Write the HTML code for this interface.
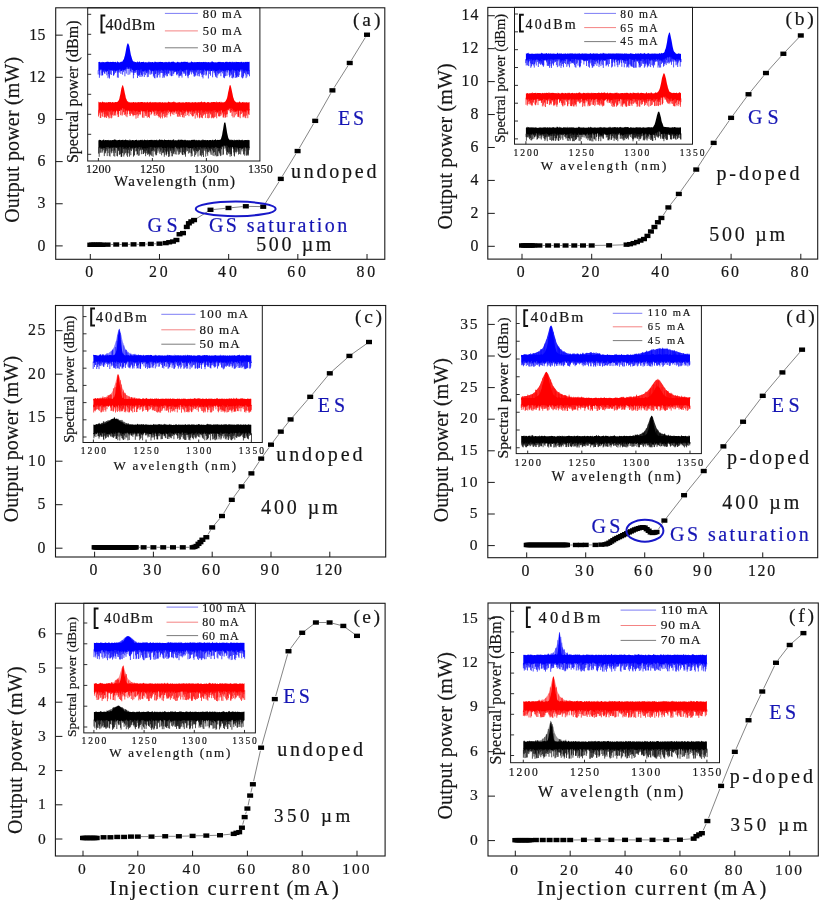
<!DOCTYPE html>
<html><head><meta charset="utf-8"><style>
html,body{margin:0;padding:0;background:#fff;}
svg{display:block;filter:blur(0.35px);}
text{font-family:'Liberation Serif', serif;}
</style></head><body>
<svg width="824" height="904" viewBox="0 0 824 904">
<rect width="824" height="904" fill="#fff"/>
<path d="M98.4 62.1 98.9 62.1 99.4 61.8 99.9 62 100.4 62.3 100.9 62.5 101.4 62.2 101.9 61.9 102.4 61.7 102.9 62.4 103.4 62.1 103.9 61.9 104.4 62.4 104.9 61.9 105.4 62.3 105.9 62 106.4 61.7 106.9 62.1 107.4 61.8 107.9 61.6 108.4 62.1 108.9 61.7 109.4 62.1 109.9 62.3 110.4 61.8 110.9 61.9 111.4 61.9 111.9 62 112.4 61.8 112.9 61.9 113.4 61.8 113.9 61.9 114.4 62.1 114.9 62.2 115.4 61.8 115.9 61.9 116.4 62.5 116.9 62.4 117.4 60.8 117.9 62.3 118.4 62.2 118.9 62 119.4 62.4 119.9 62.4 120.4 61.9 120.9 61.8 121.4 61.6 121.9 62.1 122.4 61.5 122.9 60.5 123.4 59.8 123.9 59 124.4 56.9 124.9 55.4 125.4 52.9 125.9 50.2 126.4 47.4 126.9 45.3 127.4 43.8 127.9 43.2 128.4 43.7 128.9 44.9 129.4 46.6 129.9 49.5 130.4 52.3 130.9 55 131.4 56.6 131.9 58.3 132.4 59.8 132.9 60.9 133.4 61.6 133.9 61.6 134.4 61.6 134.9 62.3 135.4 61.9 135.9 61.9 136.5 62.2 137 62.4 137.5 60.9 138 62.3 138.5 62.2 139 61.7 139.5 61.2 140 62.2 140.5 62.5 141 62.1 141.5 62.1 142 61.9 142.5 62.1 143 62 143.5 61.8 144 61.8 144.5 62.4 145 62.4 145.5 62.1 146 62.3 146.5 62.3 147 62.5 147.5 62.3 148 62.4 148.5 62.1 149 61.3 149.5 62.3 150 62.3 150.5 62.1 151 62.3 151.5 62.2 152 61.9 152.5 62.1 153 61.9 153.5 62.4 154 62.5 154.5 61.9 155 61.2 155.5 62 156 62.1 156.5 62.1 157 62.4 157.5 61.8 158 62.4 158.5 61.9 159 61.8 159.5 61.9 160 62 160.5 61.8 161 62.1 161.5 62.1 162 62 162.5 61.9 163 62.1 163.5 62.4 164 62.3 164.5 62 165 62.5 165.5 61.9 166 61.8 166.5 62.3 167 62 167.5 62.4 168 62.1 168.5 62.2 169 61.2 169.5 62.2 170 61.9 170.5 62.4 171 62.1 171.5 62.1 172 61.5 172.5 61.8 173 62 173.5 61.2 174 62.3 174.5 62 175 62.5 175.5 62.4 176 62.4 176.5 62.4 177 62.3 177.5 61.8 178 61.7 178.5 62.2 179 62.2 179.5 62.2 180 62.5 180.5 62.3 181 62.2 181.5 61.8 182 61.8 182.5 62.1 183 62.2 183.5 61.8 184 61.7 184.5 62.1 185 61.2 185.5 62.1 186 61.9 186.5 61.9 187 61.7 187.5 61.8 188 62.4 188.5 62.5 189 62.4 189.5 62.5 190 62.4 190.5 62.5 191 61.8 191.5 61.3 192 62.1 192.5 61.9 193 62.3 193.5 62.5 194 61.8 194.5 62.2 195 62.2 195.5 62.2 196 61.9 196.5 62.3 197 62 197.5 62 198 62.1 198.5 62.1 199 62.3 199.5 61.8 200 62.3 200.5 61.9 201 62.2 201.5 62.1 202 62 202.5 62.3 203 62.1 203.5 62.1 204 61.8 204.5 62.3 205 62 205.5 61.8 206 62.4 206.5 62.1 207 62 207.5 62.4 208 62 208.5 62 209 62.3 209.5 62.2 210 62.4 210.5 62.1 211 62.5 211.5 61.8 212.1 61 212.6 61.8 213.1 62.3 213.6 61.9 214.1 62.3 214.6 62.5 215.1 62.1 215.6 62.4 216.1 62.2 216.6 62.4 217.1 62.2 217.6 62.3 218.1 61.8 218.6 62 219.1 62 219.6 61.7 220.1 62.2 220.6 61.7 221.1 62.3 221.6 61.9 222.1 62.2 222.6 61.9 223.1 61.9 223.6 62.1 224.1 62.4 224.6 62.5 225.1 61.7 225.6 62 226.1 61.9 226.6 61.4 227.1 62.3 227.6 61.8 228.1 61.9 228.6 62.2 229.1 62.1 229.6 61.7 230.1 62.1 230.6 61.8 231.1 62.5 231.6 61.9 232.1 61.6 232.6 62.1 233.1 62.4 233.6 61.8 234.1 62.3 234.6 61.8 235.1 62.5 235.6 61.7 236.1 61.9 236.6 61.7 237.1 61.9 237.6 62 238.1 62 238.6 61.9 239.1 62 239.6 62.3 240.1 61.8 240.6 62.2 241.1 62 241.6 61.8 242.1 61.8 242.6 62.4 243.1 62.2 243.6 62 244.1 61.7 244.6 62.5 245.1 61.9 245.6 61.8 246.1 62.3 246.6 61.8 247.1 62.1 247.6 61.8 248.1 62.1 248.6 61.9 249.1 61.6 249.6 62.3 249.6 71.3 249.1 70.6 248.6 70.7 248.1 71.1 247.6 71.5 247.1 70.4 246.6 71.3 246.1 70.6 245.6 70.4 245.1 70.1 244.6 70.8 244.1 70.8 243.6 70.2 243.1 71.1 242.6 70.4 242.1 69.5 241.6 69.6 241.1 70.6 240.6 69.7 240.1 69.5 239.6 71.1 239.1 70.5 238.6 70.9 238.1 70.8 237.6 70 237.1 69.9 236.6 71.1 236.1 70.3 235.6 70.9 235.1 70.7 234.6 70.3 234.1 70.8 233.6 70.3 233.1 70 232.6 69.6 232.1 69.8 231.6 70.2 231.1 71.2 230.6 70.3 230.1 70.9 229.6 71.2 229.1 71 228.6 69.9 228.1 70.4 227.6 70 227.1 70.6 226.6 70.1 226.1 70.7 225.6 70.4 225.1 71.1 224.6 69.8 224.1 70.5 223.6 71.3 223.1 71.1 222.6 71 222.1 69.7 221.6 70.9 221.1 69.7 220.6 70.6 220.1 69.7 219.6 69.6 219.1 71.4 218.6 69.7 218.1 71.5 217.6 70.2 217.1 70.9 216.6 71.4 216.1 71.1 215.6 71.1 215.1 70.9 214.6 70.4 214.1 70 213.6 70.4 213.1 69.8 212.6 69.6 212.1 71.3 211.5 71 211 71.1 210.5 70.5 210 69.3 209.5 71 209 71.1 208.5 70.5 208 70.2 207.5 70.1 207 71.4 206.5 70 206 71.3 205.5 70.6 205 70.1 204.5 69.6 204 70.9 203.5 70.8 203 70 202.5 70.5 202 69.5 201.5 71.3 201 70 200.5 70.1 200 70.2 199.5 70.7 199 69.5 198.5 70.1 198 70.1 197.5 70.8 197 69.5 196.5 69.9 196 71.3 195.5 69.7 195 70.6 194.5 69.9 194 71 193.5 69.8 193 71.5 192.5 70.2 192 70.3 191.5 69.6 191 70.3 190.5 70.6 190 70.3 189.5 70.5 189 70.4 188.5 69.5 188 69.4 187.5 70.2 187 69.4 186.5 70 186 70.5 185.5 70.1 185 70.2 184.5 70.4 184 69.7 183.5 71 183 70.7 182.5 71.4 182 71.3 181.5 70.1 181 69.9 180.5 69.4 180 70.8 179.5 70.2 179 70.8 178.5 71.4 178 70.7 177.5 70.3 177 70.9 176.5 71 176 71.3 175.5 71 175 69.9 174.5 70.4 174 70.7 173.5 71.1 173 69.7 172.5 70.9 172 71.2 171.5 70.2 171 70 170.5 71.4 170 71.5 169.5 69.7 169 70.4 168.5 69.5 168 70.4 167.5 69.6 167 70.8 166.5 70.2 166 70.2 165.5 69.9 165 69.6 164.5 69.8 164 70 163.5 70.9 163 70.6 162.5 70.7 162 69.7 161.5 70.1 161 69.7 160.5 69.6 160 70.7 159.5 70.8 159 69.4 158.5 71.3 158 70 157.5 71.1 157 70.3 156.5 71.4 156 69.4 155.5 70.5 155 70.4 154.5 70.4 154 70.6 153.5 71.2 153 71.2 152.5 70.5 152 70.7 151.5 70.5 151 70.4 150.5 71.1 150 69.6 149.5 70 149 69.4 148.5 71 148 69.5 147.5 71.3 147 70.5 146.5 71.3 146 70.7 145.5 69.8 145 71.4 144.5 70.6 144 70.7 143.5 70.9 143 71.3 142.5 71 142 70.8 141.5 69.7 141 69.3 140.5 69.7 140 71.1 139.5 70.3 139 69.8 138.5 70.3 138 70 137.5 69.4 137 70.3 136.5 70 135.9 70.2 135.4 70.3 134.9 71.4 134.4 71.1 133.9 69.9 133.4 71.1 132.9 70 132.4 69.7 131.9 70.2 131.4 69 130.9 68.2 130.4 69.2 129.9 67.9 129.4 67.1 128.9 68.6 128.4 68.1 127.9 68.4 127.4 66.7 126.9 67.6 126.4 69 125.9 69.4 125.4 68.7 124.9 69.8 124.4 70.2 123.9 71 123.4 70.1 122.9 70.7 122.4 69.3 121.9 70.8 121.4 71.2 120.9 70.5 120.4 69.4 119.9 69.3 119.4 69.9 118.9 70.5 118.4 69.7 117.9 71.1 117.4 69.8 116.9 70.2 116.4 71.4 115.9 70.9 115.4 71.1 114.9 69.7 114.4 70.4 113.9 70.1 113.4 70.6 112.9 70 112.4 69.8 111.9 70.7 111.4 69.8 110.9 71.1 110.4 69.8 109.9 70.7 109.4 69.7 108.9 69.7 108.4 69.5 107.9 71.4 107.4 71 106.9 70.2 106.4 71.3 105.9 71.2 105.4 71.2 104.9 69.5 104.4 70 103.9 71.5 103.4 70.3 102.9 70.7 102.4 70.3 101.9 69.8 101.4 69.3 100.9 70.7 100.4 69.4 99.9 69.5 99.4 70.7 98.9 70.6 98.4 71.3Z" fill="#0000ff"/>
<path d="M98.2 70.3V74.5M99.4 69.7V77.8M99.8 68.5V75.3M101.3 68.3V75.6M102.1 68.8V73.1M102.5 69.3V75.4M102.7 69.7V75.2M103.6 69.3V72.2M104.5 69V73.3M104.9 68.5V73.9M105.3 70.2V70.7M105.9 70.2V71.9M106.4 70.3V72.2M106.8 69.2V75.3M107.5 70V70.9M108 70.4V78.2M108.5 68.5V74.1M109 68.7V76.7M109.5 68.7V78.5M110.4 68.8V74.3M111.4 68.8V75M112.5 68.8V71.1M113.5 69.6V75.5M113.7 69.1V75.5M114.4 69.4V74.4M115 68.7V71.1M115.3 70.1V72.7M115.8 69.9V72.7M117.4 68.8V77.5M118 70.1V72.6M118.3 68.7V77.8M118.9 69.5V71.7M119.8 68.3V72.7M120.6 68.4V71.2M120.9 69.5V74M121.2 70.2V71M122.6 68.3V74.7M123.4 69.1V72.1M124.9 68.8V76.3M125.6 67.7V70.7M126.3 68V73.6M127.5 65.7V68.8M128.1 67.4V74.9M128.5 67.1V69M129.3 66.1V69M129.8 66.9V74.5M130.5 68.2V71.2M131 67.2V72.7M131.9 69.2V72.1M133 69V72.8M133.4 70.1V78.3M133.8 68.9V75M134.3 70.1V73M134.9 70.4V71.4M135.4 69.3V72.8M136.1 69.2V72.3M137.1 69.3V74.5M137.5 68.4V78M138 69V75.2M138.6 69.3V76M139.1 68.8V74.8M139.6 69.3V74.9M139.8 70.1V76.9M140.4 68.7V72.7M141.1 68.3V76.9M141.3 68.7V74.7M141.8 69.8V74.8M142.5 70V76.4M143.3 69.9V72M143.9 69.7V74.3M144.3 69.6V77M145.6 68.8V75.1M145.9 69.7V71.9M146.5 70.3V73.3M147 69.5V72.9M147.3 70.3V77.2M148 68.5V72M148.3 70V76.9M148.9 68.4V73.7M150.1 68.6V74.7M151.1 69.4V74.4M151.6 69.5V72.7M151.9 69.7V74M152.3 69.5V71.3M153.4 70.2V76.6M153.9 69.6V75.2M154.4 69.4V78M155 69.4V78.4M155.5 69.5V74M156.1 68.4V73.6M157 69.3V77.7M157.4 70.1V77.4M157.9 69V72.5M158.3 70.3V75.2M159 68.4V72.5M159.7 69.8V74.4M159.9 69.7V77.5M160.6 68.6V71.3M160.8 68.7V73M161.4 69.1V72.9M162.4 69.7V73M162.9 69.6V78M163.6 69.9V76.5M163.9 69V73.4M164.4 68.8V77.6M164.8 68.6V74.9M165.3 68.9V72.7M165.8 69.2V75.5M166.5 69.2V74.2M166.9 69.8V76.4M167.4 68.6V76.1M168.1 69.4V73M168.6 68.5V73.9M168.9 69.4V73.1M169.3 68.7V70.9M170.1 70.5V75.3M171.2 69V76.1M171.6 69.2V76.2M172.8 68.7V75.8M173.3 70.1V73.9M174 69.7V73.4M174.5 69.4V72M175.1 68.9V72.1M175.4 70V71.4M176 70.3V72M176.6 70V75.2M176.9 69.9V73.9M177.3 69.3V74M178 69.7V75.4M178.3 70.4V72.8M179 69.8V77.7M179.4 69.2V76.1M180.2 69.8V75.7M180.7 68.4V75.4M181.1 68.9V75.8M181.4 69.1V74.1M182 70.3V77.6M183 69.7V71.8M183.7 70V73.7M183.9 68.7V72.3M184.3 69.4V72.7M184.9 69.2V74M185.5 69.1V75.9M186.1 69.5V75.3M187.2 68.4V73.6M187.6 69.2V76.4M188.1 68.4V78.2M188.5 68.5V75.7M188.9 69.4V73.8M189.4 69.5V75M189.9 69.3V73.4M190.3 69.6V71.7M191.1 69.3V71.5M191.6 68.6V74.4M192.2 69.3V72.1M193 70.5V72.8M193.6 68.8V73.9M194 70V76.4M194.7 68.9V76.7M195 69.6V75.3M195.7 68.7V75.7M196 70.3V71.7M196.4 68.9V72.6M197.2 68.5V75.4M198 69.1V76.2M198.7 69.1V74M199.4 69.7V76.4M200.1 69.2V73.1M200.8 69V73.4M201.5 70.3V74.7M202.2 68.5V77M202.6 69.5V73.9M203 69V78.4M203.7 69.8V75.1M203.9 69.9V72.2M204.9 69.1V74.7M205.6 69.6V70.7M206 70.3V75.7M206.5 69V74.6M206.9 70.4V71.1M207.9 69.2V71.3M208.4 69.5V78.5M209.7 70V74.1M210.1 68.3V71.1M210.5 69.5V75.7M212.6 68.6V77.3M212.9 68.8V70.8M213.5 69.4V71.3M214.1 69V73.3M214.7 69.4V72.5M215.2 69.9V75M215.5 70.1V76.6M216.2 70.1V77.2M217 69.9V78.1M217.7 69.2V72.8M217.9 70.5V75.4M218.6 68.7V73.8M219.1 70.4V73.7M219.7 68.6V73M220 68.7V71.5M220.7 69.6V72.5M220.9 68.7V76.2M221.5 69.9V71.9M222.1 68.7V70.6M222.6 70V73.4M223.5 70.3V77.6M224.3 69.5V71.6M224.5 68.8V78.2M224.9 70.1V76.3M225.7 69.4V76.1M226 69.7V72.2M227 69.6V75.8M227.6 69V72.5M229.1 70V74.8M229.6 70.2V77.3M230 69.9V76M230.6 69.3V72.6M230.9 70.2V74.9M231.6 69.2V74.4M231.9 68.8V78M232.7 68.6V78.4M233.3 69V76.6M233.4 69.3V77.5M234.7 69.3V72.7M235.2 69.7V78M235.8 69.9V74.9M236.2 69.3V77.6M236.6 70.1V77.1M237 68.9V77.5M237.4 69V75.9M238.1 69.8V76.9M238.7 69.9V77M239.2 69.5V75.2M239.5 70.1V72M240 68.5V70.9M241 69.6V71.7M241.6 68.6V77.4M242.5 69.4V78.4M243.2 70.1V77.6M243.6 69.2V76.1M244 69.8V73.5M244.6 69.8V73M244.9 69.1V72.2M245.4 69.4V74.5M246.1 69.6V78.1M246.8 70.3V72.3M247 69.4V76.6M247.5 70.5V74.1M248.2 70.1V74.2M248.6 69.7V74.5M249.5 70.3V76.3" stroke="#0000ff" stroke-width="0.7" fill="none"/>
<path d="M98.4 102.3 98.9 101.6 99.4 102.5 99.9 102.3 100.4 102.3 100.9 101.9 101.4 102.4 101.9 102.5 102.4 101.3 102.9 102 103.4 102.2 103.9 102.3 104.4 102.2 104.9 102.3 105.4 102.5 105.9 102.4 106.4 102.5 106.9 102.1 107.4 102.5 107.9 102.6 108.4 102.1 108.9 102 109.4 102.2 109.9 102 110.4 102.1 110.9 102.3 111.4 102.6 111.9 102.5 112.4 102.1 112.9 102.1 113.4 102.7 113.9 101.9 114.4 102.6 114.9 102.3 115.4 102.1 115.9 102 116.4 102 116.9 102.3 117.4 101.7 117.9 101.6 118.4 100.7 118.9 100.1 119.4 98.5 119.9 96.1 120.4 93.9 120.9 91 121.4 88.2 121.9 86.8 122.4 85.5 122.9 85.1 123.4 86.8 123.9 88.5 124.4 91 124.9 93.4 125.4 95.4 125.9 98.3 126.4 99 126.9 100.5 127.4 101.2 127.9 101.5 128.4 101.8 128.9 102.5 129.4 102 129.9 102.6 130.4 102.6 130.9 102.3 131.4 102.4 131.9 102.3 132.4 102.5 132.9 102.2 133.4 102.1 133.9 101.9 134.4 102.6 134.9 102.6 135.4 102 135.9 102.4 136.5 102.4 137 102.2 137.5 102.5 138 102.1 138.5 101.9 139 102.6 139.5 102.1 140 102.6 140.5 101.9 141 102 141.5 102.1 142 102.1 142.5 102 143 102.3 143.5 102.5 144 102.3 144.5 102.2 145 102.1 145.5 102.6 146 102.4 146.5 102.4 147 101.9 147.5 101.7 148 102.4 148.5 102.7 149 101.9 149.5 102.3 150 102.2 150.5 101.5 151 102.7 151.5 102.2 152 102.4 152.5 102.1 153 102.6 153.5 102.2 154 102.3 154.5 102.3 155 102.2 155.5 102.3 156 102.1 156.5 102.5 157 102.3 157.5 102.2 158 102.7 158.5 102.3 159 102.1 159.5 102.2 160 102.2 160.5 102.3 161 102.2 161.5 102.7 162 102.3 162.5 102.1 163 102.4 163.5 102.7 164 102.2 164.5 102.5 165 102.3 165.5 102.4 166 102.2 166.5 102.6 167 102.7 167.5 102.6 168 102.1 168.5 101.6 169 102 169.5 102.3 170 102 170.5 102.6 171 102.2 171.5 102.5 172 102.1 172.5 102 173 102.6 173.5 101.8 174 101.3 174.5 102.3 175 102.3 175.5 102.2 176 102.5 176.5 102.7 177 102.5 177.5 102.5 178 102.4 178.5 102 179 102.7 179.5 102 180 102 180.5 102.7 181 102.4 181.5 102.5 182 102.5 182.5 102.2 183 102.4 183.5 102.3 184 102.4 184.5 102.7 185 102.6 185.5 101.9 186 102.4 186.5 102 187 102 187.5 102.4 188 102.2 188.5 101.9 189 102.4 189.5 102 190 102.6 190.5 102.4 191 102.5 191.5 102.4 192 102.3 192.5 102.1 193 102.4 193.5 102.4 194 102.2 194.5 102.6 195 102 195.5 102.2 196 102.1 196.5 102.6 197 102.7 197.5 102.3 198 102.3 198.5 102.1 199 102.6 199.5 102 200 102.6 200.5 101.9 201 102.1 201.5 101.1 202 102.5 202.5 102.1 203 102.6 203.5 102 204 102.3 204.5 101.8 205 102.1 205.5 102.4 206 102.5 206.5 102.7 207 102.6 207.5 102.1 208 102.1 208.5 101.9 209 102.6 209.5 102.6 210 102.4 210.5 102.6 211 102.5 211.5 102.1 212.1 101.9 212.6 102.2 213.1 102 213.6 102 214.1 101.9 214.6 102.1 215.1 102.2 215.6 102 216.1 102.7 216.6 101.1 217.1 102.5 217.6 102.1 218.1 102.3 218.6 102.2 219.1 102 219.6 102 220.1 101.5 220.6 102.5 221.1 102.7 221.6 101.4 222.1 102.7 222.6 101.9 223.1 102.5 223.6 102.2 224.1 102.2 224.6 102.1 225.1 101.6 225.6 101.2 226.1 100.1 226.6 99.3 227.1 97.8 227.6 95.4 228.1 92.5 228.6 90.5 229.1 88.1 229.6 85.4 230.1 85.1 230.6 85.6 231.1 87.2 231.6 89.4 232.1 91.9 232.6 94.2 233.1 97.1 233.6 98.3 234.1 100 234.6 100.7 235.1 101.4 235.6 101.7 236.1 101.9 236.6 102.4 237.1 102.4 237.6 102.3 238.1 102.2 238.6 102.6 239.1 101.9 239.6 101.3 240.1 101.9 240.6 102.4 241.1 102.7 241.6 102.4 242.1 101.9 242.6 102.3 243.1 101.7 243.6 102.4 244.1 102.4 244.6 102.2 245.1 102.2 245.6 102.6 246.1 102.5 246.6 102.1 247.1 102.6 247.6 102.5 248.1 102.5 248.6 102.5 249.1 102 249.6 102.4 249.6 110.6 249.1 110.2 248.6 111.3 248.1 111.7 247.6 110.3 247.1 110.7 246.6 110.3 246.1 111.7 245.6 112 245.1 110.7 244.6 111.8 244.1 111.8 243.6 111.9 243.1 110.4 242.6 111 242.1 112 241.6 110.3 241.1 111.1 240.6 110.2 240.1 111.1 239.6 110.7 239.1 110.6 238.6 111.5 238.1 110.8 237.6 111.7 237.1 110.2 236.6 111.7 236.1 111 235.6 112 235.1 111.4 234.6 111.2 234.1 109.8 233.6 111.2 233.1 110 232.6 109 232.1 108.8 231.6 110 231.1 107.7 230.6 108.5 230.1 108.7 229.6 109.3 229.1 107.9 228.6 109.7 228.1 109.3 227.6 109.9 227.1 109.8 226.6 110.8 226.1 110.1 225.6 111.4 225.1 110.4 224.6 111.7 224.1 111.4 223.6 111.3 223.1 111.4 222.6 112.1 222.1 112.2 221.6 110.1 221.1 110.9 220.6 111.6 220.1 110.1 219.6 111 219.1 110.9 218.6 110.3 218.1 111.7 217.6 112.1 217.1 111.7 216.6 111.5 216.1 111.6 215.6 111.6 215.1 110.1 214.6 110.2 214.1 110.8 213.6 112.2 213.1 110.1 212.6 111.6 212.1 110.7 211.5 111.6 211 111.8 210.5 111 210 110.2 209.5 111.5 209 111.9 208.5 110.5 208 111 207.5 111.9 207 110.2 206.5 112.1 206 111 205.5 111.3 205 110.3 204.5 112 204 112.1 203.5 111.7 203 110.2 202.5 112 202 110.7 201.5 110 201 111.9 200.5 110.3 200 110.9 199.5 112.1 199 110.2 198.5 110.5 198 110.3 197.5 112.2 197 111.5 196.5 110.2 196 111.1 195.5 110.4 195 110.4 194.5 111.4 194 112.1 193.5 111 193 112.2 192.5 110.4 192 110.3 191.5 110.4 191 111.9 190.5 111.7 190 111.1 189.5 111.1 189 110.4 188.5 111.9 188 110.7 187.5 111.7 187 111.8 186.5 110.1 186 110.4 185.5 112.1 185 112.1 184.5 110.7 184 111.2 183.5 110.7 183 110.2 182.5 110 182 111.7 181.5 111.8 181 111.3 180.5 110.9 180 111.9 179.5 111.2 179 111.3 178.5 110.1 178 110.6 177.5 111.9 177 111.2 176.5 110.9 176 111.4 175.5 110.1 175 111.9 174.5 112 174 111.1 173.5 110.8 173 111.4 172.5 110.4 172 112 171.5 111.7 171 112 170.5 111.2 170 111.9 169.5 112.1 169 110.8 168.5 110.3 168 110.1 167.5 110.7 167 110.3 166.5 110.9 166 110.1 165.5 111.6 165 111.1 164.5 110.5 164 110.8 163.5 112.1 163 111.1 162.5 111.4 162 111.9 161.5 110.4 161 111.8 160.5 110.2 160 110.9 159.5 110.7 159 110.8 158.5 110.9 158 111.1 157.5 110.8 157 111.3 156.5 110.4 156 110.2 155.5 111.6 155 110.3 154.5 110.5 154 111.4 153.5 112.2 153 110.7 152.5 111.6 152 110 151.5 112 151 112.1 150.5 112.1 150 110.7 149.5 111.7 149 112 148.5 112.1 148 112.1 147.5 110.2 147 110.2 146.5 111.8 146 110.9 145.5 112.1 145 111.1 144.5 111.6 144 110.9 143.5 111.4 143 111.4 142.5 111.2 142 111.3 141.5 110.4 141 111.6 140.5 110 140 111.9 139.5 111.9 139 111.6 138.5 111.9 138 111.2 137.5 110.5 137 110.9 136.5 110.9 135.9 110.9 135.4 111.9 134.9 110.7 134.4 110.9 133.9 110.6 133.4 110.6 132.9 110.3 132.4 111.1 131.9 110.8 131.4 112.1 130.9 110.9 130.4 110.5 129.9 111 129.4 111.3 128.9 111.5 128.4 110.5 127.9 110.5 127.4 111.9 126.9 110.5 126.4 110.6 125.9 111.4 125.4 110.6 124.9 110.2 124.4 108.8 123.9 109.1 123.4 108.8 122.9 108.2 122.4 108.3 121.9 109.6 121.4 109.9 120.9 109.6 120.4 109.5 119.9 111.1 119.4 111.1 118.9 111 118.4 110.7 117.9 111.8 117.4 111.4 116.9 110.4 116.4 111.1 115.9 111.9 115.4 112 114.9 111.4 114.4 110.5 113.9 111.7 113.4 111.1 112.9 111.4 112.4 110.8 111.9 110 111.4 110.4 110.9 110.4 110.4 112.1 109.9 110.5 109.4 110.8 108.9 110.4 108.4 110.9 107.9 111.1 107.4 110.1 106.9 111.1 106.4 110.3 105.9 110.8 105.4 112.1 104.9 110.1 104.4 111.3 103.9 111.8 103.4 110.4 102.9 110.3 102.4 112.1 101.9 112 101.4 110.9 100.9 110.2 100.4 112 99.9 110.3 99.4 111.3 98.9 110.6 98.4 111.5Z" fill="#ff0000"/>
<path d="M98.5 110.5V116.5M99.1 109.6V114.6M99.5 110.3V112.8M100.3 111V118M100.8 109.2V117.8M101.6 109.9V112.5M102 111V112.9M102.2 111.1V116.1M102.9 109.3V117M103.4 109.4V112.3M104 110.8V114.3M104.5 110.3V117.4M105 109.1V117.5M105.4 111.1V116.8M105.9 109.8V113.9M106.5 109.3V118M106.9 110.1V115.4M107.4 109.1V116.3M107.8 110.1V115.3M108.4 109.9V117.2M109 109.4V118.5M109.4 109.8V112.1M110 109.5V118M110.3 111.1V114.5M111.1 109.4V115.6M111.3 109.4V118.4M111.9 109V117.6M112.5 109.8V114.8M113 110.4V112.2M113.3 110.1V115.7M114.6 109.5V115.5M114.9 110.4V115.2M115.3 111V113.2M115.8 110.9V115.6M117.6 110.4V114.5M118.1 110.8V117.1M118.6 109.7V116.8M118.7 110V113.7M119.8 110.1V110.4M120.6 108.5V115.2M121.1 108.6V110.5M122.1 108.6V115.7M122.2 107.3V114.6M123.5 107.8V112.3M123.9 108.1V111.9M124.2 107.8V114.7M124.9 109.2V115M125.6 109.6V114M125.9 110.4V116.2M127 109.5V117.2M127.6 110.9V114.3M129.6 110.3V114M130 110V115.9M130.3 109.5V115.6M131 109.9V113.1M131.6 111.1V113.9M132.1 109.8V112.4M132.5 110.1V114.6M133.1 109.3V116.3M133.3 109.6V115.3M134 109.6V115M134.4 109.9V115.2M135.1 109.7V112.7M135.6 110.9V115.2M136 109.9V118.7M136.6 109.9V114.7M137 109.9V111.3M137.6 109.5V114.2M137.9 110.2V117.9M138.4 110.9V115.7M139.1 110.6V112M139.4 110.9V114.1M140.1 110.9V115.2M140.6 109V114.1M140.9 110.6V111.8M142.4 110.2V116.9M142.8 110.4V118M144 109.9V117.7M144.8 110.1V112.7M145.3 111.1V116M145.8 109.9V114.4M146.4 110.8V116.2M146.9 109.2V113.4M147.3 109.2V117.7M148.2 111.1V112.1M148.5 111.1V117M148.8 111V116.5M149.4 110.7V118.1M150.1 109.7V111.7M150.6 111.1V111.6M151 111.1V115.2M151.5 111V113.9M151.9 109V113.4M153.1 109.7V112.2M154.1 110.4V115.4M154.3 109.5V114M155 109.3V116M155.9 109.2V113.5M156.6 109.4V115.1M157.2 110.3V115.8M157.5 109.8V113.9M158.1 110.1V112.2M158.5 109.9V116.1M159 109.8V117.6M159.4 109.7V116.9M160 109.9V114.1M160.5 109.2V118.4M161.1 110.8V112.6M161.5 109.4V112.5M161.9 110.9V116.9M162.4 110.4V118.4M162.8 110.1V114.4M163.5 111.1V113.8M163.9 109.8V116.2M164.6 109.5V117.7M165 110.1V113.4M165.6 110.6V117.1M166.2 109.1V112.6M166.3 109.9V115.3M166.9 109.3V117.5M167.4 109.7V111.9M167.8 109.1V114.8M168.6 109.3V113.2M170.2 110.9V114.2M170.6 110.2V116.3M171.6 110.7V113.4M172.6 109.4V114.4M173.1 110.4V111.7M173.3 109.8V112.4M173.9 110.1V114.9M174.7 111V112.8M175.3 109.1V111.4M176.1 110.4V114.1M176.4 109.9V113.4M177.4 110.9V116.5M178.1 109.6V117M178.6 109.1V114.1M179.1 110.3V116.3M179.7 110.2V115.6M180.1 110.9V117M180.6 109.9V111.9M181.2 110.3V112.4M181.4 110.8V115M182.1 110.7V113.7M182.4 109V117M183 109.2V117.5M183.5 109.7V114.9M184.2 110.2V117.6M184.6 109.7V113.1M185 111.1V113.6M185.8 109.4V116M186.4 109.1V111.6M187.4 110.7V115.1M187.8 109.7V112.4M188.6 110.9V113.4M188.9 109.4V116.2M189.4 110.1V112.3M190.6 110.7V114M191.4 109.4V115.4M192.2 109.3V111.9M192.6 109.4V116.6M192.8 111.2V115.8M193.3 110V116.1M194.2 111.1V114.1M194.6 110.4V113M195.2 109.4V118.6M195.9 110.1V112.8M196.6 109.2V114.8M197.2 110.5V115.7M197.4 111.2V117.6M197.9 109.3V111.6M198.5 109.5V112.9M199.2 109.2V117.4M199.5 111.1V118.3M199.9 109.9V116.8M200.5 109.3V114.8M201.1 110.9V117.8M201.6 109V117.3M202.5 111V118.2M202.9 109.2V113M203.4 110.7V115.7M203.9 111.1V114.7M204.4 111V113.9M205.1 109.3V114.6M205.4 110.3V117.9M206.5 111.1V113.8M206.9 109.2V112.1M207.4 110.9V118.1M208 110V114M208.6 109.5V118.3M208.9 110.9V113.1M209.7 110.5V117.8M210.2 109.2V113.1M210.7 110V114.5M210.9 110.8V114.1M211.7 110.6V118.3M212 109.7V117.7M212.7 110.6V116.9M212.9 109.1V117.7M213.6 111.2V118.3M214 109.8V112.8M214.4 109.2V117.4M215.1 109.1V117M215.5 110.6V112.1M216.1 110.6V115.7M216.7 110.5V118.3M217.2 110.7V113.5M217.5 111.1V112.6M218.1 110.7V111.8M218.5 109.3V116.1M219.1 109.9V116.7M219.7 110V116.2M220 109.1V116.2M220.4 110.6V113.9M221 109.9V115.6M221.9 111.2V114.5M222.6 111.1V113.2M223.2 110.4V117.3M223.4 110.3V117.5M224 110.4V115.7M224.7 110.7V114.2M225 109.4V117.8M225.5 110.4V117.4M226 109.1V115M226.4 109.8V114.1M226.9 108.8V117.2M227.4 108.9V114.2M228.5 108.7V110.1M229.1 106.9V111.2M230.3 107.7V113M230.7 107.5V111.8M231.2 106.7V112.3M231.5 109V110.2M232 107.8V116.1M232.7 108V111M233 109V117.5M233.7 110.2V112.3M234.3 108.8V117.3M234.7 110.2V111.9M235.7 111V115.4M236.3 110V111.4M236.7 110.7V114M237.8 110.7V116.9M238.3 109.8V115.3M238.5 110.5V116.7M238.9 109.6V117.2M240.2 110.1V118.2M240.4 109.2V114.5M241.5 109.3V113.9M242.5 110V112.7M243 109.4V117.4M243.7 110.9V115.9M243.9 110.8V117.2M244.8 110.8V115.9M245.2 109.7V117.7M245.8 111V118.2M246 110.7V112.5M246.6 109.3V115.6M247.8 109.3V118.2M248.3 110.7V113.6M248.5 110.3V114.3M249.2 109.2V114.9" stroke="#ff0000" stroke-width="0.7" fill="none"/>
<path d="M98.4 139.9 98.9 140.4 99.4 139.8 99.9 139.8 100.4 139.9 100.9 139.9 101.4 140.4 101.9 140.4 102.4 140.3 102.9 140.1 103.4 140 103.9 139.1 104.4 140.5 104.9 140.3 105.4 140.1 105.9 140.1 106.4 140.2 106.9 140.1 107.4 139.9 107.9 140.2 108.4 140.3 108.9 139.8 109.4 140.2 109.9 140.4 110.4 139.9 110.9 140.3 111.4 140.2 111.9 140.2 112.4 140 112.9 139.9 113.4 139.8 113.9 140.2 114.4 139.7 114.9 138.8 115.4 139.9 115.9 139.8 116.4 140 116.9 140.5 117.4 140.2 117.9 140.1 118.4 139.9 118.9 139.9 119.4 139.9 119.9 139.6 120.4 140.3 120.9 140.3 121.4 140.1 121.9 140 122.4 139.8 122.9 139.9 123.4 139.8 123.9 140.4 124.4 140.1 124.9 140 125.4 139.6 125.9 139.8 126.4 140 126.9 140.3 127.4 140.1 127.9 140.2 128.4 140.3 128.9 140.3 129.4 140.5 129.9 139 130.4 140.3 130.9 140.3 131.4 140.4 131.9 140 132.4 140.1 132.9 140 133.4 140 133.9 140.4 134.4 140.5 134.9 139.9 135.4 140.1 135.9 140.1 136.5 139.7 137 139.8 137.5 140.4 138 140.4 138.5 140.2 139 139.7 139.5 140.4 140 140.1 140.5 140.1 141 139.7 141.5 140 142 140.3 142.5 139.4 143 140.4 143.5 140.3 144 139.9 144.5 139.5 145 140.1 145.5 140 146 140.2 146.5 140.1 147 140.2 147.5 139.5 148 140.4 148.5 140.1 149 140.1 149.5 140 150 139.9 150.5 139.9 151 139.8 151.5 140 152 139.7 152.5 139.9 153 140.2 153.5 140.3 154 139.7 154.5 140.1 155 140.3 155.5 139.9 156 140.1 156.5 139.6 157 140.4 157.5 140.3 158 139.8 158.5 140.3 159 140.3 159.5 139.1 160 139.8 160.5 140.1 161 139.7 161.5 139.8 162 140 162.5 139.8 163 140.2 163.5 140.2 164 140.1 164.5 139.2 165 140 165.5 140 166 140.1 166.5 140.1 167 140.3 167.5 140.1 168 140 168.5 139.7 169 140.1 169.5 140.3 170 139.7 170.5 140.3 171 139.7 171.5 140.3 172 140.4 172.5 139.8 173 140.1 173.5 139.3 174 139.5 174.5 140.4 175 140.4 175.5 140.1 176 140.3 176.5 140.2 177 140.5 177.5 140.2 178 139.8 178.5 140.1 179 139.1 179.5 140.4 180 139.8 180.5 139.8 181 140.1 181.5 139.4 182 139.8 182.5 139.9 183 139.8 183.5 140.2 184 140.3 184.5 139.9 185 139.4 185.5 140 186 140.3 186.5 140.4 187 140 187.5 140.2 188 140.2 188.5 140.3 189 140.5 189.5 140 190 140.4 190.5 140.5 191 139.8 191.5 139.9 192 139.9 192.5 139.7 193 140.1 193.5 139.8 194 139.8 194.5 139.7 195 139.8 195.5 140.3 196 140.4 196.5 139.7 197 140.3 197.5 140.4 198 139.8 198.5 139.9 199 140.4 199.5 139.7 200 140.5 200.5 140.3 201 140.4 201.5 139.7 202 140.4 202.5 139.8 203 139.2 203.5 139.9 204 140.2 204.5 140 205 140 205.5 140.3 206 139.8 206.5 140.4 207 140 207.5 140.1 208 139.9 208.5 140.4 209 140.3 209.5 140 210 139.9 210.5 140.1 211 139.9 211.5 140.5 212.1 140 212.6 139.8 213.1 139.8 213.6 140.4 214.1 140.1 214.6 140.1 215.1 139.7 215.6 139.1 216.1 140 216.6 140.3 217.1 140 217.6 139.8 218.1 140 218.6 139.9 219.1 139.8 219.6 140 220.1 139.8 220.6 139.4 221.1 138.6 221.6 136.7 222.1 135.1 222.6 131.8 223.1 129.3 223.6 125.9 224.1 123.1 224.6 122.5 225.1 122.2 225.6 123.6 226.1 126.4 226.6 129.5 227.1 132.7 227.6 135 228.1 137.2 228.6 138.7 229.1 139.1 229.6 140.1 230.1 140.2 230.6 139.7 231.1 139.2 231.6 140.2 232.1 139.9 232.6 139.8 233.1 140.4 233.6 140.2 234.1 139.3 234.6 140.2 235.1 140.2 235.6 139.9 236.1 140.2 236.6 139.8 237.1 140.1 237.6 139.8 238.1 140.4 238.6 139.8 239.1 139.4 239.6 140.1 240.1 140 240.6 140.3 241.1 139.9 241.6 140.2 242.1 139.2 242.6 140.3 243.1 140 243.6 140.4 244.1 140.3 244.6 139.9 245.1 139.9 245.6 139.9 246.1 140 246.6 140.1 247.1 140.2 247.6 139.8 248.1 140.2 248.6 139.8 249.1 140.2 249.6 140 249.6 148.7 249.1 147.7 248.6 147.8 248.1 147.5 247.6 148.5 247.1 147.5 246.6 148.3 246.1 148.7 245.6 146.9 245.1 148.3 244.6 148.4 244.1 146.9 243.6 148 243.1 147.4 242.6 148.7 242.1 148.8 241.6 147.5 241.1 149 240.6 147.7 240.1 148.1 239.6 147.9 239.1 148.1 238.6 149 238.1 148.2 237.6 149 237.1 147.3 236.6 147.6 236.1 147.9 235.6 146.9 235.1 148.9 234.6 147 234.1 148.3 233.6 147.8 233.1 148.8 232.6 146.9 232.1 147.5 231.6 147.6 231.1 147.4 230.6 147.5 230.1 147.1 229.6 148.5 229.1 148.6 228.6 147.5 228.1 147 227.6 148.1 227.1 145.7 226.6 145.3 226.1 146.5 225.6 145.6 225.1 146.2 224.6 145.8 224.1 145.4 223.6 145.5 223.1 145.8 222.6 147.4 222.1 146.2 221.6 146.6 221.1 147.4 220.6 148 220.1 147.5 219.6 148.7 219.1 147.8 218.6 148.1 218.1 147.8 217.6 148.1 217.1 147.7 216.6 148.9 216.1 147.2 215.6 146.8 215.1 147.2 214.6 147.7 214.1 148.1 213.6 147.4 213.1 148.2 212.6 147 212.1 147.4 211.5 147.4 211 148.6 210.5 147.6 210 148.7 209.5 147.9 209 148.7 208.5 147 208 148.8 207.5 147 207 147.7 206.5 148.2 206 147.6 205.5 146.9 205 147.5 204.5 147.6 204 147.8 203.5 147.1 203 147.7 202.5 147.5 202 148.8 201.5 148.2 201 147.4 200.5 147 200 146.9 199.5 147.2 199 148.2 198.5 148.8 198 146.9 197.5 147.3 197 147.3 196.5 148.5 196 148.9 195.5 147.7 195 148.6 194.5 146.8 194 148.3 193.5 147.3 193 147.7 192.5 148.9 192 148.1 191.5 147.7 191 148.3 190.5 148.1 190 148.1 189.5 148.5 189 148.4 188.5 148.4 188 147.8 187.5 147.2 187 148.2 186.5 147 186 147.1 185.5 147.8 185 148.1 184.5 148.6 184 147.3 183.5 147.4 183 147.3 182.5 148.5 182 147.3 181.5 147.9 181 148.4 180.5 147.3 180 148.2 179.5 149 179 148.4 178.5 148 178 146.9 177.5 147.8 177 147.9 176.5 148.3 176 146.8 175.5 147.1 175 148.4 174.5 146.9 174 148.9 173.5 148.2 173 147.9 172.5 148.1 172 148.9 171.5 147.7 171 147.8 170.5 147.7 170 148.6 169.5 148 169 147.2 168.5 148.4 168 148.8 167.5 147.3 167 148 166.5 148.4 166 147.8 165.5 148.1 165 148 164.5 147.5 164 148.2 163.5 147.9 163 148.6 162.5 148 162 148.4 161.5 146.8 161 147.3 160.5 147.1 160 148.6 159.5 147 159 147.5 158.5 147.7 158 147 157.5 147.5 157 147.4 156.5 147.2 156 147.4 155.5 148.1 155 147.7 154.5 147.2 154 147.9 153.5 147.1 153 148.3 152.5 148.7 152 146.9 151.5 147.2 151 146.9 150.5 147 150 147.4 149.5 148.9 149 147.1 148.5 148 148 149 147.5 147.7 147 148.3 146.5 147.5 146 148.9 145.5 147.9 145 148.7 144.5 148.1 144 148.4 143.5 148.1 143 148.3 142.5 148.9 142 148.8 141.5 146.9 141 148.5 140.5 147.3 140 147.4 139.5 146.9 139 147.1 138.5 148.9 138 148.4 137.5 147.9 137 147.5 136.5 147.2 135.9 148.1 135.4 147.6 134.9 148.8 134.4 147.9 133.9 147.7 133.4 147.3 132.9 147.4 132.4 148.5 131.9 149 131.4 147.4 130.9 148.2 130.4 149 129.9 147 129.4 147 128.9 147.5 128.4 148 127.9 148.6 127.4 147.8 126.9 148.9 126.4 147.3 125.9 147.6 125.4 148.7 124.9 148 124.4 148.6 123.9 146.9 123.4 147.8 122.9 146.9 122.4 147.3 121.9 148.7 121.4 147.4 120.9 147.9 120.4 146.8 119.9 147 119.4 147.2 118.9 147.6 118.4 148.7 117.9 148.4 117.4 146.9 116.9 147.8 116.4 147.9 115.9 147.6 115.4 148.1 114.9 147.1 114.4 147.6 113.9 148 113.4 147 112.9 148.3 112.4 147.6 111.9 148.1 111.4 147.3 110.9 148.9 110.4 147.6 109.9 148.6 109.4 147.7 108.9 148.6 108.4 146.9 107.9 147.7 107.4 147 106.9 147.3 106.4 147.1 105.9 147.8 105.4 147.2 104.9 148.3 104.4 148 103.9 148.6 103.4 147.7 102.9 148 102.4 148.7 101.9 148.9 101.4 148.6 100.9 147.1 100.4 148.6 99.9 147.3 99.4 148.4 98.9 147.3 98.4 148.3Z" fill="#000000"/>
<path d="M98.6 147.3V153.6M99.2 147.4V156.8M100.1 146.3V152.8M100.6 147.6V148.5M100.9 146.1V152.5M101.4 147.6V148.4M102.1 147.9V152.8M102.8 147V151.4M103.3 146.7V149.9M104.3 147V156.1M105 147.3V153.5M105.4 146.2V152.8M105.9 146.8V151.2M106.2 146.1V149.1M107 146.3V150.6M107.2 146V156.1M108.1 146.7V153.1M108.8 147.6V148.6M109.3 146.7V155.9M110 147.6V156.6M111.1 147.9V151.8M111.4 146.3V153.3M112.1 147.1V151M113.1 147.3V152.8M113.8 147V156.1M114.4 146.6V150.6M114.8 146.1V156.6M115.3 147.1V152.9M116.9 146.8V155.9M117.5 145.9V156.4M117.9 147.4V148.6M118.5 147.7V150.8M118.9 146.6V150.6M119.3 146.2V154.6M119.8 146V154.8M120.4 145.8V153.9M121.1 146.9V156.8M121.5 146.4V156.8M121.8 147.7V156.5M122.3 146.3V152.9M122.8 145.9V153.2M123.4 146.8V149M123.8 145.9V156.5M124.4 147.6V154.6M124.8 147V149.3M125.4 147.7V153.3M126.1 146.6V152.6M126.3 146.3V149.6M126.8 147.9V155.5M127.6 146.8V156.9M127.8 147.6V153.1M128.5 147V149.8M128.9 146.5V153.4M129.5 146V156.6M130.3 148V150.4M130.8 147.2V155.2M131.5 146.4V151M132.9 146.4V149.6M133.5 146.3V156.7M133.9 146.7V155.5M134.5 146.9V155.3M135.8 147.1V151.4M136.4 146.2V151.2M137 146.5V154.8M137.5 146.9V154.1M138.3 147.9V155.8M139.3 145.9V155.5M139.8 146.4V150.8M140.5 146.3V149.5M140.9 147.5V150.2M141.4 145.9V154.2M142.4 147.9V150M143.1 147.3V154.1M143.5 147.1V154M143.9 147.4V151.7M144.3 147.1V153.1M144.8 147.7V151.3M145.6 146.9V156.2M145.8 147.9V153.6M146.5 146.5V150.6M146.8 147.3V153.2M147.6 146.7V154.9M148.1 148V152.4M148.3 147V153.7M148.8 146.1V154.3M149.4 147.9V156.5M149.9 146.4V153.5M150.4 146V154.7M151.1 145.9V155.4M151.6 146.2V151.3M151.9 145.9V156.1M152.6 147.7V150.9M153.1 147.3V156.8M153.4 146.1V149.9M153.9 146.9V151.4M154.8 146.7V151.5M155.4 147.1V154.5M156.1 146.4V155.5M156.6 146.2V154.9M157.1 146.4V152.8M157.6 146.5V148.7M158.1 146V150.7M159.1 146.5V152.6M159.4 146V148.6M160 147.6V154M160.6 146.1V151.7M161 146.3V150.2M161.6 145.8V155.3M162.6 147V152.9M163.2 147.6V153.3M163.5 146.9V152.2M164.1 147.2V150M164.3 146.5V156.7M165 147V154.9M165.6 147.1V151.6M166.2 146.8V153.4M166.5 147.4V155.5M166.8 147V153.9M167.4 146.3V150.8M167.9 147.8V152.1M168.5 147.4V156.9M168.8 146.2V154.2M169.6 147V156.5M170.1 147.6V149.5M170.4 146.7V151.3M170.8 146.8V150.5M171.3 146.7V153.1M172 147.9V156.3M172.3 147.1V156.2M173.1 146.9V150.2M173.6 147.2V153.4M173.8 147.9V154.2M174.6 145.9V151.7M175.2 147.4V154.2M176.2 145.8V154.6M176.6 147.3V148.3M177.2 146.9V151.4M177.7 146.8V149.5M178.1 145.9V148.6M178.3 147V154.7M179.1 147.4V151.9M179.4 148V154.3M180.3 146.3V152.3M181 147.4V152.6M182.1 146.3V154.1M182.4 147.5V155.1M182.9 146.3V155M183.4 146.4V152M184.2 146.3V154.7M184.6 147.6V153.2M185.2 147.1V154.2M185.5 146.8V156.7M186 146.1V149.8M186.7 146V151.6M187.6 146.2V151M188.4 147.4V153.6M189.7 147.5V152.4M190 147.1V153.1M191.2 147.3V156.6M191.5 146.7V153.6M192.2 147.1V156M193.1 146.7V149.6M193.6 146.3V150.8M194.2 147.3V151.8M194.6 145.8V156.8M195.1 147.6V150.2M195.6 146.7V155.1M196.2 147.9V153.5M196.7 147.5V151M197 146.3V151.1M197.7 146.3V152.3M198 145.9V156.5M198.6 147.8V151M199.2 147.2V149.7M199.5 146.2V149.7M200.2 145.9V155.7M200.4 146V155.2M201.5 147.2V156.6M202.2 147.8V153.2M202.7 146.5V155.2M203 146.7V148.6M203.5 146.1V157M204.4 146.6V150.7M205 146.5V149.1M205.7 145.9V156.6M206 146.6V151.6M206.6 147.2V149.2M207 146.7V153.7M207.7 146V155.8M207.9 147.8V151.7M208.4 146V152.1M209.5 146.9V150.6M210 147.7V152.6M210.4 146.6V151.3M210.9 147.6V154.6M211.6 146.4V149M212 146.4V154.9M212.5 146V150.5M213.2 147.2V155.9M213.5 146.4V152.7M214.6 146.7V152.1M215 146.2V156.2M215.4 145.8V154.9M216.6 147.9V156.4M217.7 147.1V156.2M217.9 146.8V156.1M218.5 147.1V151.4M219.2 146.8V151.1M219.4 147.7V152.9M220 146.5V154.4M220.4 147V156.1M221.1 146.4V155.5M221.5 145.6V149.2M223 144.8V155.1M223.4 144.5V154.3M224.1 144.4V148.7M225.1 145.2V146.7M225.7 144.6V148.4M226.1 145.5V150.6M226.6 144.3V154.6M227.2 144.7V155.2M227.6 147.1V152.1M227.9 146V152M228.6 146.5V153.4M229.2 147.6V153.9M229.7 147.5V151.9M230.1 146.1V156.7M230.6 146.5V154.3M231.3 146.4V153.9M231.5 146.6V156.1M233.2 147.8V149M233.7 146.8V152.5M234.1 147.3V155.6M234.5 146V156.5M234.9 147.9V150.4M235.4 145.9V152M236.1 146.9V153.4M236.7 146.6V151.5M237 146.3V151.9M238.2 147.2V150.2M238.5 148V154.6M238.9 147.1V151.5M239.6 146.9V154M240.7 146.7V154.5M241.3 148V149.7M241.6 146.5V148.4M242 147.8V151.4M242.5 147.7V148.5M243.6 147V154.5M244 145.9V153.9M244.7 147.4V155.7M245 147.3V151.3M246.3 147.7V155.1M246.9 146.5V156M247.6 147.5V154.9M248.1 146.5V153.8M248.4 146.8V155.5M249 146.7V150.2" stroke="#000000" stroke-width="0.7" fill="none"/>
<line x1="87.70" y1="14.30" x2="91.20" y2="14.30" stroke="#1a1a1a" stroke-width="0.9"/>
<line x1="87.70" y1="34.30" x2="91.20" y2="34.30" stroke="#1a1a1a" stroke-width="0.9"/>
<line x1="87.70" y1="54.30" x2="91.20" y2="54.30" stroke="#1a1a1a" stroke-width="0.9"/>
<line x1="87.70" y1="74.30" x2="91.20" y2="74.30" stroke="#1a1a1a" stroke-width="0.9"/>
<line x1="87.70" y1="94.30" x2="91.20" y2="94.30" stroke="#1a1a1a" stroke-width="0.9"/>
<line x1="87.70" y1="114.30" x2="91.20" y2="114.30" stroke="#1a1a1a" stroke-width="0.9"/>
<line x1="87.70" y1="134.30" x2="91.20" y2="134.30" stroke="#1a1a1a" stroke-width="0.9"/>
<line x1="87.70" y1="154.30" x2="91.20" y2="154.30" stroke="#1a1a1a" stroke-width="0.9"/>
<line x1="98.40" y1="161.00" x2="98.40" y2="158.00" stroke="#1a1a1a" stroke-width="0.9"/>
<line x1="152.40" y1="161.00" x2="152.40" y2="158.00" stroke="#1a1a1a" stroke-width="0.9"/>
<line x1="206.40" y1="161.00" x2="206.40" y2="158.00" stroke="#1a1a1a" stroke-width="0.9"/>
<rect x="87.70" y="7.80" width="172.20" height="153.20" fill="none" stroke="#1a1a1a" stroke-width="1.0"/>
<text x="98.40" y="172.90" font-size="12" fill="#151515" stroke="#151515" stroke-width="0.2" text-anchor="middle" textLength="24.80" lengthAdjust="spacing">1200</text>
<text x="152.40" y="172.90" font-size="12" fill="#151515" stroke="#151515" stroke-width="0.2" text-anchor="middle" textLength="24.80" lengthAdjust="spacing">1250</text>
<text x="206.40" y="172.90" font-size="12" fill="#151515" stroke="#151515" stroke-width="0.2" text-anchor="middle" textLength="24.80" lengthAdjust="spacing">1300</text>
<text x="260.40" y="172.90" font-size="12" fill="#151515" stroke="#151515" stroke-width="0.2" text-anchor="middle" textLength="24.80" lengthAdjust="spacing">1350</text>
<text x="114.10" y="186.40" font-size="15" fill="#151515" stroke="#151515" stroke-width="0.2" textLength="121.00" lengthAdjust="spacing">Wavelength (nm)</text>
<text x="78.40" y="163.10" font-size="16" fill="#151515" stroke="#151515" stroke-width="0.2" textLength="142.60" lengthAdjust="spacing" transform="rotate(-90 78.40 163.10)">Spectral power (dBm)</text>
<path d="M105.30,15.40 H101.50 V32.60 H105.30" fill="none" stroke="#111" stroke-width="2"/>
<text x="105.40" y="29.50" font-size="16" fill="#151515" stroke="#151515" stroke-width="0.2" textLength="49.80" lengthAdjust="spacing">40dBm</text>
<line x1="164.90" y1="13.40" x2="197.90" y2="13.40" stroke="#5050f0" stroke-width="0.75"/>
<text x="202.80" y="17.70" font-size="12.5" fill="#151515" stroke="#151515" stroke-width="0.2" textLength="39.20" lengthAdjust="spacing">80 mA</text>
<line x1="164.90" y1="30.90" x2="197.90" y2="30.90" stroke="#f05a5a" stroke-width="0.75"/>
<text x="202.80" y="34.80" font-size="12.5" fill="#151515" stroke="#151515" stroke-width="0.2" textLength="39.20" lengthAdjust="spacing">50 mA</text>
<line x1="164.90" y1="47.80" x2="197.90" y2="47.80" stroke="#505050" stroke-width="0.75"/>
<text x="202.80" y="51.70" font-size="12.5" fill="#151515" stroke="#151515" stroke-width="0.2" textLength="39.20" lengthAdjust="spacing">30 mA</text>
<line x1="55.70" y1="245.90" x2="62.70" y2="245.90" stroke="#1a1a1a" stroke-width="1.0"/>
<line x1="55.70" y1="203.75" x2="62.70" y2="203.75" stroke="#1a1a1a" stroke-width="1.0"/>
<line x1="55.70" y1="161.60" x2="62.70" y2="161.60" stroke="#1a1a1a" stroke-width="1.0"/>
<line x1="55.70" y1="119.45" x2="62.70" y2="119.45" stroke="#1a1a1a" stroke-width="1.0"/>
<line x1="55.70" y1="77.30" x2="62.70" y2="77.30" stroke="#1a1a1a" stroke-width="1.0"/>
<line x1="55.70" y1="35.15" x2="62.70" y2="35.15" stroke="#1a1a1a" stroke-width="1.0"/>
<line x1="90.30" y1="259.30" x2="90.30" y2="254.00" stroke="#1a1a1a" stroke-width="1.0"/>
<line x1="159.48" y1="259.30" x2="159.48" y2="254.00" stroke="#1a1a1a" stroke-width="1.0"/>
<line x1="228.66" y1="259.30" x2="228.66" y2="254.00" stroke="#1a1a1a" stroke-width="1.0"/>
<line x1="297.84" y1="259.30" x2="297.84" y2="254.00" stroke="#1a1a1a" stroke-width="1.0"/>
<line x1="367.02" y1="259.30" x2="367.02" y2="254.00" stroke="#1a1a1a" stroke-width="1.0"/>
<rect x="55.70" y="7.80" width="329.10" height="251.50" fill="none" stroke="#1a1a1a" stroke-width="1.1"/>
<text x="45.50" y="250.60" font-size="15.8" fill="#151515" stroke="#151515" stroke-width="0.2" text-anchor="end">0</text>
<text x="45.50" y="208.45" font-size="15.8" fill="#151515" stroke="#151515" stroke-width="0.2" text-anchor="end">3</text>
<text x="45.50" y="166.30" font-size="15.8" fill="#151515" stroke="#151515" stroke-width="0.2" text-anchor="end">6</text>
<text x="45.50" y="124.15" font-size="15.8" fill="#151515" stroke="#151515" stroke-width="0.2" text-anchor="end">9</text>
<text x="45.50" y="82.00" font-size="15.8" fill="#151515" stroke="#151515" stroke-width="0.2" text-anchor="end" textLength="16.30" lengthAdjust="spacing">12</text>
<text x="45.50" y="39.85" font-size="15.8" fill="#151515" stroke="#151515" stroke-width="0.2" text-anchor="end" textLength="16.30" lengthAdjust="spacing">15</text>
<text x="89.10" y="277.00" font-size="15.8" fill="#151515" stroke="#151515" stroke-width="0.2" text-anchor="middle">0</text>
<text x="158.28" y="277.00" font-size="15.8" fill="#151515" stroke="#151515" stroke-width="0.2" text-anchor="middle" textLength="18.70" lengthAdjust="spacing">20</text>
<text x="227.46" y="277.00" font-size="15.8" fill="#151515" stroke="#151515" stroke-width="0.2" text-anchor="middle" textLength="18.70" lengthAdjust="spacing">40</text>
<text x="296.64" y="277.00" font-size="15.8" fill="#151515" stroke="#151515" stroke-width="0.2" text-anchor="middle" textLength="18.70" lengthAdjust="spacing">60</text>
<text x="365.82" y="277.00" font-size="15.8" fill="#151515" stroke="#151515" stroke-width="0.2" text-anchor="middle" textLength="18.70" lengthAdjust="spacing">80</text>
<text x="18.60" y="222.80" font-size="20" fill="#151515" stroke="#151515" stroke-width="0.2" textLength="166.00" lengthAdjust="spacing" transform="rotate(-90 18.60 222.80)">Output power (mW)</text>
<path d="M110.8 244.6L113.0 244.5M119.4 244.5L121.7 244.5M128.1 244.4L130.3 244.4M136.7 244.3L139.0 244.3M145.4 244.1L147.6 244.0M154.0 243.8L156.3 243.8M184.7 230.4L185.1 229.7M196.8 218.4L207.8 211.5M213.7 209.5L225.3 208.3M231.7 207.7L242.6 206.6M249.0 206.4L260.0 206.6M264.9 204.0L279.1 181.6M282.4 176.1L295.9 153.8M299.2 148.3L313.6 123.6M316.8 118.1L330.9 93.2M334.1 87.7L348.0 65.7M351.4 60.2L365.3 37.5" fill="none" stroke="#333" stroke-width="0.6"/>
<rect x="87.30" y="242.58" width="6.0" height="4.4" fill="#000"/>
<rect x="89.03" y="242.58" width="6.0" height="4.4" fill="#000"/>
<rect x="90.76" y="242.58" width="6.0" height="4.4" fill="#000"/>
<rect x="92.49" y="242.58" width="6.0" height="4.4" fill="#000"/>
<rect x="94.22" y="242.58" width="6.0" height="4.4" fill="#000"/>
<rect x="95.95" y="242.58" width="6.0" height="4.4" fill="#000"/>
<rect x="97.68" y="242.58" width="6.0" height="4.4" fill="#000"/>
<rect x="99.41" y="242.58" width="6.0" height="4.4" fill="#000"/>
<rect x="104.59" y="242.44" width="6.0" height="4.4" fill="#000"/>
<rect x="113.24" y="242.30" width="6.0" height="4.4" fill="#000"/>
<rect x="121.89" y="242.30" width="6.0" height="4.4" fill="#000"/>
<rect x="130.54" y="242.15" width="6.0" height="4.4" fill="#000"/>
<rect x="139.19" y="242.01" width="6.0" height="4.4" fill="#000"/>
<rect x="147.83" y="241.73" width="6.0" height="4.4" fill="#000"/>
<rect x="156.48" y="241.45" width="6.0" height="4.4" fill="#000"/>
<rect x="162.71" y="240.89" width="6.0" height="4.4" fill="#000"/>
<rect x="166.17" y="240.05" width="6.0" height="4.4" fill="#000"/>
<rect x="169.97" y="239.34" width="6.0" height="4.4" fill="#000"/>
<rect x="173.43" y="237.80" width="6.0" height="4.4" fill="#000"/>
<rect x="176.54" y="232.04" width="6.0" height="4.4" fill="#000"/>
<rect x="180.00" y="230.91" width="6.0" height="4.4" fill="#000"/>
<rect x="183.81" y="224.73" width="6.0" height="4.4" fill="#000"/>
<rect x="185.88" y="221.08" width="6.0" height="4.4" fill="#000"/>
<rect x="188.30" y="219.25" width="6.0" height="4.4" fill="#000"/>
<rect x="191.07" y="217.85" width="6.0" height="4.4" fill="#000"/>
<rect x="207.50" y="207.59" width="6.0" height="4.4" fill="#000"/>
<rect x="225.49" y="205.77" width="6.0" height="4.4" fill="#000"/>
<rect x="242.82" y="204.08" width="6.0" height="4.4" fill="#000"/>
<rect x="260.22" y="204.50" width="6.0" height="4.4" fill="#000"/>
<rect x="277.79" y="176.68" width="6.0" height="4.4" fill="#000"/>
<rect x="294.60" y="148.86" width="6.0" height="4.4" fill="#000"/>
<rect x="312.20" y="118.65" width="6.0" height="4.4" fill="#000"/>
<rect x="329.43" y="88.17" width="6.0" height="4.4" fill="#000"/>
<rect x="346.73" y="60.77" width="6.0" height="4.4" fill="#000"/>
<rect x="364.02" y="32.53" width="6.0" height="4.4" fill="#000"/>
<text x="352.90" y="25.50" font-size="19.5" fill="#151515" stroke="#151515" stroke-width="0.2" textLength="27.50" lengthAdjust="spacing">(a)</text>
<text x="338.00" y="124.90" font-size="20" fill="#1515b4" stroke="#1515b4" stroke-width="0.2" textLength="26.00" lengthAdjust="spacing">ES</text>
<text x="290.90" y="178.30" font-size="20" fill="#151515" stroke="#151515" stroke-width="0.2" textLength="85.50" lengthAdjust="spacing">undoped</text>
<text x="147.40" y="231.90" font-size="20" fill="#1515b4" stroke="#1515b4" stroke-width="0.2" textLength="30.30" lengthAdjust="spacing">GS</text>
<text x="208.90" y="231.90" font-size="20" fill="#1515b4" stroke="#1515b4" stroke-width="0.2" textLength="138.30" lengthAdjust="spacing">GS saturation</text>
<text x="256.20" y="250.80" font-size="20" fill="#151515" stroke="#151515" stroke-width="0.2" textLength="75.20" lengthAdjust="spacing">500 µm</text>
<ellipse cx="235.70" cy="208.90" rx="40.00" ry="7.30" fill="none" stroke="#1818c8" stroke-width="2"/>
<path d="M525.9 53.3 526.4 53.6 526.9 53.8 527.4 53 527.9 53.3 528.4 52.4 528.9 53.9 529.4 53.5 529.9 54 530.4 53.9 530.9 53.6 531.4 53.6 531.9 53.9 532.4 53.4 532.9 53.8 533.4 53.8 533.9 53.9 534.4 53.9 534.9 53.6 535.4 53.4 535.9 54 536.4 53.6 536.9 53.7 537.4 53.3 537.9 53.9 538.4 53.4 538.9 53.8 539.4 53.7 539.9 53.5 540.4 53.7 540.9 53.5 541.4 52.5 541.9 53.6 542.4 53.4 542.9 53 543.4 54 543.9 53.4 544.4 53.6 544.9 53.8 545.4 53.5 545.9 53.4 546.4 53.1 546.9 53.2 547.4 53.9 547.9 53.5 548.4 53.2 548.9 53.6 549.4 53.7 549.9 53.5 550.4 53.3 550.9 53.8 551.4 53.8 551.9 53.4 552.4 53.8 552.9 53.4 553.4 53.2 553.9 53.9 554.4 53.6 554.9 53.7 555.4 54 555.9 53.6 556.4 53.9 556.9 53.5 557.4 52.4 557.9 53.6 558.4 53.7 558.9 53.5 559.4 53.2 559.9 53.8 560.4 53.6 560.9 53.6 561.4 53.3 561.9 53.8 562.4 53.7 562.9 53.9 563.4 53.4 563.9 53.7 564.4 53.7 564.9 53.5 565.4 53.3 565.9 53.8 566.4 54 566.9 53.5 567.4 53.4 567.9 53.4 568.4 53.7 568.9 53.4 569.4 53.6 569.9 53.4 570.4 53.4 570.9 53.2 571.4 53.3 571.9 53.7 572.4 53.2 572.9 53.4 573.4 53.5 573.9 53.9 574.4 53.4 574.9 53.4 575.4 53.9 575.9 52.8 576.4 53.8 576.9 53.9 577.4 53.6 577.9 53.4 578.4 53.7 578.9 53.3 579.4 53.4 579.9 53.2 580.4 53.7 580.9 53.9 581.4 53.8 581.9 53.3 582.4 53.2 582.9 53.7 583.4 53.6 583.9 53.8 584.4 53.4 584.9 53.6 585.4 53.5 585.9 53.5 586.4 53.7 586.9 53.3 587.4 53.9 587.9 53.6 588.4 53.9 588.9 53.5 589.4 53.9 589.9 53.2 590.4 53.2 591 53.3 591.5 53.9 592 53.4 592.5 53.8 593 53.4 593.5 53.6 594 52.7 594.5 53.8 595 54 595.5 53.2 596 53.7 596.5 53.4 597 53.2 597.5 53.6 598 53.7 598.5 53.9 599 53.4 599.5 53.9 600 53.6 600.5 53.3 601 53.7 601.5 53.4 602 53.4 602.5 53.7 603 52.6 603.5 53.3 604 53.2 604.5 53.6 605 53.5 605.5 53.5 606 53.7 606.5 53.4 607 53.7 607.5 53.7 608 53.6 608.5 53.5 609 53.2 609.5 53.7 610 53.3 610.5 53.5 611 53.8 611.5 53.4 612 53.4 612.5 53.6 613 53.4 613.5 53.5 614 53.6 614.5 53.7 615 53.3 615.5 53.8 616 53.5 616.5 53.5 617 53.1 617.5 53.8 618 53.3 618.5 53.4 619 53.5 619.5 53.6 620 53.4 620.5 53.5 621 53.5 621.5 53.4 622 53.7 622.5 53.6 623 53.5 623.5 53.9 624 53.5 624.5 53.3 625 53.7 625.5 53.4 626 53.5 626.5 53.5 627 53.4 627.5 53.8 628 53.9 628.5 53.6 629 54 629.5 53.7 630 53.5 630.5 53.3 631 53.2 631.5 53.6 632 53.8 632.5 53.4 633 53.9 633.5 53.7 634 53.9 634.5 53.9 635 53.9 635.5 53.2 636 53.5 636.5 53.8 637 53.6 637.5 53.7 638 53.3 638.5 53.4 639 53.8 639.5 53.8 640 53.4 640.5 53 641 53.6 641.5 53.3 642 53.9 642.5 53.8 643 53.3 643.5 53.8 644 53.4 644.5 52.8 645 53.6 645.5 53.7 646 53.8 646.5 53.8 647 53.9 647.5 53.5 648 53.1 648.5 53.3 649 53.5 649.5 53.7 650 53.7 650.5 53.8 651 53.7 651.5 53.7 652 53.2 652.5 53.8 653 53.4 653.5 53.7 654 53.4 654.5 53.6 655 53.6 655.5 53.4 656 53.7 656.5 53.8 657 53.4 657.5 53.7 658 53.7 658.5 53.7 659 53.5 659.5 52.9 660 53.4 660.5 53.8 661 53.3 661.5 52.7 662 53.5 662.5 53.2 663 53.1 663.5 53 664 52.4 664.5 51.9 665 50 665.5 49 666 47.3 666.5 44.7 667 42.2 667.5 38.8 668 36 668.5 34.4 669 33.1 669.5 32.3 670 33.2 670.5 35.4 671 37.9 671.5 40.2 672 43 672.5 46 673 48.2 673.5 50.2 674 51.5 674.5 51.9 675 52.5 675.5 52.9 676 53.7 676.5 53.8 677 53.8 677.5 53.9 678 53.4 678.5 53.3 679 53.7 679.5 53.7 680 53.3 680.5 54 681 53.9 681 59.9 680.5 60.3 680 59.4 679.5 59.4 679 60.4 678.5 58.9 678 59.3 677.5 59.7 677 60.9 676.5 59.1 676 59.8 675.5 59.9 675 60.7 674.5 60.3 674 59.2 673.5 59.3 673 59.4 672.5 58.6 672 59 671.5 58.8 671 57.2 670.5 57.7 670 56.4 669.5 57.2 669 57.1 668.5 57.8 668 57.6 667.5 57.3 667 57.6 666.5 59.1 666 58 665.5 59.3 665 58.6 664.5 59.7 664 59.4 663.5 59.7 663 59.2 662.5 60.6 662 60.1 661.5 60.7 661 60.4 660.5 60.5 660 59.5 659.5 60.9 659 59.6 658.5 58.9 658 59.9 657.5 60.8 657 59.2 656.5 58.8 656 59.4 655.5 59.7 655 60.5 654.5 59.9 654 59.2 653.5 59.1 653 60.7 652.5 60 652 59.4 651.5 60 651 59.4 650.5 60.5 650 60.2 649.5 60.5 649 60.6 648.5 59.3 648 58.9 647.5 59.6 647 59.7 646.5 59 646 59.5 645.5 59.8 645 59.6 644.5 60.9 644 60.2 643.5 58.9 643 59.1 642.5 60.8 642 59 641.5 61 641 60.5 640.5 60.8 640 60.7 639.5 59.5 639 60.4 638.5 59.7 638 59.5 637.5 60.5 637 60.7 636.5 60.1 636 58.9 635.5 59.2 635 60.5 634.5 60.2 634 59.6 633.5 60.3 633 59.4 632.5 60.3 632 59.7 631.5 59.8 631 59 630.5 60.5 630 58.8 629.5 59.1 629 59.7 628.5 59.9 628 61 627.5 60.7 627 60.1 626.5 59.4 626 59.2 625.5 59.5 625 60.7 624.5 60.5 624 60.7 623.5 59.9 623 60.1 622.5 60 622 60.2 621.5 59.5 621 58.9 620.5 60.8 620 59.5 619.5 59.6 619 60.2 618.5 60.7 618 59.8 617.5 59.5 617 60.5 616.5 58.9 616 60.2 615.5 59.2 615 60.5 614.5 60.8 614 60.5 613.5 58.9 613 60.8 612.5 58.8 612 60.6 611.5 59 611 59 610.5 59.2 610 59.1 609.5 59.3 609 59.1 608.5 59.3 608 60.6 607.5 59 607 59.3 606.5 58.8 606 59.9 605.5 60.5 605 60.2 604.5 60.9 604 60.1 603.5 60.2 603 59.7 602.5 59.2 602 59.5 601.5 60.4 601 59.3 600.5 59.4 600 60.2 599.5 60.7 599 60.5 598.5 59.6 598 60.3 597.5 59.7 597 60.6 596.5 60.6 596 59.2 595.5 60.1 595 59.7 594.5 60.4 594 60.1 593.5 60 593 59.6 592.5 60.2 592 60.2 591.5 59.1 591 60 590.4 59.3 589.9 60.1 589.4 59.1 588.9 60 588.4 59 587.9 60.4 587.4 61 586.9 60 586.4 60.2 585.9 60.1 585.4 60.9 584.9 60.9 584.4 60.8 583.9 60.3 583.4 60.7 582.9 60.4 582.4 60 581.9 59.3 581.4 60 580.9 59.7 580.4 59 579.9 60.3 579.4 58.9 578.9 60.3 578.4 59 577.9 59.5 577.4 59.5 576.9 60.2 576.4 58.9 575.9 60.4 575.4 58.8 574.9 60.7 574.4 60 573.9 58.9 573.4 60.5 572.9 60.8 572.4 59 571.9 59.3 571.4 58.9 570.9 60.9 570.4 60.9 569.9 59.6 569.4 60.2 568.9 60.9 568.4 60.1 567.9 59.1 567.4 59.5 566.9 60.3 566.4 59.3 565.9 59 565.4 60.9 564.9 60 564.4 59.5 563.9 60.9 563.4 59.6 562.9 60.3 562.4 60.3 561.9 60.5 561.4 59.9 560.9 60.9 560.4 59.6 559.9 60.4 559.4 59.3 558.9 59.3 558.4 59.9 557.9 58.8 557.4 60.5 556.9 59 556.4 59.6 555.9 58.9 555.4 60.3 554.9 60.4 554.4 59 553.9 59.9 553.4 59.5 552.9 59.5 552.4 60.4 551.9 58.9 551.4 60.5 550.9 58.9 550.4 59.6 549.9 59.3 549.4 60 548.9 60.7 548.4 58.9 547.9 60.8 547.4 59.4 546.9 60.2 546.4 60.9 545.9 59.4 545.4 60.7 544.9 60.1 544.4 60.6 543.9 60 543.4 59.9 542.9 60.8 542.4 59.7 541.9 58.9 541.4 60.5 540.9 60.7 540.4 59.9 539.9 60.9 539.4 60.9 538.9 60.3 538.4 60.6 537.9 60.1 537.4 59.6 536.9 60.2 536.4 59.3 535.9 59.9 535.4 60.4 534.9 61 534.4 59.6 533.9 60.8 533.4 59.8 532.9 60.1 532.4 60.8 531.9 60.5 531.4 58.9 530.9 59.6 530.4 60.8 529.9 59.1 529.4 59.1 528.9 58.9 528.4 60.4 527.9 59.3 527.4 60.1 526.9 59.9 526.4 60.5 525.9 60.2Z" fill="#0000ff"/>
<path d="M525.8 59.2V63.1M526.2 59.5V65.5M527.1 58.9V61.3M527.3 59.1V65M528.1 58.3V65.9M528.5 59.4V62.5M528.8 57.9V66.1M529.4 58.1V61.3M529.8 58.1V60.4M530.4 59.8V63.4M530.8 58.6V67.8M531.5 57.9V66.4M532 59.5V64.1M532.5 59.8V64.2M533.3 58.8V65.5M534 59.8V64.1M534.3 58.6V67.6M534.8 60V64.1M535.7 58.9V62.4M536.3 58.3V65.5M537.6 58.6V61.9M538.3 59.6V67M539.1 59.3V63.7M539.3 59.9V63.4M540 59.9V61.7M540.6 58.9V64.7M541 59.7V64.5M541.5 59.5V63.6M541.7 57.9V61.5M542.5 58.7V64.9M542.9 59.8V65.6M543.4 58.9V66.8M543.8 59V65.4M544.9 59.1V60.5M546.6 59.9V62.4M546.8 59.2V60.2M547.2 58.4V65.6M547.9 59.8V66M548.4 57.9V65.9M549 59.7V64.2M549.5 59V67.8M550 58.3V64.2M550.6 58.6V60.8M551.1 57.9V66.3M551.4 59.5V68M552.4 59.4V63.3M553 58.5V64.4M553.5 58.5V65.6M554 58.9V60.2M554.3 58V62.7M555 59.4V61.6M555.5 59.3V61.9M556.4 58.6V65.2M556.7 58V60.8M557.4 59.5V67.2M558 57.8V61.3M559.1 58.3V66.4M559.9 59.4V65.4M560.5 58.6V62.8M561 59.9V67.9M561.4 58.9V61.7M561.8 59.5V65.9M562.4 59.3V63.9M563.1 59.3V63.8M563.5 58.6V67.3M564 59.9V60.8M564.5 58.5V63.1M565.1 59V60.9M565.5 59.9V64.1M566.8 59.3V66.9M567.6 58.5V63.8M568.1 58.1V65.5M568.3 59.1V63.9M569 59.9V61.9M569.5 59.2V67.4M569.9 58.6V61.2M570.6 59.9V61.4M570.8 59.9V63.8M571.6 57.9V62.5M572 58.3V63.2M572.4 58V62.9M572.9 59.8V62.8M573.4 59.5V63.7M574 57.9V62.5M574.5 59V65.2M575.1 59.7V67.1M575.9 59.4V67.7M576.6 57.9V63.9M577.3 58.5V62.7M578 58.5V65.6M578.6 58V60.1M578.9 59.3V60.5M579.5 57.9V66.7M579.8 59.3V67.5M580.5 58V66.4M581 58.7V63.2M583.6 59.7V60.3M583.9 59.3V64.5M584.8 59.9V61.3M586.1 59.1V61.4M586.5 59.2V66M587.5 60V60.3M588.4 58V66.7M588.8 59V63.2M589.5 58.1V67.7M589.9 59.1V61.7M590.3 58.3V63.4M591.6 58.1V65.5M591.9 59.2V62.5M592.3 59.2V67.9M592.9 58.6V67.2M593.3 59V66M594.1 59.1V66.2M594.3 59.4V64M594.9 58.7V61.1M595.4 59.1V64.4M595.8 58.2V62.1M596.6 59.6V61.2M596.9 59.6V65.9M597.6 58.7V62.7M597.9 59.3V63.5M599 59.5V67.1M599.5 59.7V64.5M599.9 59.2V62.3M600.5 58.4V60.9M600.9 58.3V66.1M601.9 58.5V64.4M602.5 58.2V61.3M602.9 58.7V65.2M603.3 59.2V67.9M605 59.2V60.8M606.1 58.9V66.2M606.3 57.8V65.1M606.9 58.3V64.5M607.4 58V64.5M608.4 58.3V66.6M609.4 58.3V64M611.6 58V67.5M612 59.6V63M612.5 57.8V66.6M613.9 59.5V61.9M614.3 59.8V63M614.8 59.5V66.5M616.4 57.9V62.2M617.1 59.5V65.2M617.6 58.5V60.9M617.8 58.8V67.2M619.1 59.2V65.1M619.5 58.6V63.6M619.9 58.5V62.3M621.4 58.5V63.1M621.8 59.2V66.8M622.5 59V60.3M623.4 58.9V62.3M623.8 59.7V63.2M624.3 59.5V67.3M625.2 59.7V63.6M625.5 58.5V61.3M625.8 58.2V63.9M626.3 58.4V61M626.8 59.1V67.5M627.4 59.7V66.7M628 60V66.5M628.7 58.9V64.6M628.8 58.7V67.7M629.3 58.1V64.3M630.6 59.5V64.7M630.8 58V66.3M631.5 58.8V66M631.9 58.7V67M632.8 58.4V66.7M633.5 59.3V67.7M634.2 58.6V67.9M634.3 59.2V62.1M634.8 59.5V61.3M635.4 58.2V67.6M636.2 57.9V67.7M636.7 59.1V61.3M637.6 59.5V61.7M637.9 58.5V61M638.6 58.7V63.3M639.1 59.4V67.3M639.6 58.5V65.1M640 59.7V67.5M640.3 59.8V66.9M641.1 59.5V60.3M641.6 60V65.9M642.6 59.8V63.6M643.1 58.1V61.7M643.4 57.9V63.9M644.1 59.2V63.6M644.4 59.9V67.7M645.2 58.6V66.4M645.5 58.8V63.7M646.1 58.5V64.6M646.3 58V62.8M647.2 58.7V64.1M647.4 58.6V67.4M647.8 57.9V65.8M648.3 58.3V65.2M648.9 59.6V66.4M649.5 59.5V63.7M650.6 59.5V67.1M650.9 58.4V61M651.9 58.4V65M652.7 59V65.7M653.1 59.7V61.1M653.5 58.1V67.6M654 58.2V63.8M654.6 58.9V65.3M655.1 59.5V61.9M655.5 58.7V61.5M656.6 57.8V61.2M657.1 58.2V61.9M658 58.9V67.6M658.6 57.9V65.5M659.6 59.9V67.6M659.9 58.5V60.6M660.6 59.5V67.5M661.5 59.7V63.9M662 59.1V61.5M662.5 59.6V62.8M662.8 58.2V61.6M663.5 58.7V66.7M664.1 58.4V65.8M664.3 58.7V64M664.9 57.6V62.1M665.4 58.3V63.6M666.2 57V65.1M666.6 58.1V60M667.1 56.6V62.8M667.9 56.6V63.3M668.4 56.8V61.9M669 56.1V63.6M669.7 56.2V62.7M670.5 56.7V61.4M670.9 56.2V62.2M671.5 57.8V64.8M672.3 57.6V60.6M672.9 58.4V61.8M673.6 58.3V67.4M675.1 59.7V61.9M675.5 58.9V60.7M676 58.8V65.3M676.6 58.1V61.6M677.1 59.9V64.6M677.7 58.7V67M678 58.3V63.2M678.6 57.9V61.7M679 59.4V60.3M679.3 58.4V60.6M680.2 58.4V66.6M680.6 59.3V62.1M681 58.9V62.1" stroke="#0000ff" stroke-width="0.7" fill="none"/>
<path d="M525.9 93.5 526.4 93.5 526.9 93.2 527.4 92.9 527.9 93.2 528.4 93.4 528.9 93.4 529.4 92.9 529.9 93.5 530.4 93.2 530.9 92.9 531.4 93.3 531.9 92.8 532.4 92.3 532.9 93.4 533.4 93 533.9 92.9 534.4 92.9 534.9 93 535.4 92.8 535.9 93 536.4 93.5 536.9 92.8 537.4 93.1 537.9 93 538.4 93.1 538.9 92.9 539.4 93 539.9 93.1 540.4 93.1 540.9 93.3 541.4 93.2 541.9 93.4 542.4 92.7 542.9 93 543.4 93 543.9 93.5 544.4 92.9 544.9 92.8 545.4 93.1 545.9 93.3 546.4 92.7 546.9 92.7 547.4 93 547.9 93.1 548.4 92.2 548.9 93.4 549.4 93.1 549.9 92.3 550.4 93.2 550.9 92.9 551.4 93 551.9 92.7 552.4 92.8 552.9 93.1 553.4 93.1 553.9 92.8 554.4 93.3 554.9 92.9 555.4 93.3 555.9 92.9 556.4 93 556.9 93.5 557.4 93.4 557.9 92.4 558.4 93.3 558.9 92.8 559.4 93.5 559.9 93.2 560.4 93.5 560.9 93.4 561.4 93 561.9 92.7 562.4 92.7 562.9 93.1 563.4 93.1 563.9 93.4 564.4 93.4 564.9 92.7 565.4 92.9 565.9 92.9 566.4 93.5 566.9 93.1 567.4 92.8 567.9 93.4 568.4 92.5 568.9 93.2 569.4 92.6 569.9 93.3 570.4 93.2 570.9 93.4 571.4 92.9 571.9 93 572.4 92.8 572.9 93.1 573.4 93.4 573.9 93.1 574.4 93.2 574.9 93 575.4 93.5 575.9 93 576.4 92.7 576.9 93.3 577.4 93.3 577.9 93 578.4 92.7 578.9 92.8 579.4 92.5 579.9 92.3 580.4 93.1 580.9 93.2 581.4 93.3 581.9 93.4 582.4 93.2 582.9 93.3 583.4 92.7 583.9 92.8 584.4 93.1 584.9 93.1 585.4 93.4 585.9 92.8 586.4 93 586.9 93.3 587.4 92.4 587.9 93.4 588.4 92.5 588.9 93.3 589.4 93.2 589.9 92.8 590.4 92.9 591 93.4 591.5 92.4 592 93.1 592.5 92.7 593 93.4 593.5 92.8 594 93 594.5 92.9 595 93 595.5 92.9 596 92.9 596.5 93.3 597 92.9 597.5 92.9 598 92.9 598.5 92.4 599 92.8 599.5 92.7 600 93.3 600.5 93.1 601 92.9 601.5 92.3 602 93.1 602.5 92.8 603 93.3 603.5 92.7 604 92.6 604.5 92.3 605 93 605.5 92.8 606 93.4 606.5 92.9 607 92.9 607.5 92.2 608 93.3 608.5 93.3 609 93.5 609.5 92.7 610 93.1 610.5 92.8 611 93.1 611.5 93.3 612 93.1 612.5 93.2 613 93.3 613.5 93.3 614 93.2 614.5 93.2 615 92.6 615.5 93 616 92.9 616.5 92.9 617 92 617.5 93.3 618 93.3 618.5 93.1 619 93.4 619.5 93.3 620 93.4 620.5 93.1 621 93.2 621.5 93.1 622 93 622.5 93 623 92.9 623.5 93.2 624 93.2 624.5 93.1 625 92.8 625.5 93.3 626 92.7 626.5 92.8 627 93.1 627.5 92.7 628 93 628.5 93.2 629 93.4 629.5 93.4 630 92.5 630.5 93.1 631 93 631.5 93.3 632 93.2 632.5 93.4 633 92.1 633.5 93 634 92.8 634.5 93.1 635 93.1 635.5 93.3 636 92.8 636.5 93.3 637 93.1 637.5 93.2 638 92.1 638.5 93 639 93.2 639.5 93.4 640 93.1 640.5 93.1 641 92.7 641.5 92.7 642 93.1 642.5 92.9 643 93.1 643.5 93 644 93.4 644.5 93.3 645 93.2 645.5 93.4 646 92.8 646.5 92 647 93.1 647.5 93.4 648 93.2 648.5 93 649 92.8 649.5 93.2 650 93.3 650.5 93.3 651 91.9 651.5 92.8 652 92.8 652.5 93.4 653 93.3 653.5 93.4 654 93.3 654.5 93.2 655 92.8 655.5 92 656 93.3 656.5 92.6 657 92.7 657.5 92.3 658 91.8 658.5 91.3 659 90.3 659.5 89.3 660 87.7 660.5 85.5 661 83.4 661.5 80.8 662 78 662.5 76.6 663 75 663.5 73.4 664 73.3 664.5 73.8 665 75.1 665.5 77 666 78.8 666.5 81.4 667 84 667.5 85.8 668 88.1 668.5 89.2 669 90.8 669.5 91.8 670 92 670.5 92.3 671 92.5 671.5 92.8 672 93.2 672.5 92.9 673 92.7 673.5 92.7 674 93.3 674.5 92.8 675 93.1 675.5 93.1 676 92.9 676.5 92.5 677 93.1 677.5 93.4 678 92.8 678.5 93.2 679 92.5 679.5 92.2 680 92.4 680.5 92.9 681 93.3 681 99.4 680.5 99.8 680 100 679.5 100.4 679 100.7 678.5 99.6 678 100.6 677.5 100.2 677 100.3 676.5 100.5 676 100.2 675.5 98.7 675 99.5 674.5 99.3 674 100.7 673.5 99.7 673 100.4 672.5 100.8 672 100.7 671.5 98.6 671 98.6 670.5 99.3 670 99.9 669.5 99.4 669 99.3 668.5 98.5 668 99.4 667.5 97.8 667 99.1 666.5 97.2 666 97.8 665.5 96.5 665 96.4 664.5 97.1 664 97.7 663.5 96.6 663 97.4 662.5 97.6 662 98.2 661.5 97.4 661 97.5 660.5 97.5 660 99.4 659.5 99.5 659 100.4 658.5 100.3 658 100.3 657.5 98.6 657 99.3 656.5 99 656 100.2 655.5 99.2 655 100.6 654.5 98.9 654 98.6 653.5 100.3 653 100.5 652.5 100.6 652 100.5 651.5 99.5 651 100.7 650.5 99.2 650 98.9 649.5 100.5 649 99.1 648.5 99.4 648 99.2 647.5 99 647 99.1 646.5 100.6 646 99.5 645.5 100.8 645 100.1 644.5 99.8 644 99.7 643.5 100.5 643 99.2 642.5 99.4 642 98.8 641.5 100 641 100.3 640.5 100.3 640 100.5 639.5 99.2 639 100.4 638.5 100.8 638 99.3 637.5 100.4 637 98.7 636.5 100.5 636 98.9 635.5 100.7 635 99.8 634.5 99.3 634 99.1 633.5 99.5 633 98.8 632.5 99.1 632 100.1 631.5 100.1 631 100.7 630.5 100.2 630 100.3 629.5 99.4 629 98.9 628.5 99.8 628 100.4 627.5 100.6 627 98.8 626.5 99.9 626 100.2 625.5 99.1 625 100 624.5 99.8 624 99.5 623.5 100.6 623 100.1 622.5 99.3 622 99.4 621.5 99.8 621 99 620.5 99.1 620 99.7 619.5 100.8 619 100.7 618.5 99.3 618 98.8 617.5 98.9 617 100.7 616.5 98.7 616 99.1 615.5 99.5 615 99.2 614.5 100.2 614 98.6 613.5 100.2 613 100.6 612.5 99.5 612 99.9 611.5 100.1 611 100.7 610.5 99.7 610 100.3 609.5 100.4 609 99.1 608.5 99.7 608 100.2 607.5 100.7 607 100.8 606.5 98.9 606 99.3 605.5 99.9 605 100.3 604.5 100.5 604 100.4 603.5 100.4 603 99.9 602.5 100.1 602 99.1 601.5 99.1 601 98.7 600.5 99.7 600 99.6 599.5 100.1 599 100.3 598.5 99.9 598 100.7 597.5 98.9 597 100.6 596.5 98.8 596 99.4 595.5 99.2 595 99.4 594.5 99.7 594 100 593.5 99.4 593 98.9 592.5 99.3 592 99.7 591.5 100.4 591 100.6 590.4 98.8 589.9 99.1 589.4 99.4 588.9 99.3 588.4 100.3 587.9 99 587.4 99.3 586.9 99.2 586.4 99.9 585.9 100.5 585.4 99.4 584.9 100.7 584.4 100.1 583.9 100.6 583.4 99.8 582.9 100.4 582.4 99.5 581.9 100.6 581.4 98.8 580.9 99 580.4 100.1 579.9 99.2 579.4 99.6 578.9 99.7 578.4 100.4 577.9 99.2 577.4 98.9 576.9 100.1 576.4 99.3 575.9 100.2 575.4 99.1 574.9 99.4 574.4 99.8 573.9 99.9 573.4 99.1 572.9 99.2 572.4 100.6 571.9 99.8 571.4 100.7 570.9 99.3 570.4 98.6 569.9 99.6 569.4 99.6 568.9 99.2 568.4 100.4 567.9 99.6 567.4 99.4 566.9 99.7 566.4 98.8 565.9 98.7 565.4 99.1 564.9 99.7 564.4 99.4 563.9 99.8 563.4 99.4 562.9 99 562.4 98.8 561.9 99.3 561.4 99.1 560.9 100 560.4 100.2 559.9 99.3 559.4 99.5 558.9 99.7 558.4 98.8 557.9 100.1 557.4 99.8 556.9 99.8 556.4 99.7 555.9 98.7 555.4 100 554.9 100.5 554.4 100.7 553.9 99.7 553.4 99.2 552.9 100.5 552.4 100.6 551.9 100 551.4 100.4 550.9 98.9 550.4 100.5 549.9 98.6 549.4 98.7 548.9 98.7 548.4 98.9 547.9 99.1 547.4 100.2 546.9 99.7 546.4 100.5 545.9 100.4 545.4 99.4 544.9 98.8 544.4 100.5 543.9 98.9 543.4 98.7 542.9 100.1 542.4 100 541.9 100.7 541.4 100.3 540.9 100.2 540.4 100.8 539.9 99.7 539.4 100.6 538.9 98.7 538.4 100 537.9 98.7 537.4 99.3 536.9 99 536.4 99.5 535.9 100.6 535.4 99.4 534.9 99.8 534.4 99.8 533.9 99.9 533.4 100.6 532.9 99.7 532.4 98.7 531.9 100.1 531.4 100 530.9 99.3 530.4 99.9 529.9 100.7 529.4 99.9 528.9 99.3 528.4 98.7 527.9 100.1 527.4 99.3 526.9 100.6 526.4 98.9 525.9 98.7Z" fill="#ff0000"/>
<path d="M526 97.7V104.8M526.9 99.6V99.9M527.3 98.3V105.6M527.8 99.1V104.2M528.6 97.7V101.7M529.1 98.3V104.1M529.4 98.9V101.1M530.1 99.7V104.6M530.3 98.9V102.8M531 98.3V103.5M531.3 99V105.1M532 99.1V106.1M532.3 97.7V104.8M532.8 98.7V102.1M533.5 99.6V102.7M534.9 98.8V104.4M535.6 98.4V105.3M535.8 99.6V104.6M536.5 98.5V102.6M538 97.7V105.1M538.3 99V101M539.4 99.6V100.8M539.9 98.7V100.9M540.4 99.8V100M541.4 99.3V103M541.8 99.7V102.4M542.4 99V106.4M543.4 97.7V104.6M544 97.9V106.3M544.4 99.5V102.3M544.8 97.8V102.8M545.5 98.4V107M547 98.7V103.9M547.5 99.2V103.9M547.7 98.1V101.3M548.3 97.9V100.2M549 97.7V100.7M549.4 97.7V105.1M550.1 97.6V104.1M550.6 99.5V103.1M551.1 97.9V103.2M551.2 99.4V104.7M552.4 99.6V100M552.9 99.5V101.8M553.6 98.2V104.9M553.9 98.7V106.1M554.6 99.7V105.1M554.9 99.5V104.4M555.9 97.7V103.5M556.2 98.7V105.3M556.9 98.8V106.8M557.5 98.8V104.5M559.5 98.5V102.4M559.7 98.3V102.8M560.4 99.2V101M560.8 99V101.4M561.5 98.1V103M561.9 98.3V104.7M562.6 97.8V105.7M562.9 98V106.5M563.7 98.8V103.4M564.2 98.4V105.5M565 98.7V105M565.6 98.1V100.4M566 97.7V99.9M566.5 97.8V101.7M567.6 98.4V105.7M567.7 98.6V106.3M568.3 99.4V100M568.9 98.2V104.1M569.8 98.6V100.5M570.6 97.6V105.8M571 98.3V106.1M571.6 99.7V106M571.9 98.8V106.2M572.5 99.6V104.5M573.6 98.1V106.3M574 98.9V106.5M574.4 98.8V103.3M574.8 98.4V105.2M575.6 98.1V104.7M575.9 99.2V104M576.2 98.3V106.5M577 99.1V102.1M577.6 97.9V99.8M577.8 98.2V101M578.3 99.4V101.9M578.9 98.7V101M579.4 98.6V103.2M580 98.2V103.4M580.5 99.1V102.4M581.7 99.6V102.2M582.6 98.5V106.9M582.8 99.4V101.4M583.6 98.8V103.2M584 99.6V105.8M584.3 99.1V103.3M584.9 99.7V106.4M586 99.5V102.6M586.4 98.9V100.2M586.8 98.2V101.2M587.3 98.3V101.4M588 98V106.3M588.6 99.3V104M588.8 98.3V105.2M589.5 98.4V106.1M590.4 97.8V105.6M591 99.6V102M591.5 99.4V100.2M592 98.7V104.6M593 97.9V104.7M593.5 98.4V105M594.1 99V102.6M594.3 98.7V100.2M594.8 98.4V106.1M595.8 98.4V104.8M597 99.6V101.8M597.6 97.9V104.7M597.9 99.7V101.9M598.6 98.9V104.5M599.1 99.3V105M599.6 99.1V102.8M599.8 98.6V105.8M600.5 98.7V100.7M600.8 97.7V104.4M601.4 98.1V103.6M601.8 98.1V105.4M602.6 99.1V106.5M603.1 98.9V104.6M603.6 99.4V105.9M603.9 99.4V105.4M604.3 99.5V100.1M604.8 99.3V100.6M607 99.8V102.2M607.3 99.7V100.6M608 99.2V103.1M609.2 98.1V101.2M609.5 99.4V102.7M609.8 99.3V102.8M610.6 98.7V101.7M610.8 99.7V103.7M611.8 98.9V106.1M612.5 98.5V103.3M612.9 99.6V107M613.5 99.2V105.3M614.1 97.6V106.7M614.6 99.2V106.3M615.1 98.2V103.7M615.5 98.5V102.5M616 98.1V99.9M616.5 97.7V106.7M617.1 99.7V104.7M617.5 97.9V105.6M618 97.8V104.7M618.3 98.3V101.1M619 99.7V101.6M619.5 99.8V100.9M619.8 98.7V103.5M621.1 98V106.4M622.1 98.4V105.3M622.6 98.3V106.8M623.2 99.1V103.5M623.4 99.6V104.5M623.8 98.5V103.1M624.5 98.8V103.4M625.1 99V104.3M625.3 98.1V105.7M626.1 99.2V106.6M626.3 98.9V106.8M626.9 97.8V106.3M627.3 99.6V101.4M628.6 98.8V105.5M629.1 97.9V106M629.4 98.4V103.4M629.8 99.3V106M630.9 99.7V103.7M631.4 99.1V104.5M632 99.1V105.9M632.3 98.1V101M632.9 97.8V103.6M633.4 98.5V103.8M634.7 98.3V102.5M635.1 98.8V103.4M635.3 99.7V101.9M636.1 97.9V101.1M636.4 99.5V103.9M637.1 97.7V106.9M637.3 99.4V104.5M637.9 98.3V106.2M639.3 98.2V106.4M639.8 99.5V106.8M640.5 99.3V100M640.9 99.3V103.6M641.4 99V104.8M641.9 97.8V102.1M642.5 98.4V104.2M643.1 98.2V102M643.5 99.5V100.7M644.2 98.7V102.1M644.5 98.8V105.8M644.8 99.1V103.1M645.6 99.8V104.9M646 98.5V102.2M646.5 99.6V103.2M646.8 98.1V100.7M647.3 98V105.6M648.1 98.2V101.1M648.4 98.4V101.5M648.8 98.1V106.7M649.7 99.5V100.8M650.4 98.2V106M650.9 99.7V101.4M651.5 98.5V105.3M651.9 99.5V100.1M652.4 99.6V104.7M653.5 99.3V102.3M654.1 97.6V101.9M654.6 97.9V105.9M654.9 99.6V106.1M655.6 98.2V100.9M656.1 99.2V105.7M656.9 98.3V106M657.5 97.6V101.6M657.9 99.3V105.4M658.5 99.3V106.1M659 99.4V101.8M659.3 98.5V101.8M659.9 98.4V104.9M660.4 96.5V105.3M660.8 96.5V99.8M662.2 97.2V104.6M662.4 96.6V104.1M662.9 96.4V103M664.3 96.1V98.3M665.1 95.4V99.8M665.6 95.5V99.3M666.1 96.8V97.7M666.5 96.2V100.6M666.8 98.1V101.9M667.4 96.8V102.7M667.9 98.4V103.5M668.6 97.5V103.7M669.2 98.3V101.2M669.7 98.4V102.9M669.9 98.9V104.2M670.5 98.3V101.5M671.1 97.6V101.3M671.7 97.6V103.6M672.1 99.7V100.7M672.6 99.8V103.9M673.4 98.7V105.8M674.1 99.7V106.2M674.5 98.3V106.3M675.5 97.7V103.3M675.9 99.2V106.3M676.4 99.5V102.3M676.9 99.3V105M678.1 99.6V106.1M678.6 98.6V104.1M679.2 99.7V100.2M679.4 99.4V101.4M680 99V104.7M680.4 98.8V106.8M680.9 98.4V102.2" stroke="#ff0000" stroke-width="0.7" fill="none"/>
<path d="M525.9 127.8 526.4 127.2 526.9 127.5 527.4 127.5 527.9 126.4 528.4 127.5 528.9 127.1 529.4 127.6 529.9 127.4 530.4 127.6 530.9 127.2 531.4 127.6 531.9 127.2 532.4 127.8 532.9 126.9 533.4 127.8 533.9 127.3 534.4 127.5 534.9 127.7 535.4 127.3 535.9 127.6 536.4 127.5 536.9 127.7 537.4 127.7 537.9 127.9 538.4 127.9 538.9 127.2 539.4 127.8 539.9 127.2 540.4 127.5 540.9 127.4 541.4 127.4 541.9 127.8 542.4 127.7 542.9 127.3 543.4 127.7 543.9 127.1 544.4 127.5 544.9 127.3 545.4 127.3 545.9 127.5 546.4 127.4 546.9 127.8 547.4 127.2 547.9 127.2 548.4 127.7 548.9 127.5 549.4 127.2 549.9 127.5 550.4 127.6 550.9 127.4 551.4 127.4 551.9 127.8 552.4 127.3 552.9 127.3 553.4 127 553.9 127.6 554.4 127.3 554.9 127.9 555.4 127.7 555.9 127.2 556.4 127.7 556.9 126.4 557.4 127.2 557.9 126.6 558.4 127.7 558.9 127.6 559.4 127.6 559.9 126.4 560.4 127.4 560.9 127.5 561.4 127.4 561.9 127.8 562.4 127.9 562.9 127.4 563.4 127.1 563.9 127.7 564.4 127.1 564.9 127.8 565.4 127.3 565.9 127.5 566.4 127.6 566.9 127.6 567.4 127.8 567.9 126.6 568.4 127.4 568.9 127.9 569.4 127.6 569.9 127 570.4 127.5 570.9 127.5 571.4 127.3 571.9 127.6 572.4 127.4 572.9 127.3 573.4 127.7 573.9 127.1 574.4 127.8 574.9 127.9 575.4 127.8 575.9 127.7 576.4 127.7 576.9 127.5 577.4 127.9 577.9 127.3 578.4 127.2 578.9 126.6 579.4 127.1 579.9 127.6 580.4 127.6 580.9 127.4 581.4 127.8 581.9 127.2 582.4 127.6 582.9 127.7 583.4 127.2 583.9 127.6 584.4 127.7 584.9 127.6 585.4 127.8 585.9 127.8 586.4 127.8 586.9 127.4 587.4 127.9 587.9 127.3 588.4 127.5 588.9 126.7 589.4 127.7 589.9 127.5 590.4 126.5 591 127.7 591.5 126.9 592 127.7 592.5 127.4 593 127.8 593.5 127.8 594 127.2 594.5 127.6 595 127.6 595.5 127.3 596 127.9 596.5 127.6 597 127.7 597.5 127.4 598 127.4 598.5 127.5 599 127.7 599.5 126.7 600 127.9 600.5 126.7 601 127.3 601.5 127.6 602 127.2 602.5 127.7 603 127.6 603.5 127.4 604 127.1 604.5 127.4 605 127.2 605.5 127.6 606 127.7 606.5 127.7 607 127.3 607.5 127.7 608 127.8 608.5 127.1 609 127.8 609.5 127.3 610 126.4 610.5 127.2 611 127.7 611.5 127.5 612 127.4 612.5 127.3 613 127.4 613.5 127.2 614 127.3 614.5 127.1 615 127.3 615.5 127.3 616 127.1 616.5 127.5 617 127.8 617.5 127 618 127.3 618.5 127.8 619 127.5 619.5 127.1 620 127.5 620.5 127.1 621 126.8 621.5 127.5 622 127.8 622.5 127.2 623 127.7 623.5 127.6 624 127.3 624.5 127.1 625 127.6 625.5 126.8 626 127.3 626.5 127.1 627 127.2 627.5 127.1 628 126.9 628.5 127.3 629 127.8 629.5 127.8 630 127.9 630.5 127.1 631 127.3 631.5 127.5 632 127.5 632.5 127.7 633 127.5 633.5 127.5 634 127.8 634.5 127.8 635 127.4 635.5 127.6 636 127.6 636.5 127.1 637 127.4 637.5 127.3 638 127.4 638.5 127.4 639 127.2 639.5 127.4 640 127.2 640.5 127.6 641 127.2 641.5 127.7 642 127.9 642.5 127.2 643 127.4 643.5 127.1 644 127.7 644.5 127.6 645 127.4 645.5 127.7 646 127.4 646.5 127.7 647 127.1 647.5 127.2 648 127.7 648.5 127.1 649 127.1 649.5 127.4 650 127.1 650.5 127.5 651 127.6 651.5 127.1 652 127.5 652.5 127.4 653 127 653.5 126.4 654 125.5 654.5 124.8 655 123.2 655.5 121.5 656 119.5 656.5 117.5 657 115.3 657.5 113.8 658 112.1 658.5 111.7 659 111.4 659.5 112.6 660 114.1 660.5 116.1 661 117.7 661.5 120.7 662 122.6 662.5 123.6 663 125.1 663.5 126.4 664 126.9 664.5 126.8 665 127.1 665.5 127 666 127.1 666.5 127.3 667 127.1 667.5 127.3 668 127.3 668.5 127.3 669 127.3 669.5 127.4 670 127.8 670.5 127.5 671 127.4 671.5 127.8 672 127.1 672.5 127.3 673 127.6 673.5 127.4 674 127.1 674.5 127.1 675 127.2 675.5 127.5 676 127.1 676.5 127.8 677 127.6 677.5 127.4 678 127.5 678.5 127.4 679 127.7 679.5 127.5 680 127.3 680.5 127.5 681 127.2 681 134.3 680.5 134.9 680 134.5 679.5 133.8 679 134.4 678.5 135.4 678 135.1 677.5 133.9 677 134.5 676.5 134 676 135 675.5 135.2 675 134.8 674.5 133.7 674 135.2 673.5 133.7 673 133.9 672.5 135.2 672 133.4 671.5 134.1 671 134.9 670.5 133.5 670 135.2 669.5 133.9 669 134.9 668.5 133.3 668 133.8 667.5 134.5 667 135.3 666.5 133.9 666 133.8 665.5 133.9 665 133.8 664.5 133.4 664 134.1 663.5 133.9 663 133 662.5 134.4 662 134.3 661.5 134.3 661 133.8 660.5 133.2 660 131.9 659.5 131.4 659 131.6 658.5 131 658 131.8 657.5 132.6 657 132.4 656.5 133.1 656 133.6 655.5 132.8 655 134.4 654.5 135 654 133.4 653.5 134.6 653 135 652.5 133.7 652 135 651.5 135.1 651 135.3 650.5 135.1 650 135.1 649.5 133.7 649 134.5 648.5 133.7 648 134.7 647.5 135.4 647 134.6 646.5 134 646 133.5 645.5 134.1 645 134.9 644.5 134 644 135.2 643.5 135.4 643 134.6 642.5 133.4 642 133.2 641.5 134.1 641 134.1 640.5 134.5 640 134.2 639.5 135 639 133.8 638.5 135.3 638 133.7 637.5 134 637 134.4 636.5 134.9 636 133.6 635.5 135.1 635 133.2 634.5 134.7 634 134.9 633.5 135.3 633 133.4 632.5 135 632 133.6 631.5 134.5 631 134 630.5 134.4 630 134.8 629.5 135.3 629 133.5 628.5 133.9 628 135.3 627.5 133.6 627 135.2 626.5 134.1 626 134.4 625.5 133.7 625 135.2 624.5 134.1 624 135.2 623.5 134.9 623 135.3 622.5 135.1 622 134.3 621.5 135 621 135.3 620.5 133.9 620 135.1 619.5 133.2 619 133.3 618.5 134.3 618 133.4 617.5 133.4 617 134.9 616.5 133.4 616 133.9 615.5 134.8 615 133.7 614.5 133.6 614 133.8 613.5 133.7 613 135.1 612.5 133.2 612 133.5 611.5 134.5 611 133.8 610.5 134.5 610 134.5 609.5 134.6 609 134.2 608.5 134.8 608 134.6 607.5 135.1 607 134.9 606.5 134.8 606 135.1 605.5 134.2 605 133.9 604.5 134 604 133.5 603.5 134.9 603 133.3 602.5 134.4 602 134.8 601.5 135.4 601 135.3 600.5 134.7 600 135.1 599.5 133.7 599 135.1 598.5 135.2 598 133.4 597.5 133.2 597 134.1 596.5 134.1 596 134.6 595.5 134.3 595 133.5 594.5 135.3 594 134.9 593.5 134.7 593 133.3 592.5 133.6 592 134.7 591.5 134.3 591 134.9 590.4 133.8 589.9 134.9 589.4 133.5 588.9 135.4 588.4 134.4 587.9 135.1 587.4 133.4 586.9 134.3 586.4 134.3 585.9 135.3 585.4 134.5 584.9 135 584.4 134.4 583.9 134.3 583.4 135.3 582.9 133.5 582.4 133.7 581.9 134.7 581.4 135.1 580.9 134.3 580.4 135 579.9 135 579.4 134.9 578.9 133.5 578.4 133.6 577.9 134.8 577.4 135.1 576.9 134.5 576.4 134.6 575.9 134.9 575.4 133.4 574.9 133.4 574.4 134.7 573.9 134.5 573.4 135.3 572.9 134.4 572.4 133.8 571.9 133.6 571.4 134.9 570.9 134.6 570.4 133.3 569.9 134.3 569.4 133.6 568.9 134.8 568.4 134.1 567.9 134.1 567.4 134.7 566.9 134.5 566.4 134.4 565.9 135 565.4 134.7 564.9 134.1 564.4 134.1 563.9 133.7 563.4 134.8 562.9 135 562.4 133.5 561.9 135.2 561.4 134.8 560.9 134.2 560.4 134.6 559.9 133.7 559.4 133.9 558.9 135 558.4 134.8 557.9 133.5 557.4 135.2 556.9 134.6 556.4 134.7 555.9 133.4 555.4 134 554.9 133.3 554.4 133.7 553.9 135.1 553.4 133.5 552.9 135.1 552.4 133.4 551.9 134.4 551.4 134.1 550.9 135.3 550.4 133.9 549.9 134.7 549.4 135.1 548.9 135.2 548.4 134.4 547.9 134.3 547.4 134.1 546.9 134.7 546.4 133.5 545.9 133.2 545.4 134.2 544.9 134.4 544.4 133.7 543.9 133.9 543.4 134.4 542.9 134.1 542.4 134.6 541.9 134.1 541.4 135 540.9 134.2 540.4 133.8 539.9 133.6 539.4 133.7 538.9 133.6 538.4 133.6 537.9 134 537.4 134.4 536.9 135.3 536.4 133.3 535.9 133.6 535.4 135.2 534.9 135 534.4 133.4 533.9 134.9 533.4 134 532.9 134.5 532.4 133.5 531.9 133.9 531.4 134.6 530.9 134.8 530.4 133.9 529.9 134 529.4 135.3 528.9 134.5 528.4 134 527.9 134.1 527.4 134.2 526.9 133.6 526.4 134.1 525.9 135.2Z" fill="#000000"/>
<path d="M526.1 134.2V136.9M526.4 133.1V140.8M527 132.6V137.4M527.6 133.2V137.2M528 133.1V134.8M528.4 133V136.6M528.9 133.5V137.8M529.5 134.3V139.2M529.7 133V136.3M530.5 132.9V137.9M530.8 133.8V140.2M531.6 133.6V140.4M531.8 132.9V134.9M532.6 132.5V139.3M533.5 133V135.5M533.9 133.9V138.7M534.6 132.4V137.1M534.8 134V137.2M535.5 134.2V135.5M536 132.6V136.4M537 134.3V139.7M537.5 133.4V139M537.8 133V137M538.4 132.6V138.2M538.7 132.6V135.2M539.5 132.7V135.7M540 132.6V138.4M540.5 132.8V135.1M540.8 133.2V135.7M541.3 134V139.5M541.9 133.1V137.4M542.4 133.6V135.6M543.5 133.4V135.9M543.9 132.9V138M544.3 132.7V139.1M544.9 133.4V140.9M545.3 133.2V137.1M545.8 132.2V139.6M546.3 132.5V137.4M546.9 133.7V135.8M547.3 133.1V141.2M548 133.3V137M548.5 133.4V136.4M549.1 134.2V135.1M549.4 134.1V136.7M549.8 133.7V139.9M550.3 132.9V135.9M550.8 134.3V140M551.4 133.1V136M551.7 133.4V141.1M552.4 132.4V140.2M553 134.1V135.9M553.5 132.5V140.5M553.8 134.1V140.5M554.5 132.7V135.8M554.9 132.3V138.1M555.5 133V140.9M556.1 132.4V138.1M556.5 133.7V138.4M557 133.6V140.3M557.4 134.2V135.7M558.1 132.5V134.4M558.5 133.8V140.8M558.8 134V140.9M559.5 132.9V137.9M560.1 132.7V134.9M560.4 133.6V139.8M562 134.2V138.5M562.6 132.5V134.6M562.9 134V140.1M563.3 133.8V135.3M564.4 133.1V136.7M565.4 133.7V136.9M565.8 134V138.6M566.2 133.4V135.4M566.8 133.5V138.2M567.4 133.7V140.7M568.1 133.1V138M568.5 133.1V138M568.8 133.8V141M569.6 132.6V138.1M569.7 133.3V139.2M570.3 132.3V140.8M570.8 133.6V136.2M571.5 133.9V138.2M572 132.6V138.4M572.5 132.8V141.2M572.9 133.4V134.9M573.5 134.3V141.1M573.9 133.5V137M574.4 133.7V141.2M575.1 132.4V137.6M575.5 132.4V139.9M575.9 133.9V139.8M576.5 133.6V139M576.9 133.5V137.2M577.4 134.1V137.3M577.8 133.8V135M578.6 132.6V137.3M579 132.5V140.8M580.1 134V141.1M580.6 134V134.4M581.1 133.3V139.2M582 133.7V137M582.6 132.7V135.2M583.1 132.5V137.4M584.9 134V137.6M585.4 133.5V136.2M586 134.3V134.6M586.3 133.3V138.6M587.1 133.3V137.9M587.9 134.1V140.2M588.6 133.4V138.5M589 134.4V134.5M589.6 132.5V140.7M589.8 133.9V137.6M590.5 132.8V140.6M591.1 133.9V136.9M591.4 133.3V138.1M591.8 133.7V141.3M592.9 132.3V141.4M594 133.9V138.7M594.3 134.3V138.9M594.8 132.5V139.6M595.9 133.6V140.8M596.5 133.1V137M596.9 133.1V136.3M598.6 134.2V141.1M598.8 134.1V138.9M599.3 132.7V136.8M599.9 134.1V136.2M600.6 133.7V136.5M600.8 134.3V141.2M601.5 134.4V136.4M602.1 133.8V137.5M602.6 133.4V136.3M602.9 132.3V138.6M603.5 133.9V138.7M603.9 132.5V135.1M605.3 133.2V135.1M606.3 133.8V137.6M607.2 133.9V137.1M608 133.6V140.4M608.3 133.8V139.9M609 133.2V140.3M609.6 133.6V138.9M609.9 133.5V135.9M611.1 132.8V139.9M611.6 133.5V139.7M612 132.5V138.3M612.5 132.2V136.1M613.4 132.7V137.6M614.1 132.8V140.9M614.4 132.6V138.3M615 132.7V135.4M615.3 133.8V139.3M616 132.9V137.8M616.5 132.4V140M617.1 133.9V135.8M617.4 132.4V138.7M617.8 132.4V141.2M618.4 133.3V134.5M619 132.3V134.8M620.2 134.1V138.8M620.5 132.9V135.7M621.1 134.3V138.7M622 133.3V138.5M622.5 134.1V135.9M622.8 134.3V139.4M623.4 133.9V140.5M624 134.2V138.2M624.7 133.1V140.2M624.9 134.2V136.7M625.5 132.7V138.3M626 133.4V136.5M626.5 133.1V139M627.5 132.6V138.2M627.9 134.3V137.3M628.4 132.9V139.5M628.9 132.5V136.1M630.4 133.4V137.1M631.9 132.6V137.8M632.6 134V139.2M633 132.4V141.3M633.3 134.3V139.4M633.9 133.9V138.7M634.6 133.7V137.3M635 132.2V138M635.6 134.1V137.3M636 132.6V138.5M636.4 133.9V136.3M637 133.4V137.8M637.5 133V138.9M637.9 132.7V136.4M638.6 134.3V136.7M639 132.8V140.8M639.3 134V138.9M640 133.2V137.1M640.5 133.5V139.2M641 133.1V138.3M641.6 133.1V135.9M641.9 132.2V136.5M642.9 133.6V135.7M643.3 134.4V140.3M643.8 134.2V139.6M644.5 133V140.4M645.1 133.9V138.6M646.1 132.5V139.6M646.6 133V137.5M647.1 133.6V140.5M647.7 134.4V138.4M648 133.7V136.2M648.6 132.7V136.5M649.1 133.5V138.9M650 134.1V134.9M650.6 134.1V139.9M651.1 134.3V137.7M651.7 134.1V140.2M651.8 134V138.8M652.6 132.7V141M652.8 134V140.8M653.5 133.6V134.8M654.1 132.4V135.2M654.4 134V138M655 133.4V135.6M655.4 131.8V140.2M656.2 132.6V134.8M656.5 132.1V135.6M657 131.4V136.9M657.3 131.6V136.7M658.2 130.8V138.1M658.5 130V136.8M659.1 130.6V136.3M660 130.9V135.9M660.7 132.2V138.9M660.8 132.8V137.5M661.6 133.3V133.6M662.2 133.3V134M662.4 133.4V138.9M662.9 132V138.2M663.5 132.9V139M663.9 133.1V141.2M664.3 132.4V137.3M665.2 132.8V139.1M665.6 132.9V135.7M665.9 132.8V138.2M666.6 132.9V139.9M667 134.3V140.1M667.4 133.5V139.5M668.6 132.3V134.5M669 133.9V134.9M669.4 132.9V134.7M670.2 134.2V136.5M670.5 132.5V139.2M670.9 133.9V139.3M671.5 133.1V139.5M672.1 132.4V135.8M673.2 132.9V138.9M673.6 132.7V138.2M674.1 134.2V138.6M674.4 132.7V136.2M674.9 133.8V137.8M675.6 134.2V139.1M676 134V139.9M676.4 133V136.2M677.6 132.9V139.1M677.8 134.1V138.3M678.4 134.4V137.7M679.4 132.8V134.6M679.8 133.5V138.1M680.6 133.9V139.2M680.9 133.3V139.6" stroke="#000000" stroke-width="0.7" fill="none"/>
<line x1="514.50" y1="14.00" x2="518.00" y2="14.00" stroke="#1a1a1a" stroke-width="0.9"/>
<line x1="514.50" y1="31.84" x2="518.00" y2="31.84" stroke="#1a1a1a" stroke-width="0.9"/>
<line x1="514.50" y1="49.68" x2="518.00" y2="49.68" stroke="#1a1a1a" stroke-width="0.9"/>
<line x1="514.50" y1="67.52" x2="518.00" y2="67.52" stroke="#1a1a1a" stroke-width="0.9"/>
<line x1="514.50" y1="85.36" x2="518.00" y2="85.36" stroke="#1a1a1a" stroke-width="0.9"/>
<line x1="514.50" y1="103.20" x2="518.00" y2="103.20" stroke="#1a1a1a" stroke-width="0.9"/>
<line x1="514.50" y1="121.04" x2="518.00" y2="121.04" stroke="#1a1a1a" stroke-width="0.9"/>
<line x1="514.50" y1="138.88" x2="518.00" y2="138.88" stroke="#1a1a1a" stroke-width="0.9"/>
<line x1="525.90" y1="144.20" x2="525.90" y2="141.20" stroke="#1a1a1a" stroke-width="0.9"/>
<line x1="581.30" y1="144.20" x2="581.30" y2="141.20" stroke="#1a1a1a" stroke-width="0.9"/>
<line x1="636.70" y1="144.20" x2="636.70" y2="141.20" stroke="#1a1a1a" stroke-width="0.9"/>
<rect x="514.50" y="7.40" width="178.00" height="136.80" fill="none" stroke="#1a1a1a" stroke-width="1.0"/>
<text x="525.90" y="155.80" font-size="9.5" fill="#151515" stroke="#151515" stroke-width="0.2" text-anchor="middle" textLength="24.90" lengthAdjust="spacing">1200</text>
<text x="581.30" y="155.80" font-size="9.5" fill="#151515" stroke="#151515" stroke-width="0.2" text-anchor="middle" textLength="24.90" lengthAdjust="spacing">1250</text>
<text x="636.70" y="155.80" font-size="9.5" fill="#151515" stroke="#151515" stroke-width="0.2" text-anchor="middle" textLength="24.90" lengthAdjust="spacing">1300</text>
<text x="692.10" y="155.80" font-size="9.5" fill="#151515" stroke="#151515" stroke-width="0.2" text-anchor="middle" textLength="24.90" lengthAdjust="spacing">1350</text>
<text x="540.80" y="170.10" font-size="13" fill="#151515" stroke="#151515" stroke-width="0.2" textLength="125.50" lengthAdjust="spacing">W avelength (nm)</text>
<text x="504.60" y="142.70" font-size="14.5" fill="#151515" stroke="#151515" stroke-width="0.2" textLength="128.80" lengthAdjust="spacing" transform="rotate(-90 504.60 142.70)">Spectral power (dBm)</text>
<path d="M523.80,14.80 H520.00 V31.60 H523.80" fill="none" stroke="#111" stroke-width="2"/>
<text x="525.60" y="28.80" font-size="14" fill="#151515" stroke="#151515" stroke-width="0.2" textLength="50.10" lengthAdjust="spacing">40dBm</text>
<line x1="584.20" y1="13.40" x2="616.00" y2="13.40" stroke="#5050f0" stroke-width="0.75"/>
<text x="620.20" y="17.60" font-size="11.5" fill="#151515" stroke="#151515" stroke-width="0.2" textLength="37.40" lengthAdjust="spacing">80 mA</text>
<line x1="584.20" y1="27.60" x2="616.00" y2="27.60" stroke="#f05a5a" stroke-width="0.75"/>
<text x="620.20" y="31.60" font-size="11.5" fill="#151515" stroke="#151515" stroke-width="0.2" textLength="37.40" lengthAdjust="spacing">65 mA</text>
<line x1="584.20" y1="41.60" x2="616.00" y2="41.60" stroke="#505050" stroke-width="0.75"/>
<text x="620.20" y="45.20" font-size="11.5" fill="#151515" stroke="#151515" stroke-width="0.2" textLength="37.40" lengthAdjust="spacing">45 mA</text>
<line x1="487.80" y1="246.30" x2="494.80" y2="246.30" stroke="#1a1a1a" stroke-width="1.0"/>
<line x1="487.80" y1="213.36" x2="494.80" y2="213.36" stroke="#1a1a1a" stroke-width="1.0"/>
<line x1="487.80" y1="180.42" x2="494.80" y2="180.42" stroke="#1a1a1a" stroke-width="1.0"/>
<line x1="487.80" y1="147.48" x2="494.80" y2="147.48" stroke="#1a1a1a" stroke-width="1.0"/>
<line x1="487.80" y1="114.54" x2="494.80" y2="114.54" stroke="#1a1a1a" stroke-width="1.0"/>
<line x1="487.80" y1="81.60" x2="494.80" y2="81.60" stroke="#1a1a1a" stroke-width="1.0"/>
<line x1="487.80" y1="48.66" x2="494.80" y2="48.66" stroke="#1a1a1a" stroke-width="1.0"/>
<line x1="487.80" y1="15.72" x2="494.80" y2="15.72" stroke="#1a1a1a" stroke-width="1.0"/>
<line x1="522.00" y1="259.10" x2="522.00" y2="253.80" stroke="#1a1a1a" stroke-width="1.0"/>
<line x1="591.70" y1="259.10" x2="591.70" y2="253.80" stroke="#1a1a1a" stroke-width="1.0"/>
<line x1="661.40" y1="259.10" x2="661.40" y2="253.80" stroke="#1a1a1a" stroke-width="1.0"/>
<line x1="731.10" y1="259.10" x2="731.10" y2="253.80" stroke="#1a1a1a" stroke-width="1.0"/>
<line x1="800.80" y1="259.10" x2="800.80" y2="253.80" stroke="#1a1a1a" stroke-width="1.0"/>
<rect x="487.80" y="7.40" width="329.90" height="251.70" fill="none" stroke="#1a1a1a" stroke-width="1.1"/>
<text x="478.50" y="250.80" font-size="15.8" fill="#151515" stroke="#151515" stroke-width="0.2" text-anchor="end">0</text>
<text x="478.50" y="217.86" font-size="15.8" fill="#151515" stroke="#151515" stroke-width="0.2" text-anchor="end">2</text>
<text x="478.50" y="184.92" font-size="15.8" fill="#151515" stroke="#151515" stroke-width="0.2" text-anchor="end">4</text>
<text x="478.50" y="151.98" font-size="15.8" fill="#151515" stroke="#151515" stroke-width="0.2" text-anchor="end">6</text>
<text x="478.50" y="119.04" font-size="15.8" fill="#151515" stroke="#151515" stroke-width="0.2" text-anchor="end">8</text>
<text x="478.50" y="86.10" font-size="15.8" fill="#151515" stroke="#151515" stroke-width="0.2" text-anchor="end" textLength="17.00" lengthAdjust="spacing">10</text>
<text x="478.50" y="53.16" font-size="15.8" fill="#151515" stroke="#151515" stroke-width="0.2" text-anchor="end" textLength="17.00" lengthAdjust="spacing">12</text>
<text x="478.50" y="20.22" font-size="15.8" fill="#151515" stroke="#151515" stroke-width="0.2" text-anchor="end" textLength="17.00" lengthAdjust="spacing">14</text>
<text x="520.80" y="276.80" font-size="15.8" fill="#151515" stroke="#151515" stroke-width="0.2" text-anchor="middle">0</text>
<text x="590.50" y="276.80" font-size="15.8" fill="#151515" stroke="#151515" stroke-width="0.2" text-anchor="middle" textLength="18.00" lengthAdjust="spacing">20</text>
<text x="660.20" y="276.80" font-size="15.8" fill="#151515" stroke="#151515" stroke-width="0.2" text-anchor="middle" textLength="18.00" lengthAdjust="spacing">40</text>
<text x="729.90" y="276.80" font-size="15.8" fill="#151515" stroke="#151515" stroke-width="0.2" text-anchor="middle" textLength="18.00" lengthAdjust="spacing">60</text>
<text x="799.60" y="276.80" font-size="15.8" fill="#151515" stroke="#151515" stroke-width="0.2" text-anchor="middle" textLength="18.00" lengthAdjust="spacing">80</text>
<text x="451.60" y="229.50" font-size="20" fill="#151515" stroke="#151515" stroke-width="0.2" textLength="166.30" lengthAdjust="spacing" transform="rotate(-90 451.60 229.50)">Output power (mW)</text>
<path d="M542.6 245.5L544.9 245.5M551.3 245.5L553.6 245.5M560.1 245.5L562.4 245.5M568.8 245.5L571.1 245.5M577.5 245.5L579.8 245.5M586.2 245.5L588.5 245.5M594.9 245.4L605.9 245.3M612.3 245.2L623.4 244.8M663.2 215.3L666.6 210.1M670.3 204.9L676.9 196.5M680.7 191.3L694.4 172.2M698.0 166.9L711.9 145.5M715.5 140.2L729.3 120.5M733.0 115.3L746.6 96.9M750.6 91.8L763.9 75.5M768.1 70.7L781.2 56.1M785.6 51.4L798.6 37.8" fill="none" stroke="#333" stroke-width="0.6"/>
<rect x="519.00" y="243.28" width="6.0" height="4.4" fill="#000"/>
<rect x="520.74" y="243.28" width="6.0" height="4.4" fill="#000"/>
<rect x="522.49" y="243.28" width="6.0" height="4.4" fill="#000"/>
<rect x="524.23" y="243.28" width="6.0" height="4.4" fill="#000"/>
<rect x="525.97" y="243.28" width="6.0" height="4.4" fill="#000"/>
<rect x="527.71" y="243.28" width="6.0" height="4.4" fill="#000"/>
<rect x="529.46" y="243.28" width="6.0" height="4.4" fill="#000"/>
<rect x="531.20" y="243.28" width="6.0" height="4.4" fill="#000"/>
<rect x="536.42" y="243.28" width="6.0" height="4.4" fill="#000"/>
<rect x="545.14" y="243.28" width="6.0" height="4.4" fill="#000"/>
<rect x="553.85" y="243.28" width="6.0" height="4.4" fill="#000"/>
<rect x="562.56" y="243.28" width="6.0" height="4.4" fill="#000"/>
<rect x="571.27" y="243.28" width="6.0" height="4.4" fill="#000"/>
<rect x="579.99" y="243.28" width="6.0" height="4.4" fill="#000"/>
<rect x="588.70" y="243.28" width="6.0" height="4.4" fill="#000"/>
<rect x="606.12" y="243.11" width="6.0" height="4.4" fill="#000"/>
<rect x="623.55" y="242.45" width="6.0" height="4.4" fill="#000"/>
<rect x="627.03" y="241.96" width="6.0" height="4.4" fill="#000"/>
<rect x="630.52" y="240.97" width="6.0" height="4.4" fill="#000"/>
<rect x="634.00" y="239.82" width="6.0" height="4.4" fill="#000"/>
<rect x="637.49" y="238.34" width="6.0" height="4.4" fill="#000"/>
<rect x="640.98" y="236.85" width="6.0" height="4.4" fill="#000"/>
<rect x="644.46" y="233.72" width="6.0" height="4.4" fill="#000"/>
<rect x="647.94" y="229.28" width="6.0" height="4.4" fill="#000"/>
<rect x="651.43" y="224.83" width="6.0" height="4.4" fill="#000"/>
<rect x="654.91" y="220.05" width="6.0" height="4.4" fill="#000"/>
<rect x="658.40" y="215.77" width="6.0" height="4.4" fill="#000"/>
<rect x="665.37" y="205.23" width="6.0" height="4.4" fill="#000"/>
<rect x="675.83" y="191.73" width="6.0" height="4.4" fill="#000"/>
<rect x="693.25" y="167.35" width="6.0" height="4.4" fill="#000"/>
<rect x="710.67" y="140.67" width="6.0" height="4.4" fill="#000"/>
<rect x="728.10" y="115.63" width="6.0" height="4.4" fill="#000"/>
<rect x="745.52" y="92.08" width="6.0" height="4.4" fill="#000"/>
<rect x="762.95" y="70.84" width="6.0" height="4.4" fill="#000"/>
<rect x="780.38" y="51.57" width="6.0" height="4.4" fill="#000"/>
<rect x="797.80" y="33.28" width="6.0" height="4.4" fill="#000"/>
<text x="785.50" y="25.00" font-size="19.5" fill="#151515" stroke="#151515" stroke-width="0.2" textLength="28.30" lengthAdjust="spacing">(b)</text>
<text x="748.00" y="123.60" font-size="20" fill="#1515b4" stroke="#1515b4" stroke-width="0.2" textLength="30.70" lengthAdjust="spacing">GS</text>
<text x="716.40" y="179.70" font-size="20" fill="#151515" stroke="#151515" stroke-width="0.2" textLength="83.00" lengthAdjust="spacing">p-doped</text>
<text x="709.30" y="241.00" font-size="20" fill="#151515" stroke="#151515" stroke-width="0.2" textLength="75.70" lengthAdjust="spacing">500 µm</text>
<path d="M93.4 354.6 93.9 354.9 94.4 355.1 94.9 355.1 95.4 355.3 95.9 355 96.4 355.2 96.9 355.8 97.4 355.5 97.9 355.7 98.4 355.7 98.9 355.6 99.4 355.2 99.9 355.2 100.4 355 100.9 355.3 101.4 355.8 101.9 355.6 102.4 355.5 102.9 355.1 103.4 355.5 103.9 355.3 104.4 355.8 104.9 355.6 105.4 355.4 105.9 355.1 106.4 355.6 106.9 355.4 107.4 355.3 107.9 354.9 108.4 355.6 108.9 355.2 109.4 354.9 109.9 355 110.4 355 110.9 355.2 111.4 355.1 111.9 355.4 112.4 355.4 112.9 355.6 113.4 355.1 113.9 355.8 114.4 355.1 114.9 355.3 115.4 355.2 115.9 355.4 116.4 355.6 116.9 355.5 117.4 355.2 117.9 355.3 118.4 355.2 118.9 355.6 119.4 355.1 119.9 355.4 120.4 355.2 120.9 355.4 121.4 354.6 121.9 355.2 122.4 355.3 122.9 355.5 123.4 354.7 123.9 355.3 124.4 355.5 124.9 355.2 125.4 355.4 125.9 355.7 126.4 355 126.9 355.3 127.4 355 127.9 355.8 128.4 354.8 128.9 355.4 129.4 355.6 129.9 355.4 130.4 355.7 130.9 354.3 131.4 355.5 131.9 355.3 132.4 355.5 132.9 355.6 133.4 355.7 133.9 355.6 134.4 355.4 134.9 355.1 135.4 355.7 135.9 355.2 136.4 355.3 136.9 355.4 137.4 355.1 137.9 355.7 138.4 355.1 138.9 355.6 139.4 355.1 139.9 355.4 140.4 354.8 140.9 355.7 141.4 355.1 141.9 355.7 142.4 355.5 142.9 355.4 143.4 355.4 143.9 354.6 144.4 355.8 144.9 355.7 145.4 355.4 145.9 355.1 146.4 355.3 146.9 355.3 147.4 355.2 147.9 355.1 148.4 355.5 148.9 354.7 149.4 355.2 149.9 355.6 150.4 354.7 150.9 355 151.4 355.1 151.9 355.1 152.4 355.8 152.9 355.7 153.4 355.7 153.9 355.3 154.4 355.7 154.9 355 155.4 355.5 155.9 354.6 156.4 355.4 156.9 355.4 157.4 355.5 157.9 355.8 158.4 355.3 158.9 355.3 159.4 355.6 159.9 355.1 160.4 355.5 160.9 355.4 161.4 355.2 161.9 355.8 162.4 355.2 162.9 355.5 163.4 355.8 163.9 355.5 164.4 355.8 164.9 355.1 165.4 355.4 165.9 355.8 166.4 355.6 166.9 355.3 167.4 355.3 167.9 354.5 168.4 355.2 168.9 355.6 169.4 355.1 169.9 355.1 170.4 355.1 170.9 355.7 171.4 355.6 171.9 355 172.4 355.8 172.9 355.2 173.4 355.2 173.9 355.7 174.4 355.8 174.9 354.3 175.4 355.5 175.9 355.3 176.4 355.2 176.9 355.5 177.4 355.3 177.9 355.3 178.4 355.2 178.9 355.2 179.4 355.2 179.9 355.7 180.4 355.2 180.9 355.2 181.4 355.5 181.9 355.6 182.4 355.6 182.9 355.4 183.4 355 183.9 355.6 184.4 355.2 184.9 355.5 185.4 355.5 185.9 354.6 186.4 355.7 186.9 355.6 187.4 354.4 187.9 355.3 188.4 355.5 188.9 355.1 189.4 355 189.9 355.5 190.4 355.2 190.9 355.4 191.4 355.3 191.9 355.2 192.4 355.7 192.9 355.7 193.4 355.6 193.9 355.2 194.4 355.5 194.9 355.4 195.4 355.7 195.9 355.5 196.4 355.7 196.9 355.7 197.4 355.3 197.9 355.2 198.4 355 198.9 355.6 199.4 355.3 199.9 355 200.4 355.6 200.9 355.8 201.4 355.7 201.9 355.4 202.4 355.2 202.9 355.5 203.4 355.2 203.9 355.2 204.4 355.1 204.9 354.9 205.4 355.2 205.9 355.3 206.4 355.1 206.9 355.2 207.4 355.1 207.9 355.5 208.4 355.5 208.9 355.8 209.4 355.5 209.9 354.9 210.4 355.8 210.9 355.8 211.4 355.2 211.9 355.8 212.4 355.6 212.9 355.5 213.4 355.7 213.9 355.3 214.4 355.2 214.9 355.4 215.4 355 215.9 355.2 216.4 355.7 216.9 355.2 217.4 355.4 217.9 355.7 218.4 355.4 218.9 355.4 219.4 355.8 219.9 355.1 220.4 355.7 220.9 354.3 221.4 355.7 221.9 355.6 222.4 355.3 222.9 355.8 223.4 355.1 223.9 355.4 224.4 355.6 224.9 355.6 225.4 355.5 225.9 355.2 226.4 355.7 226.9 355.7 227.4 355.2 227.9 355.6 228.4 355.7 228.9 355.7 229.4 355.3 229.9 355.3 230.4 355.5 230.9 355.8 231.4 355.3 231.9 355.7 232.4 355.2 232.9 355.5 233.4 355.3 233.9 355.7 234.4 355.1 234.9 355.2 235.4 355.7 235.9 355.4 236.4 355.8 236.9 355.5 237.4 355.1 237.9 355.6 238.4 355 238.9 355 239.4 354.4 239.9 355.3 240.4 355.7 240.9 355.3 241.4 355.4 241.9 355.3 242.4 355.5 242.9 355 243.4 355.4 243.9 355 244.4 355.5 244.9 355.7 245.4 355.3 245.9 355.8 246.4 354.6 246.9 355.5 247.4 355.1 247.9 355.2 248.4 355.2 248.9 355.5 249.4 355.2 249.9 355.4 250.4 355.5 250.9 355.1 251.3 355.6 251.3 362.8 250.9 361.3 250.4 361.2 249.9 363.1 249.4 361.4 248.9 362.2 248.4 362 247.9 361.5 247.4 362 246.9 362.8 246.4 361.3 245.9 362.8 245.4 361.2 244.9 362.5 244.4 361.4 243.9 361.6 243.4 363.2 242.9 362.6 242.4 363.1 241.9 361.9 241.4 362.9 240.9 363.1 240.4 361.5 239.9 361.1 239.4 362.9 238.9 362.2 238.4 363.2 237.9 362.2 237.4 361.3 236.9 362.9 236.4 362.3 235.9 362.2 235.4 361.8 234.9 362.3 234.4 361.4 233.9 363.2 233.4 363.3 232.9 361.2 232.4 361.9 231.9 361.6 231.4 361.6 230.9 362.7 230.4 363.3 229.9 361.1 229.4 362.4 228.9 361.9 228.4 363.2 227.9 363.2 227.4 361.5 226.9 362.3 226.4 362.8 225.9 363.3 225.4 362.4 224.9 362.4 224.4 361.4 223.9 362.5 223.4 362.4 222.9 361.9 222.4 362.6 221.9 361.9 221.4 362.7 220.9 361.6 220.4 363 219.9 361.8 219.4 363.2 218.9 361.9 218.4 362.4 217.9 363.1 217.4 361.2 216.9 361.7 216.4 361.5 215.9 362.5 215.4 362.3 214.9 362.9 214.4 362.1 213.9 361.5 213.4 362.5 212.9 362.5 212.4 361.2 211.9 362.6 211.4 363.1 210.9 363 210.4 363 209.9 363.1 209.4 361.9 208.9 361.7 208.4 361.1 207.9 361.4 207.4 362.8 206.9 361.4 206.4 361.7 205.9 363.1 205.4 363.1 204.9 361.3 204.4 362.4 203.9 361.2 203.4 363.1 202.9 363.1 202.4 362.8 201.9 363.3 201.4 361.4 200.9 363.2 200.4 362.9 199.9 363.1 199.4 362.5 198.9 362.2 198.4 363.2 197.9 362.2 197.4 361.2 196.9 362.7 196.4 362.2 195.9 361.3 195.4 362.6 194.9 362.3 194.4 362.8 193.9 361.1 193.4 361.9 192.9 362.2 192.4 362.7 191.9 361.1 191.4 362.2 190.9 363.1 190.4 363.2 189.9 362.2 189.4 361.3 188.9 362.7 188.4 362.9 187.9 362.1 187.4 361.8 186.9 362.6 186.4 363.2 185.9 361.8 185.4 362.1 184.9 362.9 184.4 362.1 183.9 362.8 183.4 361.9 182.9 363 182.4 362.9 181.9 361.4 181.4 361.8 180.9 361.3 180.4 362.7 179.9 362 179.4 361.1 178.9 362.4 178.4 362.7 177.9 362.9 177.4 361.2 176.9 362 176.4 362.8 175.9 361.3 175.4 362.6 174.9 362.4 174.4 361.6 173.9 362.9 173.4 362.9 172.9 362.6 172.4 363 171.9 362.1 171.4 363.3 170.9 361.4 170.4 361.9 169.9 361.3 169.4 361.4 168.9 361.9 168.4 361.7 167.9 362.2 167.4 361.4 166.9 362.4 166.4 361.5 165.9 362.6 165.4 362.1 164.9 362 164.4 362.5 163.9 361.2 163.4 362.5 162.9 362.6 162.4 361.4 161.9 363.2 161.4 363.3 160.9 361.2 160.4 362.1 159.9 362.4 159.4 362.1 158.9 361.8 158.4 362.3 157.9 362.7 157.4 363.2 156.9 361.6 156.4 361.5 155.9 362.6 155.4 362.6 154.9 363.1 154.4 361.7 153.9 362.7 153.4 363.1 152.9 361.6 152.4 362.7 151.9 361.4 151.4 362.2 150.9 362.9 150.4 361.8 149.9 361.9 149.4 361.3 148.9 362.5 148.4 363 147.9 362.7 147.4 363 146.9 362.6 146.4 362.9 145.9 361.9 145.4 362.1 144.9 361.4 144.4 362.3 143.9 361.4 143.4 363.2 142.9 362.4 142.4 361.7 141.9 362.3 141.4 362.4 140.9 362.8 140.4 361.8 139.9 362.6 139.4 362.3 138.9 361.3 138.4 361.7 137.9 362.8 137.4 361.7 136.9 361.9 136.4 361.7 135.9 363.2 135.4 361.9 134.9 363 134.4 362.1 133.9 362 133.4 363.1 132.9 362 132.4 361.2 131.9 363.2 131.4 361.8 130.9 361.2 130.4 361.8 129.9 363.1 129.4 362.2 128.9 361.2 128.4 362.3 127.9 361.2 127.4 362.2 126.9 362.9 126.4 362.6 125.9 362.7 125.4 362 124.9 362.6 124.4 363 123.9 363.2 123.4 361.5 122.9 362.3 122.4 361.6 121.9 362.4 121.4 362.8 120.9 362.1 120.4 361.2 119.9 363.2 119.4 362.5 118.9 362.8 118.4 361.9 117.9 361.9 117.4 361.9 116.9 361.7 116.4 361.2 115.9 362.8 115.4 362.7 114.9 361.9 114.4 361.4 113.9 362.4 113.4 362.7 112.9 361.4 112.4 362.1 111.9 362 111.4 362.6 110.9 361.8 110.4 361.6 109.9 363 109.4 361.7 108.9 363.3 108.4 362.8 107.9 362.7 107.4 362.5 106.9 361.7 106.4 362.1 105.9 361.8 105.4 363.3 104.9 362.8 104.4 362.1 103.9 362.5 103.4 361.3 102.9 363.1 102.4 362.6 101.9 361.5 101.4 363.3 100.9 362.9 100.4 361.8 99.9 361.6 99.4 362.7 98.9 362.5 98.4 361.2 97.9 361.5 97.4 363.2 96.9 361.6 96.4 361.9 95.9 362 95.4 361.3 94.9 362.1 94.4 362.6 93.9 362.8 93.4 362.6Z" fill="#0000ff"/>
<path d="M93.4 354.8 93.9 355.1 94.4 355.3 94.9 355.3 95.4 355.5 95.9 355.1 96.4 355.2 96.9 355.8 97.4 355.5 97.9 355.6 98.4 355.6 98.9 355.5 99.4 355 99.9 355 100.4 354.8 100.9 355 101.4 355.4 101.9 355.2 102.4 355 102.9 354.5 103.4 354.8 103.9 354.6 104.4 354.9 104.9 354.7 105.4 354.3 105.9 353.9 106.4 354.2 106.9 353.9 107.4 353.6 107.9 353 108.4 353.4 108.9 352.8 109.4 352.2 109.9 352 110.4 351.6 110.9 351.3 111.4 350.8 111.9 350.5 112.4 349.8 112.9 349.2 113.4 347.8 113.9 347.4 114.4 345.6 114.9 344.3 115.4 342.6 115.9 340.9 116.4 338.9 116.9 336.6 117.4 334 117.9 332 118.4 330.1 118.9 329.5 119.4 328.9 119.9 330.1 120.4 331.5 120.9 333.7 121.4 335.2 121.9 338.1 122.4 340.3 122.9 342.4 123.4 343.3 123.9 345.4 124.4 346.9 124.9 347.7 125.4 348.9 125.9 349.9 126.4 350 126.9 350.8 127.4 351.1 127.9 352.3 128.4 351.7 128.9 352.6 129.4 353.2 129.9 353.2 130.4 353.7 130.9 352.5 131.4 353.9 131.9 353.9 132.4 354.3 132.9 354.5 133.4 354.7 133.9 354.7 134.4 354.7 134.9 354.4 135.4 355.1 135.9 354.7 136.4 354.9 136.9 355 137.4 354.8 137.9 355.5 138.4 354.9 138.9 355.5 139.4 355 139.9 355.3 140.4 354.7 140.9 355.7 141.4 355.1 141.9 355.7 142.4 355.6 142.9 355.6 143.4 355.6 143.9 354.8 144.4 356 144.9 355.9 145.4 355.6 145.9 355.4 146.4 355.6 146.9 355.6 147.4 355.5 147.9 355.5 148.4 355.8 148.9 355.1 149.4 355.6 149.9 356 150.4 355.1 150.9 355.5 151.4 355.5 151.9 355.5 151.9 356.6 151.4 356.6 150.9 356.5 150.4 356.2 149.9 357.1 149.4 356.7 148.9 356.2 148.4 357 147.9 356.6 147.4 356.7 146.9 356.8 146.4 356.8 145.9 356.6 145.4 356.9 144.9 357.2 144.4 357.3 143.9 356.1 143.4 356.9 142.9 356.9 142.4 357 141.9 357.2 141.4 356.6 140.9 357.2 140.4 356.3 139.9 356.9 139.4 356.6 138.9 357.1 138.4 356.6 137.9 357.2 137.4 356.6 136.9 356.9 136.4 356.8 135.9 356.7 135.4 357.2 134.9 356.6 134.4 356.9 133.9 357.1 133.4 357.2 132.9 357.1 132.4 357 131.9 356.8 131.4 357 130.9 355.8 130.4 357.2 129.9 356.9 129.4 357.1 128.9 356.9 128.4 356.3 127.9 357.3 127.4 356.5 126.9 356.8 126.4 356.5 125.9 357.2 125.4 356.9 124.9 356.7 124.4 357 123.9 356.8 123.4 356.2 122.9 357 122.4 356.8 121.9 356.7 121.4 356.1 120.9 356.9 120.4 356.7 119.9 356.9 119.4 356.6 118.9 357.1 118.4 356.7 117.9 356.8 117.4 356.7 116.9 357 116.4 357.1 115.9 356.9 115.4 356.7 114.9 356.8 114.4 356.6 113.9 357.3 113.4 356.6 112.9 357.1 112.4 356.9 111.9 356.9 111.4 356.6 110.9 356.7 110.4 356.5 109.9 356.5 109.4 356.4 108.9 356.7 108.4 357.1 107.9 356.4 107.4 356.8 106.9 356.9 106.4 357.1 105.9 356.6 105.4 356.9 104.9 357.1 104.4 357.3 103.9 356.8 103.4 357 102.9 356.6 102.4 357 101.9 357.1 101.4 357.3 100.9 356.8 100.4 356.5 99.9 356.7 99.4 356.7 98.9 357.1 98.4 357.2 97.9 357.2 97.4 357 96.9 357.3 96.4 356.7 95.9 356.5 95.4 356.8 94.9 356.6 94.4 356.6 93.9 356.4 93.4 356.1Z" fill="#0000ff" fill-opacity="0.5"/>
<path d="M93.4 355.1 93.9 355.4 94.4 355.6 94.9 355.6 95.4 355.8 95.9 355.5 96.4 355.7 96.9 356.3 97.4 356 97.9 356.2 98.4 356.2 98.9 356.1 99.4 355.7 99.9 355.7 100.4 355.5 100.9 355.8 101.4 356.3 101.9 356.1 102.4 356 102.9 355.6 103.4 356 103.9 355.8 104.4 356.3 104.9 356.1 105.4 355.8 105.9 355.6 106.4 356.1 106.9 355.9 107.4 355.8 107.9 355.4 108.4 356 108.9 355.7 109.4 355.4 109.9 355.5 110.4 355.5 110.9 355.6 111.4 355.6 111.9 355.8 112.4 355.7 112.9 355.8 113.4 355.2 113.9 355.6 114.4 354.7 114.9 354.3 115.4 353.4 115.9 352.2 116.4 350.2 116.9 347 117.4 342.4 117.9 337.5 118.4 332.4 118.9 329.5 119.4 328.6 119.9 331.7 120.4 336.2 120.9 341.5 121.4 345.2 121.9 349.2 122.4 351.7 122.9 353.4 123.4 353.5 123.9 354.7 124.4 355.4 124.9 355.3 125.4 355.7 125.9 356 126.4 355.4 126.9 355.7 127.4 355.5 127.9 356.3 128.4 355.3 128.9 355.8 129.4 356.1 129.9 355.9 130.4 356.2 130.9 354.8 131.4 355.9 131.9 355.8 132.4 356 132.9 356.1 133.4 356.2 133.9 356.1 134.4 355.9 134.9 355.6 135.4 356.2 135.9 355.7 136.4 355.8 136.9 355.9 137.4 355.6 137.9 356.2 138.4 355.6 138.9 356.1 139.4 355.6 139.9 355.9 140.4 355.3 140.9 356.2 141.4 355.6 141.9 356.2 142.4 356 142.9 355.9 143.4 355.9 143.9 355.1 144.4 356.3 144.9 356.2 145.4 355.9 145.9 355.6 146.4 355.8 146.9 355.8 147.4 355.7 147.9 355.6 148.4 356 148.9 355.2 149.4 355.7 149.9 356.1 150.4 355.2 150.9 355.5 151.4 355.6 151.9 355.6 151.9 356.6 151.4 356.6 150.9 356.5 150.4 356.2 149.9 357.1 149.4 356.7 148.9 356.2 148.4 357 147.9 356.6 147.4 356.7 146.9 356.8 146.4 356.8 145.9 356.6 145.4 356.9 144.9 357.2 144.4 357.3 143.9 356.1 143.4 356.9 142.9 356.9 142.4 357 141.9 357.2 141.4 356.6 140.9 357.2 140.4 356.3 139.9 356.9 139.4 356.6 138.9 357.1 138.4 356.6 137.9 357.2 137.4 356.6 136.9 356.9 136.4 356.8 135.9 356.7 135.4 357.2 134.9 356.6 134.4 356.9 133.9 357.1 133.4 357.2 132.9 357.1 132.4 357 131.9 356.8 131.4 357 130.9 355.8 130.4 357.2 129.9 356.9 129.4 357.1 128.9 356.9 128.4 356.3 127.9 357.3 127.4 356.5 126.9 356.8 126.4 356.5 125.9 357.2 125.4 356.9 124.9 356.7 124.4 357 123.9 356.8 123.4 356.2 122.9 357 122.4 356.8 121.9 356.7 121.4 356.1 120.9 356.9 120.4 356.7 119.9 356.9 119.4 356.6 118.9 357.1 118.4 356.7 117.9 356.8 117.4 356.7 116.9 357 116.4 357.1 115.9 356.9 115.4 356.7 114.9 356.8 114.4 356.6 113.9 357.3 113.4 356.6 112.9 357.1 112.4 356.9 111.9 356.9 111.4 356.6 110.9 356.7 110.4 356.5 109.9 356.5 109.4 356.4 108.9 356.7 108.4 357.1 107.9 356.4 107.4 356.8 106.9 356.9 106.4 357.1 105.9 356.6 105.4 356.9 104.9 357.1 104.4 357.3 103.9 356.8 103.4 357 102.9 356.6 102.4 357 101.9 357.1 101.4 357.3 100.9 356.8 100.4 356.5 99.9 356.7 99.4 356.7 98.9 357.1 98.4 357.2 97.9 357.2 97.4 357 96.9 357.3 96.4 356.7 95.9 356.5 95.4 356.8 94.9 356.6 94.4 356.6 93.9 356.4 93.4 356.1Z" fill="#0000ff"/>
<path d="M99.9 356.2V354.5M100.4 356V354M100.9 356.3V354.5M102.4 356.5V354.4M102.9 356.1V354.2M103.4 356.5V354.6M106.9 356.4V353.1M111.9 356.4V351.4M112.4 356.4V349.9M112.9 356.6V349.4M115.4 356.2V347M116.9 356.5V340.9M117.9 356.3V334.6M120.4 356.2V332.7M120.9 356.4V340.2M123.9 356.3V345.4M125.4 356.4V349.6M126.4 356V349.8M126.9 356.3V352M127.9 356.8V353.1M130.4 356.7V354.1M133.4 356.7V354.1M134.4 356.4V354.5M134.9 356.1V353.8M135.9 356.2V354.2M138.4 356.1V354.3" stroke="#0000ff" stroke-width="0.55" fill="none"/>
<path d="M93.2 361.6V368.9M93.7 361.8V362.6M94.5 361.6V367M94.9 361.1V363M95.3 360.3V364.9M95.7 361V365M96.7 360.6V369M97.6 362.2V367.1M97.9 360.5V364.8M98.3 360.2V364M99 361.5V369.1M99.4 361.7V365.5M100 360.6V365.8M100.3 360.8V363.6M100.9 361.9V366.1M101.4 362.3V364.6M102.8 362.1V365.6M103.5 360.3V366.7M103.9 361.5V366.9M104.4 361.1V363.9M104.9 361.8V365.2M106.4 361.1V363.5M107 360.7V364.1M107.6 361.5V367M108.4 361.8V364.6M109.3 360.7V364M109.8 362V369M110.4 360.6V362.9M111 360.8V364M111.3 361.6V366.4M111.8 361V364.9M112.9 360.4V365.8M113.5 361.7V367.7M113.8 361.4V365.3M114.4 360.4V368.2M114.8 360.9V367.6M115.6 361.7V368.8M116.1 361.8V362.5M116.2 360.2V366.2M117 360.7V368.4M117.3 360.9V363.8M117.8 360.9V368.1M118.2 360.9V368.4M118.9 361.8V364.3M119.3 361.5V369.1M120.5 360.2V366M120.8 361.1V367.1M121.3 361.8V363M122 361.4V368.6M122.6 360.6V367.5M122.9 361.3V368.5M123.4 360.5V366.8M123.9 362.2V366.6M124.5 362V362.7M125 361.6V363.3M125.4 361V368M125.7 361.7V365.2M126.4 361.6V364.3M128 360.2V366.7M128.7 360.2V367.7M129.5 361.2V367.6M130 362.1V368.4M130.3 360.8V366.9M131 360.2V365.3M131.4 360.8V364.4M132 362.2V365.5M132.6 360.2V368.6M132.9 361V367.2M134 361V368.4M134.4 361.1V365.9M135 362V363.4M135.8 362.2V363.5M136.5 360.7V365.9M137 360.9V368.6M137.6 360.7V368M138 361.8V365.5M138.2 360.7V365M138.8 360.3V368.5M139.5 361.3V363.6M140.1 361.6V368.6M140.5 360.8V368.9M140.7 361.8V366.6M142.2 360.7V364M142.7 361.4V364.3M144 360.4V366.4M144.8 360.4V363.3M145.5 361.1V368.1M146.5 361.9V364.2M146.8 361.6V366.8M147.4 362V368.9M147.8 361.7V364.3M148.4 362V367.7M148.9 361.5V364.7M149.6 360.3V368.3M149.8 360.9V368M150.9 361.9V367.6M151.9 360.4V364.3M152.3 361.7V367.2M153 360.6V368.1M153.3 362.1V366.1M154 361.7V365M155 362.1V363.4M155.3 361.6V368.4M155.8 361.6V363.7M156.2 360.5V363.2M156.8 360.6V366.6M157.3 362.2V363.5M158.5 361.3V362.8M158.9 360.8V366.9M159.3 361.1V366.3M160.3 361.1V364.2M160.9 360.2V362.7M161.7 362.2V365M162.4 360.4V368M162.8 361.6V366.8M163.3 361.5V363.3M163.8 360.2V368.5M164.5 361.5V366M164.7 361V365.3M166 361.6V367M166.9 361.4V366.3M167.5 360.4V363.4M168.1 361.2V368.8M168.5 360.7V364.2M168.9 360.9V368.2M169.5 360.4V366.7M169.8 360.3V367M170.5 360.9V362.8M170.7 360.4V364.7M171.5 362.3V363.4M172.1 361.1V367.8M172.9 361.6V365.5M173.4 361.9V364.7M173.8 361.9V368.8M174.5 360.6V368.7M175.2 361.6V367.3M175.9 360.3V363.8M177 361V364.9M177.3 360.2V366M177.8 361.9V365.5M178.3 361.7V368.6M179 361.4V366.8M179.6 360.1V365.5M179.8 361V365M180.5 361.7V364.5M180.7 360.3V368.6M181.3 360.8V367.2M183 362V365.6M183.3 360.9V363.1M184 361.8V369M184.2 361.1V367.9M184.8 361.9V362.8M185.4 361.1V367.4M186.1 360.8V364.3M186.5 362.2V366.1M186.7 361.6V368.7M187.4 360.8V366.1M187.7 361.1V368.5M188.2 361.9V363.5M189.4 360.3V364.8M190 361.2V369.2M190.2 362.2V363.7M190.9 362.1V366.5M191.8 360.1V367.8M192.4 361.7V366.6M193.4 360.9V364.9M194 360.1V365.3M194.2 361.8V364.6M195.1 361.3V368.5M195.6 361.6V368.5M196 360.3V363.6M197 361.7V367.9M197.5 360.2V369M197.8 361.2V367.4M198.8 361.2V368.2M199.3 361.5V368.1M199.7 362.1V367.6M200.2 361.9V364.9M201.5 360.4V368.9M201.7 362.3V365.1M202.5 361.8V363.3M203 362.1V364.5M203.8 360.2V362.4M204.5 361.4V366.9M205 360.3V369.2M205.4 362.1V366.8M205.8 362.1V364.8M206.9 360.4V365.1M207.4 361.8V365.6M207.8 360.4V366.8M208.4 360.1V366.7M208.8 360.7V364.9M209.3 360.9V362.9M210 362.1V367.5M210.4 362V367.9M210.9 362V368.5M211.4 362.1V365.4M212.4 360.2V364.9M213 361.5V362.9M213.3 361.5V366.1M214 360.5V364.2M214.3 361.1V367.6M214.7 361.9V366.5M215.3 361.3V367.2M215.9 361.5V366.1M216.8 360.7V363.3M217.5 360.2V368.6M218.5 361.4V365.6M218.7 360.9V366.4M219.8 360.8V362.9M220.2 362V364.6M221.5 361.7V367.6M221.9 360.9V366.9M222.4 361.6V363.1M222.8 360.9V368.2M223.4 361.4V369.3M223.9 361.5V363M224.4 360.4V368.5M224.9 361.4V366.9M225.4 361.4V366.1M226.5 361.8V366.7M226.8 361.3V364.7M227.4 360.5V365.6M227.7 362.2V365.7M228.2 362.2V363.7M228.9 360.9V366.7M229.2 361.4V365.6M229.7 360.1V366.8M230.3 362.3V364.2M231 361.7V366.1M231.3 360.6V364.3M232.3 360.9V367.7M232.7 360.2V366.5M233.2 362.3V365.6M233.8 362.2V363.3M234.2 360.4V368.8M234.8 361.3V368.5M235.3 360.8V368.3M236.3 361.3V367.2M237.2 360.3V363.9M237.9 361.2V365.9M238.2 362.2V367.9M238.7 361.2V363.1M239.5 361.9V367.9M239.8 360.1V364.4M240.3 360.5V367.6M241 362.1V366.2M241.5 361.9V365.4M241.9 360.9V368.1M242.4 362.1V367.1M243.4 362.2V366.7M243.9 360.6V365.8M244.3 360.4V369.2M244.7 361.5V367.8M245.5 360.2V369.1M246 361.8V368.8M246.3 360.3V367.9M246.8 361.8V368.5M247.3 361V367.5M247.7 360.5V368M249.4 360.4V368.6M249.8 362.1V363.7M250.5 360.2V368.4M250.8 360.3V366.5M251.4 361.8V363" stroke="#0000ff" stroke-width="0.7" fill="none"/>
<path d="M93.4 398.5 93.9 399.1 94.4 398.5 94.9 398.8 95.4 397.9 95.9 398.4 96.4 399.1 96.9 398.5 97.4 398.5 97.9 398.1 98.4 398.6 98.9 399.1 99.4 398.9 99.9 398.6 100.4 398.7 100.9 398.5 101.4 398.8 101.9 398.4 102.4 398.6 102.9 397.5 103.4 399.2 103.9 399.1 104.4 398.8 104.9 399 105.4 398.8 105.9 398.9 106.4 397.4 106.9 399.2 107.4 399.2 107.9 398.5 108.4 398 108.9 398.6 109.4 398.8 109.9 398.1 110.4 398.4 110.9 398.9 111.4 398.5 111.9 399.2 112.4 398.8 112.9 399.1 113.4 397.6 113.9 399.2 114.4 398.5 114.9 398.6 115.4 399.2 115.9 399 116.4 399.2 116.9 398.4 117.4 397.8 117.9 398.7 118.4 398.8 118.9 398.6 119.4 398.7 119.9 398.7 120.4 398.6 120.9 398.8 121.4 398.8 121.9 398.6 122.4 399.2 122.9 398.8 123.4 397.8 123.9 398.9 124.4 399.2 124.9 398.8 125.4 399.1 125.9 399.1 126.4 399.1 126.9 398.7 127.4 399 127.9 398.9 128.4 398.8 128.9 398.9 129.4 398.9 129.9 399.1 130.4 398.9 130.9 398.9 131.4 398.3 131.9 398.7 132.4 398.5 132.9 398.5 133.4 398.8 133.9 398.9 134.4 398.3 134.9 398.6 135.4 399.1 135.9 398.8 136.4 398.6 136.9 399 137.4 398.8 137.9 399 138.4 398.5 138.9 398.8 139.4 398.6 139.9 398.7 140.4 398.9 140.9 398.8 141.4 399.2 141.9 399.2 142.4 398.5 142.9 398.6 143.4 398.4 143.9 398.4 144.4 399.2 144.9 398.4 145.4 398.7 145.9 398.5 146.4 398.6 146.9 397.7 147.4 399.2 147.9 398.7 148.4 398.7 148.9 399 149.4 398.7 149.9 398.9 150.4 398.6 150.9 398.4 151.4 398.9 151.9 398.5 152.4 398.4 152.9 399 153.4 398.9 153.9 398.9 154.4 398.8 154.9 398.2 155.4 398.7 155.9 398.7 156.4 398.6 156.9 398.3 157.4 399 157.9 398.7 158.4 398.6 158.9 398.8 159.4 399 159.9 399 160.4 399.1 160.9 398.5 161.4 399.1 161.9 398.6 162.4 398.4 162.9 399.1 163.4 398.6 163.9 398.9 164.4 398.8 164.9 399.1 165.4 398.8 165.9 398.3 166.4 398.6 166.9 399.1 167.4 398.6 167.9 399.1 168.4 398.5 168.9 398.8 169.4 399 169.9 398.5 170.4 398.6 170.9 398.5 171.4 398.9 171.9 399 172.4 398.6 172.9 398.5 173.4 398.4 173.9 398.9 174.4 398.8 174.9 398.8 175.4 399 175.9 399 176.4 399 176.9 398.8 177.4 398.6 177.9 398.7 178.4 398.9 178.9 398.4 179.4 398.6 179.9 399 180.4 399.2 180.9 398.8 181.4 398.6 181.9 399.2 182.4 398.9 182.9 398.5 183.4 398.7 183.9 398.6 184.4 398.6 184.9 399.1 185.4 398.5 185.9 399 186.4 399.1 186.9 399.2 187.4 399 187.9 398.8 188.4 398.7 188.9 399.1 189.4 398.7 189.9 399 190.4 399.1 190.9 398.1 191.4 399.1 191.9 398.9 192.4 399 192.9 398.5 193.4 398.9 193.9 398.6 194.4 397.9 194.9 398.5 195.4 398.5 195.9 398.6 196.4 399 196.9 398.6 197.4 398.4 197.9 398.5 198.4 398 198.9 398.7 199.4 398.5 199.9 398.2 200.4 398.4 200.9 399.2 201.4 398.7 201.9 398.9 202.4 398.6 202.9 398.6 203.4 399 203.9 398.6 204.4 399 204.9 399.1 205.4 398.7 205.9 398.8 206.4 398.3 206.9 398.7 207.4 399 207.9 398.9 208.4 398.7 208.9 398.5 209.4 398.4 209.9 398.9 210.4 398.7 210.9 398.5 211.4 398.8 211.9 398.6 212.4 399.1 212.9 398.7 213.4 398.9 213.9 399.1 214.4 398.7 214.9 398.7 215.4 399 215.9 398.8 216.4 398.3 216.9 398.6 217.4 398 217.9 398.7 218.4 399.1 218.9 398.7 219.4 398.8 219.9 398.8 220.4 398.8 220.9 398.9 221.4 398.4 221.9 398.7 222.4 398.8 222.9 398.6 223.4 399.2 223.9 398.4 224.4 398.6 224.9 399.2 225.4 398.9 225.9 398.7 226.4 398.6 226.9 399.1 227.4 398.9 227.9 398.6 228.4 398.4 228.9 399.2 229.4 398.6 229.9 398.1 230.4 399.1 230.9 398.5 231.4 398 231.9 399 232.4 398.9 232.9 398.6 233.4 398.7 233.9 397.6 234.4 399 234.9 398.5 235.4 398.5 235.9 399.1 236.4 397.6 236.9 398.5 237.4 398.7 237.9 398.8 238.4 398.6 238.9 399.2 239.4 399 239.9 398.4 240.4 398.6 240.9 398.6 241.4 398.4 241.9 398.2 242.4 398.6 242.9 398.3 243.4 398.9 243.9 398.5 244.4 399 244.9 398.6 245.4 399 245.9 398.9 246.4 398.9 246.9 398.9 247.4 398.6 247.9 398.5 248.4 399 248.9 398.6 249.4 399.1 249.9 398.8 250.4 398.5 250.9 399.1 251.3 398.7 251.3 405.9 250.9 406 250.4 406 249.9 406.2 249.4 406.5 248.9 407 248.4 406.7 247.9 405.8 247.4 407.1 246.9 405.8 246.4 405.8 245.9 405.1 245.4 405.3 244.9 405.8 244.4 407 243.9 406.8 243.4 406.3 242.9 406.5 242.4 406.9 241.9 405.3 241.4 406.4 240.9 405.7 240.4 406.6 239.9 406.1 239.4 405 238.9 406 238.4 405.3 237.9 407.1 237.4 406.4 236.9 405.3 236.4 405.8 235.9 406 235.4 405.9 234.9 406.5 234.4 407.1 233.9 405.5 233.4 406.8 232.9 405.7 232.4 405.9 231.9 406.9 231.4 405.8 230.9 406.6 230.4 406.3 229.9 406.3 229.4 406 228.9 407 228.4 406.7 227.9 405.3 227.4 405.3 226.9 406.9 226.4 407.1 225.9 406.2 225.4 406.4 224.9 406.9 224.4 406.1 223.9 405.5 223.4 406.8 222.9 405 222.4 406.7 221.9 406.6 221.4 406.2 220.9 407.2 220.4 406.3 219.9 406.5 219.4 405.9 218.9 407 218.4 406.6 217.9 407.1 217.4 405.4 216.9 405.8 216.4 405.5 215.9 405.8 215.4 406 214.9 405.7 214.4 406.1 213.9 405.5 213.4 406.3 212.9 405.7 212.4 406.6 211.9 407 211.4 405.5 210.9 406.8 210.4 406.3 209.9 405.1 209.4 406.8 208.9 405.7 208.4 405.8 207.9 405.7 207.4 406.5 206.9 406.9 206.4 406.4 205.9 406.6 205.4 405.8 204.9 405.4 204.4 405.9 203.9 406.9 203.4 406.8 202.9 406.8 202.4 406.4 201.9 405.3 201.4 407.1 200.9 406.7 200.4 406.4 199.9 407.1 199.4 407 198.9 405.5 198.4 405 197.9 406.6 197.4 406.2 196.9 405.3 196.4 407.1 195.9 406 195.4 405.6 194.9 406.2 194.4 405.3 193.9 405.9 193.4 405.3 192.9 405.2 192.4 407 191.9 406.5 191.4 405.9 190.9 406.8 190.4 406.5 189.9 406.8 189.4 405.3 188.9 406.8 188.4 405.8 187.9 405.8 187.4 407 186.9 406.4 186.4 406.1 185.9 406.7 185.4 406.9 184.9 405.5 184.4 406.4 183.9 405.3 183.4 406.3 182.9 406.4 182.4 405.4 181.9 405.5 181.4 405.8 180.9 406.3 180.4 405.1 179.9 405.1 179.4 406.7 178.9 405.1 178.4 406.1 177.9 406.6 177.4 406.1 176.9 406.4 176.4 407.1 175.9 406.6 175.4 406.8 174.9 407 174.4 406.4 173.9 407.1 173.4 406 172.9 405.3 172.4 405.5 171.9 405.2 171.4 405.9 170.9 406.6 170.4 405.7 169.9 406.2 169.4 406.4 168.9 406.4 168.4 407.1 167.9 406.1 167.4 406.9 166.9 406.8 166.4 405.8 165.9 405.1 165.4 405.9 164.9 406.1 164.4 405 163.9 405.6 163.4 406.1 162.9 406.1 162.4 406.5 161.9 406.5 161.4 406.2 160.9 405.4 160.4 407 159.9 406.5 159.4 407 158.9 405.5 158.4 406.7 157.9 406.3 157.4 406.8 156.9 407 156.4 405.8 155.9 405.2 155.4 405.7 154.9 405.5 154.4 406.7 153.9 406.1 153.4 405.9 152.9 405 152.4 406.7 151.9 406.6 151.4 405.2 150.9 405.2 150.4 406.7 149.9 406.7 149.4 406.1 148.9 406.4 148.4 405.4 147.9 406 147.4 406 146.9 406.9 146.4 405.8 145.9 405.4 145.4 405.2 144.9 405 144.4 405.1 143.9 405.9 143.4 406.9 142.9 405.2 142.4 406.5 141.9 405.7 141.4 406.7 140.9 407.1 140.4 406.5 139.9 405.1 139.4 405.2 138.9 405.1 138.4 406.5 137.9 406.2 137.4 405.5 136.9 405.4 136.4 405.5 135.9 405.8 135.4 405.3 134.9 406.6 134.4 406.6 133.9 406.2 133.4 405.4 132.9 406 132.4 406.4 131.9 405.2 131.4 406.6 130.9 406.4 130.4 405.9 129.9 405.2 129.4 406.5 128.9 405.6 128.4 405.2 127.9 405 127.4 406.3 126.9 406.7 126.4 405.2 125.9 406.6 125.4 405.9 124.9 405 124.4 406.2 123.9 405.2 123.4 406.8 122.9 406.7 122.4 405 121.9 405.7 121.4 406 120.9 405.3 120.4 406.3 119.9 406.8 119.4 406.9 118.9 405.2 118.4 405.6 117.9 406.4 117.4 407 116.9 406.7 116.4 405.8 115.9 405.4 115.4 405.7 114.9 407.2 114.4 407.2 113.9 406.7 113.4 406.1 112.9 406.2 112.4 405 111.9 406 111.4 407.1 110.9 405.8 110.4 406.6 109.9 405.4 109.4 405.8 108.9 406.3 108.4 407.2 107.9 405.4 107.4 406 106.9 405.7 106.4 406.3 105.9 405.5 105.4 406.8 104.9 406.9 104.4 405.8 103.9 406.2 103.4 407.1 102.9 406.5 102.4 405.4 101.9 405.1 101.4 405.2 100.9 406.8 100.4 405.9 99.9 405.5 99.4 406.3 98.9 406.3 98.4 405.4 97.9 405.4 97.4 405 96.9 407.2 96.4 405.4 95.9 406.9 95.4 405.3 94.9 406.9 94.4 406.9 93.9 406.6 93.4 405.7Z" fill="#ff0000"/>
<path d="M93.4 398.6 93.9 399.3 94.4 398.6 94.9 398.9 95.4 398 95.9 398.4 96.4 399.1 96.9 398.4 97.4 398.4 97.9 397.9 98.4 398.5 98.9 398.8 99.4 398.6 99.9 398.2 100.4 398.3 100.9 398 101.4 398.2 101.9 397.8 102.4 397.9 102.9 396.7 103.4 398.2 103.9 398.1 104.4 397.7 104.9 397.7 105.4 397.4 105.9 397.3 106.4 395.7 106.9 397.2 107.4 396.9 107.9 396 108.4 395.2 108.9 395.4 109.4 395.3 109.9 394.1 110.4 393.9 110.9 393.9 111.4 392.8 111.9 392.7 112.4 391.4 112.9 390.7 113.4 388 113.9 388.2 114.4 386 114.9 384.4 115.4 383 115.9 380.8 116.4 379 116.9 376.4 117.4 374.5 117.9 374.6 118.4 374.7 118.9 375.2 119.4 376.7 119.9 378.5 120.4 380.4 120.9 382.6 121.4 384.5 121.9 386.1 122.4 388.2 122.9 389.2 123.4 389.4 123.9 391.5 124.4 392.7 124.9 393.1 125.4 394.1 125.9 394.6 126.4 395.2 126.9 395.1 127.4 395.8 127.9 396.1 128.4 396.3 128.9 396.6 129.4 396.9 129.9 397.3 130.4 397.3 130.9 397.5 131.4 397 131.9 397.6 132.4 397.5 132.9 397.6 133.4 398 133.9 398.2 134.4 397.7 134.9 398.1 135.4 398.6 135.9 398.4 136.4 398.2 136.9 398.7 137.4 398.5 137.9 398.8 138.4 398.3 138.9 398.7 139.4 398.6 139.9 398.7 140.4 398.9 140.9 398.8 141.4 399.2 141.9 399.3 142.4 398.6 142.9 398.8 143.4 398.6 143.9 398.7 144.4 399.4 144.9 398.7 145.4 399 145.9 398.7 146.4 398.9 146.9 398 147.4 399.5 147.9 399 148.4 399.1 148.9 399.3 149.4 399.1 149.9 399.3 150.4 399 150.9 398.8 151.4 399.3 151.4 400.4 150.9 399.9 150.4 400.1 149.9 400.4 149.4 400.2 148.9 400.5 148.4 400.2 147.9 400.2 147.4 400.7 146.9 399.2 146.4 400.1 145.9 400 145.4 400.2 144.9 399.9 144.4 400.7 143.9 399.9 143.4 399.9 142.9 400.1 142.4 400 141.9 400.7 141.4 400.7 140.9 400.3 140.4 400.4 139.9 400.2 139.4 400.1 138.9 400.3 138.4 400 137.9 400.5 137.4 400.3 136.9 400.5 136.4 400.1 135.9 400.3 135.4 400.6 134.9 400.1 134.4 399.8 133.9 400.4 133.4 400.3 132.9 400 132.4 400 131.9 400.2 131.4 399.8 130.9 400.4 130.4 400.4 129.9 400.6 129.4 400.4 128.9 400.4 128.4 400.3 127.9 400.4 127.4 400.5 126.9 400.2 126.4 400.6 125.9 400.6 125.4 400.6 124.9 400.3 124.4 400.7 123.9 400.4 123.4 399.3 122.9 400.3 122.4 400.7 121.9 400.1 121.4 400.3 120.9 400.3 120.4 400.1 119.9 400.2 119.4 400.2 118.9 400.1 118.4 400.3 117.9 400.2 117.4 399.3 116.9 399.9 116.4 400.7 115.9 400.5 115.4 400.7 114.9 400.1 114.4 400 113.9 400.7 113.4 399.1 112.9 400.6 112.4 400.3 111.9 400.7 111.4 400 110.9 400.4 110.4 399.9 109.9 399.6 109.4 400.3 108.9 400.1 108.4 399.5 107.9 400 107.4 400.7 106.9 400.7 106.4 398.9 105.9 400.4 105.4 400.3 104.9 400.5 104.4 400.3 103.9 400.6 103.4 400.7 102.9 399 102.4 400.1 101.9 399.9 101.4 400.3 100.9 400 100.4 400.2 99.9 400.1 99.4 400.4 98.9 400.6 98.4 400.1 97.9 399.6 97.4 400 96.9 400 96.4 400.6 95.9 399.9 95.4 399.4 94.9 400.3 94.4 400 93.9 400.6 93.4 400Z" fill="#ff0000" fill-opacity="0.5"/>
<path d="M93.4 399 93.9 399.6 94.4 399 94.9 399.3 95.4 398.4 95.9 398.9 96.4 399.6 96.9 399 97.4 399 97.9 398.6 98.4 399.1 98.9 399.6 99.4 399.4 99.9 399.1 100.4 399.2 100.9 399 101.4 399.3 101.9 398.9 102.4 399.1 102.9 398 103.4 399.7 103.9 399.6 104.4 399.3 104.9 399.5 105.4 399.3 105.9 399.4 106.4 397.9 106.9 399.7 107.4 399.7 107.9 398.9 108.4 398.5 108.9 399 109.4 399.2 109.9 398.5 110.4 398.8 110.9 399.3 111.4 398.8 111.9 399.4 112.4 398.8 112.9 398.8 113.4 397 113.9 397.9 114.4 396.2 114.9 394.8 115.4 393.2 115.9 389.8 116.4 386 116.9 380.7 117.4 376 117.9 374.3 118.4 374.4 118.9 376.7 119.4 381 119.9 385.4 120.4 389.4 120.9 392.7 121.4 395 121.9 396.3 122.4 397.9 122.9 398.1 123.4 397.5 123.9 398.9 124.4 399.4 124.9 399.1 125.4 399.5 125.9 399.5 126.4 399.5 126.9 399.1 127.4 399.4 127.9 399.4 128.4 399.3 128.9 399.4 129.4 399.4 129.9 399.6 130.4 399.4 130.9 399.4 131.4 398.8 131.9 399.2 132.4 399 132.9 399 133.4 399.3 133.9 399.4 134.4 398.8 134.9 399.1 135.4 399.6 135.9 399.3 136.4 399.1 136.9 399.5 137.4 399.3 137.9 399.5 138.4 399 138.9 399.3 139.4 399.1 139.9 399.2 140.4 399.4 140.9 399.3 141.4 399.7 141.9 399.7 142.4 399 142.9 399.1 143.4 398.9 143.9 398.9 144.4 399.7 144.9 398.9 145.4 399.2 145.9 399 146.4 399.1 146.9 398.2 147.4 399.7 147.9 399.2 148.4 399.2 148.9 399.5 149.4 399.2 149.9 399.4 150.4 399.1 150.9 398.9 151.4 399.4 151.4 400.4 150.9 399.9 150.4 400.1 149.9 400.4 149.4 400.2 148.9 400.5 148.4 400.2 147.9 400.2 147.4 400.7 146.9 399.2 146.4 400.1 145.9 400 145.4 400.2 144.9 399.9 144.4 400.7 143.9 399.9 143.4 399.9 142.9 400.1 142.4 400 141.9 400.7 141.4 400.7 140.9 400.3 140.4 400.4 139.9 400.2 139.4 400.1 138.9 400.3 138.4 400 137.9 400.5 137.4 400.3 136.9 400.5 136.4 400.1 135.9 400.3 135.4 400.6 134.9 400.1 134.4 399.8 133.9 400.4 133.4 400.3 132.9 400 132.4 400 131.9 400.2 131.4 399.8 130.9 400.4 130.4 400.4 129.9 400.6 129.4 400.4 128.9 400.4 128.4 400.3 127.9 400.4 127.4 400.5 126.9 400.2 126.4 400.6 125.9 400.6 125.4 400.6 124.9 400.3 124.4 400.7 123.9 400.4 123.4 399.3 122.9 400.3 122.4 400.7 121.9 400.1 121.4 400.3 120.9 400.3 120.4 400.1 119.9 400.2 119.4 400.2 118.9 400.1 118.4 400.3 117.9 400.2 117.4 399.3 116.9 399.9 116.4 400.7 115.9 400.5 115.4 400.7 114.9 400.1 114.4 400 113.9 400.7 113.4 399.1 112.9 400.6 112.4 400.3 111.9 400.7 111.4 400 110.9 400.4 110.4 399.9 109.9 399.6 109.4 400.3 108.9 400.1 108.4 399.5 107.9 400 107.4 400.7 106.9 400.7 106.4 398.9 105.9 400.4 105.4 400.3 104.9 400.5 104.4 400.3 103.9 400.6 103.4 400.7 102.9 399 102.4 400.1 101.9 399.9 101.4 400.3 100.9 400 100.4 400.2 99.9 400.1 99.4 400.4 98.9 400.6 98.4 400.1 97.9 399.6 97.4 400 96.9 400 96.4 400.6 95.9 399.9 95.4 399.4 94.9 400.3 94.4 400 93.9 400.6 93.4 400Z" fill="#ff0000"/>
<path d="M99.4 399.9V397.9M100.9 399.5V397.5M102.9 398.5V396.3M103.4 400.2V397.6M104.4 399.8V397.3M104.9 400V397.1M105.9 399.9V397M107.4 400.2V397M107.9 399.5V395.2M108.4 399V395.9M108.9 399.6V395.4M109.4 399.8V395M110.4 399.4V394.9M110.9 399.9V394.5M111.4 399.5V394.7M113.4 398.6V388.4M114.9 399.6V387.4M115.9 400V387.1M116.4 400.2V382.8M118.9 399.6V382M120.4 399.6V380.2M120.9 399.8V387.5M121.4 399.8V384.5M122.9 399.8V391.8M123.4 398.8V390.5M123.9 399.9V393.6M124.9 399.8V392.7M125.4 400.1V393.4M126.9 399.7V395.2M128.9 399.9V395.9M129.4 399.9V396.6M130.9 399.9V397.6M131.4 399.3V397M131.9 399.7V397.3M133.9 399.9V397.4M134.9 399.6V397.4M136.9 400V398.1" stroke="#ff0000" stroke-width="0.55" fill="none"/>
<path d="M93.5 404.7V407.3M93.7 405.6V412.5M94.4 405.9V410.7M95.1 405.9V410M95.3 404.3V411.3M95.8 405.9V409.6M96.5 404.4V409.6M97.5 404V409.2M98.1 404.4V407M98.5 404.4V409.8M99 405.3V409.5M99.3 405.3V410.9M99.8 404.5V406.7M100.9 405.8V412.3M101.4 404.2V412.3M102.1 404.1V407.5M102.3 404.4V411.6M102.8 405.5V409.9M103.7 405.2V411.7M104.3 404.8V407.7M105 405.9V410M105.2 405.8V406.2M105.8 404.5V411.6M107 404.7V409.2M107.2 405V406.3M108.9 405.3V406.3M110.5 405.6V407.6M111 404.8V411M111.5 406.1V410.6M112.9 405.2V410.9M113.3 405.1V411.7M113.8 405.7V410.7M115 406.2V408.6M115.5 404.7V412.5M116 404.4V407.5M116.5 404.8V406.2M116.9 405.7V410.7M117.4 406V412M118 405.4V408.4M118.9 404.2V411M119.6 405.9V410.2M119.9 405.8V412.1M120.4 405.3V408.4M120.8 404.3V410.8M121.6 405V411.4M121.9 404.7V410.5M122.6 404V411.2M122.7 405.7V409.3M123.6 405.8V408.4M123.8 404.2V409.4M124.4 405.2V412.1M125.5 404.9V410.9M125.7 405.6V412.3M127 405.7V410.7M127.5 405.3V407.2M127.9 404V412.1M128.3 404.2V408.5M128.9 404.6V412.5M129.5 405.5V412.2M129.8 404.2V411.1M130.8 405.4V409.8M131.5 405.6V411.2M132.3 405.4V408.5M132.7 405V412.5M133.3 404.4V408.6M134.1 405.2V407.3M134.5 405.6V412M135.2 404.3V407.1M136.4 404.5V412.1M137 404.4V412M137.5 404.5V409.2M137.9 405.2V409.1M138.3 405.5V407.8M139.2 404.2V407.5M139.9 404.1V410.1M140.5 405.5V406.6M140.8 406.1V409.2M141.2 405.7V407.3M142.5 405.5V411.6M143.3 405.9V410.9M143.8 404.9V406.2M144.6 404.1V406.2M145.1 404V407.5M145.3 404.2V410.1M146 404.4V408.4M146.5 404.8V410M146.9 405.9V407.1M147.5 405V410.6M147.7 405V411.9M148.2 404.4V410.6M149.3 405.1V409.7M150.5 405.7V409.2M151.2 404.2V407.7M151.8 405.6V406.6M152.3 405.7V409.9M152.9 404V410.5M153.4 404.9V409.9M154 405.1V408.7M154.4 405.7V411M155 404.5V407M155.3 404.7V410.9M155.8 404.2V406.6M156.4 404.8V411.9M157.3 405.8V412.5M158 405.3V412.4M158.4 405.7V410.9M158.7 404.5V411.7M159.3 406V408.3M159.7 405.5V412.5M160.6 406V412.6M160.9 404.4V410.7M161.9 405.5V411M162.5 405.5V409.5M163 405.1V408.1M163.8 404.6V408.1M164.2 404V408.4M165 405.1V410.6M165.9 404.1V406.7M166.4 404.8V410.7M166.9 405.8V410.5M167.5 405.9V408.3M167.8 405.1V410.4M168.5 406.1V412.4M169.8 405.2V409.3M170.4 404.7V412.6M171.1 405.6V409M171.6 404.9V408.7M171.8 404.2V411.2M172.5 404.5V406.8M172.7 404.3V411.5M173.4 405V410.6M174 406.1V410.1M174.5 405.4V406.3M174.8 406V411.7M175.4 405.8V408.8M176 405.6V409.1M177 405.4V408.4M177.3 405.1V412.4M177.7 405.6V409M178.4 405.1V407.1M178.9 404.1V407.7M179.2 405.7V409.7M179.8 404.1V409.6M181 405.3V407.1M181.5 404.8V412.7M182 404.5V406.7M182.5 404.4V407.3M182.7 405.4V409.2M183.5 405.3V409.6M184.3 405.4V411.4M184.9 404.5V412.4M185.7 405.7V408.2M186.4 405.1V412M186.9 405.4V408.4M187.5 406V411.6M188 404.8V412.4M188.4 404.8V411.4M189.2 404.3V412.2M189.9 405.8V410.1M191 405.8V411.2M191.5 404.9V412.2M192 405.5V411.8M192.3 406V406.7M193 404.2V410.2M193.5 404.3V407.8M193.9 404.9V408.9M194.4 404.3V406.5M194.9 405.2V408.8M195.5 404.6V409.2M195.8 405V407.1M196.4 406.1V407.8M197 404.3V410.1M198 405.6V407.2M198.4 404V411.7M199 404.5V407.9M200 406.1V407.4M200.5 405.4V406.2M200.8 405.7V408.8M201.6 406.1V410.8M201.9 404.3V406.6M202.4 405.4V411.2M202.9 405.8V407.2M203.5 405.8V412.6M204 405.9V406.9M204.3 404.9V410.5M205 404.4V412.4M205.2 404.8V411.5M205.8 405.6V407.3M206.3 405.4V407M206.9 405.9V408.4M207.5 405.5V409.7M207.7 404.7V412.3M208.2 404.8V409.6M209 404.7V410.1M209.2 405.8V407.4M210 404.1V407.9M210.4 405.3V412.3M211.2 404.5V412.6M211.8 406V412M212.3 405.6V407.1M213 404.7V409.8M213.2 405.3V411M213.9 404.5V407.7M215.4 405V406.8M215.9 404.8V409.3M217.6 404.4V406.9M218 406.1V411.1M218.4 405.6V412.3M219 406V406.8M219.2 404.9V410.5M220.5 405.3V409.4M221 406.2V409.4M221.2 405.2V411.8M221.8 405.6V409.8M222.5 405.7V410.3M222.9 404V411.7M223.3 405.8V410.3M223.9 404.5V411.3M224.3 405.1V411M224.7 405.9V412.5M225.6 405.4V411.5M225.7 405.2V408.2M226.9 405.9V412.5M227.3 404.3V409.6M227.8 404.3V412.1M228.7 406V411.9M229.2 405V410.1M229.7 405.3V410.3M230.3 405.3V409.3M230.9 405.6V410.2M231.3 404.8V411.1M231.9 405.9V412.5M232.4 404.9V410.4M232.8 404.7V408.4M233.3 405.8V409.2M234 404.5V411.9M234.5 406.1V411.6M234.8 405.5V410.7M235.2 404.9V411.2M235.7 405V411.7M236.2 404.8V408.1M236.7 404.3V408.7M237.3 405.4V410.8M237.7 406.1V411.1M238.2 404.3V407.3M238.8 405V411.2M239.2 404V408.4M239.9 405.1V408.1M240.9 404.7V411.5M241.2 405.4V408.1M242.1 404.3V407.8M243.2 405.3V409.2M244.5 406V412.1M244.7 404.8V406.2M245.2 404.3V411.1M245.9 404.1V412.6M246.2 404.8V410.1M246.8 404.8V410.8M247.5 406.1V406.9M248 404.8V410.9M248.4 405.7V410.3M249 406V412.4M249.2 405.5V412.6M249.7 405.2V411.4M250.5 405V411.5M250.8 405V411.5M251.3 404.9V409.9" stroke="#ff0000" stroke-width="0.7" fill="none"/>
<path d="M93.4 424.7 93.9 424.4 94.4 424.9 94.9 424.7 95.4 424.6 95.9 424.7 96.4 424 96.9 424.5 97.4 424.6 97.9 424.2 98.4 424.4 98.9 424.3 99.4 423.9 99.9 424.5 100.4 424.2 100.9 424.6 101.4 424.3 101.9 424.4 102.4 424.7 102.9 424.5 103.4 424 103.9 424 104.4 424.6 104.9 424.9 105.4 424.6 105.9 424.3 106.4 424.6 106.9 424.4 107.4 424.2 107.9 424.3 108.4 424.7 108.9 424.8 109.4 424.5 109.9 424.9 110.4 424.6 110.9 424.8 111.4 424.4 111.9 424.4 112.4 424.3 112.9 424.7 113.4 424.2 113.9 424.9 114.4 423.5 114.9 424 115.4 424.8 115.9 424.8 116.4 424.2 116.9 424.5 117.4 424.5 117.9 424.2 118.4 424.3 118.9 424.8 119.4 424.7 119.9 424.3 120.4 424.4 120.9 424.2 121.4 424.4 121.9 424.2 122.4 423.5 122.9 425 123.4 424.2 123.9 424.6 124.4 424.3 124.9 424.4 125.4 424.9 125.9 424.9 126.4 424.7 126.9 424.6 127.4 424.8 127.9 424.2 128.4 424.6 128.9 424.7 129.4 424.9 129.9 424.3 130.4 424.9 130.9 424.7 131.4 424.6 131.9 424.6 132.4 424.6 132.9 424.4 133.4 424.4 133.9 424.9 134.4 424.6 134.9 424.7 135.4 424.4 135.9 424.6 136.4 424.7 136.9 424.5 137.4 423.6 137.9 424.2 138.4 424.5 138.9 424.5 139.4 424.4 139.9 424.2 140.4 424.7 140.9 424.3 141.4 424.3 141.9 424.3 142.4 424.5 142.9 424.5 143.4 424.1 143.9 424.5 144.4 424.7 144.9 424.7 145.4 424.6 145.9 424.2 146.4 424.5 146.9 424.5 147.4 425 147.9 424.3 148.4 424.9 148.9 424.5 149.4 424.7 149.9 424.9 150.4 424.8 150.9 424.5 151.4 424.9 151.9 424.6 152.4 424.9 152.9 424.8 153.4 423.8 153.9 424.4 154.4 424.4 154.9 424.6 155.4 424.5 155.9 424.4 156.4 424.4 156.9 424.7 157.4 424.8 157.9 424.3 158.4 424.4 158.9 424 159.4 424.2 159.9 424.2 160.4 424.6 160.9 424.5 161.4 424.3 161.9 424.8 162.4 424.5 162.9 424.9 163.4 424.5 163.9 424.3 164.4 424.4 164.9 423.6 165.4 424.4 165.9 424.4 166.4 424.6 166.9 424.8 167.4 424.4 167.9 424.9 168.4 424.8 168.9 424.5 169.4 423.8 169.9 424.9 170.4 424.4 170.9 424.5 171.4 424.6 171.9 424.9 172.4 425 172.9 425 173.4 424.8 173.9 424.8 174.4 424.9 174.9 424.8 175.4 424.3 175.9 424.8 176.4 424.6 176.9 424.3 177.4 424.9 177.9 424.9 178.4 424.3 178.9 424.8 179.4 424.8 179.9 424.5 180.4 424.6 180.9 424.9 181.4 424.8 181.9 424.5 182.4 424.9 182.9 424.3 183.4 424.9 183.9 424.4 184.4 424.9 184.9 424.3 185.4 424 185.9 424.7 186.4 424.8 186.9 425 187.4 424.8 187.9 424.2 188.4 424.8 188.9 424.2 189.4 424.5 189.9 424.5 190.4 424.8 190.9 425 191.4 424.3 191.9 424.5 192.4 424.5 192.9 424.4 193.4 424.4 193.9 424.4 194.4 424.7 194.9 424.4 195.4 424.9 195.9 424.8 196.4 424.4 196.9 424.7 197.4 424.8 197.9 424.6 198.4 424 198.9 424.2 199.4 424.3 199.9 424.6 200.4 424.9 200.9 424.4 201.4 424.7 201.9 424.3 202.4 424.8 202.9 425 203.4 424.8 203.9 424.5 204.4 424.9 204.9 424.8 205.4 424.9 205.9 424.8 206.4 424.5 206.9 424.3 207.4 423.6 207.9 424.5 208.4 424.2 208.9 424.3 209.4 424.6 209.9 424.2 210.4 424.4 210.9 424.3 211.4 424.9 211.9 424.3 212.4 425 212.9 424.8 213.4 424.6 213.9 424.3 214.4 424.3 214.9 425 215.4 424.2 215.9 424.6 216.4 424.7 216.9 423.9 217.4 424.5 217.9 424.3 218.4 424.7 218.9 424.6 219.4 424.8 219.9 424.4 220.4 424.8 220.9 424.8 221.4 424.2 221.9 424.6 222.4 424.7 222.9 424.7 223.4 424.6 223.9 424.4 224.4 424.4 224.9 424.3 225.4 424.2 225.9 424.4 226.4 424.3 226.9 424.6 227.4 424.9 227.9 424.5 228.4 424.4 228.9 424.3 229.4 424.2 229.9 424.6 230.4 424.5 230.9 424.5 231.4 424.7 231.9 424.3 232.4 424.7 232.9 424.5 233.4 424.8 233.9 424.5 234.4 424.4 234.9 424.7 235.4 425 235.9 424.6 236.4 424.4 236.9 424.4 237.4 424.5 237.9 424.3 238.4 424.4 238.9 424.3 239.4 425 239.9 424.4 240.4 424.2 240.9 424.7 241.4 424.4 241.9 424.8 242.4 424.7 242.9 424.7 243.4 424.3 243.9 424.7 244.4 424.8 244.9 424.4 245.4 424.6 245.9 424.2 246.4 424.8 246.9 424.9 247.4 424.9 247.9 424.2 248.4 424.7 248.9 423.7 249.4 424.9 249.9 424.5 250.4 424.5 250.9 425 251.3 424.8 251.3 434.4 250.9 434.4 250.4 433.6 249.9 433.4 249.4 433.7 248.9 432.4 248.4 433.4 247.9 434.1 247.4 434.2 246.9 433.2 246.4 432.8 245.9 432.8 245.4 433.8 244.9 434 244.4 433.8 243.9 433.6 243.4 432.7 242.9 433 242.4 434.2 241.9 433.4 241.4 434.2 240.9 433.1 240.4 434.4 239.9 432.5 239.4 432.6 238.9 433.7 238.4 432.4 237.9 433.8 237.4 433.2 236.9 433 236.4 432.8 235.9 434.5 235.4 432.8 234.9 433.2 234.4 433.4 233.9 433 233.4 432.6 232.9 434 232.4 433.6 231.9 433.3 231.4 432.9 230.9 432.4 230.4 433.4 229.9 433.7 229.4 434 228.9 433.7 228.4 434.4 227.9 433.6 227.4 433 226.9 433.8 226.4 433.6 225.9 432.8 225.4 433.1 224.9 433.6 224.4 433.3 223.9 432.7 223.4 433.8 222.9 433.5 222.4 434.1 221.9 433.4 221.4 433.1 220.9 432.4 220.4 432.6 219.9 434.1 219.4 433 218.9 434 218.4 433.9 217.9 433.4 217.4 434.3 216.9 432.7 216.4 434.3 215.9 433.6 215.4 433.7 214.9 433.5 214.4 432.9 213.9 433.2 213.4 433.6 212.9 433.6 212.4 433.1 211.9 433.7 211.4 434 210.9 433.2 210.4 433.5 209.9 433.5 209.4 434.1 208.9 434.1 208.4 433.6 207.9 434.2 207.4 434.1 206.9 432.9 206.4 433 205.9 434 205.4 433.8 204.9 433.9 204.4 432.4 203.9 434.2 203.4 433.3 202.9 434.3 202.4 433.6 201.9 434.1 201.4 432.5 200.9 434.3 200.4 434.4 199.9 432.9 199.4 433.3 198.9 432.8 198.4 433.1 197.9 433.7 197.4 434 196.9 432.3 196.4 433.5 195.9 433 195.4 433.7 194.9 432.8 194.4 434.4 193.9 434 193.4 434.3 192.9 432.8 192.4 433.2 191.9 432.9 191.4 434.1 190.9 434.3 190.4 433.8 189.9 433.6 189.4 434.4 188.9 434.4 188.4 433.9 187.9 433.7 187.4 433.1 186.9 432.6 186.4 434.2 185.9 432.7 185.4 433 184.9 433 184.4 432.6 183.9 434.4 183.4 434.3 182.9 432.9 182.4 432.3 181.9 432.4 181.4 433.5 180.9 434.4 180.4 433.8 179.9 432.5 179.4 433.4 178.9 433.2 178.4 433.3 177.9 432.7 177.4 434.3 176.9 432.6 176.4 434.5 175.9 433 175.4 434.1 174.9 433.9 174.4 432.4 173.9 434.5 173.4 434.5 172.9 434 172.4 433.2 171.9 433.5 171.4 433.8 170.9 432.3 170.4 433.3 169.9 432.5 169.4 434.3 168.9 434.3 168.4 432.7 167.9 434.4 167.4 434.2 166.9 433.6 166.4 433.8 165.9 433.7 165.4 432.5 164.9 434.4 164.4 433.7 163.9 433.1 163.4 433.7 162.9 434.2 162.4 434.1 161.9 434.5 161.4 434.1 160.9 433.4 160.4 434.5 159.9 432.7 159.4 433.5 158.9 432.7 158.4 434.2 157.9 433.2 157.4 433.5 156.9 434 156.4 434.5 155.9 433.7 155.4 432.3 154.9 433.1 154.4 434 153.9 432.4 153.4 434.1 152.9 432.8 152.4 432.8 151.9 433.7 151.4 433.8 150.9 434.2 150.4 434.1 149.9 434.2 149.4 433.9 148.9 433.7 148.4 433.5 147.9 433.9 147.4 433.8 146.9 433.1 146.4 434.4 145.9 432.7 145.4 433.7 144.9 432.7 144.4 432.7 143.9 434.3 143.4 433.6 142.9 433 142.4 433 141.9 434.1 141.4 433.9 140.9 433 140.4 434.5 139.9 433.9 139.4 432.4 138.9 433.1 138.4 434.3 137.9 432.4 137.4 434.3 136.9 433.1 136.4 434.1 135.9 434.1 135.4 433 134.9 434.4 134.4 432.8 133.9 432.7 133.4 434.3 132.9 434.2 132.4 432.8 131.9 432.9 131.4 433 130.9 434.5 130.4 433.1 129.9 434.5 129.4 433.6 128.9 433.4 128.4 433.2 127.9 433.1 127.4 432.8 126.9 432.5 126.4 434.1 125.9 432.8 125.4 433.9 124.9 433.2 124.4 432.7 123.9 433.1 123.4 434 122.9 434.1 122.4 433.7 121.9 434.5 121.4 432.8 120.9 433.1 120.4 434.1 119.9 433.1 119.4 432.4 118.9 433.3 118.4 432.6 117.9 432.6 117.4 433.3 116.9 433 116.4 433.7 115.9 432.3 115.4 434.4 114.9 434.1 114.4 434 113.9 432.6 113.4 433.2 112.9 433.8 112.4 434 111.9 434.4 111.4 433.6 110.9 432.5 110.4 433.7 109.9 433.6 109.4 434.3 108.9 434.1 108.4 433.7 107.9 433.9 107.4 434.1 106.9 434.4 106.4 433.4 105.9 433.9 105.4 432.4 104.9 432.7 104.4 433 103.9 432.3 103.4 433.1 102.9 434 102.4 433.3 101.9 432.7 101.4 432.4 100.9 432.6 100.4 433.9 99.9 432.5 99.4 433 98.9 432.8 98.4 433.9 97.9 432.9 97.4 432.6 96.9 434.3 96.4 433.9 95.9 433 95.4 434.4 94.9 434.4 94.4 433.7 93.9 434.3 93.4 434.1Z" fill="#000000"/>
<path d="M94.4 425.3 94.9 425.1 95.4 424.9 95.9 424.9 96.4 424.1 96.9 424.6 97.4 424.6 97.9 424.1 98.4 424.1 98.9 423.9 99.4 423.4 99.9 423.9 100.4 423.4 100.9 423.7 101.4 423.1 101.9 423.1 102.4 423.2 102.9 422.8 103.4 422 103.9 421.8 104.4 422.2 104.9 422.3 105.4 421.8 105.9 421.2 106.4 421.3 106.9 420.9 107.4 420.4 107.9 420.3 108.4 420.5 108.9 420.4 109.4 419.9 109.9 420.1 110.4 419.6 110.9 419.6 111.4 419.1 111.9 419 112.4 418.7 112.9 419.1 113.4 418.6 113.9 419.2 114.4 417.8 114.9 418.3 115.4 419.1 115.9 419.2 116.4 418.7 116.9 419 117.4 419.2 117.9 419 118.4 419.3 118.9 420 119.4 420 119.9 419.8 120.4 420.1 120.9 420.2 121.4 420.6 121.9 420.6 122.4 420.1 122.9 421.8 123.4 421.3 123.9 421.9 124.4 421.8 124.9 422.1 125.4 422.8 125.9 423.1 126.4 423.1 126.9 423.2 127.4 423.6 127.9 423.2 128.4 423.7 128.9 424 129.4 424.4 129.9 423.9 130.4 424.6 130.9 424.5 131.4 424.5 131.9 424.7 132.4 424.7 132.9 424.6 133.4 424.7 133.9 425.2 134.4 425 134.4 426.1 133.9 426.4 133.4 425.9 132.9 425.9 132.4 426.1 131.9 426.1 131.4 426.1 130.9 426.2 130.4 426.4 129.9 425.8 129.4 426.4 128.9 426.2 128.4 426.1 127.9 425.7 127.4 426.3 126.9 426.1 126.4 426.2 125.9 426.4 125.4 426.4 124.9 425.9 124.4 425.8 123.9 426.1 123.4 425.7 122.9 426.5 122.4 425 121.9 425.7 121.4 425.9 120.9 425.7 120.4 425.9 119.9 425.8 119.4 426.2 118.9 426.3 118.4 425.8 117.9 425.7 117.4 426 116.9 426 116.4 425.7 115.9 426.3 115.4 426.3 114.9 425.5 114.4 425 113.9 426.4 113.4 425.7 112.9 426.2 112.4 425.8 111.9 425.9 111.4 425.9 110.9 426.3 110.4 426.1 109.9 426.4 109.4 426 108.9 426.3 108.4 426.2 107.9 425.8 107.4 425.7 106.9 425.9 106.4 426.1 105.9 425.8 105.4 426.1 104.9 426.4 104.4 426.1 103.9 425.5 103.4 425.5 102.9 426 102.4 426.2 101.9 425.9 101.4 425.8 100.9 426.1 100.4 425.7 99.9 426 99.4 425.4 98.9 425.8 98.4 425.9 97.9 425.7 97.4 426.1 96.9 426 96.4 425.5 95.9 426.2 95.4 426.1 94.9 426.2 94.4 426.4Z" fill="#000000" fill-opacity="0.6"/>
<path d="M94.4 425.4 94.9 425.2 95.4 425.1 95.9 425.2 96.4 424.5 96.9 425 97.4 425.1 97.9 424.7 98.4 424.8 98.9 424.7 99.4 424.3 99.9 424.9 100.4 424.5 100.9 424.9 101.4 424.5 101.9 424.5 102.4 424.7 102.9 424.4 103.4 423.7 103.9 423.5 104.4 424 104.9 424.1 105.4 423.6 105.9 423 106.4 423 106.9 422.5 107.4 422 107.9 421.7 108.4 421.8 108.9 421.5 109.4 420.9 109.9 420.9 110.4 420.3 110.9 420.1 111.4 419.4 111.9 419.1 112.4 418.7 112.9 418.9 113.4 418.3 113.9 419 114.4 417.5 114.9 418 115.4 418.9 115.9 419 116.4 418.6 116.9 419.1 117.4 419.4 117.9 419.4 118.4 419.8 118.9 420.7 119.4 421 119.9 420.9 120.4 421.4 120.9 421.6 121.4 422.1 121.9 422.3 122.4 421.9 122.9 423.6 123.4 423.1 123.9 423.8 124.4 423.6 124.9 423.9 125.4 424.6 125.9 424.8 126.4 424.7 126.9 424.6 127.4 425 127.9 424.5 128.4 424.9 128.9 425 129.4 425.3 129.9 424.7 130.4 425.3 130.9 425.1 131.4 425.1 131.9 425.1 132.4 425 132.9 424.9 133.4 424.9 133.9 425.4 134.4 425.1 134.4 426.1 133.9 426.4 133.4 425.9 132.9 425.9 132.4 426.1 131.9 426.1 131.4 426.1 130.9 426.2 130.4 426.4 129.9 425.8 129.4 426.4 128.9 426.2 128.4 426.1 127.9 425.7 127.4 426.3 126.9 426.1 126.4 426.2 125.9 426.4 125.4 426.4 124.9 425.9 124.4 425.8 123.9 426.1 123.4 425.7 122.9 426.5 122.4 425 121.9 425.7 121.4 425.9 120.9 425.7 120.4 425.9 119.9 425.8 119.4 426.2 118.9 426.3 118.4 425.8 117.9 425.7 117.4 426 116.9 426 116.4 425.7 115.9 426.3 115.4 426.3 114.9 425.5 114.4 425 113.9 426.4 113.4 425.7 112.9 426.2 112.4 425.8 111.9 425.9 111.4 425.9 110.9 426.3 110.4 426.1 109.9 426.4 109.4 426 108.9 426.3 108.4 426.2 107.9 425.8 107.4 425.7 106.9 425.9 106.4 426.1 105.9 425.8 105.4 426.1 104.9 426.4 104.4 426.1 103.9 425.5 103.4 425.5 102.9 426 102.4 426.2 101.9 425.9 101.4 425.8 100.9 426.1 100.4 425.7 99.9 426 99.4 425.4 98.9 425.8 98.4 425.9 97.9 425.7 97.4 426.1 96.9 426 96.4 425.5 95.9 426.2 95.4 426.1 94.9 426.2 94.4 426.4Z" fill="#000000"/>
<path d="M98.4 425.4V423.4M98.9 425.3V423.6M99.4 424.9V422.9M101.9 425.4V422.8M102.4 425.7V422.9M103.4 425V421.3M103.9 425V421.2M104.4 425.6V422.9M105.4 425.6V422M106.4 425.6V421.2M107.9 425.3V421.3M108.9 425.8V420.3M112.4 425.3V420.6M114.4 424.5V417M115.9 425.8V420.7M116.4 425.2V418.8M117.9 425.2V418.6M119.9 425.3V420.3M121.9 425.2V419.9M122.9 426V422M126.4 425.7V423.3M128.4 425.6V423.2M130.4 425.9V424.2" stroke="#000000" stroke-width="0.55" fill="none"/>
<path d="M93.5 433.1V433.7M93.9 433.3V438.3M94.5 432.7V436.4M95.9 432V437M96.9 433.3V433.7M97.9 431.9V436.2M98.5 432.9V436.1M99 431.8V438.6M99.4 432V436.7M100.1 431.5V436.7M100.5 432.9V435.1M100.8 431.6V435.5M101.5 431.4V436.9M101.8 431.7V435.9M102.8 433V436.9M103.5 432.1V439.1M103.8 431.3V440.1M104.3 432V436.3M104.9 431.7V435.2M105.5 431.4V438.6M106 432.9V436.4M106.2 432.4V438M106.7 433.4V434.7M107.3 433.1V436.8M108 432.9V436.4M108.4 432.7V437.4M109.4 433.3V434.9M110.1 432.6V434.3M110.3 432.7V436.2M110.9 431.5V436.7M111.9 433.4V436.5M112.4 433V437.3M113 432.8V436.4M113.6 432.2V438M114 431.6V437M114.2 433V436.1M115.2 433.4V436M115.9 431.3V438.8M116.5 432.7V439M116.8 432V438M117.4 432.3V435.8M117.8 431.6V440.2M118.8 432.3V436.6M119.8 432.1V440.5M120.2 433.1V436.4M120.8 432.1V434.9M121.6 431.8V436M122 433.5V438.1M122.2 432.7V438.3M122.8 433.1V439.4M123.5 433V440M123.8 432.1V434.5M124.5 431.7V435.6M124.9 432.2V439.3M125.9 431.8V437.3M126.8 431.5V437.6M127.9 432.1V440.4M128.3 432.2V434M129 432.4V435.5M129.2 432.6V440M130 433.5V434.5M131 433.5V435.4M131.5 432V435.5M131.9 431.9V435.7M132.2 431.8V434.5M132.9 433.2V436.9M133.8 431.7V434.7M134.7 433.4V433.9M135.3 432V439.8M136.1 433.1V436.3M136.3 433.1V435.4M136.9 432.1V436.6M138 431.4V436.3M139.5 431.4V436.3M139.7 432.9V440.2M140.6 433.5V438.8M141 432V437.9M141.5 432.9V434.6M142.1 433.1V434.9M142.6 432V440.3M143 432V435.4M143.2 432.6V434.4M145.4 432.7V435.4M146 431.7V435.2M146.9 432.1V435.3M147.9 432.9V437.5M148.3 432.5V435.8M149.1 432.7V437M149.4 432.9V433.7M151 433.2V440.5M151.3 432.8V435.5M151.8 432.7V437.6M152.2 431.8V437.4M152.9 431.8V434.6M153.4 433.1V434.7M153.7 431.4V437.4M154.4 433V439.7M154.7 432.1V436.5M155.5 431.3V433.6M156.1 432.7V436.2M156.4 433.5V436.2M157 433V439.4M157.3 432.5V439.1M157.7 432.2V439.4M158.2 433.2V436.2M159 431.7V435.6M159.8 431.7V436.3M160.4 433.5V434.2M161 432.4V439.3M161.9 433.5V438.9M162.2 433.1V439.1M162.8 433.2V435.3M163.4 432.7V434.1M164 432.1V436.2M164.6 432.7V436.1M164.7 433.4V435.1M165.3 431.5V437.8M165.9 432.7V438.2M167 432.6V434.2M167.5 433.2V439M168.4 431.7V436.6M168.9 433.3V439M169.3 433.3V436.4M169.8 431.5V436.9M170.3 432.3V436.5M170.7 431.3V437.7M171.3 432.8V438.3M171.9 432.5V435.8M172.4 432.2V436.1M173.9 433.5V439.2M174.3 431.4V435.2M175 432.9V434.7M176.6 433.5V434.9M177 431.6V435.6M177.5 433.3V438.7M177.9 431.7V435.8M178.9 432.2V438M179.4 432.4V439.8M179.8 431.5V434.3M180.5 432.8V439.4M181.3 432.5V435.7M181.8 431.4V437.1M182.7 431.9V435.1M183.3 433.3V438.7M184 433.4V438.7M184.4 431.6V439.9M184.8 432V435.6M185.4 432V440M186 431.7V439.8M186.2 433.2V435M187 431.6V434.8M187.5 432.1V434.8M188 432.7V437.4M188.3 432.9V435.3M188.9 433.4V439.9M189.3 433.4V439.4M190 432.6V440.3M190.4 432.8V438M191 433.3V436.9M191.9 431.9V435.4M192.3 432.2V437.7M192.7 431.8V438.2M193.4 433.3V439.3M193.7 433V435M194.4 433.4V434.6M194.8 431.8V436.7M195.2 432.7V437.8M195.9 432V438.6M196.3 432.5V437.4M197 431.3V434.8M197.3 433V435.8M197.8 432.7V434M198.2 432.1V436.6M198.7 431.8V436.9M199.4 432.3V434.5M199.8 431.9V437.4M200.9 433.3V434.5M201.4 431.5V435.4M202 433.1V434.5M202.3 432.6V437.3M202.8 433.3V438M203.3 432.3V439.1M204 433.2V433.8M204.8 432.9V440.4M205.8 433V435.6M206.3 432V436M206.7 431.9V440.1M207.5 433.1V439M207.8 433.2V439.3M208.5 432.6V437.9M209.3 433.1V434.8M209.8 432.5V434.3M210.4 432.5V440.4M212.3 432.1V436.3M212.8 432.6V439.5M213.2 432.6V439.1M213.8 432.2V433.8M214.5 431.9V438.4M215 432.5V439.8M215.2 432.7V440.3M215.8 432.6V436.6M216.5 433.3V438.8M216.8 431.7V439.7M218.3 432.9V436.3M219 433V439.3M219.5 432V434.7M219.7 433.1V437.3M220.4 431.6V435.5M220.9 431.4V439.6M221.3 432.1V438.4M221.9 432.4V435.6M222.2 433.1V436.3M223 432.5V434.1M223.3 432.8V433.6M223.8 431.7V438.3M224.5 432.3V433.5M224.7 432.6V436.5M225.4 432.1V439.3M226 431.8V435.9M226.2 432.6V438.3M227 432.8V439.7M227.3 432V436.4M227.9 432.6V436.7M228.5 433.4V440M229 432.7V438.5M229.7 432.7V436M230.2 432.4V437.2M230.8 431.4V439.6M231.3 431.9V440.2M231.8 432.3V440.2M232.4 432.6V439M232.9 433V435.9M233.3 431.6V438.4M234 432V436M234.2 432.4V434.8M234.8 432.2V439.7M235.8 433.5V437M236.4 431.8V437.9M237 432V437.6M237.3 432.2V435.8M237.8 432.8V436.1M238.3 431.4V436.8M239 432.7V435.7M239.2 431.6V437.1M239.8 431.5V436.3M240.4 433.4V436.4M240.7 432.1V435.7M241.4 433.2V435.3M241.9 432.4V435.3M242.9 432V437M243.4 431.7V440.5M243.9 432.6V438.1M244.5 432.8V438.2M244.7 433V435.6M245.2 432.8V438.1M246.4 431.8V435.7M246.8 432.2V437.5M247.5 433.2V438.8M247.7 433.1V437.8M248.5 432.4V439.3M249.4 432.7V435.9M250.3 432.6V434.9M250.7 433.4V435.2M251.5 433.4V439.8" stroke="#000000" stroke-width="0.7" fill="none"/>
<line x1="83.00" y1="316.60" x2="86.50" y2="316.60" stroke="#1a1a1a" stroke-width="0.9"/>
<line x1="83.00" y1="333.80" x2="86.50" y2="333.80" stroke="#1a1a1a" stroke-width="0.9"/>
<line x1="83.00" y1="351.00" x2="86.50" y2="351.00" stroke="#1a1a1a" stroke-width="0.9"/>
<line x1="83.00" y1="368.20" x2="86.50" y2="368.20" stroke="#1a1a1a" stroke-width="0.9"/>
<line x1="83.00" y1="385.40" x2="86.50" y2="385.40" stroke="#1a1a1a" stroke-width="0.9"/>
<line x1="83.00" y1="402.60" x2="86.50" y2="402.60" stroke="#1a1a1a" stroke-width="0.9"/>
<line x1="83.00" y1="419.80" x2="86.50" y2="419.80" stroke="#1a1a1a" stroke-width="0.9"/>
<line x1="83.00" y1="437.00" x2="86.50" y2="437.00" stroke="#1a1a1a" stroke-width="0.9"/>
<line x1="93.40" y1="442.50" x2="93.40" y2="439.50" stroke="#1a1a1a" stroke-width="0.9"/>
<line x1="146.05" y1="442.50" x2="146.05" y2="439.50" stroke="#1a1a1a" stroke-width="0.9"/>
<line x1="198.70" y1="442.50" x2="198.70" y2="439.50" stroke="#1a1a1a" stroke-width="0.9"/>
<line x1="251.35" y1="442.50" x2="251.35" y2="439.50" stroke="#1a1a1a" stroke-width="0.9"/>
<rect x="83.00" y="305.50" width="179.30" height="137.00" fill="none" stroke="#1a1a1a" stroke-width="1.0"/>
<text x="93.40" y="453.60" font-size="9.5" fill="#151515" stroke="#151515" stroke-width="0.2" text-anchor="middle" textLength="25.30" lengthAdjust="spacing">1200</text>
<text x="146.05" y="453.60" font-size="9.5" fill="#151515" stroke="#151515" stroke-width="0.2" text-anchor="middle" textLength="25.30" lengthAdjust="spacing">1250</text>
<text x="198.70" y="453.60" font-size="9.5" fill="#151515" stroke="#151515" stroke-width="0.2" text-anchor="middle" textLength="25.30" lengthAdjust="spacing">1300</text>
<text x="251.35" y="453.60" font-size="9.5" fill="#151515" stroke="#151515" stroke-width="0.2" text-anchor="middle" textLength="25.30" lengthAdjust="spacing">1350</text>
<text x="113.50" y="470.10" font-size="13" fill="#151515" stroke="#151515" stroke-width="0.2" textLength="122.50" lengthAdjust="spacing">W avelength (nm)</text>
<text x="74.40" y="442.80" font-size="14.5" fill="#151515" stroke="#151515" stroke-width="0.2" textLength="127.20" lengthAdjust="spacing" transform="rotate(-90 74.40 442.80)">Spectral power (dBm)</text>
<path d="M95.00,308.40 H91.20 V325.40 H95.00" fill="none" stroke="#111" stroke-width="2"/>
<text x="95.70" y="321.50" font-size="15" fill="#151515" stroke="#151515" stroke-width="0.2" textLength="51.20" lengthAdjust="spacing">40dBm</text>
<line x1="161.30" y1="314.30" x2="195.40" y2="314.30" stroke="#5050f0" stroke-width="0.75"/>
<text x="199.50" y="318.40" font-size="13" fill="#151515" stroke="#151515" stroke-width="0.2" textLength="48.50" lengthAdjust="spacing">100 mA</text>
<line x1="161.30" y1="329.80" x2="195.40" y2="329.80" stroke="#f05a5a" stroke-width="0.75"/>
<text x="199.50" y="333.50" font-size="13" fill="#151515" stroke="#151515" stroke-width="0.2" textLength="40.20" lengthAdjust="spacing">80 mA</text>
<line x1="161.30" y1="344.20" x2="195.40" y2="344.20" stroke="#505050" stroke-width="0.75"/>
<text x="199.50" y="348.30" font-size="13" fill="#151515" stroke="#151515" stroke-width="0.2" textLength="40.20" lengthAdjust="spacing">50 mA</text>
<line x1="55.50" y1="548.20" x2="62.50" y2="548.20" stroke="#1a1a1a" stroke-width="1.0"/>
<line x1="55.50" y1="504.70" x2="62.50" y2="504.70" stroke="#1a1a1a" stroke-width="1.0"/>
<line x1="55.50" y1="461.20" x2="62.50" y2="461.20" stroke="#1a1a1a" stroke-width="1.0"/>
<line x1="55.50" y1="417.70" x2="62.50" y2="417.70" stroke="#1a1a1a" stroke-width="1.0"/>
<line x1="55.50" y1="374.20" x2="62.50" y2="374.20" stroke="#1a1a1a" stroke-width="1.0"/>
<line x1="55.50" y1="330.70" x2="62.50" y2="330.70" stroke="#1a1a1a" stroke-width="1.0"/>
<line x1="94.60" y1="557.00" x2="94.60" y2="551.70" stroke="#1a1a1a" stroke-width="1.0"/>
<line x1="153.40" y1="557.00" x2="153.40" y2="551.70" stroke="#1a1a1a" stroke-width="1.0"/>
<line x1="212.20" y1="557.00" x2="212.20" y2="551.70" stroke="#1a1a1a" stroke-width="1.0"/>
<line x1="271.00" y1="557.00" x2="271.00" y2="551.70" stroke="#1a1a1a" stroke-width="1.0"/>
<line x1="329.80" y1="557.00" x2="329.80" y2="551.70" stroke="#1a1a1a" stroke-width="1.0"/>
<rect x="55.50" y="305.50" width="330.20" height="251.50" fill="none" stroke="#1a1a1a" stroke-width="1.1"/>
<text x="45.50" y="552.80" font-size="15.8" fill="#151515" stroke="#151515" stroke-width="0.2" text-anchor="end">0</text>
<text x="45.50" y="509.30" font-size="15.8" fill="#151515" stroke="#151515" stroke-width="0.2" text-anchor="end">5</text>
<text x="45.50" y="465.80" font-size="15.8" fill="#151515" stroke="#151515" stroke-width="0.2" text-anchor="end" textLength="17.50" lengthAdjust="spacing">10</text>
<text x="45.50" y="422.30" font-size="15.8" fill="#151515" stroke="#151515" stroke-width="0.2" text-anchor="end" textLength="17.50" lengthAdjust="spacing">15</text>
<text x="45.50" y="378.80" font-size="15.8" fill="#151515" stroke="#151515" stroke-width="0.2" text-anchor="end" textLength="17.50" lengthAdjust="spacing">20</text>
<text x="45.50" y="335.30" font-size="15.8" fill="#151515" stroke="#151515" stroke-width="0.2" text-anchor="end" textLength="17.50" lengthAdjust="spacing">25</text>
<text x="93.40" y="575.00" font-size="15.8" fill="#151515" stroke="#151515" stroke-width="0.2" text-anchor="middle">0</text>
<text x="152.20" y="575.00" font-size="15.8" fill="#151515" stroke="#151515" stroke-width="0.2" text-anchor="middle" textLength="18.50" lengthAdjust="spacing">30</text>
<text x="211.00" y="575.00" font-size="15.8" fill="#151515" stroke="#151515" stroke-width="0.2" text-anchor="middle" textLength="18.50" lengthAdjust="spacing">60</text>
<text x="269.80" y="575.00" font-size="15.8" fill="#151515" stroke="#151515" stroke-width="0.2" text-anchor="middle" textLength="18.50" lengthAdjust="spacing">90</text>
<text x="328.60" y="575.00" font-size="15.8" fill="#151515" stroke="#151515" stroke-width="0.2" text-anchor="middle" textLength="26.50" lengthAdjust="spacing">120</text>
<text x="18.20" y="522.30" font-size="20" fill="#151515" stroke="#151515" stroke-width="0.2" textLength="166.60" lengthAdjust="spacing" transform="rotate(-90 18.20 522.30)">Output power (mW)</text>
<path d="M139.0 547.3L140.4 547.3M146.8 547.3L150.2 547.3M156.6 547.3L160.0 547.3M166.4 547.3L169.8 547.3M176.2 547.3L179.6 547.3M186.0 547.3L189.4 547.3M208.0 534.5L210.6 530.2M214.3 525.0L219.9 518.4M223.7 513.3L230.1 502.6M233.7 497.2L239.7 489.0M243.5 483.9L249.5 475.9M253.2 470.7L259.4 461.3M263.0 456.0L269.2 447.3M272.9 442.1L278.9 434.2M282.8 429.1L288.6 421.9M292.7 417.0L308.1 399.2M312.3 394.4L327.7 375.8M332.2 371.2L347.0 358.1M352.0 354.1L366.4 343.9" fill="none" stroke="#333" stroke-width="0.6"/>
<rect x="91.60" y="545.13" width="6.0" height="4.4" fill="#000"/>
<rect x="92.58" y="545.13" width="6.0" height="4.4" fill="#000"/>
<rect x="93.56" y="545.13" width="6.0" height="4.4" fill="#000"/>
<rect x="94.54" y="545.13" width="6.0" height="4.4" fill="#000"/>
<rect x="95.52" y="545.13" width="6.0" height="4.4" fill="#000"/>
<rect x="96.50" y="545.13" width="6.0" height="4.4" fill="#000"/>
<rect x="97.48" y="545.13" width="6.0" height="4.4" fill="#000"/>
<rect x="98.46" y="545.13" width="6.0" height="4.4" fill="#000"/>
<rect x="99.44" y="545.13" width="6.0" height="4.4" fill="#000"/>
<rect x="100.42" y="545.13" width="6.0" height="4.4" fill="#000"/>
<rect x="101.40" y="545.13" width="6.0" height="4.4" fill="#000"/>
<rect x="102.38" y="545.13" width="6.0" height="4.4" fill="#000"/>
<rect x="103.36" y="545.13" width="6.0" height="4.4" fill="#000"/>
<rect x="104.34" y="545.13" width="6.0" height="4.4" fill="#000"/>
<rect x="105.32" y="545.13" width="6.0" height="4.4" fill="#000"/>
<rect x="106.30" y="545.13" width="6.0" height="4.4" fill="#000"/>
<rect x="107.28" y="545.13" width="6.0" height="4.4" fill="#000"/>
<rect x="108.26" y="545.13" width="6.0" height="4.4" fill="#000"/>
<rect x="109.24" y="545.13" width="6.0" height="4.4" fill="#000"/>
<rect x="110.22" y="545.13" width="6.0" height="4.4" fill="#000"/>
<rect x="111.20" y="545.13" width="6.0" height="4.4" fill="#000"/>
<rect x="112.18" y="545.13" width="6.0" height="4.4" fill="#000"/>
<rect x="113.16" y="545.13" width="6.0" height="4.4" fill="#000"/>
<rect x="114.14" y="545.13" width="6.0" height="4.4" fill="#000"/>
<rect x="115.12" y="545.13" width="6.0" height="4.4" fill="#000"/>
<rect x="116.10" y="545.13" width="6.0" height="4.4" fill="#000"/>
<rect x="117.08" y="545.13" width="6.0" height="4.4" fill="#000"/>
<rect x="118.06" y="545.13" width="6.0" height="4.4" fill="#000"/>
<rect x="119.04" y="545.13" width="6.0" height="4.4" fill="#000"/>
<rect x="120.02" y="545.13" width="6.0" height="4.4" fill="#000"/>
<rect x="121.00" y="545.13" width="6.0" height="4.4" fill="#000"/>
<rect x="121.98" y="545.13" width="6.0" height="4.4" fill="#000"/>
<rect x="122.96" y="545.13" width="6.0" height="4.4" fill="#000"/>
<rect x="123.94" y="545.13" width="6.0" height="4.4" fill="#000"/>
<rect x="124.92" y="545.13" width="6.0" height="4.4" fill="#000"/>
<rect x="125.90" y="545.13" width="6.0" height="4.4" fill="#000"/>
<rect x="126.88" y="545.13" width="6.0" height="4.4" fill="#000"/>
<rect x="127.86" y="545.13" width="6.0" height="4.4" fill="#000"/>
<rect x="128.84" y="545.13" width="6.0" height="4.4" fill="#000"/>
<rect x="129.82" y="545.13" width="6.0" height="4.4" fill="#000"/>
<rect x="130.80" y="545.13" width="6.0" height="4.4" fill="#000"/>
<rect x="131.78" y="545.13" width="6.0" height="4.4" fill="#000"/>
<rect x="132.76" y="545.13" width="6.0" height="4.4" fill="#000"/>
<rect x="140.60" y="545.13" width="6.0" height="4.4" fill="#000"/>
<rect x="150.40" y="545.13" width="6.0" height="4.4" fill="#000"/>
<rect x="160.20" y="545.13" width="6.0" height="4.4" fill="#000"/>
<rect x="170.00" y="545.13" width="6.0" height="4.4" fill="#000"/>
<rect x="179.80" y="545.13" width="6.0" height="4.4" fill="#000"/>
<rect x="189.60" y="545.13" width="6.0" height="4.4" fill="#000"/>
<rect x="191.56" y="544.70" width="6.0" height="4.4" fill="#000"/>
<rect x="193.52" y="543.83" width="6.0" height="4.4" fill="#000"/>
<rect x="195.48" y="541.65" width="6.0" height="4.4" fill="#000"/>
<rect x="197.44" y="539.91" width="6.0" height="4.4" fill="#000"/>
<rect x="199.40" y="537.56" width="6.0" height="4.4" fill="#000"/>
<rect x="203.32" y="535.04" width="6.0" height="4.4" fill="#000"/>
<rect x="209.20" y="525.21" width="6.0" height="4.4" fill="#000"/>
<rect x="219.00" y="513.81" width="6.0" height="4.4" fill="#000"/>
<rect x="228.80" y="497.63" width="6.0" height="4.4" fill="#000"/>
<rect x="238.60" y="484.23" width="6.0" height="4.4" fill="#000"/>
<rect x="248.40" y="471.18" width="6.0" height="4.4" fill="#000"/>
<rect x="258.20" y="456.39" width="6.0" height="4.4" fill="#000"/>
<rect x="268.00" y="442.47" width="6.0" height="4.4" fill="#000"/>
<rect x="277.80" y="429.42" width="6.0" height="4.4" fill="#000"/>
<rect x="287.60" y="417.24" width="6.0" height="4.4" fill="#000"/>
<rect x="307.20" y="394.62" width="6.0" height="4.4" fill="#000"/>
<rect x="326.80" y="371.13" width="6.0" height="4.4" fill="#000"/>
<rect x="346.40" y="353.73" width="6.0" height="4.4" fill="#000"/>
<rect x="366.00" y="339.81" width="6.0" height="4.4" fill="#000"/>
<text x="355.10" y="322.50" font-size="19.5" fill="#151515" stroke="#151515" stroke-width="0.2" textLength="26.90" lengthAdjust="spacing">(c)</text>
<text x="317.80" y="411.90" font-size="20" fill="#1515b4" stroke="#1515b4" stroke-width="0.2" textLength="27.30" lengthAdjust="spacing">ES</text>
<text x="276.30" y="460.80" font-size="20" fill="#151515" stroke="#151515" stroke-width="0.2" textLength="86.10" lengthAdjust="spacing">undoped</text>
<text x="261.00" y="513.80" font-size="20" fill="#151515" stroke="#151515" stroke-width="0.2" textLength="76.70" lengthAdjust="spacing">400 µm</text>
<path d="M521.2 354.8 521.7 355.2 522.2 354.9 522.7 355 523.2 355.2 523.7 354.6 524.2 355 524.7 354.3 525.2 354.7 525.7 354.6 526.2 355.2 526.7 354.5 527.2 355 527.7 355.2 528.2 355 528.7 354.9 529.2 354.6 529.7 354.8 530.2 355.2 530.7 354.6 531.2 355.2 531.7 355 532.2 355 532.7 354.8 533.2 354.7 533.7 355 534.2 355.3 534.7 355 535.2 354.8 535.7 355.2 536.2 354.7 536.7 354.6 537.2 354.7 537.7 354.8 538.2 354.6 538.7 355.1 539.2 355.3 539.7 354.5 540.2 355 540.7 354.6 541.2 354.6 541.7 354.8 542.2 355.2 542.7 355.2 543.2 355.2 543.7 354.7 544.2 354.7 544.7 354.7 545.2 354.6 545.7 354.3 546.2 354.3 546.7 355.1 547.2 354.6 547.7 355.2 548.2 355 548.7 355.2 549.2 355.1 549.7 354.6 550.2 355.1 550.7 355.1 551.2 354.9 551.7 355.2 552.2 354.6 552.7 355.2 553.2 355.1 553.7 354.6 554.2 355.2 554.7 354.6 555.2 355.2 555.7 354.7 556.2 355.2 556.7 355.2 557.2 355.2 557.7 354.6 558.2 354.9 558.7 354.7 559.2 354.7 559.7 354.7 560.2 354.9 560.7 354.7 561.2 353.9 561.7 354.7 562.2 354.5 562.7 355.2 563.2 354.9 563.7 354.7 564.2 354.6 564.7 355 565.2 355 565.7 355 566.2 355.2 566.7 355.1 567.2 355.3 567.7 355.3 568.2 354.8 568.6 355 569.1 355.2 569.6 354.9 570.1 354.8 570.6 355.2 571.1 355 571.6 355.3 572.1 354.4 572.6 354.4 573.1 355.1 573.6 354.6 574.1 354.3 574.6 354.9 575.1 354 575.6 355.3 576.1 355.3 576.6 354.9 577.1 354.2 577.6 354.8 578.1 354.8 578.6 354.6 579.1 354.9 579.6 355.2 580.1 354.5 580.6 354.7 581.1 354.9 581.6 355.1 582.1 355.2 582.6 354.3 583.1 354.6 583.6 354.9 584.1 355.2 584.6 355.1 585.1 354.8 585.6 354.7 586.1 355 586.6 354.8 587.1 354.5 587.6 354.9 588.1 355 588.6 355.1 589.1 355 589.6 355 590.1 354.6 590.6 354.8 591.1 354.1 591.6 354.8 592.1 355.1 592.6 355.1 593.1 355.3 593.6 354.3 594.1 355 594.6 354.6 595.1 355.3 595.6 355.1 596.1 354.1 596.6 355.3 597.1 355.2 597.6 354.6 598.1 354.7 598.6 354.5 599.1 355.3 599.6 353.8 600.1 354.7 600.6 355 601.1 355.2 601.6 354.9 602.1 354.9 602.6 354.6 603.1 354.7 603.6 354.7 604.1 354.5 604.6 355.3 605.1 355.1 605.6 355.1 606.1 354.6 606.6 355.2 607.1 355.2 607.6 354.1 608.1 354.8 608.6 355.1 609.1 355 609.6 354.8 610.1 354.7 610.6 355.2 611.1 354.8 611.6 355.2 612.1 355 612.6 355.1 613.1 354.9 613.6 355.2 614.1 354.9 614.6 354.3 615.1 354.9 615.6 354.6 616.1 353.7 616.6 355 617.1 355 617.6 354.7 618.1 354.7 618.6 354.9 619.1 354.6 619.6 355.1 620.1 354.8 620.6 355.1 621.1 355.3 621.6 353.7 622.1 354.9 622.6 354.7 623.1 355.2 623.6 354.8 624.1 354.8 624.6 354.9 625.1 355.1 625.6 355.2 626.1 354.8 626.6 354.8 627.1 354.6 627.6 354.6 628.1 354.6 628.6 354.8 629.1 354.7 629.6 355.3 630.1 354.9 630.6 354.4 631.1 354.8 631.6 355 632.1 354.7 632.6 355 633.1 354.6 633.6 355.1 634.1 354.8 634.6 355.1 635.1 354.5 635.6 355.1 636.1 354.6 636.6 354.6 637.1 355.2 637.6 354.7 638.1 355 638.6 354.9 639.1 354.6 639.6 355 640.1 354.7 640.6 355 641.1 354.7 641.6 354.9 642.1 354 642.6 354.8 643.1 354.8 643.6 354.9 644.1 355.2 644.6 354.8 645.1 354.9 645.6 354.8 646.1 354.6 646.6 354.5 647.1 354.6 647.6 354.9 648.1 355.1 648.6 354.7 649.1 355.3 649.5 354.9 650 354.7 650.5 354.5 651 355.2 651.5 354.6 652 354.7 652.5 354.3 653 354.1 653.5 354.6 654 354.4 654.5 355.3 655 354.9 655.5 355.3 656 354.8 656.5 354.7 657 354.9 657.5 355.2 658 354.5 658.5 354.4 659 354.9 659.5 354.7 660 354.8 660.5 354.6 661 354.9 661.5 354.9 662 355.2 662.5 354.7 663 355 663.5 355.1 664 354.6 664.5 354.8 665 355 665.5 354.3 666 355 666.5 354.8 667 354.1 667.5 354.7 668 354.8 668.5 355.2 669 354.9 669.5 354.5 670 354.6 670.5 354.6 671 354.8 671.5 355.3 672 354.8 672.5 355 673 354.8 673.5 354.7 674 354.5 674.5 354.6 675 354.6 675.5 355.1 676 354.6 676.5 354.6 677 354.7 677.5 354.7 678 355.1 678.5 354.8 679 355.2 679.5 354.8 680 354.7 680.5 355.2 681 355.1 681.5 354.9 682 354.7 682.5 355.2 683 354.6 683.5 355 684 354.5 684.5 355.2 685 355.1 685.5 354.9 686 354.7 686.5 355.1 687 354.9 687.5 354.9 688 354.7 688.5 354.9 689 354.5 689.5 355.3 690 355 690 362.3 689.5 361.6 689 361.6 688.5 362.2 688 361.9 687.5 362.5 687 361.2 686.5 362.5 686 361.7 685.5 361.2 685 363 684.5 361.4 684 363.2 683.5 361.8 683 362.2 682.5 363.3 682 362.3 681.5 362 681 361.4 680.5 361.2 680 362.4 679.5 362.2 679 362.1 678.5 361.6 678 362.5 677.5 362.5 677 361.6 676.5 361.9 676 362.4 675.5 361.4 675 362.1 674.5 362.1 674 362.8 673.5 362.8 673 362.9 672.5 361.8 672 362.9 671.5 362.4 671 363.3 670.5 361.8 670 362.9 669.5 361.3 669 361.7 668.5 362 668 363.3 667.5 361.6 667 362 666.5 363 666 362.6 665.5 363.3 665 361.3 664.5 362.2 664 361.7 663.5 363 663 363.1 662.5 361.9 662 362.2 661.5 361.5 661 362.9 660.5 362.2 660 361.6 659.5 362 659 362.6 658.5 362.3 658 361.4 657.5 361.6 657 362.7 656.5 362 656 361.5 655.5 362.5 655 362.3 654.5 363.1 654 361.8 653.5 362.3 653 361.2 652.5 361.8 652 363 651.5 361.9 651 361.9 650.5 362.1 650 362.9 649.5 362.8 649.1 361.8 648.6 362.2 648.1 362 647.6 362.5 647.1 363.2 646.6 361.6 646.1 361.3 645.6 363.2 645.1 361.7 644.6 361.9 644.1 361.6 643.6 361.7 643.1 362.2 642.6 362.3 642.1 363.2 641.6 362.4 641.1 362.5 640.6 361.7 640.1 363.1 639.6 362 639.1 361.6 638.6 363 638.1 363.3 637.6 362.2 637.1 362 636.6 362.4 636.1 362.4 635.6 361.5 635.1 363.1 634.6 362.8 634.1 362.1 633.6 361.4 633.1 361.5 632.6 362.8 632.1 362 631.6 362.9 631.1 361.7 630.6 362 630.1 363 629.6 361.1 629.1 362.6 628.6 362 628.1 363.2 627.6 362.6 627.1 362.9 626.6 362.9 626.1 362.4 625.6 363.1 625.1 361.6 624.6 361.9 624.1 362 623.6 362.6 623.1 362.6 622.6 361.5 622.1 361.6 621.6 361.6 621.1 361.1 620.6 362.5 620.1 363.1 619.6 361.7 619.1 362.4 618.6 361.4 618.1 362.2 617.6 361.4 617.1 361.3 616.6 361.6 616.1 363.1 615.6 361.2 615.1 362.3 614.6 362.6 614.1 362.5 613.6 362.8 613.1 361.7 612.6 361.7 612.1 362.2 611.6 363.3 611.1 362.8 610.6 362.9 610.1 362.8 609.6 362.6 609.1 362.7 608.6 361.8 608.1 361.7 607.6 361.1 607.1 362.4 606.6 362.3 606.1 362.6 605.6 362 605.1 362.8 604.6 362.5 604.1 362.8 603.6 362.9 603.1 362.5 602.6 362.6 602.1 361.2 601.6 363.2 601.1 361.5 600.6 363 600.1 362.6 599.6 362.6 599.1 361.8 598.6 362.4 598.1 361.1 597.6 362.1 597.1 362.9 596.6 361.7 596.1 361.3 595.6 363.3 595.1 361.4 594.6 363.2 594.1 362.6 593.6 361.4 593.1 362 592.6 362.5 592.1 361.1 591.6 362.9 591.1 361.2 590.6 361.9 590.1 362.1 589.6 362.6 589.1 361.2 588.6 362.2 588.1 362.1 587.6 363.2 587.1 362.3 586.6 362 586.1 361.2 585.6 361.5 585.1 362.9 584.6 361.7 584.1 362 583.6 362 583.1 361.1 582.6 362 582.1 362.2 581.6 362.4 581.1 362.3 580.6 363.2 580.1 361.7 579.6 361.6 579.1 363.2 578.6 361.7 578.1 361.4 577.6 361.9 577.1 362 576.6 361.7 576.1 361.5 575.6 361.8 575.1 361.9 574.6 362.8 574.1 361.3 573.6 361.4 573.1 363.2 572.6 361.7 572.1 361.5 571.6 361.7 571.1 361.5 570.6 362.2 570.1 363.1 569.6 362.1 569.1 363 568.6 361.3 568.2 361.2 567.7 362.1 567.2 361.1 566.7 363.2 566.2 362.9 565.7 361.3 565.2 362.7 564.7 363 564.2 361.3 563.7 361.9 563.2 361.2 562.7 363.2 562.2 361.6 561.7 362.3 561.2 363.3 560.7 363 560.2 362.6 559.7 362.8 559.2 363.1 558.7 362.3 558.2 362.2 557.7 362.1 557.2 361.9 556.7 361.7 556.2 363.1 555.7 363.2 555.2 362.9 554.7 361.8 554.2 361.5 553.7 361.9 553.2 362.8 552.7 362.6 552.2 361.2 551.7 362.7 551.2 362.9 550.7 361.5 550.2 362.3 549.7 362.4 549.2 361.9 548.7 361.2 548.2 361.2 547.7 361.4 547.2 361.6 546.7 361.9 546.2 361.5 545.7 362.7 545.2 363.2 544.7 362.1 544.2 362.4 543.7 362.6 543.2 362.4 542.7 362.9 542.2 361.4 541.7 363.1 541.2 362.4 540.7 362.8 540.2 362.5 539.7 363.2 539.2 362.9 538.7 362.2 538.2 362.4 537.7 362.6 537.2 361.4 536.7 361.2 536.2 361.2 535.7 362.7 535.2 361.9 534.7 363.1 534.2 361.6 533.7 362.1 533.2 362.7 532.7 363.2 532.2 362.4 531.7 363.1 531.2 361.3 530.7 363 530.2 361.8 529.7 362.3 529.2 362.7 528.7 361.1 528.2 362.6 527.7 361.4 527.2 363.1 526.7 362.5 526.2 363.3 525.7 361.4 525.2 362.7 524.7 363 524.2 361.2 523.7 361.5 523.2 361.4 522.7 362.6 522.2 362.7 521.7 362.6 521.2 361.5Z" fill="#0000ff"/>
<path d="M521.2 354.8 521.7 355.2 522.2 354.9 522.7 354.9 523.2 355 523.7 354.5 524.2 354.8 524.7 354 525.2 354.4 525.7 354.3 526.2 354.9 526.7 354.1 527.2 354.5 527.7 354.7 528.2 354.5 528.7 354.3 529.2 353.9 529.7 354.1 530.2 354.4 530.7 353.7 531.2 354.2 531.7 354 532.2 353.9 532.7 353.6 533.2 353.3 533.7 353.5 534.2 353.6 534.7 353.3 535.2 352.8 535.7 353.1 536.2 352.4 536.7 352.2 537.2 352 537.7 351.9 538.2 351.4 538.7 351.6 539.2 351.5 539.7 350.4 540.2 350.5 540.7 349.7 541.2 349.2 541.7 348.9 542.2 348.7 542.7 348 543.2 347.3 543.7 346 544.2 345 544.7 343.9 545.2 342.6 545.7 341 546.2 339.5 546.7 338.7 547.2 336.4 547.7 335.1 548.2 333 548.7 331.2 549.2 329.3 549.7 327.3 550.2 326.6 550.7 326 551.2 325.7 551.7 326.6 552.2 327.1 552.7 329.1 553.2 330.8 553.7 332.2 554.2 334.8 554.7 336.1 555.2 338.5 555.7 339.6 556.2 341.7 556.7 343.1 557.2 344.2 557.7 344.8 558.2 346 558.7 346.7 559.2 347.4 559.7 348.1 560.2 348.9 560.7 349.3 561.2 348.9 561.7 350.2 562.2 350.3 562.7 351.4 563.2 351.4 563.7 351.5 564.2 351.7 564.7 352.3 565.2 352.5 565.7 352.7 566.2 353.1 566.7 353.1 567.2 353.5 567.7 353.6 568.2 353.3 568.6 353.6 569.1 353.9 569.6 353.7 570.1 353.7 570.6 354.2 571.1 354.1 571.6 354.4 572.1 353.6 572.6 353.6 573.1 354.4 573.6 354 574.1 353.7 574.6 354.4 575.1 353.5 575.6 354.8 576.1 354.8 576.6 354.4 577.1 353.7 577.6 354.3 578.1 354.3 578.6 354.1 579.1 354.4 579.6 354.6 580.1 353.9 580.6 354.1 581.1 354.2 581.6 354.3 582.1 354.4 582.6 353.4 583.1 353.6 583.6 353.8 584.1 354 584.6 353.8 585.1 353.5 585.6 353.3 586.1 353.5 586.6 353.1 587.1 352.8 587.6 353 588.1 353.1 588.6 353.1 589.1 352.9 589.6 353 590.1 352.5 590.6 352.6 591.1 352 591.6 352.7 592.1 352.9 592.6 353 593.1 353.3 593.6 352.3 594.1 353.1 594.6 352.8 595.1 353.6 595.6 353.5 596.1 352.6 596.6 353.9 597.1 353.9 597.6 353.4 598.1 353.7 598.6 353.6 599.1 354.5 599.6 353.1 600.1 354.2 600.6 354.6 601.1 354.9 601.6 354.6 602.1 354.8 602.6 354.5 603.1 354.7 603.6 354.8 604.1 354.7 604.6 355.5 605.1 355.4 605.6 355.4 606.1 354.9 606.6 355.6 607.1 355.6 607.6 354.6 608.1 355.3 608.6 355.5 609.1 355.5 609.6 355.3 610.1 355.2 610.6 355.8 611.1 355.4 611.6 355.7 612.1 355.5 612.6 355.7 613.1 355.5 613.6 355.8 614.1 355.5 614.6 354.9 615.1 355.5 615.6 355.2 616.1 354.2 616.6 355.6 617.1 355.6 617.6 355.3 618.1 355.3 618.6 355.5 619.1 355.2 619.6 355.7 620.1 355.4 620.6 355.6 621.1 355.8 621.6 354.2 622.1 355.4 622.6 355.2 623.1 355.7 623.6 355.3 624.1 355.3 624.6 355.3 625.1 355.5 625.6 355.6 626.1 355.2 626.6 355.1 627.1 355 627.6 354.9 628.1 354.9 628.6 355 629.1 354.9 629.6 355.5 630.1 355.1 630.6 354.5 631.1 354.9 631.6 355 632.1 354.6 632.6 354.9 633.1 354.5 633.6 354.9 634.1 354.5 634.6 354.8 635.1 354.1 635.6 354.6 636.1 354 636.6 353.9 637.1 354.5 637.6 353.8 638.1 354 638.6 353.8 639.1 353.4 639.6 353.7 640.1 353.3 640.6 353.5 641.1 353.1 641.6 353.2 642.1 352.1 642.6 352.7 643.1 352.7 643.6 352.6 644.1 352.8 644.6 352.2 645.1 352.1 645.6 352 646.1 351.5 646.6 351.3 647.1 351.3 647.6 351.5 648.1 351.5 648.6 350.9 649.1 351.4 649.5 350.8 650 350.5 650.5 350.2 651 350.7 651.5 349.9 652 349.9 652.5 349.4 653 349.1 653.5 349.5 654 349.1 654.5 349.9 655 349.4 655.5 349.7 656 349.1 656.5 348.9 657 349.1 657.5 349.3 658 348.5 658.5 348.4 659 348.7 659.5 348.5 660 348.6 660.5 348.3 661 348.6 661.5 348.7 662 349 662.5 348.4 663 348.7 663.5 348.9 664 348.4 664.5 348.6 665 348.9 665.5 348.3 666 349.1 666.5 348.9 667 348.3 667.5 349 668 349.2 668.5 349.7 669 349.5 669.5 349.2 670 349.5 670.5 349.5 671 349.9 671.5 350.5 672 350.1 672.5 350.5 673 350.4 673.5 350.5 674 350.5 674.5 350.6 675 350.8 675.5 351.5 676 351.1 676.5 351.3 677 351.5 677.5 351.6 678 352.2 678.5 352.1 679 352.6 679.5 352.4 680 352.5 680.5 353 681 353.1 681.5 353 682 353 682.5 353.6 683 353 683.5 353.6 684 353.2 684.5 354.1 685 354 685.5 354 686 353.9 686.5 354.3 687 354.2 687.5 354.3 688 354.2 688.5 354.5 689 354.2 689.5 355 690 354.8 690 356.5 689.5 356.8 689 356 688.5 356.4 688 356.2 687.5 356.4 687 356.4 686.5 356.6 686 356.2 685.5 356.4 685 356.6 684.5 356.7 684 356 683.5 356.5 683 356.1 682.5 356.7 682 356.2 681.5 356.4 681 356.6 680.5 356.7 680 356.2 679.5 356.3 679 356.7 678.5 356.3 678 356.6 677.5 356.2 677 356.2 676.5 356.1 676 356.1 675.5 356.6 675 356.1 674.5 356.1 674 356 673.5 356.2 673 356.3 672.5 356.5 672 356.3 671.5 356.8 671 356.3 670.5 356.1 670 356.1 669.5 356 669 356.4 668.5 356.7 668 356.3 667.5 356.2 667 355.6 666.5 356.3 666 356.5 665.5 355.8 665 356.5 664.5 356.3 664 356.1 663.5 356.6 663 356.5 662.5 356.2 662 356.7 661.5 356.4 661 356.4 660.5 356.1 660 356.3 659.5 356.2 659 356.4 658.5 355.9 658 356 657.5 356.7 657 356.4 656.5 356.2 656 356.3 655.5 356.8 655 356.4 654.5 356.8 654 355.9 653.5 356.1 653 355.6 652.5 355.8 652 356.2 651.5 356.1 651 356.7 650.5 356 650 356.2 649.5 356.4 649.1 356.8 648.6 356.2 648.1 356.6 647.6 356.4 647.1 356.1 646.6 356 646.1 356.1 645.6 356.3 645.1 356.4 644.6 356.3 644.1 356.7 643.6 356.4 643.1 356.3 642.6 356.3 642.1 355.5 641.6 356.4 641.1 356.2 640.6 356.5 640.1 356.2 639.6 356.5 639.1 356.1 638.6 356.4 638.1 356.5 637.6 356.2 637.1 356.7 636.6 356.1 636.1 356.1 635.6 356.6 635.1 356 634.6 356.6 634.1 356.3 633.6 356.6 633.1 356.1 632.6 356.5 632.1 356.2 631.6 356.5 631.1 356.3 630.6 355.9 630.1 356.4 629.6 356.8 629.1 356.2 628.6 356.3 628.1 356.1 627.6 356.1 627.1 356.1 626.6 356.3 626.1 356.3 625.6 356.7 625.1 356.6 624.6 356.4 624.1 356.3 623.6 356.3 623.1 356.7 622.6 356.2 622.1 356.4 621.6 355.2 621.1 356.8 620.6 356.6 620.1 356.3 619.6 356.6 619.1 356.1 618.6 356.4 618.1 356.2 617.6 356.2 617.1 356.5 616.6 356.5 616.1 355.2 615.6 356.1 615.1 356.4 614.6 355.8 614.1 356.4 613.6 356.7 613.1 356.4 612.6 356.6 612.1 356.5 611.6 356.7 611.1 356.3 610.6 356.7 610.1 356.2 609.6 356.3 609.1 356.5 608.6 356.6 608.1 356.3 607.6 355.6 607.1 356.7 606.6 356.7 606.1 356.1 605.6 356.6 605.1 356.6 604.6 356.8 604.1 356 603.6 356.2 603.1 356.2 602.6 356.1 602.1 356.4 601.6 356.4 601.1 356.7 600.6 356.5 600.1 356.2 599.6 355.3 599.1 356.8 598.6 356 598.1 356.2 597.6 356.1 597.1 356.7 596.6 356.8 596.1 355.6 595.6 356.6 595.1 356.8 594.6 356.1 594.1 356.5 593.6 355.8 593.1 356.8 592.6 356.6 592.1 356.6 591.6 356.3 591.1 355.6 590.6 356.3 590.1 356.1 589.6 356.5 589.1 356.5 588.6 356.6 588.1 356.5 587.6 356.4 587.1 356 586.6 356.3 586.1 356.5 585.6 356.2 585.1 356.3 584.6 356.6 584.1 356.7 583.6 356.4 583.1 356.1 582.6 355.8 582.1 356.7 581.6 356.6 581.1 356.4 580.6 356.2 580.1 356 579.6 356.7 579.1 356.4 578.6 356.1 578.1 356.3 577.6 356.3 577.1 355.7 576.6 356.4 576.1 356.8 575.6 356.8 575.1 355.5 574.6 356.4 574.1 355.8 573.6 356.1 573.1 356.6 572.6 355.9 572.1 355.9 571.6 356.8 571.1 356.5 570.6 356.7 570.1 356.3 569.6 356.4 569.1 356.7 568.6 356.5 568.2 356.3 567.7 356.8 567.2 356.8 566.7 356.6 566.2 356.7 565.7 356.5 565.2 356.5 564.7 356.5 564.2 356.1 563.7 356.2 563.2 356.4 562.7 356.7 562.2 356 561.7 356.2 561.2 355.4 560.7 356.2 560.2 356.4 559.7 356.2 559.2 356.2 558.7 356.2 558.2 356.4 557.7 356.1 557.2 356.7 556.7 356.7 556.2 356.7 555.7 356.2 555.2 356.7 554.7 356.1 554.2 356.7 553.7 356.1 553.2 356.6 552.7 356.7 552.2 356.1 551.7 356.7 551.2 356.4 550.7 356.6 550.2 356.6 549.7 356.1 549.2 356.6 548.7 356.7 548.2 356.5 547.7 356.7 547.2 356.1 546.7 356.6 546.2 355.8 545.7 355.8 545.2 356.1 544.7 356.2 544.2 356.2 543.7 356.2 543.2 356.7 542.7 356.7 542.2 356.7 541.7 356.3 541.2 356.1 540.7 356.1 540.2 356.5 539.7 356 539.2 356.8 538.7 356.6 538.2 356.1 537.7 356.3 537.2 356.2 536.7 356.1 536.2 356.2 535.7 356.7 535.2 356.3 534.7 356.5 534.2 356.8 533.7 356.5 533.2 356.2 532.7 356.3 532.2 356.5 531.7 356.5 531.2 356.7 530.7 356.1 530.2 356.7 529.7 356.3 529.2 356.1 528.7 356.4 528.2 356.5 527.7 356.7 527.2 356.5 526.7 356 526.2 356.7 525.7 356.1 525.2 356.2 524.7 355.8 524.2 356.5 523.7 356.1 523.2 356.7 522.7 356.5 522.2 356.4 521.7 356.7 521.2 356.3Z" fill="#0000ff" fill-opacity="0.85"/>
<path d="M521.2 355.3 521.7 355.7 522.2 355.4 522.7 355.5 523.2 355.7 523.7 355.1 524.2 355.5 524.7 354.8 525.2 355.2 525.7 355.1 526.2 355.7 526.7 355 527.2 355.5 527.7 355.7 528.2 355.5 528.7 355.4 529.2 355.1 529.7 355.3 530.2 355.7 530.7 355 531.2 355.7 531.7 355.5 532.2 355.5 532.7 355.3 533.2 355.2 533.7 355.5 534.2 355.7 534.7 355.5 535.2 355.2 535.7 355.6 536.2 355.1 536.7 355 537.2 355.1 537.7 355.1 538.2 354.9 538.7 355.3 539.2 355.5 539.7 354.7 540.2 355.1 540.7 354.7 541.2 354.5 541.7 354.6 542.2 354.8 542.7 354.6 543.2 354.3 543.7 353.5 544.2 353 544.7 352.4 545.2 351.5 545.7 350.3 546.2 349 546.7 348.1 547.2 345.5 547.7 343.5 548.2 340.3 548.7 337 549.2 333.4 549.7 329.6 550.2 327.3 550.7 325.8 551.2 325.4 551.7 327.1 552.2 329 552.7 332.9 553.2 336.4 553.7 339.3 554.2 343.1 554.7 345.1 555.2 347.9 555.7 349.1 556.2 351 556.7 352 557.2 352.8 557.7 352.9 558.2 353.6 558.7 353.8 559.2 354.1 559.7 354.3 560.2 354.7 560.7 354.6 561.2 353.9 561.7 354.8 562.2 354.6 562.7 355.5 563.2 355.1 563.7 355 564.2 355 564.7 355.3 565.2 355.4 565.7 355.4 566.2 355.6 566.7 355.5 567.2 355.7 567.7 355.7 568.2 355.3 568.6 355.5 569.1 355.7 569.6 355.4 570.1 355.3 570.6 355.7 571.1 355.5 571.6 355.8 572.1 354.9 572.6 354.8 573.1 355.6 573.6 355.1 574.1 354.8 574.6 355.4 575.1 354.5 575.6 355.7 576.1 355.7 576.6 355.4 577.1 354.7 577.6 355.3 578.1 355.3 578.6 355.1 579.1 355.4 579.6 355.6 580.1 355 580.6 355.2 581.1 355.4 581.6 355.6 582.1 355.7 582.6 354.7 583.1 355.1 583.6 355.3 584.1 355.6 584.6 355.5 585.1 355.3 585.6 355.2 586.1 355.5 586.6 355.2 587.1 355 587.6 355.3 588.1 355.5 588.6 355.5 589.1 355.4 589.6 355.4 590.1 355 590.6 355.2 591.1 354.5 591.6 355.3 592.1 355.5 592.6 355.5 593.1 355.7 593.6 354.7 594.1 355.5 594.6 355.1 595.1 355.7 595.6 355.6 596.1 354.6 596.6 355.7 597.1 355.7 597.6 355.1 598.1 355.2 598.6 355 599.1 355.8 599.6 354.3 600.1 355.2 600.6 355.5 601.1 355.7 601.6 355.4 602.1 355.4 602.6 355 603.1 355.2 603.6 355.2 604.1 355 604.6 355.8 605.1 355.6 605.6 355.6 606.1 355.1 606.6 355.7 607.1 355.7 607.6 354.6 608.1 355.3 608.6 355.6 609.1 355.5 609.6 355.3 610.1 355.2 610.6 355.7 611.1 355.3 611.6 355.7 612.1 355.5 612.6 355.6 613.1 355.4 613.6 355.7 614.1 355.4 614.6 354.8 615.1 355.4 615.6 355.1 616.1 354.2 616.6 355.5 617.1 355.5 617.6 355.2 618.1 355.2 618.6 355.4 619.1 355.1 619.6 355.6 620.1 355.3 620.6 355.6 621.1 355.8 621.6 354.2 622.1 355.4 622.6 355.2 623.1 355.7 623.6 355.3 624.1 355.3 624.6 355.4 625.1 355.6 625.6 355.7 626.1 355.3 626.6 355.3 627.1 355.1 627.6 355.1 628.1 355.1 628.6 355.3 629.1 355.2 629.6 355.8 630.1 355.4 630.6 354.9 631.1 355.3 631.6 355.5 632.1 355.2 632.6 355.5 633.1 355.1 633.6 355.6 634.1 355.3 634.6 355.6 635.1 355 635.6 355.6 636.1 355.1 636.6 355.1 637.1 355.7 637.6 355.2 638.1 355.5 638.6 355.4 639.1 355 639.6 355.5 640.1 355.1 640.6 355.4 641.1 355.2 641.6 355.4 642.1 354.4 642.6 355.2 643.1 355.2 643.6 355.3 644.1 355.6 644.6 355.2 645.1 355.2 645.6 355.2 646.1 354.9 646.6 354.8 647.1 354.9 647.6 355.2 648.1 355.4 648.6 354.9 649.1 355.5 649.5 355.1 650 354.9 650.5 354.7 651 355.3 651.5 354.6 652 354.7 652.5 354.3 653 354.1 653.5 354.6 654 354.3 654.5 355.2 655 354.8 655.5 355.1 656 354.6 656.5 354.5 657 354.7 657.5 355 658 354.3 658.5 354.2 659 354.6 659.5 354.4 660 354.5 660.5 354.3 661 354.6 661.5 354.6 662 354.9 662.5 354.4 663 354.7 663.5 354.8 664 354.3 664.5 354.5 665 354.7 665.5 354.1 666 354.8 666.5 354.6 667 354 667.5 354.6 668 354.7 668.5 355.1 669 354.8 669.5 354.5 670 354.6 670.5 354.6 671 354.8 671.5 355.3 672 354.8 672.5 355.1 673 354.9 673.5 354.9 674 354.7 674.5 354.8 675 354.8 675.5 355.4 676 354.8 676.5 354.9 677 355 677.5 355 678 355.4 678.5 355.2 679 355.5 679.5 355.2 680 355.1 680.5 355.6 681 355.5 681.5 355.3 682 355.2 682.5 355.7 683 355 683.5 355.4 684 355 684.5 355.7 685 355.6 685.5 355.4 686 355.2 686.5 355.6 687 355.3 687.5 355.4 688 355.2 688.5 355.4 689 355 689.5 355.8 690 355.5 690 356.5 689.5 356.8 689 356 688.5 356.4 688 356.2 687.5 356.4 687 356.4 686.5 356.6 686 356.2 685.5 356.4 685 356.6 684.5 356.7 684 356 683.5 356.5 683 356.1 682.5 356.7 682 356.2 681.5 356.4 681 356.6 680.5 356.7 680 356.2 679.5 356.3 679 356.7 678.5 356.3 678 356.6 677.5 356.2 677 356.2 676.5 356.1 676 356.1 675.5 356.6 675 356.1 674.5 356.1 674 356 673.5 356.2 673 356.3 672.5 356.5 672 356.3 671.5 356.8 671 356.3 670.5 356.1 670 356.1 669.5 356 669 356.4 668.5 356.7 668 356.3 667.5 356.2 667 355.6 666.5 356.3 666 356.5 665.5 355.8 665 356.5 664.5 356.3 664 356.1 663.5 356.6 663 356.5 662.5 356.2 662 356.7 661.5 356.4 661 356.4 660.5 356.1 660 356.3 659.5 356.2 659 356.4 658.5 355.9 658 356 657.5 356.7 657 356.4 656.5 356.2 656 356.3 655.5 356.8 655 356.4 654.5 356.8 654 355.9 653.5 356.1 653 355.6 652.5 355.8 652 356.2 651.5 356.1 651 356.7 650.5 356 650 356.2 649.5 356.4 649.1 356.8 648.6 356.2 648.1 356.6 647.6 356.4 647.1 356.1 646.6 356 646.1 356.1 645.6 356.3 645.1 356.4 644.6 356.3 644.1 356.7 643.6 356.4 643.1 356.3 642.6 356.3 642.1 355.5 641.6 356.4 641.1 356.2 640.6 356.5 640.1 356.2 639.6 356.5 639.1 356.1 638.6 356.4 638.1 356.5 637.6 356.2 637.1 356.7 636.6 356.1 636.1 356.1 635.6 356.6 635.1 356 634.6 356.6 634.1 356.3 633.6 356.6 633.1 356.1 632.6 356.5 632.1 356.2 631.6 356.5 631.1 356.3 630.6 355.9 630.1 356.4 629.6 356.8 629.1 356.2 628.6 356.3 628.1 356.1 627.6 356.1 627.1 356.1 626.6 356.3 626.1 356.3 625.6 356.7 625.1 356.6 624.6 356.4 624.1 356.3 623.6 356.3 623.1 356.7 622.6 356.2 622.1 356.4 621.6 355.2 621.1 356.8 620.6 356.6 620.1 356.3 619.6 356.6 619.1 356.1 618.6 356.4 618.1 356.2 617.6 356.2 617.1 356.5 616.6 356.5 616.1 355.2 615.6 356.1 615.1 356.4 614.6 355.8 614.1 356.4 613.6 356.7 613.1 356.4 612.6 356.6 612.1 356.5 611.6 356.7 611.1 356.3 610.6 356.7 610.1 356.2 609.6 356.3 609.1 356.5 608.6 356.6 608.1 356.3 607.6 355.6 607.1 356.7 606.6 356.7 606.1 356.1 605.6 356.6 605.1 356.6 604.6 356.8 604.1 356 603.6 356.2 603.1 356.2 602.6 356.1 602.1 356.4 601.6 356.4 601.1 356.7 600.6 356.5 600.1 356.2 599.6 355.3 599.1 356.8 598.6 356 598.1 356.2 597.6 356.1 597.1 356.7 596.6 356.8 596.1 355.6 595.6 356.6 595.1 356.8 594.6 356.1 594.1 356.5 593.6 355.8 593.1 356.8 592.6 356.6 592.1 356.6 591.6 356.3 591.1 355.6 590.6 356.3 590.1 356.1 589.6 356.5 589.1 356.5 588.6 356.6 588.1 356.5 587.6 356.4 587.1 356 586.6 356.3 586.1 356.5 585.6 356.2 585.1 356.3 584.6 356.6 584.1 356.7 583.6 356.4 583.1 356.1 582.6 355.8 582.1 356.7 581.6 356.6 581.1 356.4 580.6 356.2 580.1 356 579.6 356.7 579.1 356.4 578.6 356.1 578.1 356.3 577.6 356.3 577.1 355.7 576.6 356.4 576.1 356.8 575.6 356.8 575.1 355.5 574.6 356.4 574.1 355.8 573.6 356.1 573.1 356.6 572.6 355.9 572.1 355.9 571.6 356.8 571.1 356.5 570.6 356.7 570.1 356.3 569.6 356.4 569.1 356.7 568.6 356.5 568.2 356.3 567.7 356.8 567.2 356.8 566.7 356.6 566.2 356.7 565.7 356.5 565.2 356.5 564.7 356.5 564.2 356.1 563.7 356.2 563.2 356.4 562.7 356.7 562.2 356 561.7 356.2 561.2 355.4 560.7 356.2 560.2 356.4 559.7 356.2 559.2 356.2 558.7 356.2 558.2 356.4 557.7 356.1 557.2 356.7 556.7 356.7 556.2 356.7 555.7 356.2 555.2 356.7 554.7 356.1 554.2 356.7 553.7 356.1 553.2 356.6 552.7 356.7 552.2 356.1 551.7 356.7 551.2 356.4 550.7 356.6 550.2 356.6 549.7 356.1 549.2 356.6 548.7 356.7 548.2 356.5 547.7 356.7 547.2 356.1 546.7 356.6 546.2 355.8 545.7 355.8 545.2 356.1 544.7 356.2 544.2 356.2 543.7 356.2 543.2 356.7 542.7 356.7 542.2 356.7 541.7 356.3 541.2 356.1 540.7 356.1 540.2 356.5 539.7 356 539.2 356.8 538.7 356.6 538.2 356.1 537.7 356.3 537.2 356.2 536.7 356.1 536.2 356.2 535.7 356.7 535.2 356.3 534.7 356.5 534.2 356.8 533.7 356.5 533.2 356.2 532.7 356.3 532.2 356.5 531.7 356.5 531.2 356.7 530.7 356.1 530.2 356.7 529.7 356.3 529.2 356.1 528.7 356.4 528.2 356.5 527.7 356.7 527.2 356.5 526.7 356 526.2 356.7 525.7 356.1 525.2 356.2 524.7 355.8 524.2 356.5 523.7 356.1 523.2 356.7 522.7 356.5 522.2 356.4 521.7 356.7 521.2 356.3Z" fill="#0000ff"/>
<path d="M530.7 355.6V353M533.2 355.7V353.1M533.7 356V353.5M534.2 356.3V353.4M534.7 356V353.6M536.2 355.7V352.9M538.7 356.1V351.5M540.7 355.6V349.1M541.7 355.8V349.7M543.2 356.2V350M544.7 355.7V343.5M548.7 356.2V337M549.7 355.6V335.3M552.7 356.2V336M553.2 356.1V332.1M554.7 355.6V337.6M557.7 355.6V346.1M558.7 355.7V346.5M559.2 355.7V347.8M559.7 355.7V349.1M561.7 355.7V350.9M563.2 355.9V351.8M564.2 355.6V351M565.7 356V352.1M567.2 356.3V353.5M570.1 355.8V353.4M570.6 356.2V353.8M573.6 355.6V353.6M574.1 355.3V353M575.6 356.3V354.3M576.1 356.3V354.2M576.6 355.9V354M577.1 355.2V353M577.6 355.8V353.6M578.6 355.6V353.7M580.6 355.7V353.4M581.6 356.1V354.2M582.1 356.2V354.3M582.6 355.3V352.8M583.1 355.6V352.8M586.1 356V353.4M586.6 355.8V352.8M590.1 355.6V352.4M591.1 355.1V352.1M596.1 355.1V352.3M596.6 356.3V353.7M597.6 355.6V353M598.1 355.7V353M599.1 356.3V354.2M599.6 354.8V353M600.1 355.7V353.8M634.6 356.1V354M635.1 355.5V353.6M635.6 356.1V354M636.6 355.6V353.4M638.6 355.9V353.3M641.6 355.9V353.4M642.6 355.8V352.1M643.1 355.8V352.8M644.1 356.2V352.9M645.1 355.9V352.7M645.6 355.8V351.8M646.6 355.5V350.5M647.1 355.6V352.1M647.6 355.9V352.4M648.6 355.7V351.6M649.5 355.9V350.9M651 356.2V350M651.5 355.6V349.3M652 355.7V351M656 355.8V350.5M657.5 356.2V348.8M659.5 355.7V348.3M660 355.8V349.6M662 356.2V349.3M662.5 355.7V347.7M663 356V348M664 355.6V349.5M665 356V349.4M667 355.1V347.9M668 355.8V349.2M670.5 355.6V350.9M672.5 356V350.6M673.5 355.7V351.3M674.5 355.6V350.4M675 355.6V351.8M675.5 356.1V352.6M678.5 355.8V352.3M679.5 355.8V353M680 355.7V352.1M683.5 356V353.3M685 356.1V353.8M686 355.7V353.8M687 355.9V353.6M687.5 355.9V353.7M689 355.5V353.5M689.5 356.3V354.3" stroke="#0000ff" stroke-width="0.55" fill="none"/>
<path d="M521.9 361.6V365.1M522 361.7V365.3M522.5 361.6V363.8M523.1 360.4V365.1M523.5 360.5V366.3M524.3 360.2V365.1M524.7 362V362.5M525.2 361.7V363.5M525.9 360.4V362.6M526.3 362.3V365.9M526.5 361.5V362.4M527.5 360.4V364.9M528.2 361.6V362.4M528.8 360.1V365.8M529.1 361.7V366.7M529.8 361.3V363.7M530.1 360.8V366.6M530.8 362V363.7M531.7 362.1V366.4M532.1 361.4V365.9M532.5 362.2V363.6M533.3 361.7V364.9M533.7 361.1V366.7M534.1 360.6V366.7M535.2 360.9V366M535.7 361.7V363.3M536.2 360.2V364.9M536.9 360.2V364.2M537.4 360.4V365.2M537.7 361.6V363.2M538.4 361.4V364.3M538.8 361.2V363.1M539.1 361.9V366.3M539.6 362.2V366.6M540.3 361.5V363.6M540.8 361.8V365.1M541.1 361.4V365.1M541.9 362.1V365.3M542.7 361.9V365.9M543.2 361.4V363.4M543.7 361.6V363.3M544.2 361.4V366.2M544.5 361.1V364.3M545.8 361.7V363.8M546.1 360.5V363M547.3 360.6V366.4M547.7 360.4V364.5M548.3 360.2V363.2M548.8 360.2V365.4M549.4 360.9V363.6M549.8 361.4V362.8M550 361.3V365.9M550.6 360.5V366.8M551.3 361.9V365.4M551.8 361.7V363.4M552 360.2V363.1M552.5 361.6V365.7M553.6 360.9V362.6M554.1 360.5V363.9M554.6 360.8V366.5M555.1 361.9V362.7M555.8 362.2V363.9M556.1 362.1V364.5M556.7 360.7V365.9M557 360.9V365.7M557.5 361.1V363.9M558.2 361.2V363.5M559.1 362.1V365.6M559.5 361.8V364.2M560.7 362V363.6M561 362.3V365.6M561.7 361.3V365.5M562.1 360.6V364.6M563.2 360.2V365.9M563.7 360.9V366.4M564.1 360.3V364.5M564.7 362V365M566.2 361.9V362.3M567.5 361.1V365.6M568.1 360.2V365.1M568.6 360.3V366M569.2 362V366.1M569.7 361.1V366.6M570.2 362.1V364M570.5 361.2V364.6M571.1 360.5V363M571.7 360.7V362.5M572.1 360.5V362.7M573 362.2V363.5M573.7 360.4V364.8M574.3 360.3V363.7M574.8 361.8V362.5M575.1 360.9V366.2M575.5 360.8V365.1M576.1 360.5V364.1M576.5 360.7V365.1M577.3 361V363.6M577.8 360.9V362.7M578.1 360.4V362.8M578.6 360.7V363.5M579.5 360.6V364.4M580.2 360.7V362.7M580.8 362.2V363.6M581.1 361.3V362.7M581.5 361.4V362.3M582.2 361.2V365.1M582.5 361V363.2M583.2 360.1V366.3M583.7 361V363.8M584.1 361V364.5M584.7 360.7V365.4M585.3 361.9V362.9M585.4 360.5V365.4M586.8 361V364.6M587.8 362.2V364.8M588.5 361.2V366.3M589.8 361.6V363.4M590 361.1V363.2M590.8 360.9V366.2M591 360.2V366.3M592.4 361.5V363.2M593.1 361V363.7M593.5 360.4V366.6M594.3 361.6V365M594.7 362.2V363M595.2 360.4V366.4M595.7 362.3V366.5M595.9 360.3V364.8M596.9 361.9V363.3M597.8 361.1V365.7M598.2 360.1V362.9M598.7 361.4V362.5M599.1 360.8V363.8M599.5 361.6V365.8M600.3 361.6V366.1M601.1 360.5V364.3M601.8 362.2V362.9M602.5 361.6V366.7M603.1 361.5V365.9M603.7 361.9V363.6M604.2 361.8V363.1M604.6 361.5V366.1M605.2 361.8V365M605.7 361V365.2M606.1 361.6V365.1M606.4 361.3V363.2M607 361.4V365.6M607.6 360.1V365.6M608.3 360.7V364.4M608.8 360.8V364.2M608.9 361.7V363.2M609.5 361.6V363.1M609.9 361.8V366M610.4 361.9V363.6M611 361.8V365.7M612 361.2V362.3M612.8 360.7V362.4M613 360.7V366.1M613.7 361.8V362.9M614.6 361.6V363M615.2 361.3V365.9M615.7 360.2V364.2M615.9 362.1V364.8M616.5 360.6V365.3M617 360.3V364.3M617.6 360.4V365.9M618 361.2V364.5M618.6 360.4V362.8M619 361.4V362.7M619.6 360.7V366.7M620.3 362.1V362.7M620.7 361.5V364.7M621.1 360.1V362.4M621.8 360.6V364.8M622.6 360.5V366M623.1 361.6V366.7M624.5 360.9V366.4M626.5 361.9V365.7M627.6 361.6V363.5M627.9 362.2V363.2M628.6 361V365.7M629 361.6V364.8M629.7 360.1V365M630.1 362V364.2M630.6 361V366.6M631.1 360.7V362.9M631.7 361.9V364.2M632.3 361V364M632.7 361.8V366.4M633.6 360.4V366M634.1 361.1V366M634.4 361.8V365.2M635.4 360.5V363.6M636 361.4V365.3M636.7 361.4V363.4M637.4 361.2V366.4M638.2 362.3V365.6M638.6 362V363.7M639 360.6V363.1M639.9 362.1V363.7M640.7 360.7V365.6M641 361.5V365.7M641.4 361.4V363M643.1 361.2V366.6M643.6 360.7V364.5M644.6 360.9V366.1M644.9 360.7V364.6M646.2 360.3V363.6M647.2 362.2V366M647.7 361.5V363.2M648 361V364.3M648.6 361.2V365.5M649.2 360.8V363.3M649.6 361.8V365.9M650 361.9V366.3M650.4 361.1V366.4M651 360.9V363M651.6 360.9V364.2M652 362V366.6M652.6 360.8V365.3M652.8 360.2V363.4M654.5 362.1V365.7M655.2 361.3V363.2M655.4 361.5V362.9M656.2 360.5V362.4M656.5 361V365.6M656.9 361.7V364.4M657.6 360.6V365.9M658.1 360.4V364.7M658.6 361.3V364.6M659 361.6V363.5M659.5 361V365.1M659.9 360.6V366.3M660.4 361.2V362.9M661 361.9V363.2M662 361.2V364.8M662.8 362.1V366.8M663.5 362V365.8M664.7 361.2V365M665.2 360.3V362.7M665.6 362.3V363.5M666.4 362V362.6M667 361V364.9M667.9 362.3V364.9M668.6 361V362.6M669.4 360.3V366M670.1 361.9V364.3M670.3 360.8V365.7M671.9 361.9V363.2M672.7 360.8V364.6M673.2 361.9V363.2M673.5 361.8V363.3M673.8 361.8V362.3M674.4 361.1V362.4M674.9 361.1V365.1M675.6 360.4V362.4M676 361.4V363.1M676.6 360.9V365.6M676.9 360.6V363.3M677.6 361.5V364.7M678.7 360.6V366.6M679 361.1V366.3M679.6 361.2V362.6M680.2 361.4V365.6M680.5 360.2V362.9M680.9 360.4V366.3M681.5 361V365.7M681.8 361.3V362.6M682.5 362.3V362.8M682.8 361.2V365.4M684.4 360.4V363.9M685 362V365.7M685.4 360.2V364.8M686.2 360.7V365.6M686.3 361.5V362.5M687 360.2V362.6M687.4 361.5V363.2M687.9 360.9V366.4M688.4 361.2V362.5M688.9 360.6V364.5M689.4 360.6V365.7M689.8 361.3V364.7" stroke="#0000ff" stroke-width="0.7" fill="none"/>
<path d="M521.2 397.9 521.7 398.3 522.2 397.8 522.7 397.9 523.2 397.9 523.7 397.9 524.2 397.7 524.7 398 525.2 397.9 525.7 398.2 526.2 398.1 526.7 398.1 527.2 398.4 527.7 397.7 528.2 397.8 528.7 397.9 529.2 398 529.7 398.4 530.2 397.8 530.7 398 531.2 398.1 531.7 398.3 532.2 398 532.7 398.5 533.2 398.2 533.7 398.1 534.2 398.1 534.7 398.4 535.2 398.5 535.7 397.1 536.2 397.7 536.7 398.1 537.2 397.7 537.7 398.1 538.2 397.8 538.7 398.5 539.2 398.1 539.7 398.4 540.2 398.2 540.7 398.1 541.2 397.7 541.7 398.4 542.2 397.1 542.7 397.8 543.2 398.3 543.7 398.1 544.2 398.4 544.7 398.1 545.2 397.9 545.7 398.1 546.2 397.9 546.7 397.9 547.2 398.2 547.7 398.1 548.2 397.9 548.7 398.2 549.2 398.3 549.7 398 550.2 398.3 550.7 397.8 551.2 398.4 551.7 398.1 552.2 397.9 552.7 398.4 553.2 398.5 553.7 398.4 554.2 398.1 554.7 397.7 555.2 397.9 555.7 398 556.2 398.1 556.7 397.9 557.2 398.1 557.7 398.2 558.2 397.8 558.7 397.8 559.2 397 559.7 398.2 560.2 398.2 560.7 397.9 561.2 398 561.7 398 562.2 398.1 562.7 397.8 563.2 398.4 563.7 398 564.2 398.3 564.7 397.4 565.2 398.2 565.7 397.2 566.2 398.2 566.7 398.2 567.2 398.4 567.7 398 568.2 398.3 568.6 398.3 569.1 396.8 569.6 398.1 570.1 397.8 570.6 398.4 571.1 398.4 571.6 397.8 572.1 398 572.6 398.4 573.1 398.3 573.6 398.3 574.1 398.3 574.6 397.9 575.1 398.4 575.6 398.4 576.1 398.3 576.6 397.9 577.1 398.5 577.6 398 578.1 397.5 578.6 398.5 579.1 398 579.6 398.2 580.1 398.2 580.6 397.7 581.1 398.3 581.6 397.3 582.1 398 582.6 397.9 583.1 398 583.6 398 584.1 398.4 584.6 397.9 585.1 398.2 585.6 398.1 586.1 398.4 586.6 397.8 587.1 398 587.6 398.2 588.1 397.7 588.6 398 589.1 397.9 589.6 397.9 590.1 398.3 590.6 398 591.1 397.9 591.6 398.1 592.1 398.5 592.6 398.4 593.1 398.1 593.6 398.4 594.1 397.9 594.6 398.3 595.1 397.6 595.6 398 596.1 397.9 596.6 397.8 597.1 398 597.6 398.4 598.1 398.4 598.6 397.7 599.1 398.4 599.6 398.3 600.1 397.9 600.6 397.7 601.1 398 601.6 397.8 602.1 398 602.6 398.2 603.1 397.7 603.6 398 604.1 398.3 604.6 397.2 605.1 398 605.6 398.2 606.1 397.7 606.6 398.2 607.1 398.3 607.6 398.2 608.1 398.4 608.6 397.7 609.1 398.5 609.6 397.8 610.1 397.8 610.6 398.2 611.1 398.3 611.6 398 612.1 398.4 612.6 398.5 613.1 398.3 613.6 398.5 614.1 398.1 614.6 398.3 615.1 397.5 615.6 398.1 616.1 397.7 616.6 397.9 617.1 398.4 617.6 397.7 618.1 398.3 618.6 398.3 619.1 398.1 619.6 397.9 620.1 398.1 620.6 398 621.1 397.9 621.6 397.8 622.1 397.8 622.6 398.3 623.1 397.7 623.6 397.3 624.1 398.5 624.6 397.8 625.1 398.4 625.6 398.1 626.1 398.5 626.6 397.4 627.1 397.8 627.6 397.7 628.1 398.3 628.6 398.1 629.1 398.5 629.6 398.2 630.1 397.9 630.6 397.8 631.1 397.7 631.6 397.9 632.1 398.3 632.6 398.4 633.1 398.2 633.6 398.1 634.1 398.2 634.6 398.3 635.1 397.8 635.6 398.5 636.1 397.3 636.6 396.9 637.1 398.2 637.6 398.2 638.1 398.3 638.6 398.4 639.1 398.2 639.6 398 640.1 398.4 640.6 397.9 641.1 398.1 641.6 398 642.1 398.1 642.6 398.1 643.1 398 643.6 398.3 644.1 398.4 644.6 397.8 645.1 397.9 645.6 397.1 646.1 397.2 646.6 398.3 647.1 398.4 647.6 398.1 648.1 398.1 648.6 397.9 649.1 398.4 649.5 397.9 650 398.5 650.5 398.1 651 398.1 651.5 397.9 652 397.9 652.5 398.3 653 398 653.5 398.5 654 398.1 654.5 398.4 655 398.1 655.5 398.2 656 398.5 656.5 398.2 657 398.4 657.5 398.3 658 397.1 658.5 398.5 659 397.8 659.5 398.1 660 397.7 660.5 398 661 398.2 661.5 397.8 662 397.9 662.5 398.1 663 397.7 663.5 398.2 664 398 664.5 398 665 397.9 665.5 397.9 666 398.5 666.5 398.2 667 398.2 667.5 398.2 668 397.9 668.5 398 669 398.2 669.5 398.4 670 398.2 670.5 398.2 671 397.9 671.5 397.8 672 398.1 672.5 397.9 673 398.3 673.5 397.8 674 398.5 674.5 398.5 675 398 675.5 398.1 676 398.2 676.5 398.2 677 398.4 677.5 397.1 678 397.9 678.5 398.5 679 397.8 679.5 398.1 680 398.5 680.5 397.8 681 398.1 681.5 397.7 682 398.5 682.5 398.2 683 398 683.5 397.8 684 398.2 684.5 397.7 685 397.8 685.5 398.3 686 398.4 686.5 397.6 687 397.8 687.5 398.2 688 397.9 688.5 397.7 689 398.3 689.5 397.6 690 397.7 690 406.7 689.5 406.9 689 406.5 688.5 406 688 405.2 687.5 406.5 687 405.2 686.5 405.1 686 405.1 685.5 405.3 685 405 684.5 405.3 684 406.1 683.5 405.8 683 405.2 682.5 407 682 405 681.5 405.8 681 406.9 680.5 405 680 406.4 679.5 406.4 679 405.1 678.5 405.9 678 405.1 677.5 406.8 677 406.8 676.5 404.9 676 406.6 675.5 406.3 675 404.8 674.5 406.6 674 406.4 673.5 405.1 673 405.5 672.5 405.9 672 406.6 671.5 406.9 671 405.2 670.5 405 670 405.8 669.5 406.8 669 406.3 668.5 406.2 668 406.1 667.5 406.8 667 404.9 666.5 406 666 407 665.5 406.1 665 405.9 664.5 406.7 664 406.2 663.5 405.8 663 406.8 662.5 405.4 662 405.1 661.5 406.2 661 405.2 660.5 406 660 405.4 659.5 406.8 659 406.7 658.5 405.8 658 406.8 657.5 406.7 657 405.5 656.5 406.7 656 406.3 655.5 405.8 655 405.7 654.5 406 654 406.7 653.5 404.9 653 406.6 652.5 406.6 652 404.9 651.5 406.1 651 405.5 650.5 406 650 405.1 649.5 406.1 649.1 406.6 648.6 405.7 648.1 406.7 647.6 406.8 647.1 405.3 646.6 405.4 646.1 405.9 645.6 406.8 645.1 406 644.6 406.1 644.1 406.3 643.6 406 643.1 406.2 642.6 405.2 642.1 406.2 641.6 405.7 641.1 405.5 640.6 406.6 640.1 406.3 639.6 406.3 639.1 405 638.6 406.1 638.1 406.2 637.6 404.9 637.1 407 636.6 406.6 636.1 405.5 635.6 405.9 635.1 406.3 634.6 405.4 634.1 405.5 633.6 406.8 633.1 405.7 632.6 406.2 632.1 406.3 631.6 406.4 631.1 406.1 630.6 405 630.1 406.3 629.6 406.9 629.1 406.2 628.6 406.7 628.1 405.9 627.6 406.1 627.1 405.5 626.6 404.9 626.1 406.6 625.6 404.9 625.1 405.8 624.6 405.9 624.1 406.3 623.6 405.4 623.1 405.3 622.6 406 622.1 405.9 621.6 406.5 621.1 405.2 620.6 405.4 620.1 406.4 619.6 405.8 619.1 406.3 618.6 405.9 618.1 406.5 617.6 405 617.1 405.4 616.6 405.5 616.1 405.2 615.6 405.6 615.1 405.3 614.6 406.7 614.1 405.8 613.6 406.6 613.1 406.4 612.6 406.6 612.1 405 611.6 405.6 611.1 405.7 610.6 407 610.1 406.7 609.6 406.2 609.1 406.4 608.6 406.3 608.1 405 607.6 405.1 607.1 405.2 606.6 405.3 606.1 405.1 605.6 406.9 605.1 406.5 604.6 407 604.1 405.4 603.6 405.6 603.1 405.3 602.6 405.8 602.1 404.9 601.6 404.9 601.1 405.8 600.6 406.3 600.1 405.8 599.6 406.1 599.1 405.7 598.6 406.5 598.1 405.6 597.6 406.3 597.1 405.7 596.6 406 596.1 406.4 595.6 405.1 595.1 405.4 594.6 406.2 594.1 406.2 593.6 405.8 593.1 406 592.6 406.4 592.1 406.9 591.6 406.3 591.1 406.7 590.6 406.9 590.1 405 589.6 404.8 589.1 405.9 588.6 406.2 588.1 405.8 587.6 405.2 587.1 406.5 586.6 406.2 586.1 405.2 585.6 405.8 585.1 405.8 584.6 405.7 584.1 405.5 583.6 406.3 583.1 405.1 582.6 405.7 582.1 406.4 581.6 405.5 581.1 406.3 580.6 406 580.1 406.4 579.6 405.6 579.1 405.5 578.6 405 578.1 405.2 577.6 406 577.1 406.2 576.6 406.7 576.1 404.9 575.6 405.5 575.1 405.3 574.6 405 574.1 406.6 573.6 406.8 573.1 404.9 572.6 406.9 572.1 405.1 571.6 406.7 571.1 405.3 570.6 406.7 570.1 405.5 569.6 406.1 569.1 406.8 568.6 405.7 568.2 405.4 567.7 404.8 567.2 405 566.7 405.9 566.2 405.2 565.7 405.4 565.2 405.1 564.7 405.5 564.2 407 563.7 406.6 563.2 406.7 562.7 405.4 562.2 407 561.7 405 561.2 405.5 560.7 405.3 560.2 406.9 559.7 405.7 559.2 405.3 558.7 406.3 558.2 405 557.7 406.7 557.2 404.9 556.7 406.1 556.2 405.1 555.7 407 555.2 405.8 554.7 407 554.2 405.7 553.7 405.2 553.2 406.9 552.7 404.9 552.2 405.8 551.7 405.4 551.2 405.2 550.7 405.5 550.2 407 549.7 405.8 549.2 405 548.7 406.5 548.2 406.9 547.7 406.3 547.2 406.8 546.7 405 546.2 406.1 545.7 405.1 545.2 406.2 544.7 405.2 544.2 405.3 543.7 405.4 543.2 405.1 542.7 405 542.2 406.9 541.7 406.6 541.2 404.8 540.7 406 540.2 406.5 539.7 406.2 539.2 406.8 538.7 405.4 538.2 405.8 537.7 406.2 537.2 406.3 536.7 406.7 536.2 407 535.7 406.5 535.2 405 534.7 405.3 534.2 406.1 533.7 405.3 533.2 406.8 532.7 405.5 532.2 405.3 531.7 404.9 531.2 406.7 530.7 406.2 530.2 405.2 529.7 406.1 529.2 405.4 528.7 405.6 528.2 405 527.7 405.4 527.2 406.4 526.7 406.2 526.2 405.6 525.7 406.4 525.2 406.7 524.7 406.9 524.2 406.3 523.7 406.6 523.2 406 522.7 404.9 522.2 404.9 521.7 406.8 521.2 405.3Z" fill="#ff0000"/>
<path d="M521.2 396.8 521.7 397.1 522.2 396.5 522.7 396.6 523.2 396.5 523.7 396.4 524.2 396.1 524.7 396.3 525.2 396.1 525.7 396.3 526.2 396.1 526.7 396 527.2 396.1 527.7 395.3 528.2 395.2 528.7 395.2 529.2 395.1 529.7 395.4 530.2 394.5 530.7 394.5 531.2 394.4 531.7 394.3 532.2 393.7 532.7 393.9 533.2 393.3 533.7 392.8 534.2 392.5 534.7 392.3 535.2 392 535.7 390.1 536.2 390.1 536.7 390 537.2 388.9 537.7 388.6 538.2 387.5 538.7 387.4 539.2 386.1 539.7 385.5 540.2 384.2 540.7 383.1 541.2 381.5 541.7 381 542.2 378.4 542.7 377.8 543.2 377.1 543.7 375.7 544.2 375 544.7 373.8 545.2 372.9 545.7 372.5 546.2 372.1 546.7 372.2 547.2 372.8 547.7 373.4 548.2 373.9 548.7 375.2 549.2 376.5 549.7 377.4 550.2 378.9 550.7 379.7 551.2 381.5 551.7 382.4 552.2 383.3 552.7 384.9 553.2 386 553.7 386.9 554.2 387.4 554.7 387.8 555.2 388.7 555.7 389.5 556.2 390.2 556.7 390.6 557.2 391.3 557.7 391.8 558.2 391.9 558.7 392.3 559.2 391.8 559.7 393.4 560.2 393.7 560.7 393.6 561.2 394.1 561.7 394.2 562.2 394.6 562.7 394.5 563.2 395.4 563.7 395.1 564.2 395.5 564.7 394.8 565.2 395.8 565.7 395 566.2 396 566.7 396.2 567.2 396.5 567.7 396.2 568.2 396.6 568.6 396.7 569.1 395.3 569.6 396.7 570.1 396.4 570.6 397.1 571.1 397.2 571.6 396.6 572.1 396.9 572.6 397.4 573.1 397.4 573.6 397.4 574.1 397.5 574.6 397.1 575.1 397.6 575.6 397.6 576.1 397.6 576.6 397.2 577.1 397.8 577.6 397.4 578.1 396.9 578.6 397.9 579.1 397.5 579.6 397.7 580.1 397.7 580.6 397.3 581.1 397.9 581.6 397 582.1 397.6 582.6 397.6 583.1 397.7 583.6 397.7 584.1 398.2 584.6 397.6 585.1 397.9 585.6 397.8 586.1 398.2 586.6 397.6 587.1 397.8 587.6 398.1 588.1 397.6 588.6 397.8 589.1 397.7 589.6 397.8 590.1 398.2 590.6 397.9 591.1 397.8 591.6 398 592.1 398.4 592.6 398.4 593.1 398 593.6 398.4 594.1 397.9 594.6 398.3 595.1 397.6 595.6 397.9 596.1 397.9 596.6 397.7 597.1 398 597.6 398.4 598.1 398.4 598.6 397.7 599.1 398.4 599.6 398.3 600.1 397.9 600.6 397.7 601.1 398 601.6 397.8 602.1 398 602.6 398.2 603.1 397.7 603.6 398 604.1 398.3 604.6 397.2 605.1 398 605.6 398.2 606.1 397.7 606.6 398.2 607.1 398.2 607.6 398.2 608.1 398.3 608.6 397.7 609.1 398.4 609.6 397.7 610.1 397.7 610.6 398.1 611.1 398.3 611.6 397.9 612.1 398.3 612.6 398.4 613.1 398.2 613.6 398.4 614.1 398 614.6 398.2 615.1 397.3 615.6 397.9 616.1 397.6 616.6 397.7 617.1 398.2 617.6 397.5 618.1 398 618.6 398 619.1 397.9 619.6 397.7 620.1 397.8 620.6 397.6 621.1 397.6 621.6 397.4 622.1 397.5 622.6 397.9 623.1 397.3 623.6 396.9 624.1 398 624.6 397.3 625.1 397.9 625.6 397.5 626.1 397.8 626.6 396.7 627.1 397.1 627.6 397 628.1 397.6 628.6 397.3 629.1 397.6 629.6 397.3 630.1 396.9 630.6 396.8 631.1 396.7 631.6 396.8 632.1 397.1 632.6 397.2 633.1 396.9 633.6 396.8 634.1 396.8 634.6 396.8 635.1 396.2 635.6 396.8 636.1 395.5 636.6 395 637.1 396.2 637.6 396.1 638.1 396.1 638.6 396.1 639.1 395.7 639.6 395.3 640.1 395.6 640.6 395 641.1 395 641.6 394.6 642.1 394.6 642.6 394.4 643.1 394 643.6 394.1 644.1 393.9 644.6 393 645.1 392.8 645.6 391.7 646.1 391.4 646.6 392.1 647.1 391.7 647.6 391.1 648.1 390.6 648.6 389.8 649.1 389.8 649.5 388.7 650 388.7 650.5 387.6 651 386.9 651.5 385.9 652 385.2 652.5 384.8 653 383.8 653.5 383.5 654 382.3 654.5 381.9 655 380.9 655.5 380.5 656 380.3 656.5 379.7 657 379.7 657.5 379.5 658 378.4 658.5 380 659 379.6 659.5 380.4 660 380.6 660.5 381.5 661 382.4 661.5 382.8 662 383.7 662.5 384.6 663 385 663.5 386.3 664 386.8 664.5 387.6 665 388 665.5 388.7 666 389.9 666.5 390.2 667 390.7 667.5 391.1 668 391.3 668.5 391.8 669 392.5 669.5 393 670 393.1 670.5 393.4 671 393.5 671.5 393.6 672 394.2 672.5 394.2 673 394.9 673.5 394.5 674 395.4 674.5 395.6 675 395.3 675.5 395.6 676 395.8 676.5 395.9 677 396.3 677.5 395 678 396 678.5 396.6 679 396.1 679.5 396.5 680 396.9 680.5 396.4 681 396.7 681.5 396.5 682 397.3 682.5 397.1 683 396.9 683.5 396.8 684 397.3 684.5 396.8 685 397 685.5 397.5 686 397.7 686.5 396.9 687 397.2 687.5 397.6 688 397.3 688.5 397.2 689 397.8 689.5 397.2 690 397.3 690 399.2 689.5 399.1 689 399.8 688.5 399.2 688 399.4 687.5 399.7 687 399.3 686.5 399.1 686 399.9 685.5 399.8 685 399.3 684.5 399.2 684 399.7 683.5 399.3 683 399.5 682.5 399.7 682 400 681.5 399.2 681 399.6 680.5 399.3 680 400 679.5 399.6 679 399.3 678.5 400 678 399.4 677.5 398.6 677 399.9 676.5 399.7 676 399.7 675.5 399.6 675 399.5 674.5 400 674 400 673.5 399.3 673 399.8 672.5 399.4 672 399.6 671.5 399.3 671 399.4 670.5 399.7 670 399.7 669.5 399.9 669 399.7 668.5 399.5 668 399.4 667.5 399.7 667 399.7 666.5 399.7 666 400 665.5 399.4 665 399.4 664.5 399.5 664 399.5 663.5 399.7 663 399.2 662.5 399.6 662 399.4 661.5 399.3 661 399.7 660.5 399.5 660 399.2 659.5 399.6 659 399.3 658.5 400 658 398.6 657.5 399.8 657 399.9 656.5 399.7 656 400 655.5 399.7 655 399.6 654.5 399.9 654 399.6 653.5 400 653 399.5 652.5 399.8 652 399.4 651.5 399.4 651 399.6 650.5 399.6 650 400 649.5 399.4 649.1 399.9 648.6 399.4 648.1 399.6 647.6 399.6 647.1 399.9 646.6 399.8 646.1 398.7 645.6 398.6 645.1 399.4 644.6 399.3 644.1 399.9 643.6 399.8 643.1 399.5 642.6 399.6 642.1 399.6 641.6 399.5 641.1 399.6 640.6 399.4 640.1 399.9 639.6 399.5 639.1 399.7 638.6 399.9 638.1 399.8 637.6 399.7 637.1 399.7 636.6 398.4 636.1 398.8 635.6 400 635.1 399.3 634.6 399.8 634.1 399.7 633.6 399.6 633.1 399.7 632.6 399.9 632.1 399.8 631.6 399.4 631.1 399.2 630.6 399.3 630.1 399.4 629.6 399.7 629.1 400 628.6 399.6 628.1 399.8 627.6 399.2 627.1 399.3 626.6 398.9 626.1 400 625.6 399.6 625.1 399.9 624.6 399.3 624.1 400 623.6 398.8 623.1 399.2 622.6 399.8 622.1 399.3 621.6 399.3 621.1 399.4 620.6 399.5 620.1 399.6 619.6 399.4 619.1 399.6 618.6 399.8 618.1 399.8 617.6 399.2 617.1 399.9 616.6 399.4 616.1 399.2 615.6 399.6 615.1 399 614.6 399.8 614.1 399.6 613.6 400 613.1 399.8 612.6 400 612.1 399.9 611.6 399.5 611.1 399.8 610.6 399.7 610.1 399.3 609.6 399.3 609.1 400 608.6 399.2 608.1 399.9 607.6 399.7 607.1 399.8 606.6 399.7 606.1 399.2 605.6 399.7 605.1 399.5 604.6 398.7 604.1 399.8 603.6 399.5 603.1 399.2 602.6 399.7 602.1 399.5 601.6 399.3 601.1 399.5 600.6 399.2 600.1 399.4 599.6 399.8 599.1 399.9 598.6 399.2 598.1 399.9 597.6 399.9 597.1 399.5 596.6 399.3 596.1 399.4 595.6 399.5 595.1 399.1 594.6 399.8 594.1 399.4 593.6 399.9 593.1 399.6 592.6 399.9 592.1 400 591.6 399.6 591.1 399.4 590.6 399.5 590.1 399.8 589.6 399.4 589.1 399.4 588.6 399.5 588.1 399.2 587.6 399.7 587.1 399.5 586.6 399.3 586.1 399.9 585.6 399.6 585.1 399.7 584.6 399.4 584.1 399.9 583.6 399.5 583.1 399.5 582.6 399.4 582.1 399.5 581.6 398.8 581.1 399.8 580.6 399.2 580.1 399.7 579.6 399.7 579.1 399.5 578.6 400 578.1 399 577.6 399.5 577.1 400 576.6 399.4 576.1 399.8 575.6 399.9 575.1 399.9 574.6 399.4 574.1 399.8 573.6 399.8 573.1 399.8 572.6 399.9 572.1 399.5 571.6 399.3 571.1 399.9 570.6 399.9 570.1 399.3 569.6 399.6 569.1 398.3 568.6 399.8 568.2 399.8 567.7 399.5 567.2 399.9 566.7 399.7 566.2 399.7 565.7 398.7 565.2 399.7 564.7 398.9 564.2 399.8 563.7 399.5 563.2 399.9 562.7 399.3 562.2 399.6 561.7 399.5 561.2 399.5 560.7 399.4 560.2 399.7 559.7 399.7 559.2 398.5 558.7 399.3 558.2 399.3 557.7 399.7 557.2 399.6 556.7 399.4 556.2 399.6 555.7 399.5 555.2 399.4 554.7 399.2 554.2 399.6 553.7 399.9 553.2 400 552.7 399.9 552.2 399.4 551.7 399.6 551.2 399.9 550.7 399.3 550.2 399.8 549.7 399.5 549.2 399.8 548.7 399.7 548.2 399.4 547.7 399.6 547.2 399.7 546.7 399.4 546.2 399.4 545.7 399.6 545.2 399.4 544.7 399.6 544.2 399.9 543.7 399.6 543.2 399.8 542.7 399.3 542.2 398.6 541.7 399.9 541.2 399.2 540.7 399.6 540.2 399.7 539.7 399.9 539.2 399.6 538.7 400 538.2 399.3 537.7 399.6 537.2 399.2 536.7 399.6 536.2 399.2 535.7 398.6 535.2 400 534.7 399.9 534.2 399.6 533.7 399.6 533.2 399.7 532.7 400 532.2 399.5 531.7 399.8 531.2 399.6 530.7 399.5 530.2 399.3 529.7 399.9 529.2 399.5 528.7 399.4 528.2 399.3 527.7 399.2 527.2 399.9 526.7 399.6 526.2 399.6 525.7 399.7 525.2 399.4 524.7 399.5 524.2 399.2 523.7 399.4 523.2 399.4 522.7 399.4 522.2 399.3 521.7 399.8 521.2 399.4Z" fill="#ff0000" fill-opacity="0.85"/>
<path d="M521.2 398.4 521.7 398.8 522.2 398.2 522.7 398.3 523.2 398.3 523.7 398.3 524.2 398.1 524.7 398.4 525.2 398.3 525.7 398.6 526.2 398.5 526.7 398.5 527.2 398.8 527.7 398.1 528.2 398.1 528.7 398.3 529.2 398.3 529.7 398.7 530.2 398.1 530.7 398.2 531.2 398.3 531.7 398.4 532.2 398 532.7 398.5 533.2 398.2 533.7 397.9 534.2 397.9 534.7 398 535.2 397.9 535.7 396.4 536.2 396.7 536.7 396.9 537.2 396.1 537.7 396.2 538.2 395.3 538.7 395.4 539.2 394.4 539.7 393.8 540.2 392.6 540.7 391.3 541.2 389.5 541.7 388.6 542.2 385.3 542.7 384 543.2 382.3 543.7 379.7 544.2 377.8 544.7 375.5 545.2 373.6 545.7 372.5 546.2 371.8 546.7 372 547.2 373.1 547.7 374.5 548.2 376.1 548.7 378.6 549.2 381.1 549.7 383.1 550.2 385.5 550.7 386.9 551.2 389.3 551.7 390.5 552.2 391.7 552.7 393.3 553.2 394.3 553.7 395 554.2 395.3 554.7 395.5 555.2 396.1 555.7 396.6 556.2 397 556.7 397.1 557.2 397.5 557.7 397.7 558.2 397.5 558.7 397.6 559.2 396.9 559.7 398.1 560.2 398.2 560.7 398 561.2 398.2 561.7 398.1 562.2 398.3 562.7 398 563.2 398.7 563.7 398.3 564.2 398.6 564.7 397.8 565.2 398.6 565.7 397.6 566.2 398.6 566.7 398.6 567.2 398.8 567.7 398.5 568.2 398.7 568.6 398.7 569.1 397.3 569.6 398.6 570.1 398.3 570.6 398.9 571.1 398.9 571.6 398.2 572.1 398.5 572.6 398.9 573.1 398.8 573.6 398.8 574.1 398.8 574.6 398.4 575.1 398.9 575.6 398.8 576.1 398.8 576.6 398.3 577.1 399 577.6 398.5 578.1 398 578.6 399 579.1 398.5 579.6 398.7 580.1 398.6 580.6 398.2 581.1 398.8 581.6 397.8 582.1 398.4 582.6 398.4 583.1 398.5 583.6 398.5 584.1 398.9 584.6 398.3 585.1 398.7 585.6 398.5 586.1 398.9 586.6 398.3 587.1 398.5 587.6 398.7 588.1 398.2 588.6 398.5 589.1 398.3 589.6 398.4 590.1 398.8 590.6 398.5 591.1 398.4 591.6 398.6 592.1 399 592.6 398.9 593.1 398.6 593.6 398.9 594.1 398.4 594.6 398.8 595.1 398.1 595.6 398.5 596.1 398.4 596.6 398.2 597.1 398.5 597.6 398.9 598.1 398.9 598.6 398.2 599.1 398.9 599.6 398.8 600.1 398.4 600.6 398.2 601.1 398.5 601.6 398.3 602.1 398.5 602.6 398.7 603.1 398.2 603.6 398.5 604.1 398.8 604.6 397.7 605.1 398.5 605.6 398.7 606.1 398.2 606.6 398.7 607.1 398.8 607.6 398.7 608.1 398.9 608.6 398.2 609.1 399 609.6 398.3 610.1 398.3 610.6 398.7 611.1 398.8 611.6 398.5 612.1 398.9 612.6 399 613.1 398.8 613.6 399 614.1 398.6 614.6 398.8 615.1 398 615.6 398.6 616.1 398.2 616.6 398.4 617.1 398.9 617.6 398.2 618.1 398.8 618.6 398.7 619.1 398.6 619.6 398.4 620.1 398.6 620.6 398.5 621.1 398.4 621.6 398.3 622.1 398.3 622.6 398.8 623.1 398.2 623.6 397.8 624.1 399 624.6 398.3 625.1 398.9 625.6 398.5 626.1 398.9 626.6 397.9 627.1 398.3 627.6 398.2 628.1 398.8 628.6 398.5 629.1 399 629.6 398.7 630.1 398.3 630.6 398.3 631.1 398.2 631.6 398.4 632.1 398.7 632.6 398.9 633.1 398.7 633.6 398.6 634.1 398.6 634.6 398.7 635.1 398.2 635.6 398.9 636.1 397.8 636.6 397.4 637.1 398.6 637.6 398.6 638.1 398.7 638.6 398.8 639.1 398.6 639.6 398.3 640.1 398.7 640.6 398.2 641.1 398.4 641.6 398.2 642.1 398.3 642.6 398.3 643.1 398.1 643.6 398.4 644.1 398.5 644.6 397.8 645.1 397.8 645.6 396.9 646.1 396.9 646.6 397.8 647.1 397.8 647.6 397.4 648.1 397.1 648.6 396.7 649.1 397 649.5 396.1 650 396.3 650.5 395.5 651 395 651.5 394.1 652 393.5 652.5 393.2 653 392.1 653.5 391.7 654 390.5 654.5 389.9 655 388.7 655.5 388 656 387.6 656.5 386.8 657 386.6 657.5 386.4 658 385.3 658.5 387.1 659 386.9 659.5 387.8 660 388.3 660.5 389.5 661 390.5 661.5 391 662 392 662.5 393 663 393.4 663.5 394.5 664 394.9 664.5 395.4 665 395.7 665.5 396.1 666 397 666.5 397 667 397.3 667.5 397.4 668 397.3 668.5 397.5 669 397.9 669.5 398.2 670 398.1 670.5 398.1 671 398 671.5 397.9 672 398.3 672.5 398.1 673 398.6 673.5 398 674 398.8 674.5 398.8 675 398.3 675.5 398.5 676 398.6 676.5 398.6 677 398.8 677.5 397.5 678 398.4 678.5 398.9 679 398.2 679.5 398.5 680 398.9 680.5 398.3 681 398.5 681.5 398.2 682 398.9 682.5 398.7 683 398.5 683.5 398.3 684 398.7 684.5 398.2 685 398.3 685.5 398.8 686 398.9 686.5 398 687 398.3 687.5 398.7 688 398.4 688.5 398.2 689 398.8 689.5 398.1 690 398.2 690 399.2 689.5 399.1 689 399.8 688.5 399.2 688 399.4 687.5 399.7 687 399.3 686.5 399.1 686 399.9 685.5 399.8 685 399.3 684.5 399.2 684 399.7 683.5 399.3 683 399.5 682.5 399.7 682 400 681.5 399.2 681 399.6 680.5 399.3 680 400 679.5 399.6 679 399.3 678.5 400 678 399.4 677.5 398.6 677 399.9 676.5 399.7 676 399.7 675.5 399.6 675 399.5 674.5 400 674 400 673.5 399.3 673 399.8 672.5 399.4 672 399.6 671.5 399.3 671 399.4 670.5 399.7 670 399.7 669.5 399.9 669 399.7 668.5 399.5 668 399.4 667.5 399.7 667 399.7 666.5 399.7 666 400 665.5 399.4 665 399.4 664.5 399.5 664 399.5 663.5 399.7 663 399.2 662.5 399.6 662 399.4 661.5 399.3 661 399.7 660.5 399.5 660 399.2 659.5 399.6 659 399.3 658.5 400 658 398.6 657.5 399.8 657 399.9 656.5 399.7 656 400 655.5 399.7 655 399.6 654.5 399.9 654 399.6 653.5 400 653 399.5 652.5 399.8 652 399.4 651.5 399.4 651 399.6 650.5 399.6 650 400 649.5 399.4 649.1 399.9 648.6 399.4 648.1 399.6 647.6 399.6 647.1 399.9 646.6 399.8 646.1 398.7 645.6 398.6 645.1 399.4 644.6 399.3 644.1 399.9 643.6 399.8 643.1 399.5 642.6 399.6 642.1 399.6 641.6 399.5 641.1 399.6 640.6 399.4 640.1 399.9 639.6 399.5 639.1 399.7 638.6 399.9 638.1 399.8 637.6 399.7 637.1 399.7 636.6 398.4 636.1 398.8 635.6 400 635.1 399.3 634.6 399.8 634.1 399.7 633.6 399.6 633.1 399.7 632.6 399.9 632.1 399.8 631.6 399.4 631.1 399.2 630.6 399.3 630.1 399.4 629.6 399.7 629.1 400 628.6 399.6 628.1 399.8 627.6 399.2 627.1 399.3 626.6 398.9 626.1 400 625.6 399.6 625.1 399.9 624.6 399.3 624.1 400 623.6 398.8 623.1 399.2 622.6 399.8 622.1 399.3 621.6 399.3 621.1 399.4 620.6 399.5 620.1 399.6 619.6 399.4 619.1 399.6 618.6 399.8 618.1 399.8 617.6 399.2 617.1 399.9 616.6 399.4 616.1 399.2 615.6 399.6 615.1 399 614.6 399.8 614.1 399.6 613.6 400 613.1 399.8 612.6 400 612.1 399.9 611.6 399.5 611.1 399.8 610.6 399.7 610.1 399.3 609.6 399.3 609.1 400 608.6 399.2 608.1 399.9 607.6 399.7 607.1 399.8 606.6 399.7 606.1 399.2 605.6 399.7 605.1 399.5 604.6 398.7 604.1 399.8 603.6 399.5 603.1 399.2 602.6 399.7 602.1 399.5 601.6 399.3 601.1 399.5 600.6 399.2 600.1 399.4 599.6 399.8 599.1 399.9 598.6 399.2 598.1 399.9 597.6 399.9 597.1 399.5 596.6 399.3 596.1 399.4 595.6 399.5 595.1 399.1 594.6 399.8 594.1 399.4 593.6 399.9 593.1 399.6 592.6 399.9 592.1 400 591.6 399.6 591.1 399.4 590.6 399.5 590.1 399.8 589.6 399.4 589.1 399.4 588.6 399.5 588.1 399.2 587.6 399.7 587.1 399.5 586.6 399.3 586.1 399.9 585.6 399.6 585.1 399.7 584.6 399.4 584.1 399.9 583.6 399.5 583.1 399.5 582.6 399.4 582.1 399.5 581.6 398.8 581.1 399.8 580.6 399.2 580.1 399.7 579.6 399.7 579.1 399.5 578.6 400 578.1 399 577.6 399.5 577.1 400 576.6 399.4 576.1 399.8 575.6 399.9 575.1 399.9 574.6 399.4 574.1 399.8 573.6 399.8 573.1 399.8 572.6 399.9 572.1 399.5 571.6 399.3 571.1 399.9 570.6 399.9 570.1 399.3 569.6 399.6 569.1 398.3 568.6 399.8 568.2 399.8 567.7 399.5 567.2 399.9 566.7 399.7 566.2 399.7 565.7 398.7 565.2 399.7 564.7 398.9 564.2 399.8 563.7 399.5 563.2 399.9 562.7 399.3 562.2 399.6 561.7 399.5 561.2 399.5 560.7 399.4 560.2 399.7 559.7 399.7 559.2 398.5 558.7 399.3 558.2 399.3 557.7 399.7 557.2 399.6 556.7 399.4 556.2 399.6 555.7 399.5 555.2 399.4 554.7 399.2 554.2 399.6 553.7 399.9 553.2 400 552.7 399.9 552.2 399.4 551.7 399.6 551.2 399.9 550.7 399.3 550.2 399.8 549.7 399.5 549.2 399.8 548.7 399.7 548.2 399.4 547.7 399.6 547.2 399.7 546.7 399.4 546.2 399.4 545.7 399.6 545.2 399.4 544.7 399.6 544.2 399.9 543.7 399.6 543.2 399.8 542.7 399.3 542.2 398.6 541.7 399.9 541.2 399.2 540.7 399.6 540.2 399.7 539.7 399.9 539.2 399.6 538.7 400 538.2 399.3 537.7 399.6 537.2 399.2 536.7 399.6 536.2 399.2 535.7 398.6 535.2 400 534.7 399.9 534.2 399.6 533.7 399.6 533.2 399.7 532.7 400 532.2 399.5 531.7 399.8 531.2 399.6 530.7 399.5 530.2 399.3 529.7 399.9 529.2 399.5 528.7 399.4 528.2 399.3 527.7 399.2 527.2 399.9 526.7 399.6 526.2 399.6 525.7 399.7 525.2 399.4 524.7 399.5 524.2 399.2 523.7 399.4 523.2 399.4 522.7 399.4 522.2 399.3 521.7 399.8 521.2 399.4Z" fill="#ff0000"/>
<path d="M522.7 398.9V396.3M525.2 398.9V396.4M526.2 399.1V396.2M527.7 398.7V394.5M529.7 399.4V395.1M532.2 399V394.1M532.7 399.5V394.7M534.2 399.1V393.4M535.7 398.1V389.6M536.2 398.7V389.9M536.7 399.1V392.8M539.7 399.4V390.1M544.7 399.1V376.9M545.2 398.9V382.4M550.7 398.8V379.5M551.7 399.1V387.7M552.7 399.4V388.3M553.2 399.5V386M554.7 398.7V388.8M555.2 398.9V389.1M555.7 399V391.2M556.2 399.1V391.9M558.2 398.8V394M558.7 398.8V392.6M559.7 399.2V393.4M561.2 399V393.8M561.7 399V394.6M562.2 399.1V394.4M563.7 399V395.3M564.7 398.4V395.1M565.2 399.2V396.3M565.7 398.2V395.1M566.2 399.2V395.6M566.7 399.2V396.2M569.1 397.8V394.6M569.6 399.1V396.9M573.1 399.3V397.4M573.6 399.3V396.7M575.6 399.4V396.9M576.1 399.3V397.1M577.6 399V397M578.1 398.5V396.6M579.1 399V397M580.1 399.2V397.1M581.6 398.3V396.6M582.1 399V397M583.6 399V397.1M620.1 399.1V397.5M621.1 398.9V397.1M621.6 398.8V396.9M622.1 398.8V397M622.6 399.3V397.2M623.1 398.7V396.6M628.6 399.1V396.8M629.1 399.5V397.5M629.6 399.2V396.6M630.1 398.9V396.4M631.1 398.7V396.5M633.1 399.2V396.7M633.6 399.1V396.5M634.1 399.2V396.4M635.6 399.5V397M636.6 397.9V394.6M638.6 399.4V395.9M639.1 399.2V395.9M642.1 399.1V395M648.1 399.1V392.7M649.5 398.9V391.8M650 399.5V388.6M650.5 399.1V388M652 398.9V388.4M653 399V387.2M653.5 399.5V383.9M655 399.1V384.7M656.5 399.2V383.7M657 399.4V381.1M658.5 399.5V380.9M662 398.9V387.1M664.5 399V390.6M666.5 399.2V390M667.5 399.2V391.2M668 398.9V390.9M668.5 399V392.8M669.5 399.4V393.7M670 399.2V394.9M670.5 399.2V393.9M671 398.9V392.7M672 399.1V393.5M674 399.5V395.8M675.5 399.1V395.2M676.5 399.2V396.4M677 399.4V395.7M679 398.8V396.1M679.5 399.1V396.7M681.5 398.7V395.7M682.5 399.2V396.7M683 399V396.8M684.5 398.7V396.5M685.5 399.3V396.8M686 399.4V397.2M690 398.7V397.1" stroke="#ff0000" stroke-width="0.55" fill="none"/>
<path d="M521.3 404.3V407.9M521.8 405.8V410M522.2 403.9V406.3M522.8 403.9V407M523.3 405V409.6M523.8 405.6V406.4M524 405.3V407.7M524.9 405.9V406.3M525.2 405.7V411M525.6 405.4V409.9M526.3 404.6V410M526.6 405.2V406.8M527.7 404.4V410.5M528.9 404.6V408.7M529.3 404.4V410.1M529.8 405.1V409.2M530 404.2V407.8M530.7 405.2V407.7M531.1 405.7V409.6M531.6 403.9V410.4M532.9 404.5V410.9M533.1 405.8V409.3M533.9 404.3V409.5M534.3 405.1V409.2M534.8 404.3V406.4M535.2 404V408.1M535.9 405.5V409.5M536.2 406V409.9M536.7 405.7V408.2M537.3 405.3V406.7M537.7 405.2V408.1M538.2 404.8V407.5M539.2 405.8V410.6M539.7 405.2V410.3M540.8 405V406.6M541.1 403.8V407.8M541.8 405.6V408.9M542.7 404V410.7M543 404.1V408.7M543.8 404.4V406.8M544.1 404.3V408.9M544.7 404.2V408.9M545.4 405.2V407.7M545.8 404.1V408.8M546.4 405.1V406.5M546.7 404V408.4M547.3 405.8V410.4M547.9 405.3V407.1M548 405.9V410.6M548.5 405.5V406.9M549.1 404V409.7M550.7 404.5V407.4M551.1 404.2V406.8M551.5 404.4V408.7M552.8 403.9V409.4M553.2 405.9V410.3M553.5 404.2V406.2M554.2 404.7V409M554.7 406V408.3M555.1 404.8V409.3M556.2 404.1V410.1M556.5 405.1V406.5M557 403.9V408.6M557.8 405.7V407.8M558.4 404V410.4M558.7 405.3V408M559.1 404.3V408.5M559.6 404.7V406.6M560.1 405.9V409.2M561.2 404.5V407.8M561.7 404V409.9M562.1 406V408.7M562.7 404.4V410.8M563.5 405.6V408M564.2 406V410.5M564.8 404.5V408.9M565.2 404.1V410.5M565.6 404.4V408M566.2 404.2V407.1M566.8 404.9V408.7M567.2 404V411M567.6 403.8V410.9M568.3 404.4V407.9M568.7 404.7V407.2M569 405.8V406.3M569.6 405.1V408.6M570.1 404.5V408.8M570.8 405.7V407M571.1 404.3V407.7M571.7 405.7V408.8M572.1 404.1V410.2M572.7 405.9V410.9M573.2 403.9V409.7M573.8 405.8V408.6M574.2 405.6V410M574.5 404V409.1M575.3 404.3V409.3M575.5 404.5V409.5M576.6 405.7V406.1M577.1 405.2V409.6M577.8 405V410.6M578 404.2V406.4M578.7 404V407.8M579 404.5V407.8M580.2 405.4V408M580.7 405V409.4M581 405.3V407.1M581.8 404.5V407.3M582 405.4V407.6M582.6 404.7V407.8M583.5 405.3V407.6M584.3 404.5V408.1M584.8 404.7V410.8M585.2 404.8V407.6M585.5 404.8V408.4M586.1 404.2V407.2M587.2 405.5V406.8M587.7 404.2V407.4M587.9 404.8V409.3M588.5 405.2V409.7M589.1 404.9V406M590.3 404V410.7M590.8 405.9V407.2M591.3 405.7V409.4M591.6 405.3V409M592.3 405.9V410.7M592.5 405.4V410.5M594.3 405.2V408.7M596 405.4V409M597.1 404.7V411M597.8 405.3V410.7M598 404.6V407.1M598.5 405.5V408.5M599.2 404.7V409.8M599.5 405.1V409.9M600.9 404.8V408.8M601.5 403.9V407.1M602 403.9V407.4M602.8 404.8V409.9M602.9 404.3V409.7M603.4 404.6V409.6M604.1 404.4V407.7M604.7 406V410.5M605.3 405.5V406.7M605.5 405.9V409.2M606.2 404.1V406.9M606.6 404.3V408.3M607.2 404.2V408.9M607.7 404.1V407.4M608.7 405.3V408.4M608.9 405.4V409M609.6 405.2V408.7M610.1 405.7V407.8M610.6 406V407.2M611.2 404.7V408.7M611.6 404.6V408.7M612.2 404V408.5M612.7 405.6V408.2M612.9 405.4V409.1M613.8 405.6V406.4M614.4 405.7V410.7M615.2 404.3V409.9M616.3 404.2V408.3M616.8 404.5V410.4M617.2 404.4V409.5M617.5 404V409.4M618.1 405.5V408.9M618.4 404.9V407.3M619.2 405.3V407.7M619.7 404.8V408.8M620 405.4V407.9M621.2 404.2V406.7M621.7 405.5V409.9M621.9 404.9V407.2M622.7 405V409.1M623 404.3V409.8M623.7 404.4V407.3M624 405.3V408.7M624.5 404.9V409.8M625 404.8V409.5M625.6 403.9V406.9M625.9 405.6V407.7M628.1 404.9V408.3M629.5 405.9V410M630 405.3V406.9M630.7 404V408.6M631.2 405.1V409.7M632.1 405.3V410.9M632.5 405.2V407.4M633.2 404.7V410.6M633.4 405.8V409.7M634.1 404.5V409.5M635.2 405.3V409.9M635.7 404.9V408.6M635.9 404.5V410.8M637.6 403.9V411M637.9 405.2V409.2M639 404V410M639.5 405.3V408M639.9 405.3V408.7M641.2 404.5V410.3M641.6 404.7V408.3M642 405.2V406.9M642.9 405.2V408.3M643.7 405V408.1M644.1 405.3V409.4M644.7 405.1V410.2M644.9 405V408.6M645.6 405.8V407M646.1 404.9V410.6M646.4 404.4V406.4M647.1 404.3V410.8M647.7 405.8V408.3M647.9 405.7V409.7M648.6 404.7V408.1M649 405.6V409.2M649.6 405.1V406.1M650 404.1V408.8M651.1 404.5V410.2M651.4 405.1V410.6M651.9 403.9V406.9M652.5 405.6V410.2M653 405.6V408.1M653.4 403.9V411M654.1 405.7V410.3M655 404.7V406.6M655.3 404.8V406.4M656 405.3V408.7M656.7 405.7V409M656.9 404.5V408.8M657.7 405.7V410.4M657.9 405.8V406.3M659.7 405.8V406.2M660.1 404.4V410.8M660.5 405V409.7M660.9 404.2V407M661.7 405.2V408.1M661.9 404.1V409.9M663.2 405.8V408.7M663.7 404.8V408.4M664.2 405.2V409.9M664.3 405.7V410M665 404.9V411M665.5 405.1V410.7M665.9 406V409.4M666.6 405V410.1M667.1 403.9V406.9M667.5 405.8V409.8M668 405.1V406M668.4 405.2V407.5M669 405.3V408.4M669.5 405.8V406.2M670 404.8V409.1M670.5 404V407.7M671.2 404.2V410.6M672 405.6V407M672.5 404.9V407.7M673 404.5V408.4M673.4 404.1V406.5M674.1 405.4V409.3M674.4 405.6V406.7M675.6 405.3V409.3M676.1 405.6V407.9M677.7 405.8V407.8M678.2 404.1V407.8M679 404.1V409.6M679.5 405.4V407.4M679.9 405.4V408.2M680.5 404V409.1M681.2 405.9V408.9M681.5 404.8V409.7M682.1 404V409.6M682.5 406V408.2M683.1 404.2V407.4M683.3 404.8V410M684.5 404.3V408.2M685.6 404.3V408.9M686 404.1V410.5M686.6 404.1V406.5M687.1 404.2V408M687.6 405.5V410.9M688.2 404.2V409.9M688.4 405V406.1M689 405.5V408.8M689.5 405.9V408.4M690 405.7V409.1" stroke="#ff0000" stroke-width="0.7" fill="none"/>
<path d="M521.2 435.7 521.7 436.1 522.2 436.1 522.7 436 523.2 436.1 523.7 435.8 524.2 435.5 524.7 436.3 525.2 436.2 525.7 435.7 526.2 435.9 526.7 435.8 527.2 436.4 527.7 436.2 528.2 436 528.7 435.8 529.2 435.7 529.7 435.8 530.2 435.6 530.7 436.5 531.2 436.5 531.7 435.1 532.2 435.8 532.7 434.8 533.2 435.8 533.7 436.4 534.2 436.3 534.7 436.3 535.2 436 535.7 435.9 536.2 436.2 536.7 436.2 537.2 436 537.7 436.4 538.2 436.2 538.7 435.9 539.2 436.5 539.7 435.2 540.2 436.1 540.7 436.5 541.2 435.8 541.7 435.7 542.2 436.2 542.7 435.7 543.2 435.9 543.7 436.3 544.2 435.9 544.7 435.5 545.2 435.9 545.7 436.2 546.2 435.9 546.7 436.4 547.2 436.4 547.7 436.1 548.2 436.4 548.7 436.1 549.2 436.3 549.7 435.9 550.2 436.3 550.7 436.1 551.2 436 551.7 435.8 552.2 436 552.7 436.1 553.2 435.9 553.7 436.5 554.2 435.9 554.7 436.3 555.2 436.5 555.7 436.4 556.2 436.4 556.7 436.4 557.2 435.8 557.7 436.3 558.2 436.3 558.7 436.1 559.2 435.5 559.7 436.4 560.2 435.9 560.7 436.1 561.2 435.7 561.7 436.4 562.2 436.2 562.7 435.4 563.2 436.4 563.7 435.9 564.2 435.8 564.7 436.4 565.2 436.2 565.7 436.2 566.2 436 566.7 436.2 567.2 436.1 567.7 436 568.2 435.7 568.6 435.7 569.1 435.8 569.6 435.8 570.1 436.3 570.6 435.9 571.1 435.9 571.6 436 572.1 436.2 572.6 436.1 573.1 436.5 573.6 436 574.1 435.7 574.6 435.8 575.1 436.5 575.6 435.9 576.1 435.9 576.6 436 577.1 435.8 577.6 435.6 578.1 436.4 578.6 435.8 579.1 435.9 579.6 436 580.1 436.2 580.6 436.1 581.1 436.4 581.6 436 582.1 436.3 582.6 436 583.1 436.1 583.6 436.2 584.1 436.1 584.6 435.7 585.1 435.7 585.6 436.5 586.1 435.9 586.6 436.3 587.1 436.1 587.6 435.8 588.1 436.3 588.6 436 589.1 436.1 589.6 436.4 590.1 435.8 590.6 435.9 591.1 436.1 591.6 436.2 592.1 436.5 592.6 435.4 593.1 436.4 593.6 436.4 594.1 436 594.6 435.9 595.1 436 595.6 436 596.1 435.5 596.6 435 597.1 435.7 597.6 436.2 598.1 436.1 598.6 435.1 599.1 436 599.6 435.9 600.1 436.1 600.6 436.4 601.1 436.4 601.6 436 602.1 436 602.6 436 603.1 435.8 603.6 435.4 604.1 436.3 604.6 436.3 605.1 436 605.6 435.6 606.1 436.1 606.6 435.8 607.1 436 607.6 436.1 608.1 435.8 608.6 436.4 609.1 436.2 609.6 436.4 610.1 436.4 610.6 435.8 611.1 436.1 611.6 436.2 612.1 435.7 612.6 436.2 613.1 435.9 613.6 435.8 614.1 435.8 614.6 434.9 615.1 436.2 615.6 436 616.1 436.4 616.6 436.3 617.1 436.2 617.6 436.3 618.1 436.4 618.6 436.5 619.1 436 619.6 435.7 620.1 435.9 620.6 436.3 621.1 436.5 621.6 435.8 622.1 436.4 622.6 436.2 623.1 436.3 623.6 436 624.1 435.6 624.6 435.7 625.1 436.3 625.6 436.3 626.1 435.7 626.6 435.9 627.1 436.5 627.6 436 628.1 436 628.6 436.4 629.1 435.8 629.6 436.1 630.1 436.5 630.6 435.8 631.1 436.1 631.6 436.1 632.1 436.1 632.6 436 633.1 436.1 633.6 435.7 634.1 436.4 634.6 436.5 635.1 435.9 635.6 435.4 636.1 435.7 636.6 435.8 637.1 436.3 637.6 435.6 638.1 436.1 638.6 436.4 639.1 436.5 639.6 436.3 640.1 436.1 640.6 435.9 641.1 436.1 641.6 435.7 642.1 436.1 642.6 435.7 643.1 436.3 643.6 436.1 644.1 435.8 644.6 435.8 645.1 436.1 645.6 435.8 646.1 435.2 646.6 436.5 647.1 436.2 647.6 435.1 648.1 435.8 648.6 435.7 649.1 436.1 649.5 436.1 650 435.8 650.5 436.5 651 436.2 651.5 435.9 652 436.4 652.5 435.5 653 435.5 653.5 436.1 654 435.9 654.5 435.9 655 435.9 655.5 435.8 656 435.9 656.5 436.2 657 436.1 657.5 435.9 658 436.4 658.5 435.9 659 436.3 659.5 436.4 660 436.2 660.5 436.3 661 436.3 661.5 436.3 662 436 662.5 435.9 663 436 663.5 436.1 664 435.8 664.5 434.7 665 435.3 665.5 436.4 666 436.2 666.5 436 667 436.3 667.5 436.2 668 436.2 668.5 435.8 669 436.5 669.5 436.1 670 435.7 670.5 435.8 671 436.3 671.5 436 672 436 672.5 435.9 673 436.5 673.5 436.3 674 435.3 674.5 436.3 675 436.3 675.5 436.1 676 436 676.5 436.1 677 436 677.5 436.4 678 435.7 678.5 436.1 679 436 679.5 436.3 680 436.5 680.5 436.4 681 436.3 681.5 435 682 436.3 682.5 435.9 683 436 683.5 435.9 684 436 684.5 436.3 685 435.9 685.5 435.7 686 436.1 686.5 436.4 687 436.1 687.5 436.2 688 436.4 688.5 436.3 689 435.1 689.5 436.3 690 436 690 443.1 689.5 443.5 689 442.9 688.5 442.5 688 443 687.5 442.5 687 444 686.5 443.4 686 442.8 685.5 443 685 442.5 684.5 444.1 684 442.6 683.5 443.2 683 442.7 682.5 442.9 682 444 681.5 443.1 681 443.1 680.5 442.4 680 442.5 679.5 444.3 679 443 678.5 443.3 678 443.4 677.5 443.4 677 443.9 676.5 443.8 676 443.3 675.5 443.6 675 443.8 674.5 442.5 674 444.5 673.5 442.4 673 443.8 672.5 442.7 672 444.4 671.5 443 671 442.9 670.5 444.2 670 442.5 669.5 443.9 669 444.3 668.5 442.5 668 443.1 667.5 443.7 667 442.5 666.5 443.9 666 444.3 665.5 443.9 665 444.2 664.5 443 664 443.5 663.5 443.4 663 443.4 662.5 444 662 444.1 661.5 443.1 661 442.3 660.5 442.9 660 443.8 659.5 442.5 659 444.2 658.5 443.5 658 443.2 657.5 443.9 657 443.6 656.5 442.9 656 444 655.5 444.1 655 443.4 654.5 442.5 654 444.1 653.5 444.2 653 444.2 652.5 444.1 652 444.1 651.5 443.6 651 442.4 650.5 443 650 444 649.5 444.1 649.1 442.4 648.6 444.2 648.1 443.1 647.6 443.1 647.1 444.3 646.6 442.9 646.1 442.9 645.6 443.5 645.1 443.5 644.6 444.2 644.1 443 643.6 442.9 643.1 442.4 642.6 443.7 642.1 442.5 641.6 444.1 641.1 443.1 640.6 444.5 640.1 444.4 639.6 444.2 639.1 443.7 638.6 443.9 638.1 444.3 637.6 443.1 637.1 443 636.6 443.8 636.1 443.1 635.6 442.5 635.1 444 634.6 443.5 634.1 443 633.6 443.6 633.1 443.9 632.6 442.9 632.1 444 631.6 443.3 631.1 443.6 630.6 443.1 630.1 443 629.6 443 629.1 443.4 628.6 443.6 628.1 444.4 627.6 442.6 627.1 444.4 626.6 443.7 626.1 444 625.6 442.6 625.1 443.8 624.6 443.9 624.1 442.4 623.6 442.8 623.1 444.1 622.6 443.8 622.1 444.1 621.6 442.7 621.1 442.6 620.6 444.2 620.1 443.1 619.6 444.5 619.1 443.4 618.6 442.9 618.1 443.6 617.6 442.4 617.1 443.2 616.6 443.6 616.1 444.4 615.6 442.6 615.1 443.4 614.6 443 614.1 442.9 613.6 443.5 613.1 444.4 612.6 443.1 612.1 444.3 611.6 443.5 611.1 442.3 610.6 443.3 610.1 443.1 609.6 443 609.1 444.5 608.6 443.5 608.1 442.8 607.6 443.3 607.1 443.8 606.6 444.1 606.1 443.5 605.6 443 605.1 442.4 604.6 442.5 604.1 443.9 603.6 443.2 603.1 443.6 602.6 443.6 602.1 444.1 601.6 444.4 601.1 444.2 600.6 443.7 600.1 443 599.6 444.1 599.1 444.5 598.6 444 598.1 442.8 597.6 442.4 597.1 442.4 596.6 442.8 596.1 443 595.6 442.5 595.1 443.7 594.6 443.6 594.1 443.5 593.6 443.7 593.1 443.9 592.6 444.3 592.1 444.1 591.6 444.4 591.1 444.5 590.6 443.7 590.1 442.9 589.6 444 589.1 442.5 588.6 443.1 588.1 444.1 587.6 443.5 587.1 442.4 586.6 442.7 586.1 442.4 585.6 443.9 585.1 442.6 584.6 444.2 584.1 443.9 583.6 443.7 583.1 444.3 582.6 443 582.1 442.7 581.6 442.3 581.1 443.2 580.6 442.9 580.1 443.3 579.6 444.1 579.1 442.5 578.6 443.9 578.1 443.3 577.6 444.4 577.1 443.6 576.6 442.8 576.1 443 575.6 443.7 575.1 443.1 574.6 442.9 574.1 442.5 573.6 443.2 573.1 444.2 572.6 444.1 572.1 443.7 571.6 443.3 571.1 442.3 570.6 442.3 570.1 443.5 569.6 442.9 569.1 443.3 568.6 444 568.2 442.6 567.7 443.4 567.2 442.7 566.7 443.8 566.2 443.2 565.7 443.7 565.2 442.9 564.7 444.1 564.2 442.5 563.7 442.4 563.2 443.7 562.7 442.5 562.2 444.2 561.7 442.7 561.2 442.4 560.7 444.4 560.2 443.8 559.7 443.8 559.2 443.4 558.7 443.3 558.2 443.1 557.7 442.6 557.2 443 556.7 443.4 556.2 442.9 555.7 443.4 555.2 443.9 554.7 442.7 554.2 444.2 553.7 443.6 553.2 443.1 552.7 444.1 552.2 443.8 551.7 443.1 551.2 442.9 550.7 443 550.2 442.9 549.7 443.6 549.2 444.3 548.7 444.2 548.2 444.1 547.7 442.8 547.2 443.9 546.7 443.5 546.2 443.3 545.7 443.8 545.2 443.3 544.7 442.6 544.2 442.9 543.7 442.4 543.2 443.6 542.7 443 542.2 443.2 541.7 442.6 541.2 442.6 540.7 442.9 540.2 444.2 539.7 443.6 539.2 443.3 538.7 443.1 538.2 442.8 537.7 444.4 537.2 442.7 536.7 443 536.2 442.9 535.7 443.2 535.2 442.5 534.7 444.2 534.2 444.4 533.7 443 533.2 444.5 532.7 444.4 532.2 443.3 531.7 442.6 531.2 442.5 530.7 442.4 530.2 444 529.7 444.4 529.2 443.1 528.7 444 528.2 443.8 527.7 444.3 527.2 442.5 526.7 443.6 526.2 443.4 525.7 444.1 525.2 442.4 524.7 443.4 524.2 443.4 523.7 444.1 523.2 443.3 522.7 444.2 522.2 442.3 521.7 444 521.2 442.6Z" fill="#000000"/>
<path d="M618.6 436.9 619.1 436.4 619.6 436.1 620.1 436.3 620.6 436.7 621.1 436.8 621.6 436.1 622.1 436.7 622.6 436.5 623.1 436.7 623.6 436.3 624.1 435.9 624.6 436 625.1 436.6 625.6 436.5 626.1 436 626.6 436.1 627.1 436.6 627.6 436.2 628.1 436.1 628.6 436.5 629.1 435.9 629.6 436.1 630.1 436.5 630.6 435.8 631.1 436 631.6 436 632.1 435.9 632.6 435.8 633.1 435.8 633.6 435.4 634.1 436 634.6 436 635.1 435.3 635.6 434.7 636.1 435 636.6 435 637.1 435.4 637.6 434.5 638.1 435 638.6 435.1 639.1 435 639.6 434.6 640.1 434.3 640.6 433.9 641.1 433.9 641.6 433.2 642.1 433.3 642.6 432.6 643.1 432.8 643.6 432.2 644.1 431.4 644.6 430.8 645.1 430.5 645.6 429.5 646.1 428 646.6 428.4 647.1 427 647.6 424.7 648.1 424 648.6 422.5 649.1 421.3 649.5 419.8 650 418 650.5 417.4 651 416.4 651.5 415.7 652 416.4 652.5 416.3 653 417.4 653.5 419.4 654 420.8 654.5 422.4 655 423.8 655.5 425.2 656 426.5 656.5 428 657 428.7 657.5 429.4 658 430.7 658.5 430.8 659 431.8 659.5 432.4 660 432.7 660.5 433.1 661 433.4 661.5 433.7 662 433.8 662.5 433.9 663 434.2 663.5 434.5 664 434.3 664.5 433.4 665 434.2 665.5 435.3 666 435.3 666.5 435.2 667 435.6 667.5 435.6 668 435.6 668.5 435.3 669 436.1 669.5 435.7 670 435.4 670.5 435.5 671 436.1 671.5 435.8 672 435.9 672.5 435.8 673 436.5 673.5 436.3 674 435.4 674.5 436.4 675 436.4 675.5 436.2 676 436.1 676.5 436.3 677 436.2 677.5 436.7 678 436 678.5 436.4 679 436.3 679.5 436.6 680 436.8 680.5 436.7 681 436.6 681.5 435.4 682 436.7 682.5 436.3 683 436.4 683.5 436.4 684 436.4 684.5 436.7 684.5 437.8 684 437.5 683.5 437.4 683 437.5 682.5 437.4 682 437.8 681.5 436.5 681 437.8 680.5 437.9 680 438 679.5 437.8 679 437.5 678.5 437.6 678 437.2 677.5 437.9 677 437.5 676.5 437.6 676 437.5 675.5 437.6 675 437.8 674.5 437.8 674 436.8 673.5 437.8 673 438 672.5 437.4 672 437.5 671.5 437.5 671 437.8 670.5 437.3 670 437.2 669.5 437.6 669 438 668.5 437.3 668 437.7 667.5 437.7 667 437.8 666.5 437.5 666 437.7 665.5 437.9 665 436.8 664.5 436.2 664 437.3 663.5 437.6 663 437.5 662.5 437.4 662 437.5 661.5 437.8 661 437.8 660.5 437.8 660 437.7 659.5 437.9 659 437.8 658.5 437.4 658 437.9 657.5 437.4 657 437.6 656.5 437.7 656 437.4 655.5 437.3 655 437.4 654.5 437.4 654 437.4 653.5 437.6 653 437 652.5 437 652 437.9 651.5 437.4 651 437.7 650.5 438 650 437.3 649.5 437.6 649.1 437.6 648.6 437.2 648.1 437.3 647.6 436.6 647.1 437.7 646.6 438 646.1 436.7 645.6 437.3 645.1 437.6 644.6 437.3 644.1 437.3 643.6 437.6 643.1 437.8 642.6 437.2 642.1 437.6 641.6 437.2 641.1 437.6 640.6 437.4 640.1 437.6 639.6 437.8 639.1 438 638.6 437.9 638.1 437.6 637.6 437.1 637.1 437.8 636.6 437.3 636.1 437.2 635.6 436.9 635.1 437.4 634.6 438 634.1 437.9 633.6 437.2 633.1 437.6 632.6 437.5 632.1 437.6 631.6 437.6 631.1 437.6 630.6 437.3 630.1 438 629.6 437.6 629.1 437.3 628.6 437.9 628.1 437.5 627.6 437.5 627.1 438 626.6 437.4 626.1 437.2 625.6 437.8 625.1 437.8 624.6 437.2 624.1 437.1 623.6 437.5 623.1 437.8 622.6 437.7 622.1 437.9 621.6 437.3 621.1 438 620.6 437.8 620.1 437.4 619.6 437.2 619.1 437.5 618.6 438Z" fill="#000000" fill-opacity="0.85"/>
<path d="M618.6 437 619.1 436.5 619.6 436.2 620.1 436.4 620.6 436.8 621.1 437 621.6 436.3 622.1 436.9 622.6 436.7 623.1 436.8 623.6 436.5 624.1 436.1 624.6 436.2 625.1 436.8 625.6 436.8 626.1 436.2 626.6 436.4 627.1 437 627.6 436.5 628.1 436.5 628.6 436.9 629.1 436.3 629.6 436.6 630.1 437 630.6 436.3 631.1 436.6 631.6 436.6 632.1 436.6 632.6 436.5 633.1 436.6 633.6 436.2 634.1 436.9 634.6 437 635.1 436.3 635.6 435.8 636.1 436.2 636.6 436.3 637.1 436.8 637.6 436 638.1 436.6 638.6 436.8 639.1 436.9 639.6 436.7 640.1 436.5 640.6 436.3 641.1 436.4 641.6 436 642.1 436.3 642.6 435.9 643.1 436.4 643.6 436.1 644.1 435.7 644.6 435.4 645.1 435.6 645.6 434.9 646.1 433.8 646.6 434.5 647.1 433.4 647.6 431.2 648.1 430.4 648.6 428.5 649.1 426.6 649.5 423.9 650 420.7 650.5 418.7 651 416.5 651.5 415.4 652 416.4 652.5 417.4 653 419.9 653.5 423.4 654 425.9 654.5 428.3 655 430.2 655.5 431.7 656 433 656.5 434.2 657 434.6 657.5 434.9 658 435.8 658.5 435.5 659 436.1 659.5 436.4 660 436.3 660.5 436.4 661 436.5 661.5 436.6 662 436.4 662.5 436.3 663 436.4 663.5 436.5 664 436.2 664.5 435.2 665 435.8 665.5 436.8 666 436.7 666.5 436.5 667 436.8 667.5 436.7 668 436.7 668.5 436.3 669 437 669.5 436.6 670 436.2 670.5 436.3 671 436.8 671.5 436.5 672 436.5 672.5 436.4 673 437 673.5 436.8 674 435.8 674.5 436.8 675 436.8 675.5 436.6 676 436.5 676.5 436.6 677 436.5 677.5 436.9 678 436.2 678.5 436.6 679 436.5 679.5 436.8 680 437 680.5 436.9 681 436.8 681.5 435.5 682 436.8 682.5 436.4 683 436.5 683.5 436.4 684 436.5 684.5 436.8 684.5 437.8 684 437.5 683.5 437.4 683 437.5 682.5 437.4 682 437.8 681.5 436.5 681 437.8 680.5 437.9 680 438 679.5 437.8 679 437.5 678.5 437.6 678 437.2 677.5 437.9 677 437.5 676.5 437.6 676 437.5 675.5 437.6 675 437.8 674.5 437.8 674 436.8 673.5 437.8 673 438 672.5 437.4 672 437.5 671.5 437.5 671 437.8 670.5 437.3 670 437.2 669.5 437.6 669 438 668.5 437.3 668 437.7 667.5 437.7 667 437.8 666.5 437.5 666 437.7 665.5 437.9 665 436.8 664.5 436.2 664 437.3 663.5 437.6 663 437.5 662.5 437.4 662 437.5 661.5 437.8 661 437.8 660.5 437.8 660 437.7 659.5 437.9 659 437.8 658.5 437.4 658 437.9 657.5 437.4 657 437.6 656.5 437.7 656 437.4 655.5 437.3 655 437.4 654.5 437.4 654 437.4 653.5 437.6 653 437 652.5 437 652 437.9 651.5 437.4 651 437.7 650.5 438 650 437.3 649.5 437.6 649.1 437.6 648.6 437.2 648.1 437.3 647.6 436.6 647.1 437.7 646.6 438 646.1 436.7 645.6 437.3 645.1 437.6 644.6 437.3 644.1 437.3 643.6 437.6 643.1 437.8 642.6 437.2 642.1 437.6 641.6 437.2 641.1 437.6 640.6 437.4 640.1 437.6 639.6 437.8 639.1 438 638.6 437.9 638.1 437.6 637.6 437.1 637.1 437.8 636.6 437.3 636.1 437.2 635.6 436.9 635.1 437.4 634.6 438 634.1 437.9 633.6 437.2 633.1 437.6 632.6 437.5 632.1 437.6 631.6 437.6 631.1 437.6 630.6 437.3 630.1 438 629.6 437.6 629.1 437.3 628.6 437.9 628.1 437.5 627.6 437.5 627.1 438 626.6 437.4 626.1 437.2 625.6 437.8 625.1 437.8 624.6 437.2 624.1 437.1 623.6 437.5 623.1 437.8 622.6 437.7 622.1 437.9 621.6 437.3 621.1 438 620.6 437.8 620.1 437.4 619.6 437.2 619.1 437.5 618.6 438Z" fill="#000000"/>
<path d="M633.1 437.1V435.4M634.1 437.4V435.4M635.1 436.9V434.7M636.1 436.7V434.5M637.1 437.3V434.8M637.6 436.6V434.4M638.1 437.1V434.8M640.1 437.1V433.8M643.1 437.3V432.6M643.6 437.1V433M644.6 436.8V431.9M650 436.8V425.2M656.5 437.2V430.8M657 437.1V429.5M658 437.4V429.9M659.5 437.4V433.8M660 437.2V432.3M660.5 437.3V433.7M662 437V433.3M663.5 437.1V434.1M664.5 435.7V433.6M665 436.3V433.9M666 437.2V435M668 437.2V435.2M668.5 436.8V434.7" stroke="#000000" stroke-width="0.55" fill="none"/>
<path d="M521.8 443V445.3M522.3 441.3V446.3M522.8 443.2V446.9M523.2 442.3V447.4M523.7 443.1V445.3M524.1 442.4V444M524.7 442.4V445.4M525.2 441.4V445.8M525.7 443.1V447.1M526.2 442.4V447.3M526.6 442.6V447.1M527.3 441.5V446.1M527.5 443.3V446.1M528.1 442.8V446M528.9 443V445M529.3 442.1V445.3M530.1 443V446.4M530.8 441.4V445.9M531.2 441.5V444.7M531.6 441.6V444.3M532.2 442.3V444.5M532.9 443.4V446.4M533.4 443.5V447M533.7 442V444.1M534.2 443.4V446.3M534.8 443.2V445.3M535.2 441.5V445.2M535.8 442.2V446.8M536.1 441.9V447M536.7 442V444.9M537.8 443.4V445.2M538.1 441.8V444.1M538.7 442.1V447.2M539.3 442.3V444.5M539.6 442.6V446.8M540.2 443.2V445.5M540.9 441.9V446.2M541.3 441.6V445.8M541.6 441.6V446.3M542.9 442V443.9M543.1 442.6V447.2M544.3 441.9V444.7M544.8 441.6V444.5M545 442.3V446.1M547.6 441.8V446.7M548.1 443.1V446.1M548.7 443.2V447.5M549.2 443.3V444.3M550.4 441.9V445.8M550.6 442V446.8M551.3 441.9V446.8M551.6 442.1V443.7M552.1 442.8V443.8M552.6 443.1V443.6M553.8 442.6V447.5M554.8 441.7V447.2M555.3 442.9V445M555.8 442.4V446.4M556.1 441.9V447.4M556.5 442.4V443.7M557.3 442V445.8M558.3 442.1V445.1M558.8 442.3V446.8M559.3 442.4V445.2M559.5 442.8V447.1M560.2 442.8V446.3M560.8 443.4V445M561.1 441.4V447.2M561.5 441.7V446.3M562 443.2V444.2M562.5 441.5V445.2M563.2 442.7V446.4M563.6 441.4V443.6M564.1 441.5V444.5M564.8 443.1V443.7M565.1 441.9V444.6M565.8 442.7V447M566 442.2V444.4M566.5 442.8V447.1M567 441.7V445.5M568.2 441.6V447M568.6 443V446.8M569.1 442.3V444.5M570.2 442.5V446.4M570.6 441.3V446.1M571 441.3V446.5M571.5 442.3V447.1M572 442.7V445.9M572.7 443.1V444.6M573 443.2V446.4M573.6 442.2V444.1M574.1 441.5V446.8M574.5 441.9V445.8M575.5 442.7V446.4M576.1 442V444.8M576.8 441.8V447.4M577.1 442.6V445.7M577.8 443.4V447.4M577.9 442.3V446M578.5 442.9V444.6M579.2 441.5V447.5M580 442.3V445.2M580.5 441.9V445.2M581.1 442.2V444M581.5 441.3V445.2M582.3 441.7V447.2M582.5 442V446.6M583.2 443.3V445.9M583.8 442.7V446.3M584.2 442.9V444.7M584.5 443.2V446M585.3 441.6V444.6M585.7 442.9V446.5M586.2 441.4V443.9M586.6 441.7V445.3M587.5 442.5V445.8M588 443.1V444.7M588.7 442.1V445.7M589.6 443V443.9M590.2 441.9V443.8M590.6 442.7V447.3M591.7 443.4V445.5M592.2 443.1V445.3M592.5 443.3V444.3M593.1 442.9V445.3M593.7 442.7V447.4M594.3 442.5V444.7M594.6 442.6V446.9M595.3 442.7V447M595.4 441.5V446.9M596.8 441.8V445.1M597 441.4V444.3M597.4 441.4V444.2M598 441.8V446.7M598.4 443V447.1M599 443.5V445.9M599.5 443.1V445.8M600.1 442V446.4M600.5 442.7V443.8M601.1 443.2V445.9M601.6 443.4V444.9M602.7 442.6V443.9M603.1 442.6V447.4M603.6 442.2V446.5M603.9 442.9V446.5M604.5 441.5V443.9M604.9 441.4V445.2M605.4 442V446.5M606.6 443.1V446M607 442.8V446.9M607.7 442.3V446.4M608 441.8V446.9M609.2 443.5V443.8M609.8 442V446.4M610.1 442.1V444.9M610.5 442.3V445M611 441.3V447.4M611.5 442.5V445.6M612.2 443.3V444.5M612.8 442.1V443.8M613.2 443.4V444.4M613.6 442.5V446.1M614.2 441.9V445.3M615.1 442.4V445.8M615.6 441.6V445.4M616.1 443.4V444.3M616.6 442.6V446.9M617 442.2V444.1M617.6 441.4V445M617.9 442.6V447.5M618.5 441.9V445.5M619.2 442.4V443.7M619.5 443.5V444.3M620.2 442.1V447.3M620.7 443.2V445.6M621.2 441.6V445M621.7 441.7V444.3M622 443.1V446M622.5 442.8V447.3M622.9 443.1V446.7M623.7 441.8V446.5M624 441.4V446.4M624.4 442.9V446.8M625.1 442.8V444.1M625.7 441.6V447.2M626 443V446.6M626.5 442.7V444.6M626.9 443.4V447.5M627.4 441.6V446.3M628.1 443.4V446.5M628.5 442.6V444.1M628.9 442.4V444.2M630.1 442V446M630.7 442.1V443.9M631 442.6V445.7M631.9 443V446.9M632.7 441.9V446.6M633 442.9V443.9M633.7 442.6V446.5M634.1 442V446.4M635.2 443V445.8M635.7 441.5V444.1M636.2 442.1V443.7M636.7 442.8V444M636.9 442V446.8M638 443.3V445.3M638.5 442.9V447.2M639.2 442.7V447.3M639.5 443.2V447.1M640.2 443.4V445.1M640.6 443.5V444.2M641.4 443.1V444.9M642.1 441.5V444.8M642.4 442.7V444.1M642.9 441.4V446.1M643.4 441.9V447.1M644 442V445.8M644.7 443.2V444.6M645.1 442.5V443.6M645.7 442.5V446.7M646.6 441.9V444.5M647.7 442.1V445.5M647.9 442.1V445.3M648.4 443.2V445.2M649.2 441.4V447.2M649.6 443.1V445.5M649.9 443V446.5M650.4 442V447.1M651 441.4V447.5M651.5 442.6V446.7M652.2 443.1V447.3M652.6 443.1V444.9M653.6 443.2V445.2M654.1 443.1V447M654.4 441.5V447.1M655.6 443.1V445.3M656.2 443V444.5M657 442.6V446.9M657.7 442.9V444.9M657.9 442.2V445.5M658.5 442.5V445.1M658.9 443.2V444.9M659.5 441.5V446.1M660.7 441.9V446.6M661.1 441.3V444M661.5 442.1V446M662.1 443.1V446.2M662.7 443V444.6M663.1 442.4V443.7M663.6 442.4V446.2M663.9 442.5V444.9M664.6 442V446.3M665 443.2V446.9M665.4 442.9V446.1M666.1 443.3V445.2M666.5 442.9V446.9M667 441.5V446.9M667.4 442.7V446.3M668.2 442.1V443.7M669.3 442.9V444.2M670.1 441.5V445.6M670.5 443.2V446.7M671.2 441.9V445.8M671.3 442V443.6M672.1 443.4V445.4M672.5 441.7V445.3M673.5 441.4V446.3M674.7 441.5V446.7M675 442.8V447.4M675.5 442.6V446.3M675.9 442.3V446.4M676.6 442.8V445.1M677.2 442.9V445.1M677.5 442.4V447M677.9 442.4V446.7M678.5 442.3V445.9M679.2 442V445.9M679.6 443.3V444.5M680 441.5V445.2M680.5 441.4V443.6M681 442.1V443.8M681.4 442.1V444M682 443V445.3M682.4 441.9V444.7M682.9 441.7V445.4M683.5 442.2V446.3M684.5 443.1V447.4M685.2 441.5V443.6M685.4 442V445.7M686.2 441.8V446.4M686.6 442.4V447.3M687 443V445.2M687.5 441.5V445.3M688.4 441.5V445.8M689.1 441.9V444.2M689.7 442.5V445.4M690.1 442.1V443.7" stroke="#000000" stroke-width="0.7" fill="none"/>
<line x1="516.20" y1="323.50" x2="519.70" y2="323.50" stroke="#1a1a1a" stroke-width="0.9"/>
<line x1="516.20" y1="341.25" x2="519.70" y2="341.25" stroke="#1a1a1a" stroke-width="0.9"/>
<line x1="516.20" y1="359.00" x2="519.70" y2="359.00" stroke="#1a1a1a" stroke-width="0.9"/>
<line x1="516.20" y1="376.75" x2="519.70" y2="376.75" stroke="#1a1a1a" stroke-width="0.9"/>
<line x1="516.20" y1="394.50" x2="519.70" y2="394.50" stroke="#1a1a1a" stroke-width="0.9"/>
<line x1="516.20" y1="412.25" x2="519.70" y2="412.25" stroke="#1a1a1a" stroke-width="0.9"/>
<line x1="516.20" y1="430.00" x2="519.70" y2="430.00" stroke="#1a1a1a" stroke-width="0.9"/>
<line x1="516.20" y1="447.75" x2="519.70" y2="447.75" stroke="#1a1a1a" stroke-width="0.9"/>
<line x1="527.70" y1="453.60" x2="527.70" y2="450.60" stroke="#1a1a1a" stroke-width="0.9"/>
<line x1="581.80" y1="453.60" x2="581.80" y2="450.60" stroke="#1a1a1a" stroke-width="0.9"/>
<line x1="635.90" y1="453.60" x2="635.90" y2="450.60" stroke="#1a1a1a" stroke-width="0.9"/>
<line x1="690.00" y1="453.60" x2="690.00" y2="450.60" stroke="#1a1a1a" stroke-width="0.9"/>
<rect x="516.20" y="305.60" width="185.20" height="148.00" fill="none" stroke="#1a1a1a" stroke-width="1.0"/>
<text x="527.70" y="465.80" font-size="10.5" fill="#151515" stroke="#151515" stroke-width="0.2" text-anchor="middle" textLength="26.50" lengthAdjust="spacing">1200</text>
<text x="581.80" y="465.80" font-size="10.5" fill="#151515" stroke="#151515" stroke-width="0.2" text-anchor="middle" textLength="26.50" lengthAdjust="spacing">1250</text>
<text x="635.90" y="465.80" font-size="10.5" fill="#151515" stroke="#151515" stroke-width="0.2" text-anchor="middle" textLength="26.50" lengthAdjust="spacing">1300</text>
<text x="690.00" y="465.80" font-size="10.5" fill="#151515" stroke="#151515" stroke-width="0.2" text-anchor="middle" textLength="26.50" lengthAdjust="spacing">1350</text>
<text x="551.40" y="480.90" font-size="14" fill="#151515" stroke="#151515" stroke-width="0.2" textLength="129.50" lengthAdjust="spacing">W avelength (nm)</text>
<text x="507.90" y="458.60" font-size="15.5" fill="#151515" stroke="#151515" stroke-width="0.2" textLength="141.30" lengthAdjust="spacing" transform="rotate(-90 507.90 458.60)">Spectral power (dBm)</text>
<path d="M528.10,310.30 H524.30 V325.90 H528.10" fill="none" stroke="#111" stroke-width="2"/>
<text x="530.50" y="322.00" font-size="15.5" fill="#151515" stroke="#151515" stroke-width="0.2" textLength="52.80" lengthAdjust="spacing">40dBm</text>
<line x1="612.80" y1="313.30" x2="642.30" y2="313.30" stroke="#5050f0" stroke-width="0.75"/>
<text x="647.80" y="316.40" font-size="10.5" fill="#151515" stroke="#151515" stroke-width="0.2" textLength="42.50" lengthAdjust="spacing">110 mA</text>
<line x1="612.80" y1="326.80" x2="642.30" y2="326.80" stroke="#f05a5a" stroke-width="0.75"/>
<text x="647.80" y="330.10" font-size="10.5" fill="#151515" stroke="#151515" stroke-width="0.2" textLength="36.90" lengthAdjust="spacing">65 mA</text>
<line x1="612.80" y1="340.60" x2="642.30" y2="340.60" stroke="#505050" stroke-width="0.75"/>
<text x="647.80" y="344.30" font-size="10.5" fill="#151515" stroke="#151515" stroke-width="0.2" textLength="36.90" lengthAdjust="spacing">45 mA</text>
<line x1="487.80" y1="545.60" x2="494.80" y2="545.60" stroke="#1a1a1a" stroke-width="1.0"/>
<line x1="487.80" y1="514.00" x2="494.80" y2="514.00" stroke="#1a1a1a" stroke-width="1.0"/>
<line x1="487.80" y1="482.40" x2="494.80" y2="482.40" stroke="#1a1a1a" stroke-width="1.0"/>
<line x1="487.80" y1="450.80" x2="494.80" y2="450.80" stroke="#1a1a1a" stroke-width="1.0"/>
<line x1="487.80" y1="419.20" x2="494.80" y2="419.20" stroke="#1a1a1a" stroke-width="1.0"/>
<line x1="487.80" y1="387.60" x2="494.80" y2="387.60" stroke="#1a1a1a" stroke-width="1.0"/>
<line x1="487.80" y1="356.00" x2="494.80" y2="356.00" stroke="#1a1a1a" stroke-width="1.0"/>
<line x1="487.80" y1="324.40" x2="494.80" y2="324.40" stroke="#1a1a1a" stroke-width="1.0"/>
<line x1="526.70" y1="557.70" x2="526.70" y2="552.40" stroke="#1a1a1a" stroke-width="1.0"/>
<line x1="585.71" y1="557.70" x2="585.71" y2="552.40" stroke="#1a1a1a" stroke-width="1.0"/>
<line x1="644.72" y1="557.70" x2="644.72" y2="552.40" stroke="#1a1a1a" stroke-width="1.0"/>
<line x1="703.73" y1="557.70" x2="703.73" y2="552.40" stroke="#1a1a1a" stroke-width="1.0"/>
<line x1="762.74" y1="557.70" x2="762.74" y2="552.40" stroke="#1a1a1a" stroke-width="1.0"/>
<rect x="487.80" y="305.60" width="329.90" height="252.10" fill="none" stroke="#1a1a1a" stroke-width="1.1"/>
<text x="477.50" y="549.80" font-size="15.5" fill="#151515" stroke="#151515" stroke-width="0.2" text-anchor="end">0</text>
<text x="477.50" y="518.20" font-size="15.5" fill="#151515" stroke="#151515" stroke-width="0.2" text-anchor="end">5</text>
<text x="477.50" y="486.60" font-size="15.5" fill="#151515" stroke="#151515" stroke-width="0.2" text-anchor="end" textLength="17.30" lengthAdjust="spacing">10</text>
<text x="477.50" y="455.00" font-size="15.5" fill="#151515" stroke="#151515" stroke-width="0.2" text-anchor="end" textLength="17.30" lengthAdjust="spacing">15</text>
<text x="477.50" y="423.40" font-size="15.5" fill="#151515" stroke="#151515" stroke-width="0.2" text-anchor="end" textLength="17.30" lengthAdjust="spacing">20</text>
<text x="477.50" y="391.80" font-size="15.5" fill="#151515" stroke="#151515" stroke-width="0.2" text-anchor="end" textLength="17.30" lengthAdjust="spacing">25</text>
<text x="477.50" y="360.20" font-size="15.5" fill="#151515" stroke="#151515" stroke-width="0.2" text-anchor="end" textLength="17.30" lengthAdjust="spacing">30</text>
<text x="477.50" y="328.60" font-size="15.5" fill="#151515" stroke="#151515" stroke-width="0.2" text-anchor="end" textLength="17.30" lengthAdjust="spacing">35</text>
<text x="525.50" y="576.00" font-size="15.8" fill="#151515" stroke="#151515" stroke-width="0.2" text-anchor="middle">0</text>
<text x="584.51" y="576.00" font-size="15.8" fill="#151515" stroke="#151515" stroke-width="0.2" text-anchor="middle" textLength="18.90" lengthAdjust="spacing">30</text>
<text x="643.52" y="576.00" font-size="15.8" fill="#151515" stroke="#151515" stroke-width="0.2" text-anchor="middle" textLength="18.90" lengthAdjust="spacing">60</text>
<text x="702.53" y="576.00" font-size="15.8" fill="#151515" stroke="#151515" stroke-width="0.2" text-anchor="middle" textLength="18.90" lengthAdjust="spacing">90</text>
<text x="761.54" y="576.00" font-size="15.8" fill="#151515" stroke="#151515" stroke-width="0.2" text-anchor="middle" textLength="27.00" lengthAdjust="spacing">120</text>
<text x="448.00" y="522.30" font-size="20" fill="#151515" stroke="#151515" stroke-width="0.2" textLength="164.30" lengthAdjust="spacing" transform="rotate(-90 448.00 522.30)">Output power (mW)</text>
<path d="M570.2 545.0L572.7 545.0M588.9 544.9L592.3 544.9M658.3 529.4L662.6 523.2M666.4 518.0L682.1 497.8M686.1 492.7L701.7 473.5M705.7 468.5L721.4 448.9M725.4 443.9L741.1 424.2M745.0 419.2L760.8 398.4M764.8 393.4L780.4 374.9M784.5 370.0L800.0 352.1" fill="none" stroke="#333" stroke-width="0.6"/>
<rect x="523.70" y="542.77" width="6.0" height="4.4" fill="#000"/>
<rect x="524.68" y="542.77" width="6.0" height="4.4" fill="#000"/>
<rect x="525.67" y="542.77" width="6.0" height="4.4" fill="#000"/>
<rect x="526.65" y="542.77" width="6.0" height="4.4" fill="#000"/>
<rect x="527.63" y="542.77" width="6.0" height="4.4" fill="#000"/>
<rect x="528.62" y="542.77" width="6.0" height="4.4" fill="#000"/>
<rect x="529.60" y="542.77" width="6.0" height="4.4" fill="#000"/>
<rect x="530.58" y="542.77" width="6.0" height="4.4" fill="#000"/>
<rect x="531.57" y="542.77" width="6.0" height="4.4" fill="#000"/>
<rect x="532.55" y="542.77" width="6.0" height="4.4" fill="#000"/>
<rect x="533.54" y="542.77" width="6.0" height="4.4" fill="#000"/>
<rect x="534.52" y="542.77" width="6.0" height="4.4" fill="#000"/>
<rect x="535.50" y="542.77" width="6.0" height="4.4" fill="#000"/>
<rect x="536.49" y="542.77" width="6.0" height="4.4" fill="#000"/>
<rect x="537.47" y="542.77" width="6.0" height="4.4" fill="#000"/>
<rect x="538.45" y="542.77" width="6.0" height="4.4" fill="#000"/>
<rect x="539.44" y="542.77" width="6.0" height="4.4" fill="#000"/>
<rect x="540.42" y="542.77" width="6.0" height="4.4" fill="#000"/>
<rect x="541.40" y="542.77" width="6.0" height="4.4" fill="#000"/>
<rect x="542.39" y="542.77" width="6.0" height="4.4" fill="#000"/>
<rect x="543.37" y="542.77" width="6.0" height="4.4" fill="#000"/>
<rect x="544.35" y="542.77" width="6.0" height="4.4" fill="#000"/>
<rect x="545.34" y="542.77" width="6.0" height="4.4" fill="#000"/>
<rect x="546.32" y="542.77" width="6.0" height="4.4" fill="#000"/>
<rect x="547.30" y="542.77" width="6.0" height="4.4" fill="#000"/>
<rect x="548.29" y="542.77" width="6.0" height="4.4" fill="#000"/>
<rect x="549.27" y="542.77" width="6.0" height="4.4" fill="#000"/>
<rect x="550.25" y="542.77" width="6.0" height="4.4" fill="#000"/>
<rect x="551.24" y="542.77" width="6.0" height="4.4" fill="#000"/>
<rect x="552.22" y="542.77" width="6.0" height="4.4" fill="#000"/>
<rect x="553.21" y="542.77" width="6.0" height="4.4" fill="#000"/>
<rect x="554.19" y="542.77" width="6.0" height="4.4" fill="#000"/>
<rect x="555.17" y="542.77" width="6.0" height="4.4" fill="#000"/>
<rect x="556.16" y="542.77" width="6.0" height="4.4" fill="#000"/>
<rect x="557.14" y="542.77" width="6.0" height="4.4" fill="#000"/>
<rect x="558.12" y="542.77" width="6.0" height="4.4" fill="#000"/>
<rect x="559.11" y="542.77" width="6.0" height="4.4" fill="#000"/>
<rect x="560.09" y="542.77" width="6.0" height="4.4" fill="#000"/>
<rect x="561.07" y="542.77" width="6.0" height="4.4" fill="#000"/>
<rect x="562.06" y="542.77" width="6.0" height="4.4" fill="#000"/>
<rect x="563.04" y="542.77" width="6.0" height="4.4" fill="#000"/>
<rect x="564.02" y="542.77" width="6.0" height="4.4" fill="#000"/>
<rect x="572.88" y="542.77" width="6.0" height="4.4" fill="#000"/>
<rect x="577.79" y="542.77" width="6.0" height="4.4" fill="#000"/>
<rect x="582.71" y="542.70" width="6.0" height="4.4" fill="#000"/>
<rect x="592.55" y="542.70" width="6.0" height="4.4" fill="#000"/>
<rect x="598.45" y="542.45" width="6.0" height="4.4" fill="#000"/>
<rect x="602.38" y="542.14" width="6.0" height="4.4" fill="#000"/>
<rect x="604.35" y="541.50" width="6.0" height="4.4" fill="#000"/>
<rect x="606.31" y="540.56" width="6.0" height="4.4" fill="#000"/>
<rect x="608.28" y="539.29" width="6.0" height="4.4" fill="#000"/>
<rect x="610.25" y="538.03" width="6.0" height="4.4" fill="#000"/>
<rect x="612.22" y="536.76" width="6.0" height="4.4" fill="#000"/>
<rect x="614.18" y="535.82" width="6.0" height="4.4" fill="#000"/>
<rect x="616.15" y="534.87" width="6.0" height="4.4" fill="#000"/>
<rect x="618.12" y="533.92" width="6.0" height="4.4" fill="#000"/>
<rect x="620.08" y="532.97" width="6.0" height="4.4" fill="#000"/>
<rect x="622.05" y="532.02" width="6.0" height="4.4" fill="#000"/>
<rect x="624.02" y="531.08" width="6.0" height="4.4" fill="#000"/>
<rect x="625.98" y="530.13" width="6.0" height="4.4" fill="#000"/>
<rect x="627.95" y="529.18" width="6.0" height="4.4" fill="#000"/>
<rect x="629.92" y="528.23" width="6.0" height="4.4" fill="#000"/>
<rect x="631.88" y="527.28" width="6.0" height="4.4" fill="#000"/>
<rect x="633.85" y="526.65" width="6.0" height="4.4" fill="#000"/>
<rect x="635.82" y="526.02" width="6.0" height="4.4" fill="#000"/>
<rect x="637.79" y="525.39" width="6.0" height="4.4" fill="#000"/>
<rect x="639.75" y="525.07" width="6.0" height="4.4" fill="#000"/>
<rect x="641.72" y="525.39" width="6.0" height="4.4" fill="#000"/>
<rect x="643.69" y="526.97" width="6.0" height="4.4" fill="#000"/>
<rect x="645.65" y="528.55" width="6.0" height="4.4" fill="#000"/>
<rect x="647.62" y="530.13" width="6.0" height="4.4" fill="#000"/>
<rect x="649.59" y="530.76" width="6.0" height="4.4" fill="#000"/>
<rect x="651.56" y="530.44" width="6.0" height="4.4" fill="#000"/>
<rect x="653.52" y="529.81" width="6.0" height="4.4" fill="#000"/>
<rect x="661.39" y="518.37" width="6.0" height="4.4" fill="#000"/>
<rect x="681.06" y="493.03" width="6.0" height="4.4" fill="#000"/>
<rect x="700.73" y="468.82" width="6.0" height="4.4" fill="#000"/>
<rect x="720.40" y="444.18" width="6.0" height="4.4" fill="#000"/>
<rect x="740.07" y="419.53" width="6.0" height="4.4" fill="#000"/>
<rect x="759.74" y="393.62" width="6.0" height="4.4" fill="#000"/>
<rect x="779.41" y="370.23" width="6.0" height="4.4" fill="#000"/>
<rect x="799.08" y="347.48" width="6.0" height="4.4" fill="#000"/>
<text x="786.30" y="322.50" font-size="19.5" fill="#151515" stroke="#151515" stroke-width="0.2" textLength="28.40" lengthAdjust="spacing">(d)</text>
<text x="771.80" y="412.40" font-size="20" fill="#1515b4" stroke="#1515b4" stroke-width="0.2" textLength="27.80" lengthAdjust="spacing">ES</text>
<text x="727.10" y="464.20" font-size="20" fill="#151515" stroke="#151515" stroke-width="0.2" textLength="81.80" lengthAdjust="spacing">p-doped</text>
<text x="722.20" y="508.90" font-size="20" fill="#151515" stroke="#151515" stroke-width="0.2" textLength="77.00" lengthAdjust="spacing">400 µm</text>
<text x="591.50" y="533.00" font-size="20" fill="#1515b4" stroke="#1515b4" stroke-width="0.2" textLength="28.90" lengthAdjust="spacing">GS</text>
<text x="670.00" y="541.00" font-size="20" fill="#1515b4" stroke="#1515b4" stroke-width="0.2" textLength="138.80" lengthAdjust="spacing">GS saturation</text>
<ellipse cx="644.90" cy="530.70" rx="18.50" ry="11.00" fill="none" stroke="#1818c8" stroke-width="2"/>
<path d="M93.9 642.6 94.4 643.1 94.9 643.1 95.4 643 95.9 642.9 96.4 642.7 96.9 642.4 97.4 643.1 97.9 642.7 98.4 643 98.9 642.8 99.4 643.1 99.9 643.1 100.4 642.5 100.9 642.4 101.4 642.6 101.9 643.1 102.4 642.7 102.9 643 103.4 643.1 103.9 643.1 104.4 642.8 104.9 643.1 105.4 642.2 105.9 642.8 106.4 643 106.9 642.7 107.4 642.9 107.9 643.1 108.4 642.5 108.9 642.6 109.4 642.4 109.9 643 110.4 643.2 110.9 642.9 111.4 642.4 111.9 643 112.4 642.7 112.9 642.7 113.4 642.9 113.9 643 114.4 642.4 114.9 642.6 115.4 643 115.9 642.6 116.4 642.4 116.9 642.8 117.4 642.5 117.9 643 118.4 642.4 118.9 643 119.4 642.9 119.9 642.9 120.4 642.5 120.9 642.9 121.4 642.7 121.9 643.1 122.4 642.7 122.9 643.1 123.4 642.8 123.9 642.7 124.4 642.7 124.9 642.6 125.4 642.6 125.9 642.5 126.4 642.8 126.9 642.1 127.4 642.6 127.9 642.8 128.4 643 128.9 642.2 129.4 642.8 129.9 642.3 130.4 642.7 130.9 642.2 131.4 642.8 131.9 642.5 132.4 642.5 132.9 643 133.4 642.6 133.9 643 134.4 643 134.9 643 135.4 642.5 135.9 643.1 136.4 642.7 136.9 643.1 137.4 643.2 137.9 642.7 138.4 642.7 138.9 642.6 139.4 643 139.9 642.5 140.4 643 140.9 642.6 141.4 642.9 141.9 642.8 142.4 643.1 142.9 641.8 143.4 642.6 143.9 642.7 144.4 642.4 144.9 642.6 145.4 642.6 145.9 642.6 146.4 642.6 146.9 642.3 147.4 642.6 147.9 642.8 148.4 643.1 148.9 643.2 149.4 642.7 149.9 642.7 150.4 641.8 150.9 643 151.4 642.9 151.9 642.8 152.4 642.5 152.9 643.1 153.4 642.6 153.9 642.6 154.4 643.1 154.9 642.9 155.4 642.8 155.9 642.8 156.4 643 156.9 642.5 157.4 642.8 157.9 642.7 158.4 643.1 158.9 642.7 159.4 642.8 159.9 642.6 160.4 643 160.9 642.8 161.4 643.2 161.9 642.8 162.4 642.9 162.9 642.8 163.4 643.1 163.9 642.9 164.4 643.1 164.9 643.1 165.4 643.1 165.9 643.1 166.4 643.2 166.9 642.4 167.4 642.4 167.9 642.7 168.4 642.4 168.9 641.7 169.5 642.8 170 642.9 170.5 641.7 171 642.8 171.5 642.7 172 642 172.5 642.7 173 643 173.5 642.7 174 642.5 174.5 642.9 175 642 175.5 643.1 176 642.6 176.5 642.7 177 642.5 177.5 643.1 178 642.5 178.5 642.5 179 642.7 179.5 643.1 180 641.5 180.5 642.9 181 642.4 181.5 642.4 182 642.5 182.5 643 183 643.2 183.5 643.1 184 642.7 184.5 642.9 185 642.7 185.5 642.6 186 642.8 186.5 642.9 187 642.5 187.5 642.8 188 642.7 188.5 642.7 189 643 189.5 642.5 190 642.4 190.5 642.1 191 642.9 191.5 642.4 192 642.8 192.5 642.6 193 642.6 193.5 642.5 194 642.7 194.5 642.6 195 642.5 195.5 642.8 196 643 196.5 642.8 197 643.1 197.5 642.5 198 642.6 198.5 642.9 199 641.9 199.5 642.6 200 642.5 200.5 642.4 201 642.6 201.5 642.8 202 642.8 202.5 643.1 203 642.8 203.5 642.7 204 642.8 204.5 642.1 205 642.8 205.5 642.7 206 643.2 206.5 642.7 207 642.4 207.5 642.5 208 642.9 208.5 642.5 209 642.7 209.5 642.5 210 642.4 210.5 643.2 211 643.1 211.5 643 212 642.7 212.5 641.5 213 643 213.5 642.8 214 643.1 214.5 642.8 215 642.7 215.5 643.1 216 642.4 216.5 642.4 217 642.6 217.5 642.8 218 643.2 218.5 643 219 643 219.5 642.5 220 642.7 220.5 643 221 642.7 221.5 642.7 222 643 222.5 642.6 223 642.6 223.5 642.8 224 642.4 224.5 643.1 225 642.5 225.5 643 226 643.1 226.5 642.8 227 642 227.5 643.1 228 643.2 228.5 642.9 229 642.7 229.5 643.2 230 643.2 230.5 642.3 231 642.6 231.5 642.5 232 642.8 232.5 643 233 642.5 233.5 642.9 234 642.4 234.5 642.8 235 643.1 235.5 642.7 236 643 236.5 642.7 237 642.2 237.5 642.8 238 643 238.5 642.7 239 643 239.5 643.1 240 642.4 240.5 642.8 241 643.1 241.5 642.6 242 643.2 242.5 642.4 243 642.9 243.5 642.8 244 642.7 244.5 643 244.5 651.2 244 652.1 243.5 651.6 243 651.2 242.5 651.6 242 650.1 241.5 650.4 241 650.9 240.5 650.5 240 650.7 239.5 650.9 239 650.8 238.5 651.9 238 652.1 237.5 651.7 237 650.3 236.5 650.6 236 650.4 235.5 650.8 235 650.8 234.5 651.9 234 652 233.5 651 233 651.2 232.5 651.8 232 650.2 231.5 650.8 231 650.4 230.5 651.2 230 651 229.5 650.6 229 651.1 228.5 651.8 228 650.6 227.5 651 227 650.7 226.5 650.2 226 652 225.5 651.8 225 652.2 224.5 651.2 224 651.4 223.5 651.5 223 650.6 222.5 650.2 222 651.6 221.5 651.2 221 651 220.5 651 220 650.8 219.5 650.3 219 651.4 218.5 650.7 218 650.9 217.5 651.7 217 650.2 216.5 651.5 216 651.8 215.5 652.1 215 651.4 214.5 650.1 214 651.7 213.5 650.3 213 651 212.5 650.2 212 651 211.5 650.1 211 651.5 210.5 652.1 210 652 209.5 650.5 209 651.8 208.5 650.4 208 650.7 207.5 651.1 207 651.6 206.5 650.5 206 651.2 205.5 651.6 205 651.2 204.5 650.4 204 651.7 203.5 652.2 203 650.8 202.5 652.1 202 651.4 201.5 651 201 650.4 200.5 650.1 200 651 199.5 651.3 199 650.1 198.5 650.7 198 651.5 197.5 651.7 197 651.5 196.5 650.8 196 650.3 195.5 650.4 195 651.5 194.5 652.2 194 652.2 193.5 650.7 193 651.7 192.5 651.7 192 651 191.5 650.5 191 650.7 190.5 651.3 190 651.2 189.5 651.6 189 650 188.5 651.8 188 650.6 187.5 650.5 187 650.9 186.5 650 186 651.1 185.5 652 185 651.5 184.5 650.2 184 651.1 183.5 652.2 183 651 182.5 650.9 182 650.9 181.5 652 181 650.9 180.5 650.6 180 651.2 179.5 650.8 179 651.8 178.5 651.6 178 650.3 177.5 651 177 651.6 176.5 652.1 176 652.1 175.5 650.3 175 651.3 174.5 651.5 174 652 173.5 650.9 173 651.3 172.5 651.9 172 651.9 171.5 651.8 171 650.3 170.5 650.6 170 651.9 169.5 652 168.9 650.2 168.4 650.6 167.9 650.2 167.4 650.7 166.9 651.7 166.4 651.6 165.9 650 165.4 650.6 164.9 650.6 164.4 651.5 163.9 652 163.4 650.1 162.9 650.9 162.4 651.6 161.9 650.1 161.4 651 160.9 650.6 160.4 650.1 159.9 651.3 159.4 652.1 158.9 650 158.4 650 157.9 650.4 157.4 650.5 156.9 650.4 156.4 650.1 155.9 651.2 155.4 650.9 154.9 652.1 154.4 652.1 153.9 650.3 153.4 650.5 152.9 651.9 152.4 651.2 151.9 651.9 151.4 651.6 150.9 650.7 150.4 651.7 149.9 651.2 149.4 651.5 148.9 651.6 148.4 651.9 147.9 650.5 147.4 652.2 146.9 651.1 146.4 652.1 145.9 651.5 145.4 651.3 144.9 651.4 144.4 650.4 143.9 650.9 143.4 651.9 142.9 650.4 142.4 651.6 141.9 651.9 141.4 651.7 140.9 650.5 140.4 651.9 139.9 650.3 139.4 650.2 138.9 650.4 138.4 650.1 137.9 651.5 137.4 650.4 136.9 651.8 136.4 650.5 135.9 650.1 135.4 651.7 134.9 651.4 134.4 650.5 133.9 650.4 133.4 651.1 132.9 651.6 132.4 651.5 131.9 651.1 131.4 651.8 130.9 651.7 130.4 652 129.9 651 129.4 650 128.9 650.9 128.4 651.2 127.9 650.2 127.4 650.4 126.9 651.7 126.4 651.8 125.9 651.8 125.4 651.8 124.9 650.4 124.4 652.1 123.9 652.1 123.4 651.8 122.9 651.3 122.4 651.2 121.9 650.2 121.4 652.1 120.9 651.2 120.4 651.3 119.9 651.7 119.4 652 118.9 650.2 118.4 651 117.9 651.3 117.4 650.6 116.9 651.7 116.4 650.2 115.9 651.7 115.4 650.1 114.9 650.1 114.4 651.9 113.9 651.3 113.4 650.9 112.9 651.4 112.4 650.8 111.9 651.7 111.4 650.6 110.9 651.1 110.4 651.5 109.9 651.1 109.4 651.5 108.9 652.1 108.4 650.9 107.9 651.1 107.4 651.2 106.9 651.2 106.4 650.5 105.9 650.5 105.4 651.3 104.9 650.1 104.4 652 103.9 651.2 103.4 652.2 102.9 652.2 102.4 650.3 101.9 650.4 101.4 650.2 100.9 650.9 100.4 651 99.9 651.3 99.4 651.8 98.9 651 98.4 651.7 97.9 652 97.4 651.4 96.9 651.1 96.4 651.9 95.9 652.2 95.4 651.4 94.9 652.1 94.4 651.2 93.9 650.4Z" fill="#0000ff"/>
<path d="M115.9 643 116.4 642.7 116.9 643 117.4 642.6 117.9 642.9 118.4 642.1 118.9 642.4 119.4 642.1 119.9 641.8 120.4 641.1 120.9 641.1 121.4 640.6 121.9 640.5 122.4 639.7 122.9 639.7 123.4 639 123.9 638.5 124.4 638.1 124.9 637.6 125.4 637.3 125.9 636.9 126.4 637 126.9 636.1 127.4 636.5 127.9 636.6 128.4 636.8 128.9 636.1 129.4 636.8 129.9 636.5 130.4 637.2 130.9 637.1 131.4 638 131.9 638.2 132.4 638.6 132.9 639.4 133.4 639.5 133.9 640.3 134.4 640.7 134.9 641.1 135.4 641 135.9 641.9 136.4 641.7 136.9 642.5 137.4 642.8 137.9 642.5 138.4 642.7 138.9 642.7 139.4 643.3 139.9 642.9 139.9 644 139.4 644.5 138.9 644.1 138.4 644.2 137.9 644.2 137.4 644.7 136.9 644.6 136.4 644.2 135.9 644.6 135.4 644 134.9 644.5 134.4 644.5 133.9 644.5 133.4 644.1 132.9 644.5 132.4 644 131.9 644 131.4 644.3 130.9 643.7 130.4 644.2 129.9 643.8 129.4 644.3 128.9 643.7 128.4 644.5 127.9 644.3 127.4 644.1 126.9 643.6 126.4 644.3 125.9 644 125.4 644.1 124.9 644.1 124.4 644.2 123.9 644.2 123.4 644.3 122.9 644.6 122.4 644.2 121.9 644.6 121.4 644.2 120.9 644.4 120.4 644 119.9 644.4 119.4 644.4 118.9 644.5 118.4 643.9 117.9 644.5 117.4 644 116.9 644.3 116.4 643.9 115.9 644.1Z" fill="#0000ff" fill-opacity="0.6"/>
<path d="M115.9 643.1 116.4 642.9 116.9 643.3 117.4 643 117.9 643.4 118.4 642.8 118.9 643.4 119.4 643.2 119.9 643.1 120.4 642.6 120.9 642.8 121.4 642.4 121.9 642.5 122.4 641.7 122.9 641.7 123.4 640.9 123.9 640.2 124.4 639.6 124.9 638.7 125.4 638.1 125.9 637.4 126.4 637.2 126.9 636 127.4 636.3 127.9 636.3 128.4 636.6 128.9 636 129.4 636.9 129.9 636.9 130.4 637.9 130.9 638.1 131.4 639.3 131.9 639.7 132.4 640.3 132.9 641.4 133.4 641.5 133.9 642.3 134.4 642.6 134.9 642.9 135.4 642.6 135.9 643.3 136.4 643 136.9 643.5 137.4 643.6 137.9 643.2 138.4 643.1 138.9 643.1 139.4 643.5 139.9 643 139.9 644 139.4 644.5 138.9 644.1 138.4 644.2 137.9 644.2 137.4 644.7 136.9 644.6 136.4 644.2 135.9 644.6 135.4 644 134.9 644.5 134.4 644.5 133.9 644.5 133.4 644.1 132.9 644.5 132.4 644 131.9 644 131.4 644.3 130.9 643.7 130.4 644.2 129.9 643.8 129.4 644.3 128.9 643.7 128.4 644.5 127.9 644.3 127.4 644.1 126.9 643.6 126.4 644.3 125.9 644 125.4 644.1 124.9 644.1 124.4 644.2 123.9 644.2 123.4 644.3 122.9 644.6 122.4 644.2 121.9 644.6 121.4 644.2 120.9 644.4 120.4 644 119.9 644.4 119.4 644.4 118.9 644.5 118.4 643.9 117.9 644.5 117.4 644 116.9 644.3 116.4 643.9 115.9 644.1Z" fill="#0000ff"/>
<path d="M119.4 643.9V641.9M121.9 644.1V640.6M122.4 643.7V640.4M126.4 643.8V637.2M127.9 643.8V638.1M128.4 644V636.6M128.9 643.2V637.8M131.4 643.8V638.6M132.4 643.5V639.1M132.9 644V639.8M133.4 643.6V640.3M133.9 644V640.4M135.9 644.1V641.6" stroke="#0000ff" stroke-width="0.55" fill="none"/>
<path d="M94 649.4V657.2M95 651.1V652.6M95.3 650.4V655.7M95.8 651.2V657.5M96.5 650.9V651.5M96.8 650.1V654.4M97.4 650.4V658.9M97.9 651V654.2M98.2 650.7V656.1M99 650V656.4M99.3 650.8V659.3M100 650.3V652.7M100.5 650V653.1M100.9 649.9V653.7M101.9 649.4V657.2M102.9 651.2V658.7M103.5 651.2V651.3M104 650.2V653.6M104.4 651V657.9M105 649.1V652.6M105.3 650.3V656.5M106.2 649.5V658.2M106.9 650.2V653.7M107.5 650.2V660.2M107.9 650.1V651.6M108.4 649.9V654.6M109 651.1V657.9M109.4 650.5V653.1M110 650.1V658.8M110.4 650.5V657.9M110.9 650.1V657.6M111.6 649.6V657.2M112 650.7V654.3M112.5 649.8V659.6M113.1 650.4V655.8M113.5 649.9V656.8M113.9 650.3V658.4M114.4 650.9V653.4M115 649.1V655.8M115.4 649.1V656.5M115.9 650.7V658.8M116.4 649.2V653.9M116.7 650.7V652.5M117.5 649.6V654.2M117.8 650.3V656.7M118.3 650V657.1M118.9 649.2V654.8M119.5 651V659.4M119.8 650.7V652.8M120.4 650.3V659.6M121.1 650.2V654.8M121.2 651.1V658.9M121.9 649.2V652M122.3 650.2V659.2M122.8 650.3V653.9M123.5 650.8V653.7M123.9 651.1V657.9M124.8 649.4V655.3M125.6 650.8V652.9M126 650.8V656.8M126.4 650.8V651.6M127 650.7V654.1M127.3 649.4V652.2M128 649.2V652M129.1 649.9V654.7M129.5 649V656.1M130 650V656.1M130.4 651V660M130.8 650.7V655.2M131.5 650.8V654.1M131.8 650.1V653.3M132.8 650.6V651.7M133.6 650.1V651.8M133.7 649.4V659M134.6 649.5V651.4M135.6 650.7V655.4M136 649.1V659.2M136.5 649.5V658.6M137 650.8V651.7M137.5 649.4V654.2M137.9 650.5V653.9M138.3 649.1V658.8M138.8 649.4V659M139.7 649.3V652.3M140.3 650.9V657.7M141.1 649.5V651.6M141.6 650.7V655.3M141.8 650.9V653M142.5 650.6V657.2M142.9 649.4V658.8M143.4 650.9V660.1M144.1 649.9V660.2M145.1 650.4V654.3M145.3 650.3V658.4M145.8 650.5V657.6M146.5 651.1V657.9M147.8 649.5V657.8M148.3 650.9V653.5M149.5 650.5V657.3M150.1 650.2V651.5M150.4 650.7V660M150.8 649.7V659.3M151.3 650.6V653.2M152.1 650.9V652.9M153.4 649.5V657.1M153.8 649.3V659.5M154.5 651.1V655.4M155 651.1V659.8M155.9 650.2V658.8M156.5 649.1V652.6M157 649.4V659.1M157.5 649.5V658.3M157.8 649.4V653.2M158.4 649V658.6M158.9 649V652.7M159.5 651.1V651.4M160.1 650.3V657.2M160.5 649.1V655.3M161 649.6V653.6M161.5 650V653.1M162.1 649.1V653.9M162.4 650.6V654.8M163 649.9V657.6M163.3 649.1V658.4M164 651V658.8M164.3 650.5V652.8M165.4 649.6V657.7M166.6 650.6V656.5M167 650.7V659M167.5 649.7V653.7M168.1 649.2V657.4M168.4 649.6V658.7M168.9 649.2V657.9M169.4 651V657.3M170 650.9V651.7M170.5 649.6V652M171.5 650.8V657.3M172 650.9V657.2M172.4 650.9V653.4M172.8 650.3V657.5M173.6 649.9V658.3M174.1 651V654M174.3 650.5V652.6M174.8 650.3V651.6M175.6 649.3V657.5M175.9 651.1V655M176.6 651.1V658.3M177.5 650V657.9M178.1 649.3V655.2M178.6 650.6V653.1M179 650.8V660.2M179.5 649.8V653.6M180 650.2V656.1M180.5 649.6V652.7M181.1 649.9V656.4M181.6 651V653.1M181.9 649.9V656.1M182.3 649.9V657.4M183.1 650V654.8M183.6 651.2V654.4M183.9 650.1V656.3M184.6 649.2V654.3M184.8 650.5V651.5M185.3 651V655.4M186.9 649.9V653.7M187.6 649.5V651.8M188 649.6V659.3M188.4 650.8V653.6M189.1 649V653.7M189.6 650.6V659M190.1 650.2V654.9M190.5 650.3V658.2M191.2 649.7V653.9M191.4 649.5V654.9M192 650V651.6M192.4 650.7V654.4M193.4 649.7V658.1M194 651.2V659.8M194.4 651.2V653.5M194.9 650.5V656.9M195.4 649.4V652.4M196.2 649.3V655.9M196.6 649.8V656.7M196.9 650.5V652.9M197.5 650.7V658.8M198 650.5V656.7M198.4 649.7V660M199.1 649.1V653.4M199.5 650.3V658.3M200.1 650V658.5M200.8 649.4V658.1M201.4 650V660.1M202 650.4V659.4M202.4 651.1V657.9M203.4 651.2V658.3M204.5 649.4V659.3M204.8 650.2V654.3M205.6 650.6V653M206 650.2V659.2M206.4 649.5V652.2M207.6 650.1V656.8M207.9 649.7V654.4M209.1 650.8V657.2M209.4 649.5V654.5M211 650.5V659M211.3 649.1V656M211.8 650V655.1M213 650V656.1M213.7 649.3V655.4M214.4 649.1V659.1M214.8 650.4V651.5M215.5 651.1V652.2M217.1 649.2V657.6M217.9 649.9V658.6M218.6 649.7V653.8M219.3 649.3V654.8M219.8 649.8V655.4M220.4 650V655.9M221.1 650V653.7M221.8 650.6V659.3M222.7 649.2V655.8M223.3 650.5V651.4M224.2 650.4V656.6M224.6 650.2V653.4M225 651.2V653.4M225.7 650.8V652.9M226.1 651V653.3M226.4 649.2V655.9M227 649.7V654.6M228.1 649.6V658.2M228.4 650.8V651.2M229.1 650.1V659.3M229.6 649.6V657.5M230 650V651.8M230.5 650.2V656M231.2 649.4V660.1M231.9 649.2V655.8M232.3 650.8V659.7M232.9 650.2V651.9M233.6 650V655M234 651V652.8M234.5 650.9V659.1M235.2 649.8V660.1M235.4 649.8V654.2M235.9 649.4V658M236.4 649.6V654.8M237.1 649.3V655.1M237.6 650.7V652.1M238.2 651.1V651.8M238.6 650.9V656.5M239 649.8V657.8M239.4 649.9V653M239.8 649.7V651.7M240.6 649.5V653.3M241.7 649.4V658.3M242 649.1V652.9M243 650.2V653.9M243.6 650.6V657.1M244.1 651.1V656.8M244.6 650.2V658.7" stroke="#0000ff" stroke-width="0.7" fill="none"/>
<path d="M93.9 683.3 94.4 684 94.9 683.3 95.4 683.3 95.9 683.2 96.4 683.3 96.9 683.4 97.4 683.9 97.9 684 98.4 683.9 98.9 683.6 99.4 683.3 99.9 683.8 100.4 682.6 100.9 683.6 101.4 683.3 101.9 683.4 102.4 683.6 102.9 683.3 103.4 683.9 103.9 683.8 104.4 683.9 104.9 683.6 105.4 683.7 105.9 683.9 106.4 683.2 106.9 683.8 107.4 683.7 107.9 683.2 108.4 683.3 108.9 683.5 109.4 683.1 109.9 683.8 110.4 683.4 110.9 683.9 111.4 683.3 111.9 683.5 112.4 683.4 112.9 683.6 113.4 683.9 113.9 683.7 114.4 683.3 114.9 683.3 115.4 682.9 115.9 683.6 116.4 683.1 116.9 683.8 117.4 683.6 117.9 683.4 118.4 683.6 118.9 684 119.4 683.7 119.9 683.4 120.4 683.2 120.9 683.5 121.4 683.1 121.9 683.7 122.4 683.6 122.9 683.9 123.4 682.7 123.9 683.4 124.4 683.8 124.9 683.8 125.4 683.7 125.9 683.4 126.4 683.3 126.9 683.6 127.4 683.8 127.9 683.6 128.4 683.9 128.9 683.4 129.4 683.3 129.9 683.4 130.4 683.3 130.9 683.6 131.4 684 131.9 683.9 132.4 683.3 132.9 683.5 133.4 683.7 133.9 683.5 134.4 683.8 134.9 683.5 135.4 683.4 135.9 683.6 136.4 683.7 136.9 683.6 137.4 683.8 137.9 683.3 138.4 683.7 138.9 683.9 139.4 683.8 139.9 683.3 140.4 683.6 140.9 683.6 141.4 683.5 141.9 683.8 142.4 683.2 142.9 683.7 143.4 682.6 143.9 683.5 144.4 683.3 144.9 683.9 145.4 683.8 145.9 683.3 146.4 683.4 146.9 684 147.4 683.7 147.9 683.4 148.4 683.8 148.9 683.5 149.4 683.4 149.9 683.3 150.4 683.3 150.9 683.6 151.4 683.6 151.9 683.4 152.4 683.4 152.9 683.6 153.4 683.8 153.9 684 154.4 683.4 154.9 683.8 155.4 683.4 155.9 683.2 156.4 683.7 156.9 683.7 157.4 683.6 157.9 683.3 158.4 683.8 158.9 683.6 159.4 683.2 159.9 684 160.4 683.7 160.9 683.3 161.4 683.4 161.9 683.3 162.4 683.8 162.9 683.3 163.4 683.4 163.9 683.9 164.4 682.4 164.9 683.6 165.4 683.8 165.9 683.3 166.4 683.5 166.9 683.8 167.4 683.2 167.9 682.4 168.4 683.9 168.9 683.5 169.5 683.9 170 683.6 170.5 683.6 171 683.3 171.5 683.9 172 683.6 172.5 683.3 173 683.7 173.5 683.9 174 683.6 174.5 684 175 683.3 175.5 683.9 176 683.7 176.5 683.7 177 683.3 177.5 684 178 683.7 178.5 683.5 179 683.6 179.5 683.2 180 683.7 180.5 683.8 181 683.4 181.5 683.6 182 683.8 182.5 683.4 183 683.3 183.5 683.2 184 683.5 184.5 683.4 185 683.6 185.5 683.7 186 683.4 186.5 683.2 187 683.5 187.5 683.7 188 683.4 188.5 683.6 189 683.3 189.5 683.1 190 683.9 190.5 683.5 191 683.3 191.5 683.4 192 683.8 192.5 683.6 193 683 193.5 683.6 194 683.9 194.5 683.7 195 683.6 195.5 683.7 196 683.6 196.5 683.8 197 683.6 197.5 683.3 198 683.5 198.5 683.3 199 683.4 199.5 684 200 683.7 200.5 683.3 201 683.9 201.5 683.3 202 683.9 202.5 683.9 203 684 203.5 683.8 204 684 204.5 683.6 205 683.8 205.5 683.7 206 683.8 206.5 683.3 207 683.7 207.5 684 208 683.8 208.5 683.6 209 683.2 209.5 682.5 210 683.4 210.5 683.1 211 683.8 211.5 683.7 212 683.8 212.5 683 213 683.3 213.5 683.9 214 683.2 214.5 683.7 215 683.5 215.5 683.2 216 683.6 216.5 683.9 217 684 217.5 683.2 218 683.9 218.5 683.9 219 684 219.5 683.2 220 683.4 220.5 683.3 221 683.6 221.5 683.8 222 683.3 222.5 683.4 223 683.2 223.5 683.9 224 683.5 224.5 683.5 225 683.6 225.5 683.2 226 683.5 226.5 683.4 227 683.4 227.5 683.6 228 684 228.5 683.4 229 684 229.5 683.8 230 683.3 230.5 683.3 231 683.6 231.5 683.8 232 683.8 232.5 683.8 233 684 233.5 683.6 234 683.6 234.5 683.5 235 683.3 235.5 683.4 236 683.4 236.5 683.6 237 683.2 237.5 684 238 684 238.5 683.9 239 683.4 239.5 683.3 240 683.9 240.5 683.2 241 683.6 241.5 683.4 242 683.9 242.5 683.3 243 683.6 243.5 683.9 244 683.6 244.5 683.3 244.5 691.1 244 692 243.5 692.2 243 691.4 242.5 692.2 242 692.9 241.5 691.3 241 693.2 240.5 691.2 240 691.1 239.5 693.3 239 691.8 238.5 691.8 238 691.7 237.5 693 237 692 236.5 692.9 236 692.1 235.5 693.1 235 691.2 234.5 691.8 234 691.4 233.5 692.9 233 692.8 232.5 691.2 232 691.7 231.5 691.7 231 693.1 230.5 692.3 230 692.2 229.5 691.2 229 691.1 228.5 692.3 228 693.1 227.5 691.2 227 692 226.5 692.1 226 691.9 225.5 691.5 225 691.2 224.5 691.6 224 691.2 223.5 691.3 223 693.2 222.5 691.9 222 691.9 221.5 691.6 221 693.2 220.5 691.2 220 693.2 219.5 691.4 219 691.5 218.5 691.2 218 692.8 217.5 693.3 217 691.2 216.5 691.7 216 691.5 215.5 691.9 215 691.3 214.5 693.3 214 693.1 213.5 692.5 213 691.5 212.5 692.8 212 693.2 211.5 691.5 211 691.7 210.5 693.1 210 692.4 209.5 692.9 209 692.8 208.5 692.9 208 691.3 207.5 692.7 207 692.1 206.5 692 206 693.1 205.5 693.3 205 691.7 204.5 692.9 204 693.1 203.5 692.8 203 692.6 202.5 692.7 202 691.2 201.5 691.3 201 692.9 200.5 692.8 200 693 199.5 692.4 199 691.9 198.5 692.9 198 693.1 197.5 691.7 197 692 196.5 691.4 196 693.1 195.5 692.5 195 691.9 194.5 692 194 692.2 193.5 692.4 193 691.7 192.5 692.4 192 692.5 191.5 692.5 191 692 190.5 692.6 190 691.4 189.5 693.2 189 691.9 188.5 692.9 188 693 187.5 692.5 187 691.9 186.5 691.7 186 691.3 185.5 692.1 185 691.6 184.5 691.4 184 692.4 183.5 691.7 183 693.2 182.5 691.2 182 691.9 181.5 691.2 181 692.1 180.5 691.4 180 691.9 179.5 692.6 179 692.2 178.5 692.1 178 693.2 177.5 691.7 177 693.2 176.5 692 176 693 175.5 693 175 692.4 174.5 691.2 174 691.8 173.5 692.6 173 692.5 172.5 691.8 172 691.2 171.5 691.5 171 693 170.5 692.6 170 693.3 169.5 691.5 168.9 692.1 168.4 691.2 167.9 693.3 167.4 692.5 166.9 691.2 166.4 692.5 165.9 692.1 165.4 692.7 164.9 692.7 164.4 693.1 163.9 691.5 163.4 691.8 162.9 691.7 162.4 692.6 161.9 692.5 161.4 691.3 160.9 691.9 160.4 691.9 159.9 691.7 159.4 692.9 158.9 691.4 158.4 691.2 157.9 691.9 157.4 693.2 156.9 691.2 156.4 692 155.9 692.3 155.4 691.4 154.9 692.2 154.4 692 153.9 692.1 153.4 692.3 152.9 693.2 152.4 693.3 151.9 692.2 151.4 691.3 150.9 691.5 150.4 692.7 149.9 691.7 149.4 692.9 148.9 692.3 148.4 691.3 147.9 691.4 147.4 692.9 146.9 692.1 146.4 692.5 145.9 693.2 145.4 693.1 144.9 691.4 144.4 692.1 143.9 692.1 143.4 692.8 142.9 691.1 142.4 692.3 141.9 692.7 141.4 692.1 140.9 692.8 140.4 692.4 139.9 691.2 139.4 692.2 138.9 692.1 138.4 692.7 137.9 693.1 137.4 691.1 136.9 691.9 136.4 691.3 135.9 691.1 135.4 692.8 134.9 691.2 134.4 691.8 133.9 691.4 133.4 692.7 132.9 692 132.4 691.2 131.9 692.4 131.4 693.3 130.9 693.2 130.4 692 129.9 691.1 129.4 693.1 128.9 692.8 128.4 691.2 127.9 691.4 127.4 692.1 126.9 692 126.4 692.2 125.9 692.7 125.4 692.8 124.9 691.7 124.4 693.1 123.9 692.3 123.4 691.8 122.9 692.9 122.4 692.2 121.9 691.3 121.4 692 120.9 693.2 120.4 692.7 119.9 692.9 119.4 691.7 118.9 691.2 118.4 693.1 117.9 692.6 117.4 692.8 116.9 691.2 116.4 691.3 115.9 691.8 115.4 691.7 114.9 693.1 114.4 693.2 113.9 693.1 113.4 691.7 112.9 692.4 112.4 692.6 111.9 693.2 111.4 692.6 110.9 691.5 110.4 691.8 109.9 693 109.4 691.7 108.9 691.7 108.4 693.3 107.9 692.8 107.4 692.1 106.9 692.2 106.4 691.4 105.9 691.3 105.4 692.7 104.9 691.3 104.4 693.1 103.9 692.6 103.4 693.2 102.9 693 102.4 692.8 101.9 692 101.4 692.4 100.9 691.4 100.4 692.3 99.9 692 99.4 692.6 98.9 691.5 98.4 691.4 97.9 692.6 97.4 693.1 96.9 692 96.4 691.6 95.9 691.1 95.4 692.5 94.9 692 94.4 693.1 93.9 692.2Z" fill="#ff0000"/>
<path d="M98.9 684.1 99.4 683.7 99.9 684.3 100.4 683 100.9 683.9 101.4 683.7 101.9 683.8 102.4 683.9 102.9 683.6 103.4 684.1 103.9 684.1 104.4 684.1 104.9 683.8 105.4 683.9 105.9 684 106.4 683.3 106.9 683.8 107.4 683.7 107.9 683.1 108.4 683.2 108.9 683.2 109.4 682.8 109.9 683.4 110.4 682.9 110.9 683.3 111.4 682.6 111.9 682.7 112.4 682.5 112.9 682.5 113.4 682.6 113.9 682.2 114.4 681.6 114.9 681.3 115.4 680.6 115.9 680.9 116.4 679.9 116.9 680.1 117.4 679.4 117.9 678.5 118.4 677.8 118.9 677.2 119.4 675.7 119.9 674.1 120.4 672.3 120.9 670.9 121.4 668.7 121.9 667.8 122.4 666.4 122.9 666.2 123.4 665.3 123.9 667 124.4 668.8 124.9 670.5 125.4 672.1 125.9 673.5 126.4 674.9 126.9 676.3 127.4 677.7 127.9 678.4 128.4 679.4 128.9 679.6 129.4 680.1 129.9 680.6 130.4 680.8 130.9 681.5 131.4 682.1 131.9 682.3 132.4 681.9 132.9 682.4 133.4 682.8 133.9 682.7 134.4 683.1 134.9 682.9 135.4 682.9 135.9 683.2 136.4 683.3 136.9 683.4 137.4 683.7 137.9 683.1 138.4 683.6 138.9 683.9 139.4 683.8 139.9 683.4 140.4 683.7 140.9 683.7 141.4 683.7 141.9 684 142.4 683.4 142.9 684 143.4 682.9 143.9 683.8 144.4 683.6 144.9 684.3 145.4 684.2 145.9 683.7 146.4 683.8 146.9 684.4 147.4 684.1 147.4 685.2 146.9 685.5 146.4 684.9 145.9 684.8 145.4 685.3 144.9 685.4 144.4 684.8 143.9 685 143.4 684.1 142.9 685.2 142.4 684.7 141.9 685.3 141.4 685 140.9 685.1 140.4 685.1 139.9 684.8 139.4 685.3 138.9 685.4 138.4 685.2 137.9 684.8 137.4 685.3 136.9 685.1 136.4 685.2 135.9 685.1 135.4 684.9 134.9 685 134.4 685.3 133.9 685 133.4 685.2 132.9 685 132.4 684.8 131.9 685.4 131.4 685.5 130.9 685.1 130.4 684.8 129.9 684.9 129.4 684.8 128.9 684.9 128.4 685.4 127.9 685.1 127.4 685.3 126.9 685.1 126.4 684.8 125.9 684.9 125.4 685.2 124.9 685.3 124.4 685.3 123.9 684.9 123.4 684.2 122.9 685.4 122.4 685.1 121.9 685.2 121.4 684.6 120.9 685 120.4 684.7 119.9 684.9 119.4 685.2 118.9 685.5 118.4 685.1 117.9 684.9 117.4 685.1 116.9 685.3 116.4 684.6 115.9 685.1 115.4 684.4 114.9 684.8 114.4 684.8 113.9 685.2 113.4 685.4 112.9 685.1 112.4 684.9 111.9 685 111.4 684.8 110.9 685.4 110.4 684.9 109.9 685.3 109.4 684.6 108.9 685 108.4 684.8 107.9 684.7 107.4 685.2 106.9 685.3 106.4 684.7 105.9 685.4 105.4 685.2 104.9 685.1 104.4 685.4 103.9 685.3 103.4 685.4 102.9 684.8 102.4 685.1 101.9 684.9 101.4 684.8 100.9 685.1 100.4 684.1 99.9 685.3 99.4 684.8 98.9 685.1Z" fill="#ff0000" fill-opacity="0.45"/>
<path d="M98.9 684.1 99.4 683.8 99.9 684.3 100.4 683.1 100.9 684.1 101.4 683.8 101.9 683.9 102.4 684.1 102.9 683.8 103.4 684.4 103.9 684.3 104.4 684.4 104.9 684.1 105.4 684.2 105.9 684.4 106.4 683.7 106.9 684.3 107.4 684.2 107.9 683.7 108.4 683.8 108.9 684 109.4 683.6 109.9 684.3 110.4 683.9 110.9 684.4 111.4 683.8 111.9 684 112.4 683.9 112.9 684.1 113.4 684.4 113.9 684.2 114.4 683.8 114.9 683.7 115.4 683.4 115.9 684.1 116.4 683.5 116.9 684.1 117.4 683.9 117.9 683.6 118.4 683.6 118.9 683.7 119.4 682.8 119.9 681.6 120.4 680 120.9 678 121.4 674.3 121.9 671.1 122.4 667.4 122.9 665.9 123.4 665.6 123.9 669.3 124.4 673.6 124.9 677.1 125.4 679.7 125.9 681.2 126.4 682.2 126.9 683.1 127.4 683.7 127.9 683.8 128.4 684.2 128.9 683.7 129.4 683.7 129.9 683.9 130.4 683.7 130.9 684.1 131.4 684.4 131.9 684.4 132.4 683.8 132.9 684 133.4 684.2 133.9 684 134.4 684.3 134.9 684 135.4 683.9 135.9 684.1 136.4 684.2 136.9 684.1 137.4 684.3 137.9 683.8 138.4 684.2 138.9 684.4 139.4 684.3 139.9 683.8 140.4 684.1 140.9 684.1 141.4 684 141.9 684.3 142.4 683.7 142.9 684.2 143.4 683.1 143.9 684 144.4 683.8 144.9 684.4 145.4 684.3 145.9 683.8 146.4 683.9 146.9 684.5 147.4 684.2 147.4 685.2 146.9 685.5 146.4 684.9 145.9 684.8 145.4 685.3 144.9 685.4 144.4 684.8 143.9 685 143.4 684.1 142.9 685.2 142.4 684.7 141.9 685.3 141.4 685 140.9 685.1 140.4 685.1 139.9 684.8 139.4 685.3 138.9 685.4 138.4 685.2 137.9 684.8 137.4 685.3 136.9 685.1 136.4 685.2 135.9 685.1 135.4 684.9 134.9 685 134.4 685.3 133.9 685 133.4 685.2 132.9 685 132.4 684.8 131.9 685.4 131.4 685.5 130.9 685.1 130.4 684.8 129.9 684.9 129.4 684.8 128.9 684.9 128.4 685.4 127.9 685.1 127.4 685.3 126.9 685.1 126.4 684.8 125.9 684.9 125.4 685.2 124.9 685.3 124.4 685.3 123.9 684.9 123.4 684.2 122.9 685.4 122.4 685.1 121.9 685.2 121.4 684.6 120.9 685 120.4 684.7 119.9 684.9 119.4 685.2 118.9 685.5 118.4 685.1 117.9 684.9 117.4 685.1 116.9 685.3 116.4 684.6 115.9 685.1 115.4 684.4 114.9 684.8 114.4 684.8 113.9 685.2 113.4 685.4 112.9 685.1 112.4 684.9 111.9 685 111.4 684.8 110.9 685.4 110.4 684.9 109.9 685.3 109.4 684.6 108.9 685 108.4 684.8 107.9 684.7 107.4 685.2 106.9 685.3 106.4 684.7 105.9 685.4 105.4 685.2 104.9 685.1 104.4 685.4 103.9 685.3 103.4 685.4 102.9 684.8 102.4 685.1 101.9 684.9 101.4 684.8 100.9 685.1 100.4 684.1 99.9 685.3 99.4 684.8 98.9 685.1Z" fill="#ff0000"/>
<path d="M111.4 684.3V682.1M111.9 684.5V682.3M115.4 683.9V680M116.4 684.1V679.5M116.9 684.8V680.4M117.4 684.6V679.1M117.9 684.4V678.4M118.4 684.6V679.9M118.9 685V679.6M123.4 683.7V670M125.4 684.7V675.6M125.9 684.4V673.9M126.4 684.3V674.2M128.4 684.9V680.5M131.4 685V682.2M134.4 684.8V682.6M136.9 684.6V682.9" stroke="#ff0000" stroke-width="0.55" fill="none"/>
<path d="M94.5 692.1V693.8M94.7 691V695.7M95.9 690.1V692.7M96.3 690.6V697.5M97 691V700M97.5 692.1V694.5M97.9 691.6V692.9M98.2 690.4V700M98.8 690.5V699.1M99.6 691.6V695.4M100 691V693.3M100.3 691.3V697.8M101 690.4V697.5M101.3 691.4V695.1M102.1 691V700.9M102.5 691.8V694.4M102.8 692V699.1M103.4 692.2V698.9M104 691.6V698.2M104.5 692.1V695.2M104.9 690.3V695.1M105.4 691.7V698.4M107.1 691.2V697.1M107.4 691.1V701.2M108 691.8V698.7M109 690.7V693.5M109.6 690.7V692.7M109.7 692V692.6M110.6 690.8V699.4M110.8 690.5V693.9M111.4 691.6V694.1M112.3 691.6V693.2M113 691.4V700M113.5 690.7V696.8M113.7 692.1V700M114.5 692.2V695.4M115 692.1V700.6M115.4 690.7V693M116.1 690.8V695.5M116.4 690.3V693.2M117.1 690.2V694.9M117.5 691.8V692.6M118.1 691.6V697.3M118.5 692.1V696.5M118.8 690.2V693.2M119.4 690.7V699M120.1 691.9V695.1M120.5 691.7V699.9M120.9 692.2V694.1M121.2 691V700.3M121.8 690.3V701.3M122.6 691.2V694.1M122.9 691.9V696.4M123.3 690.8V695.1M124.4 692.1V696.4M124.8 690.7V699.5M125.4 691.8V692.8M126 691.7V696.7M127.9 690.4V698.2M128.5 690.2V694.6M128.9 691.8V695.7M129.4 692.1V697.2M130 690.1V695.9M131.1 692.2V695.5M131.3 692.3V699M131.7 691.4V692.9M132.7 691V700.2M133.9 690.4V699.2M134.4 690.8V696.5M135.5 691.8V697.3M136 690.1V696.4M137.1 690.9V696.2M137.5 690.1V694.3M137.7 692.1V695M138.6 691.7V694M138.8 691.1V700.4M139.4 691.2V698.8M140.1 690.2V696.3M140.4 691.4V699.8M140.7 691.8V694.4M142 691.7V698.9M142.4 691.3V698.5M142.9 690.1V699.2M143.5 691.8V695.7M144.1 691.1V695.7M144.3 691.1V692.3M144.9 690.4V697.5M145.8 692.2V693.4M146.4 691.5V694.5M146.8 691.1V698.8M147.4 691.9V698.4M148.1 690.4V699.2M148.6 690.3V701.1M149 691.3V693.5M149.3 691.9V700.9M150.1 690.7V698.2M150.2 691.7V696M151 690.5V697.8M151.4 690.3V698.7M152 691.2V697.2M152.4 692.3V695.6M153.5 691.3V694.3M153.9 691.1V692.3M154.6 691V700.3M155 691.2V693.2M155.5 690.4V695.1M156 691.3V700.6M156.4 691V700.3M156.8 690.2V692.8M157.6 692.2V699.3M157.8 690.9V696.6M159.4 691.9V696.9M159.9 690.7V698.6M160.5 690.9V697.7M160.8 690.9V696.2M161.4 690.3V695.1M162.1 691.5V700.2M162.3 691.6V693.2M162.7 690.7V694.7M163.3 690.8V701.1M163.8 690.5V698.3M164.5 692.1V695.1M165 691.7V694.8M165.8 691.1V693.2M166.4 691.5V696.5M166.9 690.2V698.6M167.3 691.5V698.6M168 692.3V698M168.6 690.2V698.5M168.8 691.1V697.3M169.4 690.5V696.3M170 692.3V697.3M170.4 691.6V699.8M171.4 690.5V698.2M171.8 690.2V696.4M172.5 690.8V695.7M173 691.5V692.6M173.3 691.6V699.1M173.9 690.8V693.8M174.3 690.2V698.5M174.8 691.4V699.8M175.6 692V700.9M176.6 691V697.6M176.8 692.2V701M177.3 690.7V700.4M178 692.2V698.1M178.8 691.2V697.2M179.6 691.6V695.8M180.6 690.4V699.5M182 690.9V697.2M183.1 692.2V699.7M183.7 690.7V695.2M183.9 691.4V693.9M184.4 690.4V696.8M185.1 690.6V700M185.3 691.1V694.2M185.8 690.3V699.8M186.5 690.7V700.2M186.9 690.9V696.8M187.5 691.5V699.5M187.8 692V693.7M188.4 691.9V699.7M188.8 690.9V699.2M189.5 692.2V698.3M189.9 690.4V692.9M190.5 691.6V692.7M190.9 691V698.7M191.6 691.5V700.8M191.8 691.5V700.4M192.4 691.4V700.7M192.9 690.7V698.6M193.5 691.4V696.3M194 691.2V696.9M194.4 691V699.2M195 690.9V698.8M195.6 691.5V700.1M195.8 692.1V693.1M196.5 690.4V698.8M197.4 690.7V699M198 692.1V697.1M198.5 691.9V698.1M199.3 691.4V693.7M200.5 691.8V697.8M200.9 691.9V694.3M201.5 690.3V700.9M201.9 690.2V697.6M202.6 691.7V696.4M202.9 691.6V696.9M203.5 691.8V698.5M204 692.1V698.8M204.5 691.9V694.4M205.1 690.7V695.8M205.4 692.3V694M206 692.1V699.3M206.4 691V695.2M207.2 691.1V699.8M207.3 691.7V697.7M207.9 690.3V700.7M208.7 691.9V696.9M209 691.8V694.4M209.6 691.9V697.7M209.9 691.4V695.1M211.1 690.7V695M211.6 690.5V698.2M212.5 691.8V694.1M212.8 690.5V695.6M213.4 691.5V697.9M213.9 692.1V695.5M214.6 692.3V699.4M215 690.3V699.6M215.6 690.9V693.1M216 690.5V699.9M216.5 690.7V701M217 690.2V698.3M217.5 692.3V701.3M217.8 691.8V697M218.9 690.5V700.5M219.5 690.4V692.9M219.9 692.2V697.5M220.5 690.2V695.4M221 692.2V697.2M221.6 690.6V700.7M222 690.9V692.4M222.4 690.9V694.3M222.9 692.2V700.9M223.3 690.3V695.7M224.2 690.2V696.8M224.3 690.6V693.8M224.8 690.2V694.6M225.6 690.5V698.5M226.7 691.1V700.4M226.9 691V699.4M227.5 690.2V696.4M227.9 692.1V699.7M228.4 691.3V698M228.9 690.1V693.1M229.4 690.2V693.9M229.9 691.2V694.9M230.5 691.3V700.6M231.1 692.1V700.5M231.5 690.7V698.4M232.1 690.7V699M232.4 690.2V696.3M233.6 691.9V698.1M234.7 690.8V695.1M235 690.2V699.2M235.5 692.1V697.7M236.6 691.9V697.4M237 691V695.2M237.5 692V695.7M238.1 690.7V693.7M238.3 690.8V695.6M239.1 690.8V696.5M239.3 692.3V698.1M240 690.1V695.1M240.6 690.2V699.5M241.5 690.3V700.9M242.5 691.2V697.6M243 690.4V699.5M243.4 691.2V698.1M243.9 691V694.2M244.7 690.1V699.9" stroke="#ff0000" stroke-width="0.7" fill="none"/>
<path d="M93.9 712 94.4 712.1 94.9 712.1 95.4 711.5 95.9 712.1 96.4 711.6 96.9 711.7 97.4 712 97.9 712 98.4 712 98.9 711.7 99.4 711.9 99.9 711.8 100.4 710.9 100.9 711.5 101.4 711.8 101.9 711.6 102.4 711.9 102.9 711.9 103.4 711.6 103.9 712.1 104.4 711.6 104.9 711.7 105.4 711.7 105.9 712 106.4 712.2 106.9 711.6 107.4 711 107.9 712 108.4 711.8 108.9 711.7 109.4 712.2 109.9 711.6 110.4 711.2 110.9 712.2 111.4 711.9 111.9 712 112.4 711.9 112.9 711.5 113.4 711.4 113.9 711.5 114.4 711.9 114.9 712 115.4 711.9 115.9 712.1 116.4 712.1 116.9 712.2 117.4 712.1 117.9 711.6 118.4 711.9 118.9 711.2 119.4 711.7 119.9 711.9 120.4 711.9 120.9 712 121.4 711.8 121.9 711.6 122.4 711.8 122.9 711.8 123.4 712.2 123.9 711.5 124.4 711.8 124.9 712.1 125.4 711.9 125.9 711.7 126.4 711.7 126.9 711.6 127.4 711.8 127.9 712 128.4 711.6 128.9 711.8 129.4 712.2 129.9 711.6 130.4 711.9 130.9 711.9 131.4 711.9 131.9 712.3 132.4 711.8 132.9 711.8 133.4 711.5 133.9 712.3 134.4 711.9 134.9 711.8 135.4 712.2 135.9 712.2 136.4 711.6 136.9 712.2 137.4 711.6 137.9 711.9 138.4 711.6 138.9 712.1 139.4 711 139.9 711.9 140.4 712.2 140.9 712 141.4 711.7 141.9 712.2 142.4 711.8 142.9 712 143.4 711.4 143.9 712 144.4 712.1 144.9 711.7 145.4 712.1 145.9 711.9 146.4 711.8 146.9 711.8 147.4 711.6 147.9 711.6 148.4 711 148.9 712 149.4 711.9 149.9 711.8 150.4 712.1 150.9 712.1 151.4 711.6 151.9 712.1 152.4 711.1 152.9 711.7 153.4 712.2 153.9 712.3 154.4 711.6 154.9 711.5 155.4 712.2 155.9 711.6 156.4 712.2 156.9 711.5 157.4 712.3 157.9 711.6 158.4 712.1 158.9 712.2 159.4 711.5 159.9 712.2 160.4 711.5 160.9 712.1 161.4 712.3 161.9 711.7 162.4 711.6 162.9 712.2 163.4 711.8 163.9 712 164.4 710.8 164.9 711.7 165.4 711.6 165.9 711.7 166.4 712.1 166.9 712.2 167.4 711.8 167.9 712.3 168.4 711.6 168.9 712.2 169.5 711.9 170 711.9 170.5 711.1 171 712 171.5 711.3 172 711.8 172.5 711.6 173 711.6 173.5 712.1 174 711.7 174.5 711.4 175 712.2 175.5 710.8 176 712.3 176.5 711.9 177 712.1 177.5 711.9 178 712 178.5 711.9 179 711.7 179.5 711.8 180 711.1 180.5 711.8 181 711.6 181.5 711.5 182 712.1 182.5 711.9 183 711.8 183.5 711.9 184 711.9 184.5 712.3 185 712.1 185.5 711.6 186 711.9 186.5 711.1 187 712.1 187.5 711.8 188 711.6 188.5 712.2 189 711.8 189.5 712 190 711.4 190.5 711.3 191 711.9 191.5 712.1 192 711.8 192.5 712 193 711.6 193.5 712.2 194 711.7 194.5 711.8 195 711.9 195.5 711.8 196 711.2 196.5 712 197 712 197.5 711.9 198 712.1 198.5 712 199 711.5 199.5 712.2 200 711.9 200.5 711.8 201 711.9 201.5 711.8 202 712.1 202.5 711.6 203 711.6 203.5 711.7 204 712 204.5 711.8 205 712.1 205.5 711.8 206 711.6 206.5 711.5 207 711.9 207.5 711 208 711.9 208.5 712.3 209 712 209.5 711.8 210 711.1 210.5 711.9 211 712 211.5 711.8 212 712.1 212.5 711.6 213 711.5 213.5 712.2 214 711.6 214.5 711.6 215 712.1 215.5 711.6 216 712.2 216.5 712.3 217 711.6 217.5 712.2 218 711.9 218.5 712.2 219 712.1 219.5 711.7 220 712.2 220.5 712.2 221 711.9 221.5 712 222 711.8 222.5 711.9 223 710.7 223.5 711.6 224 711.6 224.5 711.8 225 712 225.5 712.2 226 712.1 226.5 711.7 227 712.3 227.5 712.2 228 711.8 228.5 711 229 711.8 229.5 710.7 230 711.8 230.5 711.9 231 712.2 231.5 711.7 232 711.8 232.5 711.6 233 711.3 233.5 711.8 234 711.9 234.5 711.7 235 711.9 235.5 711.4 236 711.7 236.5 712.2 237 711.8 237.5 711.5 238 711.9 238.5 711.8 239 712 239.5 711.7 240 712.2 240.5 711.9 241 712 241.5 712.2 242 711.5 242.5 711.9 243 712.2 243.5 711.8 244 711.5 244.5 711.7 244.5 720.5 244 720.2 243.5 721.3 243 720.2 242.5 720.1 242 721.5 241.5 720 241 721.7 240.5 719.6 240 721.7 239.5 720.5 239 719.6 238.5 721.3 238 720.2 237.5 721.1 237 719.7 236.5 720.6 236 720.4 235.5 721 235 721.1 234.5 720.9 234 721.8 233.5 721.3 233 721.8 232.5 720.1 232 719.8 231.5 720.6 231 720.5 230.5 720.9 230 721.2 229.5 721.3 229 721.3 228.5 721.6 228 721 227.5 720.7 227 721.7 226.5 719.8 226 721 225.5 720.8 225 719.8 224.5 721.2 224 720.7 223.5 720.1 223 721.3 222.5 721.6 222 720.8 221.5 721.4 221 721.3 220.5 721.6 220 721.1 219.5 719.9 219 721.3 218.5 720.5 218 720.2 217.5 721.1 217 719.9 216.5 721.5 216 721.5 215.5 721.6 215 721.6 214.5 720.9 214 721.1 213.5 719.7 213 720.8 212.5 720.2 212 719.9 211.5 721.7 211 721.6 210.5 719.7 210 721 209.5 721.5 209 719.9 208.5 720.4 208 719.9 207.5 721.5 207 721.1 206.5 720.3 206 719.8 205.5 720.7 205 720.9 204.5 720.4 204 721.2 203.5 720.4 203 720.2 202.5 720.1 202 721.5 201.5 721.7 201 719.9 200.5 719.8 200 721 199.5 720.7 199 720.4 198.5 721.2 198 719.7 197.5 720.9 197 721.1 196.5 721.7 196 720.9 195.5 721.2 195 720.6 194.5 720.5 194 719.9 193.5 720.4 193 720.9 192.5 720.1 192 721.5 191.5 720.7 191 719.8 190.5 721.7 190 720 189.5 721.5 189 719.9 188.5 721.1 188 721.4 187.5 720.6 187 720.7 186.5 720.5 186 720.3 185.5 721.3 185 720.3 184.5 720.4 184 719.9 183.5 720.3 183 719.9 182.5 721.3 182 720.2 181.5 720.9 181 721.2 180.5 721.1 180 721.3 179.5 720.7 179 720 178.5 721.8 178 720.4 177.5 721.6 177 721.5 176.5 720.8 176 719.7 175.5 720.9 175 721.4 174.5 720.3 174 721.3 173.5 720.4 173 721 172.5 721.2 172 720.2 171.5 721.7 171 721.2 170.5 720.8 170 721.7 169.5 719.6 168.9 720.3 168.4 721.6 167.9 721.5 167.4 720.6 166.9 721.6 166.4 721.2 165.9 720.1 165.4 720.6 164.9 720 164.4 720.5 163.9 720.2 163.4 719.6 162.9 721.2 162.4 721.7 161.9 721.8 161.4 721 160.9 720.9 160.4 720 159.9 719.9 159.4 720.7 158.9 721.4 158.4 720.3 157.9 721.1 157.4 720.3 156.9 719.9 156.4 721.3 155.9 720.3 155.4 720.5 154.9 721 154.4 721.6 153.9 720.8 153.4 720.5 152.9 721.8 152.4 720.9 151.9 719.6 151.4 721.7 150.9 721.3 150.4 720.7 149.9 721.6 149.4 720.1 148.9 721.6 148.4 720.7 147.9 720.6 147.4 721.7 146.9 720.2 146.4 720.9 145.9 721.7 145.4 720.9 144.9 720.5 144.4 721.7 143.9 720 143.4 719.9 142.9 719.7 142.4 720.8 141.9 721.4 141.4 719.8 140.9 720.5 140.4 721.5 139.9 721.1 139.4 721.7 138.9 721.2 138.4 719.7 137.9 719.7 137.4 721.3 136.9 720.2 136.4 720.9 135.9 720.9 135.4 720.1 134.9 719.7 134.4 719.9 133.9 721.6 133.4 720.4 132.9 721.5 132.4 720.4 131.9 720 131.4 721.8 130.9 720.3 130.4 720 129.9 719.7 129.4 721.1 128.9 720.7 128.4 721.7 127.9 720.2 127.4 721.4 126.9 719.7 126.4 719.6 125.9 720.9 125.4 720.4 124.9 719.8 124.4 720.9 123.9 720.4 123.4 721.8 122.9 721 122.4 721.5 121.9 720.3 121.4 720.7 120.9 720.8 120.4 720.9 119.9 721.2 119.4 721 118.9 721.2 118.4 720.1 117.9 720.3 117.4 720.2 116.9 721 116.4 720.5 115.9 719.6 115.4 719.8 114.9 720.6 114.4 721.4 113.9 721.8 113.4 720.9 112.9 720.3 112.4 720.8 111.9 720.1 111.4 721.1 110.9 720.5 110.4 720.5 109.9 721.6 109.4 720.9 108.9 721.7 108.4 721.1 107.9 720.8 107.4 720.1 106.9 720.3 106.4 719.9 105.9 720.1 105.4 721.6 104.9 720.1 104.4 721 103.9 720.5 103.4 720.3 102.9 721.7 102.4 721 101.9 720 101.4 720.4 100.9 720.5 100.4 721.4 99.9 720.1 99.4 720.1 98.9 721.3 98.4 720.6 97.9 719.8 97.4 721.1 96.9 720.7 96.4 720.6 95.9 721.2 95.4 721.8 94.9 721.5 94.4 720.7 93.9 720.6Z" fill="#000000"/>
<path d="M103.9 712.5 104.4 711.9 104.9 711.9 105.4 711.8 105.9 711.9 106.4 711.9 106.9 711.2 107.4 710.4 107.9 711.2 108.4 710.8 108.9 710.4 109.4 710.7 109.9 709.8 110.4 709.1 110.9 709.7 111.4 709.1 111.9 708.9 112.4 708.5 112.9 707.8 113.4 707.3 113.9 707.2 114.4 707.3 114.9 707.1 115.4 706.8 115.9 706.8 116.4 706.6 116.9 706.6 117.4 706.5 117.9 705.9 118.4 706.2 118.9 705.5 119.4 706.2 119.9 706.5 120.4 706.7 120.9 707 121.4 707.1 121.9 707.1 122.4 707.6 122.9 708 123.4 708.6 123.9 708.3 124.4 708.9 124.9 709.5 125.4 709.6 125.9 709.8 126.4 710.1 126.9 710.2 127.4 710.7 127.9 711.2 128.4 711 128.9 711.4 129.4 712 129.9 711.5 130.4 711.9 130.9 712 131.4 712.1 131.9 712.6 132.4 712.2 132.4 713.3 131.9 713.8 131.4 713.4 130.9 713.4 130.4 713.4 129.9 713.1 129.4 713.7 128.9 713.3 128.4 713.1 127.9 713.5 127.4 713.3 126.9 713.1 126.4 713.2 125.9 713.2 125.4 713.4 124.9 713.6 124.4 713.3 123.9 713 123.4 713.7 122.9 713.3 122.4 713.3 121.9 713.1 121.4 713.3 120.9 713.5 120.4 713.4 119.9 713.4 119.4 713.2 118.9 712.7 118.4 713.4 117.9 713.1 117.4 713.6 116.9 713.7 116.4 713.6 115.9 713.6 115.4 713.4 114.9 713.5 114.4 713.4 113.9 713 113.4 712.9 112.9 713 112.4 713.4 111.9 713.5 111.4 713.4 110.9 713.7 110.4 712.7 109.9 713.1 109.4 713.7 108.9 713.2 108.4 713.3 107.9 713.5 107.4 712.5 106.9 713.1 106.4 713.7 105.9 713.5 105.4 713.2 104.9 713.2 104.4 713.1 103.9 713.6Z" fill="#000000" fill-opacity="0.6"/>
<path d="M103.9 712.6 104.4 712.1 104.9 712.2 105.4 712.2 105.9 712.5 106.4 712.6 106.9 712.1 107.4 711.3 107.9 712.3 108.4 712 108.9 711.8 109.4 712.2 109.9 711.4 110.4 710.8 110.9 711.5 111.4 711 111.9 710.7 112.4 710.2 112.9 709.4 113.4 708.7 113.9 708.4 114.4 708.2 114.9 707.8 115.4 707.2 115.9 707 116.4 706.7 116.9 706.5 117.4 706.2 117.9 705.6 118.4 705.9 118.9 705.3 119.4 706.2 119.9 706.6 120.4 707 120.9 707.6 121.4 708 121.9 708.3 122.4 709 122.9 709.5 123.4 710.3 123.9 710.1 124.4 710.7 124.9 711.4 125.4 711.4 125.9 711.5 126.4 711.7 126.9 711.7 127.4 712 127.9 712.3 128.4 712 128.9 712.2 129.4 712.7 129.9 712 130.4 712.4 130.9 712.4 131.4 712.4 131.9 712.8 132.4 712.3 132.4 713.3 131.9 713.8 131.4 713.4 130.9 713.4 130.4 713.4 129.9 713.1 129.4 713.7 128.9 713.3 128.4 713.1 127.9 713.5 127.4 713.3 126.9 713.1 126.4 713.2 125.9 713.2 125.4 713.4 124.9 713.6 124.4 713.3 123.9 713 123.4 713.7 122.9 713.3 122.4 713.3 121.9 713.1 121.4 713.3 120.9 713.5 120.4 713.4 119.9 713.4 119.4 713.2 118.9 712.7 118.4 713.4 117.9 713.1 117.4 713.6 116.9 713.7 116.4 713.6 115.9 713.6 115.4 713.4 114.9 713.5 114.4 713.4 113.9 713 113.4 712.9 112.9 713 112.4 713.4 111.9 713.5 111.4 713.4 110.9 713.7 110.4 712.7 109.9 713.1 109.4 713.7 108.9 713.2 108.4 713.3 107.9 713.5 107.4 712.5 106.9 713.1 106.4 713.7 105.9 713.5 105.4 713.2 104.9 713.2 104.4 713.1 103.9 713.6Z" fill="#000000"/>
<path d="M106.9 712.6V710.5M107.9 713V711M108.9 712.7V710M109.9 712.6V709.8M112.9 712.5V707.8M113.4 712.4V707.7M113.9 712.5V707.9M114.4 712.9V707.5M115.9 713.1V708.6M116.9 713.2V707.9M118.4 712.9V707.4M119.4 712.7V707.3M119.9 712.9V708.3M122.4 712.8V707.5M122.9 712.8V708.4M123.4 713.2V709M125.4 712.9V709.1M125.9 712.7V709.5M126.4 712.7V709.9M127.9 713V710.4" stroke="#000000" stroke-width="0.55" fill="none"/>
<path d="M94 719.6V726.6M94.9 720.5V728.3M95.5 720.8V722.4M96.6 719.6V729.7M96.7 719.7V727.4M97.5 720.1V727.9M98.5 719.6V724.5M98.9 720.3V727.9M99.5 719.1V725.8M99.8 719.1V729.2M100.3 720.4V724.3M101 719.5V728.3M102 719V727.2M102.2 720V726M103.1 720.7V725.3M103.4 719.3V722.7M103.9 719.5V727.7M104.4 720V727M104.9 719.1V726.8M105.2 720.6V727.4M105.9 719.1V728.7M106.2 718.9V728.5M107 719.3V726.5M107.3 719.1V727.8M107.8 719.8V726.8M109.1 720.7V728M109.6 719.9V728.5M110.1 720.6V724.3M110.5 719.5V723.9M111.9 719.1V724.7M112.5 719.8V729.8M113 719.3V727.3M113.3 719.9V728.7M113.8 720.8V728.4M114.6 720.4V727M115 719.6V722.4M115.2 718.8V724.7M115.8 718.6V721.4M116.5 719.5V721.4M116.8 720V729M118.1 719.3V723.2M118.4 719.1V724.3M118.8 720.2V725.2M119.8 720.2V724.7M120.5 719.9V727.8M121.1 719.8V729.6M122.1 719.3V721.4M122.9 720V723M123.3 720.8V721.8M124.1 719.4V726.8M124.4 719.9V723.5M124.8 718.8V723.6M125.6 719.4V725.6M126.3 718.6V729.2M126.9 718.7V724.6M127.7 719.2V727.3M128.4 720.7V729.3M128.8 719.7V726.3M129.2 720.1V727.9M129.8 718.7V727.7M130.3 719V726.9M131.1 719.3V725.4M131.3 720.8V723.6M131.9 719V725M132.6 719.4V722.2M133 720.5V722.5M133.6 719.4V725.3M134 720.6V726.4M134.4 718.9V724.7M135 718.7V727.5M135.4 719.1V729.2M136 719.9V727M136.3 719.9V727M137.3 720.3V722.8M138.1 718.7V725.8M138.5 718.7V728.5M139.1 720.2V728.4M139.4 720.7V725.4M139.8 720.1V726.9M140.6 720.5V725M140.8 719.5V722.7M141.2 718.8V724.1M142 720.4V729.6M142.9 718.7V725.9M143.5 718.9V727.3M144.1 719V721.1M144.3 720.7V728.8M144.9 719.5V723.9M145.4 719.9V724.6M146.1 720.7V728.9M146.4 719.9V725.8M147.1 719.2V721.8M148 719.6V724.8M148.5 719.7V725.9M148.8 720.6V725.7M149.4 719.1V726.9M150.5 719.7V724.3M150.9 720.3V728.1M151.5 720.7V729.8M152.1 718.6V727.3M152.3 719.9V727.7M153.1 720.8V729.3M154 719.8V729.5M154.5 720.6V728.3M155.1 720V724.5M155.8 719.3V726.1M156.8 718.9V729.1M157.4 719.3V728.7M157.9 720.1V722.3M158.3 719.3V723.2M158.9 720.4V721.5M159.6 719.7V727.3M161.1 719.9V726.5M161.8 720.8V725.6M162.3 720.7V729.2M163.1 720.2V723.6M163.3 718.6V726.5M163.9 719.2V729.2M165.1 719V726.1M165.6 719.6V727.1M166 719.1V726.3M166.4 720.2V727.6M166.9 720.6V728.1M167.5 719.6V726.1M168.6 720.6V728.3M169.6 718.6V728.8M170 720.7V723.3M170.9 720.2V722.2M171.6 720.7V725.8M171.9 719.2V721.9M172.6 720.2V726.6M173.6 719.4V725.5M173.9 720.3V723.6M175 720.4V726.5M175.3 719.9V726.9M176 718.7V725.4M176.5 719.8V728.9M176.9 720.5V726.2M177.5 720.6V726.1M177.9 719.4V724.3M178.6 720.8V726.4M178.9 719V728.6M179.4 719.7V729M180.1 720.3V728.8M180.3 720.1V727.3M181.1 720.2V723.7M181.6 719.9V726.6M182.5 720.3V723.3M183.2 718.9V727.3M183.4 719.3V724.4M184.3 719.4V729.1M184.9 719.3V722.5M185.3 720.3V723.3M185.9 719.3V723.2M186.4 719.5V727.5M186.9 719.7V728.2M187.8 720.4V725.5M189.2 718.9V725.1M189.6 720.5V728.8M190 719V729.3M190.5 720.7V727.8M190.9 718.8V722M191.9 720.5V725.8M192.6 719.1V728.7M193.4 719.4V724.5M193.9 718.9V722.6M194.3 719.5V724M194.8 719.6V724.5M195.5 720.2V728.2M195.9 719.9V724.4M198.5 720.2V722.3M199.1 719.4V727.6M199.5 719.7V725.7M200.1 720V724.3M200.5 718.8V727.4M201.1 718.9V724.8M201.3 720.7V724.3M202 720.5V727.1M203.1 719.2V728.6M203.4 719.4V722.2M203.9 720.2V729M205.2 719.9V723.4M205.6 719.7V721.3M205.9 718.8V726.5M208 718.9V726.3M209.2 718.9V728.3M209.5 720.5V727M210.1 720V721M210.6 718.7V725.2M210.9 720.6V721.3M211.6 720.7V725.1M212 718.9V725.6M212.5 719.2V722.2M213 719.8V728.8M213.3 718.7V723.2M213.9 720.1V728.3M215 720.6V728.2M215.3 720.6V722.5M216 720.5V729.8M216.6 720.5V728.9M216.9 718.9V724.3M217.7 720.1V720.9M217.9 719.2V724.5M219.5 718.9V729.4M219.9 720.1V725.9M220.6 720.6V727.5M220.9 720.3V725.8M221.3 720.4V721.2M222.1 719.8V723.9M222.5 720.6V723.2M223.1 720.3V721.2M223.5 719.1V728.1M223.8 719.7V725.9M224.5 720.2V729.1M225.2 718.8V724.9M225.3 719.8V725.7M226.1 720V726.9M226.6 718.8V722.1M227 720.7V724.3M227.7 719.7V729.1M227.8 720V728.7M228.4 720.6V724M229.4 720.3V724.6M230.4 719.9V727.1M230.9 719.5V721.9M231.9 718.8V729.7M233.5 720.3V724.4M233.8 720.8V727.1M234.3 719.9V723.3M234.9 720.1V724.4M235.6 720V725.8M235.9 719.4V722.9M236.7 719.6V722.3M237.1 718.7V727.4M237.4 720.1V727.7M238 719.2V724.3M238.3 720.3V721.6M239 718.6V727M239.4 719.5V724.4M240.1 720.7V726.8M241 720.7V722.3M241.7 719V727.6M242 720.5V723.8M242.4 719.1V722.6M243.1 719.2V726.8M243.4 720.3V721.2" stroke="#000000" stroke-width="0.7" fill="none"/>
<line x1="83.80" y1="623.00" x2="87.30" y2="623.00" stroke="#1a1a1a" stroke-width="0.9"/>
<line x1="83.80" y1="643.80" x2="87.30" y2="643.80" stroke="#1a1a1a" stroke-width="0.9"/>
<line x1="83.80" y1="664.60" x2="87.30" y2="664.60" stroke="#1a1a1a" stroke-width="0.9"/>
<line x1="83.80" y1="685.40" x2="87.30" y2="685.40" stroke="#1a1a1a" stroke-width="0.9"/>
<line x1="83.80" y1="706.20" x2="87.30" y2="706.20" stroke="#1a1a1a" stroke-width="0.9"/>
<line x1="83.80" y1="727.00" x2="87.30" y2="727.00" stroke="#1a1a1a" stroke-width="0.9"/>
<line x1="93.90" y1="732.90" x2="93.90" y2="729.90" stroke="#1a1a1a" stroke-width="0.9"/>
<line x1="144.10" y1="732.90" x2="144.10" y2="729.90" stroke="#1a1a1a" stroke-width="0.9"/>
<line x1="194.30" y1="732.90" x2="194.30" y2="729.90" stroke="#1a1a1a" stroke-width="0.9"/>
<line x1="244.50" y1="732.90" x2="244.50" y2="729.90" stroke="#1a1a1a" stroke-width="0.9"/>
<rect x="83.80" y="603.30" width="171.60" height="129.60" fill="none" stroke="#1a1a1a" stroke-width="1.0"/>
<text x="93.90" y="744.00" font-size="9.5" fill="#151515" stroke="#151515" stroke-width="0.2" text-anchor="middle" textLength="24.70" lengthAdjust="spacing">1200</text>
<text x="144.10" y="744.00" font-size="9.5" fill="#151515" stroke="#151515" stroke-width="0.2" text-anchor="middle" textLength="24.70" lengthAdjust="spacing">1250</text>
<text x="194.30" y="744.00" font-size="9.5" fill="#151515" stroke="#151515" stroke-width="0.2" text-anchor="middle" textLength="24.70" lengthAdjust="spacing">1300</text>
<text x="244.50" y="744.00" font-size="9.5" fill="#151515" stroke="#151515" stroke-width="0.2" text-anchor="middle" textLength="24.70" lengthAdjust="spacing">1350</text>
<text x="109.30" y="756.90" font-size="13" fill="#151515" stroke="#151515" stroke-width="0.2" textLength="121.00" lengthAdjust="spacing">W avelength (nm)</text>
<text x="76.20" y="737.00" font-size="13.5" fill="#151515" stroke="#151515" stroke-width="0.2" textLength="120.00" lengthAdjust="spacing" transform="rotate(-90 76.20 737.00)">Spectral power (dBm)</text>
<path d="M98.50,608.40 H94.70 V627.90 H98.50" fill="none" stroke="#111" stroke-width="2"/>
<text x="104.00" y="623.20" font-size="15" fill="#151515" stroke="#151515" stroke-width="0.2" textLength="49.00" lengthAdjust="spacing">40dBm</text>
<line x1="166.50" y1="607.10" x2="198.10" y2="607.10" stroke="#5050f0" stroke-width="0.75"/>
<text x="202.20" y="612.30" font-size="12" fill="#151515" stroke="#151515" stroke-width="0.2" textLength="43.70" lengthAdjust="spacing">100 mA</text>
<line x1="166.50" y1="622.20" x2="198.10" y2="622.20" stroke="#f05a5a" stroke-width="0.75"/>
<text x="202.20" y="625.70" font-size="12" fill="#151515" stroke="#151515" stroke-width="0.2" textLength="36.50" lengthAdjust="spacing">80 mA</text>
<line x1="166.50" y1="635.60" x2="198.10" y2="635.60" stroke="#505050" stroke-width="0.75"/>
<text x="202.20" y="640.10" font-size="12" fill="#151515" stroke="#151515" stroke-width="0.2" textLength="36.50" lengthAdjust="spacing">60 mA</text>
<line x1="55.40" y1="839.00" x2="62.40" y2="839.00" stroke="#1a1a1a" stroke-width="1.0"/>
<line x1="55.40" y1="804.80" x2="62.40" y2="804.80" stroke="#1a1a1a" stroke-width="1.0"/>
<line x1="55.40" y1="770.60" x2="62.40" y2="770.60" stroke="#1a1a1a" stroke-width="1.0"/>
<line x1="55.40" y1="736.40" x2="62.40" y2="736.40" stroke="#1a1a1a" stroke-width="1.0"/>
<line x1="55.40" y1="702.20" x2="62.40" y2="702.20" stroke="#1a1a1a" stroke-width="1.0"/>
<line x1="55.40" y1="668.00" x2="62.40" y2="668.00" stroke="#1a1a1a" stroke-width="1.0"/>
<line x1="55.40" y1="633.80" x2="62.40" y2="633.80" stroke="#1a1a1a" stroke-width="1.0"/>
<line x1="83.00" y1="856.00" x2="83.00" y2="850.70" stroke="#1a1a1a" stroke-width="1.0"/>
<line x1="137.80" y1="856.00" x2="137.80" y2="850.70" stroke="#1a1a1a" stroke-width="1.0"/>
<line x1="192.60" y1="856.00" x2="192.60" y2="850.70" stroke="#1a1a1a" stroke-width="1.0"/>
<line x1="247.40" y1="856.00" x2="247.40" y2="850.70" stroke="#1a1a1a" stroke-width="1.0"/>
<line x1="302.20" y1="856.00" x2="302.20" y2="850.70" stroke="#1a1a1a" stroke-width="1.0"/>
<line x1="357.00" y1="856.00" x2="357.00" y2="850.70" stroke="#1a1a1a" stroke-width="1.0"/>
<rect x="55.40" y="603.30" width="329.70" height="252.70" fill="none" stroke="#1a1a1a" stroke-width="1.1"/>
<text x="45.80" y="843.50" font-size="15.5" fill="#151515" stroke="#151515" stroke-width="0.2" text-anchor="end">0</text>
<text x="45.80" y="809.30" font-size="15.5" fill="#151515" stroke="#151515" stroke-width="0.2" text-anchor="end">1</text>
<text x="45.80" y="775.10" font-size="15.5" fill="#151515" stroke="#151515" stroke-width="0.2" text-anchor="end">2</text>
<text x="45.80" y="740.90" font-size="15.5" fill="#151515" stroke="#151515" stroke-width="0.2" text-anchor="end">3</text>
<text x="45.80" y="706.70" font-size="15.5" fill="#151515" stroke="#151515" stroke-width="0.2" text-anchor="end">4</text>
<text x="45.80" y="672.50" font-size="15.5" fill="#151515" stroke="#151515" stroke-width="0.2" text-anchor="end">5</text>
<text x="45.80" y="638.30" font-size="15.5" fill="#151515" stroke="#151515" stroke-width="0.2" text-anchor="end">6</text>
<text x="81.80" y="874.20" font-size="15.5" fill="#151515" stroke="#151515" stroke-width="0.2" text-anchor="middle">0</text>
<text x="136.60" y="874.20" font-size="15.5" fill="#151515" stroke="#151515" stroke-width="0.2" text-anchor="middle" textLength="17.90" lengthAdjust="spacing">20</text>
<text x="191.40" y="874.20" font-size="15.5" fill="#151515" stroke="#151515" stroke-width="0.2" text-anchor="middle" textLength="17.90" lengthAdjust="spacing">40</text>
<text x="246.20" y="874.20" font-size="15.5" fill="#151515" stroke="#151515" stroke-width="0.2" text-anchor="middle" textLength="17.90" lengthAdjust="spacing">60</text>
<text x="301.00" y="874.20" font-size="15.5" fill="#151515" stroke="#151515" stroke-width="0.2" text-anchor="middle" textLength="17.90" lengthAdjust="spacing">80</text>
<text x="355.80" y="874.20" font-size="15.5" fill="#151515" stroke="#151515" stroke-width="0.2" text-anchor="middle" textLength="27.20" lengthAdjust="spacing">100</text>
<text x="22.00" y="834.00" font-size="20" fill="#151515" stroke="#151515" stroke-width="0.2" textLength="167.60" lengthAdjust="spacing" transform="rotate(-90 22.00 834.00)">Output power (mW)</text>
<path d="M141.0 836.6L148.3 836.6M154.7 836.5L162.0 836.3M168.4 836.3L175.7 836.3M182.1 836.2L189.4 836.0M195.8 835.8L203.1 835.7M209.5 835.5L216.8 835.3M223.2 834.9L230.5 834.2M242.7 824.6L243.9 820.2M245.6 814.1L246.4 811.6M248.1 805.4L249.5 798.7M250.9 792.5L252.1 787.4M253.6 781.2L260.4 750.8M262.0 744.6L273.9 702.2M275.7 696.0L287.6 654.3M290.4 648.7L300.3 635.3M304.8 630.9L313.3 624.4M319.1 622.5L326.4 622.5M332.7 623.3L340.2 625.2M345.9 627.8L354.4 634.0" fill="none" stroke="#333" stroke-width="0.6"/>
<rect x="80.00" y="835.77" width="6.0" height="4.4" fill="#000"/>
<rect x="81.37" y="835.77" width="6.0" height="4.4" fill="#000"/>
<rect x="82.74" y="835.77" width="6.0" height="4.4" fill="#000"/>
<rect x="84.11" y="835.77" width="6.0" height="4.4" fill="#000"/>
<rect x="85.48" y="835.77" width="6.0" height="4.4" fill="#000"/>
<rect x="86.85" y="835.77" width="6.0" height="4.4" fill="#000"/>
<rect x="88.22" y="835.77" width="6.0" height="4.4" fill="#000"/>
<rect x="89.59" y="835.77" width="6.0" height="4.4" fill="#000"/>
<rect x="90.96" y="835.77" width="6.0" height="4.4" fill="#000"/>
<rect x="92.33" y="835.77" width="6.0" height="4.4" fill="#000"/>
<rect x="93.70" y="835.77" width="6.0" height="4.4" fill="#000"/>
<rect x="100.55" y="835.09" width="6.0" height="4.4" fill="#000"/>
<rect x="107.40" y="835.09" width="6.0" height="4.4" fill="#000"/>
<rect x="114.25" y="834.75" width="6.0" height="4.4" fill="#000"/>
<rect x="121.10" y="834.75" width="6.0" height="4.4" fill="#000"/>
<rect x="127.95" y="834.41" width="6.0" height="4.4" fill="#000"/>
<rect x="134.80" y="834.41" width="6.0" height="4.4" fill="#000"/>
<rect x="148.50" y="834.41" width="6.0" height="4.4" fill="#000"/>
<rect x="162.20" y="834.06" width="6.0" height="4.4" fill="#000"/>
<rect x="175.90" y="834.06" width="6.0" height="4.4" fill="#000"/>
<rect x="189.60" y="833.72" width="6.0" height="4.4" fill="#000"/>
<rect x="203.30" y="833.38" width="6.0" height="4.4" fill="#000"/>
<rect x="217.00" y="833.04" width="6.0" height="4.4" fill="#000"/>
<rect x="230.70" y="831.67" width="6.0" height="4.4" fill="#000"/>
<rect x="233.44" y="830.64" width="6.0" height="4.4" fill="#000"/>
<rect x="236.18" y="829.96" width="6.0" height="4.4" fill="#000"/>
<rect x="238.92" y="825.51" width="6.0" height="4.4" fill="#000"/>
<rect x="241.66" y="814.91" width="6.0" height="4.4" fill="#000"/>
<rect x="244.40" y="806.36" width="6.0" height="4.4" fill="#000"/>
<rect x="247.14" y="793.37" width="6.0" height="4.4" fill="#000"/>
<rect x="249.88" y="782.08" width="6.0" height="4.4" fill="#000"/>
<rect x="258.10" y="745.49" width="6.0" height="4.4" fill="#000"/>
<rect x="271.80" y="696.92" width="6.0" height="4.4" fill="#000"/>
<rect x="285.50" y="649.04" width="6.0" height="4.4" fill="#000"/>
<rect x="299.20" y="630.57" width="6.0" height="4.4" fill="#000"/>
<rect x="312.90" y="620.31" width="6.0" height="4.4" fill="#000"/>
<rect x="326.60" y="620.31" width="6.0" height="4.4" fill="#000"/>
<rect x="340.30" y="623.73" width="6.0" height="4.4" fill="#000"/>
<rect x="354.00" y="633.65" width="6.0" height="4.4" fill="#000"/>
<text x="353.40" y="623.20" font-size="19.5" fill="#151515" stroke="#151515" stroke-width="0.2" textLength="26.60" lengthAdjust="spacing">(e)</text>
<text x="283.20" y="702.70" font-size="20" fill="#1515b4" stroke="#1515b4" stroke-width="0.2" textLength="26.60" lengthAdjust="spacing">ES</text>
<text x="277.20" y="755.90" font-size="20" fill="#151515" stroke="#151515" stroke-width="0.2" textLength="85.90" lengthAdjust="spacing">undoped</text>
<text x="274.00" y="822.40" font-size="19" fill="#151515" stroke="#151515" stroke-width="0.2" textLength="76.30" lengthAdjust="spacing">350 µm</text>
<path d="M523.3 654.9 523.8 654.8 524.3 654.9 524.8 654.8 525.3 655.2 525.8 654.8 526.3 655.1 526.8 655.3 527.3 655 527.8 654.6 528.3 654.8 528.8 654.4 529.3 655.3 529.8 654.6 530.3 654.5 530.8 654.8 531.3 654.6 531.8 655 532.3 654.8 532.8 655.2 533.3 655.3 533.8 654.9 534.3 655.1 534.8 655.1 535.3 655.2 535.8 654.9 536.3 654.6 536.8 655.2 537.3 654.6 537.8 654.8 538.3 654.6 538.8 654.9 539.3 655.1 539.8 654.4 540.3 654.8 540.8 654.6 541.3 654.5 541.8 655.2 542.3 654.9 542.8 654.7 543.3 655 543.8 655 544.3 655.2 544.8 654.3 545.3 654.9 545.8 654.6 546.3 655 546.8 654.7 547.3 654.7 547.8 654.6 548.3 654.3 548.8 654.9 549.3 654.9 549.8 655 550.3 655 550.8 654.5 551.3 655.2 551.8 655 552.3 655.2 552.8 654.6 553.3 654.8 553.8 655.3 554.3 654.2 554.8 654.8 555.3 653.8 555.8 654.2 556.3 654.8 556.8 654.7 557.3 655.3 557.8 654.5 558.3 655 558.8 655 559.3 655.2 559.8 654.5 560.3 655.2 560.8 654.9 561.3 654.6 561.8 655.2 562.3 655 562.8 655 563.3 655.1 563.8 655.2 564.3 653.8 564.8 655 565.3 654.8 565.8 654.8 566.3 655 566.8 655.2 567.3 654 567.8 654.8 568.3 655.1 568.8 655 569.3 655.1 569.8 654.2 570.3 654.7 570.8 655.3 571.3 655.3 571.8 654.6 572.3 655.2 572.8 654.9 573.3 654.7 573.8 655.1 574.3 654.6 574.8 655.3 575.3 654.6 575.8 654.5 576.3 654.7 576.8 654.7 577.3 654.4 577.8 654.8 578.3 654.6 578.8 654.9 579.3 654.6 579.8 654.6 580.3 655 580.8 655.3 581.3 655.2 581.8 655 582.3 655.2 582.8 654.8 583.3 654.6 583.8 655 584.3 654.8 584.8 655.2 585.3 654.7 585.8 655.3 586.3 654.6 586.8 654.6 587.3 654.8 587.8 654.6 588.3 654.9 588.8 654.6 589.3 654.8 589.8 655.1 590.3 654.6 590.8 655.3 591.3 655 591.8 654.6 592.3 654.9 592.8 654.6 593.3 655.3 593.8 654.7 594.3 655 594.8 655.2 595.3 654.8 595.8 654.8 596.3 654.6 596.8 654.9 597.3 655.3 597.8 654.7 598.3 655.1 598.8 654.6 599.3 654.7 599.8 655.1 600.3 654.9 600.8 654.7 601.3 654.8 601.8 654.8 602.3 654.9 602.8 655.2 603.3 654.2 603.8 655.2 604.3 654.8 604.8 654.9 605.3 654.4 605.8 654.8 606.3 654.6 606.8 655.2 607.3 654.9 607.8 655 608.3 654.7 608.8 654.7 609.3 655.1 609.8 654.7 610.3 655.3 610.8 654.7 611.3 653.8 611.8 654.6 612.3 654.7 612.8 655.2 613.3 655 613.8 654.7 614.3 654.7 614.8 654.8 615.4 655.3 615.9 654.1 616.4 655 616.9 654.9 617.4 655.1 617.9 654.8 618.4 655 618.9 654.9 619.4 654.5 619.9 654.7 620.4 654.5 620.9 654.9 621.4 654.5 621.9 654.8 622.4 654.9 622.9 654.8 623.4 655.1 623.9 654.6 624.4 654.6 624.9 654.6 625.4 655 625.9 654.7 626.4 655.1 626.9 655.2 627.4 654.9 627.9 654.9 628.4 654.6 628.9 655 629.4 654.6 629.9 655 630.4 655.1 630.9 655.1 631.4 655.2 631.9 655 632.4 655 632.9 655.2 633.4 655.2 633.9 655.3 634.4 655.2 634.9 653.7 635.4 654.9 635.9 654.5 636.4 654.7 636.9 655.1 637.4 654.8 637.9 654.6 638.4 654 638.9 654.6 639.4 654.6 639.9 654.9 640.4 655.1 640.9 654.5 641.4 654.5 641.9 655.2 642.4 655.1 642.9 654.7 643.4 654.9 643.9 655.1 644.4 655.2 644.9 655.1 645.4 654.7 645.9 654.5 646.4 655.2 646.9 655.2 647.4 655.3 647.9 654.7 648.4 654.8 648.9 654.6 649.4 654.9 649.9 654.8 650.4 654.9 650.9 655 651.4 655.3 651.9 654.9 652.4 654.9 652.9 655 653.4 654.1 653.9 654.4 654.4 654.8 654.9 654.8 655.4 655 655.9 654.8 656.4 655 656.9 655.3 657.4 655 657.9 654.8 658.4 654.9 658.9 655.2 659.4 655.3 659.9 654.7 660.4 654.6 660.9 654.5 661.4 654.6 661.9 655 662.4 655.2 662.9 654.8 663.4 654.7 663.9 654 664.4 655.2 664.9 654.9 665.4 655.2 665.9 654.3 666.4 655 666.9 655.1 667.4 654.5 667.9 654.8 668.4 654.7 668.9 654.7 669.4 655.1 669.9 654.7 670.4 654.9 670.9 654.6 671.4 655.3 671.9 655 672.4 654.9 672.9 655 673.4 654.7 673.9 655 674.4 654.3 674.9 654.9 675.4 654.4 675.9 655.1 676.4 655 676.9 654.6 677.4 654.5 677.9 654.9 678.4 655 678.9 654.5 679.4 654.9 679.9 654.8 680.4 654.7 680.9 655 681.4 655 681.9 654.5 682.4 655.2 682.9 654.7 683.4 653.7 683.9 655.1 684.4 655.2 684.9 654.6 685.4 655.1 685.9 654.6 686.4 655.2 686.9 654.7 687.4 654.9 687.9 655 688.4 654.5 688.9 655.3 689.4 654.9 689.9 654.9 690.4 655.2 690.9 655.1 691.4 655.2 691.9 654.6 692.4 654.6 692.9 654 693.4 654.6 693.9 654.8 694.4 655.1 694.9 654.9 695.4 655 695.9 655.2 696.4 655.1 696.9 654.7 697.4 655 697.9 655.2 698.4 654.8 698.9 655.1 699.4 655 699.9 654.7 700.4 654.8 700.9 654.7 701.4 655.2 701.9 654.5 702.4 654.6 702.9 655 703.4 655.1 703.9 654.7 704.4 655.1 704.9 655.3 705.4 655.2 705.9 654.9 706.4 654.5 706.9 655.1 706.9 664.1 706.4 663 705.9 664.7 705.4 664.7 704.9 664 704.4 664.7 703.9 663.9 703.4 663.2 702.9 664.6 702.4 664.5 701.9 663 701.4 664 700.9 663.7 700.4 662.7 699.9 662.7 699.4 663.6 698.9 663.1 698.4 664 697.9 664.4 697.4 663 696.9 663.6 696.4 664.7 695.9 664.1 695.4 663.4 694.9 662.7 694.4 664.5 693.9 664.5 693.4 662.7 692.9 662.6 692.4 663.8 691.9 664.7 691.4 663.7 690.9 664.2 690.4 662.9 689.9 662.7 689.4 662.9 688.9 663.7 688.4 663.6 687.9 664.5 687.4 663.2 686.9 662.9 686.4 664.4 685.9 664.5 685.4 664.3 684.9 663.5 684.4 664.5 683.9 663.5 683.4 664.1 682.9 664.7 682.4 664.1 681.9 664.6 681.4 664.3 680.9 664.6 680.4 662.8 679.9 664.4 679.4 663 678.9 663.7 678.4 664.1 677.9 662.9 677.4 664.7 676.9 663.6 676.4 662.8 675.9 663.1 675.4 663.6 674.9 664.1 674.4 663.6 673.9 663.1 673.4 664.5 672.9 663.3 672.4 663.3 671.9 662.9 671.4 663.3 670.9 664.8 670.4 662.9 669.9 664.5 669.4 663.2 668.9 663.8 668.4 664.4 667.9 664.3 667.4 662.8 666.9 663 666.4 664 665.9 663.5 665.4 662.8 664.9 663.8 664.4 663.8 663.9 664.6 663.4 663.8 662.9 664.2 662.4 663.7 661.9 664.4 661.4 664 660.9 664.1 660.4 664.3 659.9 664.3 659.4 663.3 658.9 663.8 658.4 663.3 657.9 662.9 657.4 662.6 656.9 663.1 656.4 664.2 655.9 664.6 655.4 664.1 654.9 663 654.4 663.2 653.9 662.6 653.4 663.5 652.9 664.6 652.4 664.3 651.9 663.8 651.4 664.2 650.9 663.8 650.4 662.7 649.9 663.1 649.4 664.8 648.9 662.8 648.4 664.5 647.9 663.9 647.4 662.8 646.9 664 646.4 664.2 645.9 663.5 645.4 663.6 644.9 663.8 644.4 664.4 643.9 663.4 643.4 664.8 642.9 662.9 642.4 662.8 641.9 662.9 641.4 664.8 640.9 664.7 640.4 664.1 639.9 664 639.4 664.6 638.9 664.3 638.4 664.5 637.9 664.2 637.4 664.7 636.9 664.3 636.4 662.9 635.9 664 635.4 662.9 634.9 662.6 634.4 663.5 633.9 663.6 633.4 663.9 632.9 663.2 632.4 663 631.9 664.5 631.4 663.3 630.9 663.4 630.4 664.5 629.9 662.8 629.4 664.4 628.9 664.4 628.4 663 627.9 663.8 627.4 663.2 626.9 662.8 626.4 663.4 625.9 663.7 625.4 663.5 624.9 664.7 624.4 663.3 623.9 662.9 623.4 664.4 622.9 662.8 622.4 664.2 621.9 664.2 621.4 664.3 620.9 662.7 620.4 663.9 619.9 663.6 619.4 663.1 618.9 664.5 618.4 663.7 617.9 664.4 617.4 664 616.9 664 616.4 664.5 615.9 664.2 615.4 662.8 614.8 662.8 614.3 664.4 613.8 664.7 613.3 664.7 612.8 664.1 612.3 664.6 611.8 664.4 611.3 663.1 610.8 663.3 610.3 663.8 609.8 663 609.3 664.4 608.8 663.5 608.3 664.5 607.8 664.5 607.3 664.6 606.8 663.4 606.3 662.9 605.8 664.2 605.3 664.3 604.8 664.2 604.3 664.3 603.8 664.4 603.3 664.6 602.8 664.7 602.3 664.8 601.8 662.8 601.3 663.1 600.8 663.1 600.3 662.7 599.8 664.4 599.3 663 598.8 663.5 598.3 662.7 597.8 664.2 597.3 664.4 596.8 663.7 596.3 663.6 595.8 664.6 595.3 663.4 594.8 664.4 594.3 663.2 593.8 662.6 593.3 664.5 592.8 663.3 592.3 662.6 591.8 663.9 591.3 664.5 590.8 663.1 590.3 664 589.8 664.7 589.3 662.8 588.8 664.2 588.3 663.5 587.8 663.1 587.3 664.6 586.8 663.7 586.3 662.8 585.8 663.4 585.3 663 584.8 662.9 584.3 663.5 583.8 664.6 583.3 663.8 582.8 664.7 582.3 664.1 581.8 664.7 581.3 662.6 580.8 662.6 580.3 662.7 579.8 663.3 579.3 663.6 578.8 663.2 578.3 663.2 577.8 664 577.3 664.4 576.8 662.9 576.3 664.8 575.8 664.7 575.3 663.5 574.8 663 574.3 663.6 573.8 664.3 573.3 663.5 572.8 663.9 572.3 663.6 571.8 664.6 571.3 664.1 570.8 663.2 570.3 663.6 569.8 663.2 569.3 664.2 568.8 663.6 568.3 663.1 567.8 663.8 567.3 663 566.8 664.4 566.3 664 565.8 663.7 565.3 662.7 564.8 663.2 564.3 662.9 563.8 663.1 563.3 663 562.8 664.4 562.3 664.7 561.8 662.9 561.3 663.9 560.8 664.8 560.3 663 559.8 663.1 559.3 662.8 558.8 663.9 558.3 662.9 557.8 664.7 557.3 663.8 556.8 664.8 556.3 664.6 555.8 664.7 555.3 663 554.8 663.5 554.3 663.6 553.8 663.8 553.3 663.3 552.8 664 552.3 663.2 551.8 663.1 551.3 663.6 550.8 663 550.3 664.3 549.8 663.3 549.3 663.4 548.8 663.2 548.3 663.8 547.8 662.9 547.3 664.3 546.8 663.6 546.3 663.2 545.8 663.4 545.3 664.3 544.8 664.3 544.3 664.7 543.8 664.1 543.3 664.8 542.8 664.4 542.3 663.6 541.8 664.5 541.3 663.6 540.8 663.9 540.3 663 539.8 663.7 539.3 663.8 538.8 663.9 538.3 663.1 537.8 663.7 537.3 662.9 536.8 663.9 536.3 662.9 535.8 663.1 535.3 663.5 534.8 663.1 534.3 663.9 533.8 664.2 533.3 663.6 532.8 664.3 532.3 663.4 531.8 664.7 531.3 664 530.8 663.5 530.3 663.5 529.8 664 529.3 662.8 528.8 664.5 528.3 662.7 527.8 663.2 527.3 664 526.8 664.8 526.3 663.2 525.8 662.9 525.3 664 524.8 664 524.3 663.5 523.8 664.1 523.3 664.4Z" fill="#0000ff"/>
<path d="M539.8 654.9 540.3 655.2 540.8 655 541.3 654.9 541.8 655.5 542.3 655.3 542.8 655 543.3 655.3 543.8 655.2 544.3 655.4 544.8 654.5 545.3 655 545.8 654.7 546.3 655 546.8 654.6 547.3 654.6 547.8 654.4 548.3 654 548.8 654.5 549.3 654.4 549.8 654.4 550.3 654.2 550.8 653.6 551.3 654 551.8 653.6 552.3 653.6 552.8 652.7 553.3 652.5 553.8 652.4 554.3 650.8 554.8 650.6 555.3 648.6 555.8 647.9 556.3 647 556.8 644.9 557.3 643.1 557.8 639.5 558.3 636.9 558.8 634.1 559.3 632.6 559.8 632.1 560.3 634.7 560.8 637.3 561.3 640.1 561.8 643.5 562.3 645.6 562.8 647.4 563.3 648.9 563.8 650.2 564.3 649.7 564.8 651.7 565.3 652 565.8 652.5 566.3 653.1 566.8 653.6 567.3 652.7 567.8 653.7 568.3 654.2 568.8 654.2 569.3 654.5 569.8 653.8 570.3 654.3 570.8 655 571.3 655.1 571.8 654.5 572.3 655.1 572.8 654.9 573.3 654.8 573.8 655.2 574.3 654.8 574.8 655.5 575.3 654.8 575.8 654.8 576.3 655 576.8 655 577.3 654.7 577.8 655.2 578.3 655 578.8 655.3 579.3 655.1 579.3 656.1 578.8 656.4 578.3 656.1 577.8 656.3 577.3 655.9 576.8 656.2 576.3 656.2 575.8 656 575.3 656.1 574.8 656.8 574.3 656.1 573.8 656.6 573.3 656.2 572.8 656.4 572.3 656.7 571.8 656.1 571.3 656.8 570.8 656.8 570.3 656.2 569.8 655.7 569.3 656.6 568.8 656.5 568.3 656.6 567.8 656.3 567.3 655.5 566.8 656.7 566.3 656.5 565.8 656.3 565.3 656.3 564.8 656.5 564.3 655.3 563.8 656.7 563.3 656.6 562.8 656.5 562.3 656.5 561.8 656.7 561.3 656.1 560.8 656.4 560.3 656.7 559.8 656 559.3 656.7 558.8 656.5 558.3 656.5 557.8 656 557.3 656.8 556.8 656.2 556.3 656.3 555.8 655.7 555.3 655.3 554.8 656.3 554.3 655.7 553.8 656.8 553.3 656.3 552.8 656.1 552.3 656.7 551.8 656.5 551.3 656.7 550.8 656 550.3 656.5 549.8 656.5 549.3 656.4 548.8 656.4 548.3 655.8 547.8 656.1 547.3 656.2 546.8 656.2 546.3 656.5 545.8 656.1 545.3 656.4 544.8 655.8 544.3 656.7 543.8 656.5 543.3 656.5 542.8 656.2 542.3 656.4 541.8 656.7 541.3 656 540.8 656.1 540.3 656.3 539.8 655.9Z" fill="#0000ff" fill-opacity="0.4"/>
<path d="M539.8 654.9 540.3 655.3 540.8 655.1 541.3 655 541.8 655.7 542.3 655.4 542.8 655.2 543.3 655.5 543.8 655.5 544.3 655.7 544.8 654.8 545.3 655.4 545.8 655.1 546.3 655.5 546.8 655.2 547.3 655.2 547.8 655.1 548.3 654.8 548.8 655.4 549.3 655.4 549.8 655.5 550.3 655.5 550.8 655 551.3 655.7 551.8 655.5 552.3 655.7 552.8 655.1 553.3 655.3 553.8 655.7 554.3 654.7 554.8 655.3 555.3 654.2 555.8 654.6 556.3 655.1 556.8 654.7 557.3 654.5 557.8 651.7 558.3 647.4 558.8 639.4 559.3 632.3 559.8 632.4 560.3 640.9 560.8 648.3 561.3 652.2 561.8 654.7 562.3 655.1 562.8 655.4 563.3 655.5 563.8 655.6 564.3 654.3 564.8 655.5 565.3 655.3 565.8 655.3 566.3 655.5 566.8 655.7 567.3 654.5 567.8 655.3 568.3 655.6 568.8 655.5 569.3 655.6 569.8 654.7 570.3 655.2 570.8 655.8 571.3 655.8 571.8 655.1 572.3 655.7 572.8 655.4 573.3 655.2 573.8 655.6 574.3 655.1 574.8 655.8 575.3 655.1 575.8 655 576.3 655.2 576.8 655.2 577.3 654.9 577.8 655.3 578.3 655.1 578.8 655.4 579.3 655.1 579.3 656.1 578.8 656.4 578.3 656.1 577.8 656.3 577.3 655.9 576.8 656.2 576.3 656.2 575.8 656 575.3 656.1 574.8 656.8 574.3 656.1 573.8 656.6 573.3 656.2 572.8 656.4 572.3 656.7 571.8 656.1 571.3 656.8 570.8 656.8 570.3 656.2 569.8 655.7 569.3 656.6 568.8 656.5 568.3 656.6 567.8 656.3 567.3 655.5 566.8 656.7 566.3 656.5 565.8 656.3 565.3 656.3 564.8 656.5 564.3 655.3 563.8 656.7 563.3 656.6 562.8 656.5 562.3 656.5 561.8 656.7 561.3 656.1 560.8 656.4 560.3 656.7 559.8 656 559.3 656.7 558.8 656.5 558.3 656.5 557.8 656 557.3 656.8 556.8 656.2 556.3 656.3 555.8 655.7 555.3 655.3 554.8 656.3 554.3 655.7 553.8 656.8 553.3 656.3 552.8 656.1 552.3 656.7 551.8 656.5 551.3 656.7 550.8 656 550.3 656.5 549.8 656.5 549.3 656.4 548.8 656.4 548.3 655.8 547.8 656.1 547.3 656.2 546.8 656.2 546.3 656.5 545.8 656.1 545.3 656.4 544.8 655.8 544.3 656.7 543.8 656.5 543.3 656.5 542.8 656.2 542.3 656.4 541.8 656.7 541.3 656 540.8 656.1 540.3 656.3 539.8 655.9Z" fill="#0000ff"/>
<path d="M548.3 655.3V653.4M548.8 655.9V654.1M551.3 656.2V653.3M552.3 656.2V653.7M553.3 655.8V652.6M555.8 655.2V648.4M556.3 655.8V647.6M557.8 655.5V640.2M558.3 656V644.6M559.8 655.5V639.5M560.8 655.9V636.9M561.8 656.2V642.7M562.3 656V647.3M562.8 656V648.7M563.8 656.2V650.1M564.3 654.8V649.2M566.8 656.2V653.2M567.3 655V652.5M570.8 656.3V654.4" stroke="#0000ff" stroke-width="0.55" fill="none"/>
<path d="M523.4 663.4V668.3M523.8 663.1V665.5M524.3 662.5V670.6M524.8 663V668.8M525.1 663V664.6M525.8 661.9V669.9M526.4 662.2V667.5M526.9 663.8V665M527.5 663V670.5M528.2 661.7V665.8M528.7 663.5V667.5M529.6 663V667.5M530.4 662.5V666.9M530.6 662.5V669.9M531.3 663V670.8M531.7 663.7V664.4M532.6 663.3V668.1M533.2 662.6V671.5M533.7 663.2V664M534.9 662.1V669M535.4 662.5V666.9M535.8 662.1V666.3M536.4 661.9V669.6M536.9 662.9V669.7M537.3 661.9V671.7M537.7 662.7V666.8M538.4 662.1V667.6M538.9 662.9V669.3M539.3 662.8V670.3M539.8 662.7V665.8M541.3 662.6V669.1M541.7 663.5V668.1M542.2 662.6V665M542.9 663.4V668.7M543.8 663.1V667.6M544.2 663.7V670.1M544.6 663.3V669.6M545.5 663.3V671.6M545.9 662.4V669.3M546.1 662.2V666.2M546.9 662.6V669.7M547.4 663.3V665.4M547.9 661.9V668.4M548.6 662.2V667.9M549.4 662.4V664.2M550.7 662V671.8M551.5 662.6V666.3M551.6 662.1V668.6M552.3 662.2V667.9M552.9 663V666.1M553.2 662.3V668M553.7 662.8V667.6M554.3 662.6V664.3M555.1 662V665M556.4 663.6V664.4M556.7 663.8V667.1M557.3 662.8V668.6M557.6 663.7V665.1M558.3 661.9V667.8M558.9 662.9V665.4M559.4 661.8V669.1M559.8 662.1V666.7M560.2 662V669.4M561.4 662.9V667.2M562.3 663.7V670M563.3 662V668.6M563.7 662.1V670.2M565 662.2V671.4M565.1 661.7V670.8M565.8 662.7V670.5M566.4 663V668.6M566.9 663.4V663.8M567.3 662V668.2M567.6 662.8V669.4M568.1 662.1V667.6M568.6 662.6V664.5M569.5 663.2V668.1M570.4 662.6V664.6M571.2 663.1V669.7M571.8 663.6V664.7M572.3 662.6V667.7M572.7 662.9V668M573.3 662.5V667.6M573.8 663.3V669.4M574.2 662.6V667M576.3 663.8V670.5M578 663V667.7M578.2 662.2V670.4M579 662.2V669.3M579.2 662.6V665.2M579.9 662.3V666.4M580.4 661.7V669.6M581 661.6V671.2M581.3 661.6V671.5M581.7 663.7V668.7M582.5 663.1V670.3M582.7 663.7V664.4M583.3 662.8V670.8M583.9 663.6V669.1M584.4 662.5V671.3M585 661.9V668.2M585.2 662V665M585.9 662.4V667.6M586.2 661.8V664.9M587.8 662.1V670.2M588.8 663.2V670.5M589.1 661.8V670.2M589.6 663.7V667.2M590.9 662.1V666.1M591.3 663.5V669.8M592 662.9V670.2M592.8 662.3V668.1M593.5 663.5V669.5M594.7 663.4V666.1M595.7 663.6V666.4M596.5 662.6V670.4M597 662.7V665.6M597.5 663.4V671.4M597.8 663.2V670M598.4 661.7V668.2M598.7 662.5V665.8M599.3 662V666.7M599.8 663.4V666M600.5 661.7V664.6M600.7 662.1V670.1M601.5 662.1V667.3M601.8 661.8V666.1M602.5 663.8V671.5M603 663.7V667.7M603.4 663.6V665.6M604 663.4V671.7M604.3 663.3V664M605 663.2V664.5M605.3 663.3V669.8M605.9 663.2V666.9M606.5 661.9V671.6M607 662.4V664.1M607.4 663.6V668.7M607.7 663.5V666M609 662.5V665.7M609.3 663.4V666.7M609.8 662V668.2M610.4 662.8V666.4M611 662.3V669.3M611.5 662.1V667.1M611.7 663.4V671.7M612.7 663.1V666M613.3 663.7V668.3M613.7 663.7V669.2M614.2 663.4V667.4M614.9 661.8V671.1M615.2 661.8V666.1M615.9 663.2V668.5M616.2 663.5V666.7M617.2 663V666.7M617.7 663.4V666.6M618.5 662.7V666.4M618.8 663.5V665.5M619.7 662.6V664.2M620.4 662.9V670.8M621 661.7V671.8M621.8 663.2V667.5M622.2 663.2V666M622.9 661.8V665.4M623.8 661.9V669.7M624.5 662.3V669.8M625.4 662.5V670M626.4 662.4V667M626.8 661.8V666.2M627.7 662.8V665.5M628.4 662V669.5M629.4 663.4V671.2M629.7 661.8V667M630.3 663.5V668.4M630.7 662.4V669.2M631.3 662.3V665.9M632 663.5V665.7M632.5 662V670.5M633 662.2V671.5M633.5 662.9V666.9M633.7 662.6V667.1M634.2 662.5V669.3M634.8 661.6V668.7M635.5 661.9V671.2M636 663V669.4M636.5 661.9V668.7M637.3 663.7V668.1M637.9 663.2V667.3M638.5 663.5V668.5M639 663.3V668.5M639.3 663.6V670.9M639.9 663V665.9M640.2 663.1V666.2M640.7 663.7V670.4M641.2 663.8V668.4M642.1 661.9V663.8M643 661.9V671.5M643.4 663.8V666.3M644 662.4V669M644.3 663.4V668.7M644.9 662.8V665.8M645.5 662.6V670.4M646 662.5V670.7M646.3 663.2V665M647.3 661.8V667M647.9 662.9V670.4M648.5 663.5V670.4M648.9 661.8V667.6M649.3 663.8V664.7M649.7 662.1V666.5M650.5 661.7V664.8M650.7 662.8V670.7M651.2 663.2V664.7M651.9 662.8V667.7M652.2 663.3V668.5M653 663.6V666.1M653.2 662.5V667.8M653.9 661.6V668.7M654.5 662.2V670.6M655.4 663.1V670.8M656.4 663.2V668.5M656.8 662.1V669.9M657.7 661.9V669M658.3 662.3V670.1M659 662.8V670.2M659.5 662.3V666.7M659.8 663.3V665.5M660.2 663.3V671M660.9 663.1V666.1M661.3 663V667.6M661.8 663.4V667.5M662.2 662.7V669.2M663 663.2V665.2M664 663.6V669M664.2 662.8V665.3M665.4 661.8V667.8M666.3 663V669.3M667 662V665.3M667.5 661.8V671.3M667.8 663.3V666.8M668.6 663.4V664.7M669 662.8V671.3M669.5 662.2V668.5M669.9 663.5V666.6M670.4 661.9V665.8M671.1 663.8V666.4M671.5 662.3V668.1M671.8 661.9V664.6M672.4 662.3V667.6M673 662.3V670.6M674 662.1V665M674.4 662.6V665M675 663.1V667.5M675.6 662.6V664.2M675.7 662.1V671.3M676.3 661.8V671.6M676.7 662.6V669.4M677.9 661.9V669.9M678.4 663.1V667.5M678.7 662.7V671.3M679.2 662V665.4M679.8 663.4V665.7M680.5 661.8V669.6M681.2 663.3V667.9M682.1 663.6V665.3M682.4 663.1V664.8M682.8 663.7V665.3M683.5 663.1V667M684 662.5V670.6M684.2 663.5V669M684.9 662.5V670.4M686.2 663.4V664.6M687 661.9V669.6M687.2 662.2V671.7M687.8 663.5V669.3M688.5 662.6V666.7M688.8 662.7V666.6M689.3 661.9V666.5M690 661.7V666.6M690.2 661.9V671M691 663.2V671M691.4 662.7V667.6M691.7 663.7V670M692.4 662.8V665.2M692.8 661.6V667.3M693.5 661.7V664.1M693.7 663.5V665.9M694.5 663.5V670.1M695.1 661.7V664.9M695.3 662.4V671.6M696 663.1V666.5M697 662.6V664.4M697.5 662V667.3M697.8 663.4V668.4M698.3 663V671.5M698.8 662.1V667.5M699.5 662.6V665.7M700.5 661.7V665.5M701 662.7V664.4M701.3 663V664M701.9 662V670.4M702.5 663.5V665.5M703.1 663.6V668.4M703.7 662.9V671.3M704.4 663.7V666.9M705 663V666.3M705.4 663.7V671.5M705.9 663.7V669.3M706.2 662V666.6M706.7 663.1V664.4" stroke="#0000ff" stroke-width="0.7" fill="none"/>
<path d="M523.3 701.8 523.8 701.3 524.3 701.4 524.8 701.9 525.3 701.2 525.8 701.7 526.3 701.2 526.8 701.5 527.3 701.8 527.8 701.5 528.3 701.3 528.8 701.3 529.3 701.6 529.8 700.9 530.3 701.9 530.8 701.6 531.3 701.4 531.8 701.5 532.3 701.5 532.8 701.2 533.3 701.5 533.8 701.2 534.3 701.3 534.8 701.9 535.3 701.6 535.8 701.2 536.3 701.3 536.8 701.7 537.3 701.1 537.8 701.5 538.3 701.4 538.8 700.6 539.3 701.1 539.8 701.5 540.3 701.4 540.8 701.8 541.3 701.5 541.8 700.8 542.3 701.1 542.8 701.4 543.3 701.9 543.8 701.5 544.3 701.8 544.8 701.7 545.3 701.7 545.8 701.1 546.3 701.4 546.8 701.3 547.3 701.8 547.8 701.4 548.3 701.5 548.8 701.7 549.3 701.5 549.8 701.7 550.3 700.8 550.8 701.9 551.3 701.7 551.8 701.4 552.3 701.5 552.8 701.3 553.3 701.4 553.8 700.7 554.3 701.6 554.8 701.1 555.3 701.7 555.8 701.5 556.3 700.6 556.8 701.3 557.3 701.6 557.8 701.6 558.3 701.3 558.8 701.4 559.3 701.7 559.8 701.6 560.3 701.3 560.8 701 561.3 701.1 561.8 701.7 562.3 700.3 562.8 701.1 563.3 701.4 563.8 701.4 564.3 701.4 564.8 701.3 565.3 701.7 565.8 701.2 566.3 701.4 566.8 700.5 567.3 701.2 567.8 701.6 568.3 701.1 568.8 701.8 569.3 701.5 569.8 701.4 570.3 701.5 570.8 701.2 571.3 701.2 571.8 701.2 572.3 701.6 572.8 701.3 573.3 701.9 573.8 701.2 574.3 701.4 574.8 701.2 575.3 701.8 575.8 701.3 576.3 701.2 576.8 701.1 577.3 700.5 577.8 701.8 578.3 701.5 578.8 701.3 579.3 701.2 579.8 701.5 580.3 700.9 580.8 701.3 581.3 701.1 581.8 701.4 582.3 701.5 582.8 701.7 583.3 701.8 583.8 701.9 584.3 701.2 584.8 701.1 585.3 701.6 585.8 701.7 586.3 701.1 586.8 701.2 587.3 701.2 587.8 701.8 588.3 701.3 588.8 701.3 589.3 700.7 589.8 701.4 590.3 701.9 590.8 701.2 591.3 701.2 591.8 701.5 592.3 701.6 592.8 701.4 593.3 701.7 593.8 700.9 594.3 701.6 594.8 701.3 595.3 701.5 595.8 701.8 596.3 701.5 596.8 701.2 597.3 701.7 597.8 700.5 598.3 701.3 598.8 701.7 599.3 701.9 599.8 701.2 600.3 701.7 600.8 701.3 601.3 701.1 601.8 701 602.3 701.8 602.8 701.5 603.3 701.7 603.8 701.7 604.3 701.5 604.8 701.3 605.3 701.7 605.8 701.1 606.3 701.9 606.8 701.2 607.3 701.8 607.8 701.8 608.3 701.8 608.8 701.3 609.3 700.4 609.8 701.8 610.3 701.2 610.8 701.3 611.3 701.3 611.8 701.6 612.3 701.2 612.8 700.9 613.3 701.7 613.8 701.2 614.3 701.3 614.8 701.1 615.4 701.6 615.9 701.2 616.4 701.8 616.9 701.2 617.4 701.6 617.9 701.6 618.4 701.6 618.9 700.9 619.4 701.1 619.9 701.3 620.4 701.6 620.9 701.9 621.4 701.2 621.9 701.5 622.4 701.3 622.9 701.8 623.4 701.7 623.9 701.7 624.4 701.7 624.9 701.1 625.4 701.8 625.9 701.2 626.4 701.2 626.9 701.5 627.4 701.2 627.9 701.3 628.4 701.5 628.9 701.5 629.4 701.4 629.9 701.7 630.4 701.4 630.9 701.1 631.4 701.8 631.9 701.5 632.4 701.2 632.9 701.3 633.4 701.9 633.9 701.2 634.4 701.7 634.9 701.8 635.4 701.5 635.9 701.3 636.4 701.4 636.9 701.8 637.4 701.6 637.9 701.3 638.4 701.4 638.9 701.4 639.4 701.3 639.9 701.2 640.4 701.9 640.9 701.3 641.4 701.7 641.9 701.2 642.4 701.2 642.9 701.3 643.4 701.1 643.9 701.8 644.4 701.1 644.9 701.3 645.4 701.4 645.9 701.7 646.4 701.5 646.9 701.6 647.4 701.9 647.9 700.5 648.4 701.8 648.9 701.2 649.4 701.7 649.9 701.1 650.4 701.7 650.9 701.5 651.4 701.8 651.9 701.4 652.4 701.1 652.9 701.4 653.4 701.2 653.9 701.6 654.4 701.1 654.9 701.2 655.4 701.8 655.9 701.6 656.4 701.4 656.9 701.7 657.4 701.9 657.9 701.9 658.4 701.5 658.9 701.6 659.4 701.8 659.9 701.4 660.4 701.7 660.9 701.3 661.4 701.7 661.9 701.3 662.4 701.6 662.9 701.2 663.4 701.5 663.9 700.8 664.4 701.2 664.9 701.6 665.4 701.6 665.9 701.1 666.4 701.3 666.9 701.5 667.4 701.9 667.9 700.8 668.4 701.6 668.9 701.7 669.4 701.8 669.9 701.4 670.4 701.8 670.9 701.5 671.4 701.2 671.9 701.2 672.4 701.6 672.9 700.5 673.4 701.5 673.9 701.5 674.4 701.5 674.9 701.4 675.4 701.6 675.9 701.7 676.4 701.5 676.9 701.3 677.4 701.9 677.9 701.8 678.4 701.3 678.9 701.8 679.4 701.6 679.9 701.8 680.4 701.4 680.9 701.3 681.4 701.7 681.9 701.7 682.4 701.5 682.9 701.5 683.4 701.8 683.9 701.1 684.4 701.2 684.9 701.7 685.4 701.7 685.9 701.2 686.4 701.4 686.9 701.9 687.4 701.8 687.9 701.9 688.4 701.5 688.9 701.2 689.4 701.7 689.9 701.4 690.4 701.6 690.9 700.4 691.4 701.4 691.9 700.8 692.4 701.7 692.9 701.6 693.4 701.1 693.9 701.4 694.4 701.6 694.9 701.2 695.4 701.9 695.9 701.7 696.4 701.1 696.9 701.1 697.4 701 697.9 701.5 698.4 701.8 698.9 701.2 699.4 701.8 699.9 701.2 700.4 701.3 700.9 701.6 701.4 701.1 701.9 701.9 702.4 701.7 702.9 701.2 703.4 701.4 703.9 701.7 704.4 701.7 704.9 701.7 705.4 701.8 705.9 701.6 706.4 701.2 706.9 701.3 706.9 710.4 706.4 711 705.9 711 705.4 711.8 704.9 711.2 704.4 709.9 703.9 711.7 703.4 711.5 702.9 711.7 702.4 710.2 701.9 711.7 701.4 711.5 700.9 710 700.4 711.5 699.9 710.6 699.4 710.4 698.9 710.6 698.4 711.6 697.9 711.7 697.4 711.1 696.9 711.9 696.4 709.9 695.9 710.2 695.4 711.7 694.9 710 694.4 711.4 693.9 709.9 693.4 710.9 692.9 710.8 692.4 710.8 691.9 711.4 691.4 711.3 690.9 710.4 690.4 709.8 689.9 710.6 689.4 711.6 688.9 711.3 688.4 710.2 687.9 709.7 687.4 711.2 686.9 711 686.4 710.4 685.9 711.9 685.4 711.7 684.9 709.8 684.4 709.8 683.9 710.6 683.4 710.2 682.9 710.2 682.4 711.6 681.9 711.6 681.4 710.3 680.9 710.1 680.4 710.1 679.9 711.9 679.4 710.1 678.9 711 678.4 710.2 677.9 711.1 677.4 710.1 676.9 711.6 676.4 710 675.9 711.5 675.4 711.1 674.9 711.5 674.4 711.8 673.9 709.9 673.4 711.8 672.9 710.5 672.4 711.5 671.9 710.3 671.4 711.4 670.9 710.2 670.4 711.7 669.9 711.7 669.4 710.3 668.9 710 668.4 711.3 667.9 709.8 667.4 711 666.9 711.8 666.4 711.7 665.9 710.9 665.4 710.9 664.9 710.4 664.4 711.3 663.9 710.8 663.4 711.8 662.9 711.7 662.4 711.5 661.9 711 661.4 711.3 660.9 710.7 660.4 711.9 659.9 711.6 659.4 709.9 658.9 710.2 658.4 711.5 657.9 711.5 657.4 711.4 656.9 710.1 656.4 710.9 655.9 711.1 655.4 711.7 654.9 710 654.4 711.7 653.9 711.9 653.4 711.1 652.9 711.7 652.4 711.1 651.9 711.9 651.4 710.8 650.9 711.4 650.4 710.6 649.9 711 649.4 711.3 648.9 710.7 648.4 711.7 647.9 711.5 647.4 709.7 646.9 711 646.4 711.2 645.9 711.5 645.4 711.7 644.9 711.8 644.4 711 643.9 710.3 643.4 710.4 642.9 711.1 642.4 711.8 641.9 709.8 641.4 710.1 640.9 710 640.4 711.7 639.9 710.1 639.4 711.8 638.9 711.6 638.4 710 637.9 711 637.4 710.1 636.9 711.6 636.4 710.3 635.9 710.3 635.4 711.1 634.9 710.3 634.4 710.4 633.9 711.7 633.4 711.1 632.9 710.5 632.4 711.5 631.9 710 631.4 710 630.9 710.2 630.4 709.8 629.9 710.7 629.4 710 628.9 710.2 628.4 710.5 627.9 711.5 627.4 711.3 626.9 709.8 626.4 710.8 625.9 709.9 625.4 710.2 624.9 711.8 624.4 709.9 623.9 711.4 623.4 711.7 622.9 710.2 622.4 710.2 621.9 710.4 621.4 710.8 620.9 710.3 620.4 710.7 619.9 711.8 619.4 711.1 618.9 710.8 618.4 709.9 617.9 710.6 617.4 711.6 616.9 710.8 616.4 710.8 615.9 710.5 615.4 710 614.8 711.1 614.3 710.6 613.8 711.5 613.3 710.2 612.8 710.7 612.3 710.7 611.8 711.6 611.3 711.8 610.8 711.3 610.3 711.4 609.8 711.1 609.3 711 608.8 711.9 608.3 711.4 607.8 710.4 607.3 711.4 606.8 711.7 606.3 710.9 605.8 710.3 605.3 710.3 604.8 710.2 604.3 710 603.8 710.4 603.3 711.4 602.8 710.8 602.3 709.8 601.8 711.9 601.3 710.4 600.8 709.7 600.3 711.6 599.8 711.1 599.3 711.2 598.8 710.8 598.3 710.2 597.8 709.8 597.3 710.6 596.8 710.6 596.3 710.8 595.8 710.1 595.3 711.5 594.8 711.9 594.3 711.8 593.8 711.1 593.3 710.9 592.8 710.1 592.3 711 591.8 710.2 591.3 711.7 590.8 709.9 590.3 710.1 589.8 711.2 589.3 710.4 588.8 711.7 588.3 711.6 587.8 711.2 587.3 711.9 586.8 709.8 586.3 709.8 585.8 710.7 585.3 711.1 584.8 711.4 584.3 710.3 583.8 711.6 583.3 710.3 582.8 710.3 582.3 711.8 581.8 709.7 581.3 710.7 580.8 711.8 580.3 711.6 579.8 710.3 579.3 710.2 578.8 709.9 578.3 711.7 577.8 710.7 577.3 710 576.8 711.9 576.3 711.3 575.8 711.6 575.3 710.7 574.8 710.8 574.3 710.3 573.8 710.5 573.3 711.5 572.8 711.1 572.3 711.3 571.8 711.3 571.3 711.8 570.8 709.8 570.3 711.4 569.8 710.5 569.3 709.9 568.8 711.2 568.3 711.2 567.8 710.9 567.3 711.1 566.8 710.8 566.3 711.6 565.8 711.4 565.3 710.6 564.8 711.6 564.3 709.9 563.8 710.8 563.3 710.4 562.8 711.8 562.3 711 561.8 710.3 561.3 711.5 560.8 711.2 560.3 710.8 559.8 709.8 559.3 711.3 558.8 710.2 558.3 711.6 557.8 711.1 557.3 709.8 556.8 711.4 556.3 711 555.8 711.2 555.3 710.5 554.8 711.6 554.3 710 553.8 711.8 553.3 709.9 552.8 709.7 552.3 710.2 551.8 710.9 551.3 710.6 550.8 710.7 550.3 710.9 549.8 711.9 549.3 709.9 548.8 709.9 548.3 711.6 547.8 710 547.3 711.8 546.8 710.4 546.3 711.1 545.8 711.1 545.3 711.4 544.8 711.4 544.3 711.7 543.8 711 543.3 711 542.8 711.2 542.3 711.3 541.8 711.4 541.3 710.7 540.8 710.9 540.3 710.1 539.8 711.8 539.3 711.8 538.8 711.3 538.3 711 537.8 709.8 537.3 711.4 536.8 711.5 536.3 710.2 535.8 711.7 535.3 710.6 534.8 711.8 534.3 711.9 533.8 711.1 533.3 711.1 532.8 710.2 532.3 711.1 531.8 711.5 531.3 710.5 530.8 710.5 530.3 710.5 529.8 711.7 529.3 709.7 528.8 711.3 528.3 711.2 527.8 710.4 527.3 710.5 526.8 711.1 526.3 709.9 525.8 711 525.3 710.8 524.8 710.1 524.3 710.1 523.8 711.7 523.3 711.8Z" fill="#ff0000"/>
<path d="M523.8 701.7 524.3 701.8 524.8 702.3 525.3 701.6 525.8 702.1 526.3 701.6 526.8 701.9 527.3 702.2 527.8 701.8 528.3 701.6 528.8 701.6 529.3 701.8 529.8 701.2 530.3 702.1 530.8 701.7 531.3 701.6 531.8 701.6 532.3 701.6 532.8 701.3 533.3 701.6 533.8 701.2 534.3 701.3 534.8 701.8 535.3 701.4 535.8 701 536.3 701.1 536.8 701.4 537.3 700.7 537.8 701 538.3 700.8 538.8 699.9 539.3 700.4 539.8 700.7 540.3 700.4 540.8 700.7 541.3 700.3 541.8 699.4 542.3 699.6 542.8 699.6 543.3 699.9 543.8 699.3 544.3 699.3 544.8 698.7 545.3 698.4 545.8 697.4 546.3 697.1 546.8 696.3 547.3 696.2 547.8 694.8 548.3 694 548.8 692.9 549.3 691.4 549.8 689.9 550.3 687.1 550.8 686.1 551.3 683.5 551.8 681 552.3 679 552.8 677.3 553.3 676.7 553.8 676.3 554.3 678.4 554.8 679.9 555.3 682.7 555.8 684.9 556.3 686.2 556.8 688.9 557.3 690.9 557.8 692.4 558.3 693.3 558.8 694.5 559.3 695.8 559.8 696.4 560.3 696.8 560.8 697 561.3 697.6 561.8 698.6 562.3 697.6 562.8 698.7 563.3 699.3 563.8 699.5 564.3 699.8 564.8 699.9 565.3 700.4 565.8 700.1 566.3 700.4 566.8 699.7 567.3 700.4 567.8 700.9 568.3 700.6 568.8 701.3 569.3 701.1 569.8 701 570.3 701.2 570.8 701 571.3 701 571.8 701.1 572.3 701.6 572.8 701.3 573.3 701.9 573.8 701.3 574.3 701.5 574.8 701.3 575.3 701.9 575.8 701.5 576.3 701.4 576.8 701.3 577.3 700.8 577.8 702 578.3 701.8 578.8 701.6 579.3 701.6 579.8 701.9 580.3 701.3 580.8 701.7 581.3 701.5 581.8 701.9 582.3 701.9 582.8 702.2 583.3 702.2 583.3 703.3 582.8 703.2 582.3 703 581.8 702.9 581.3 702.6 580.8 702.8 580.3 702.4 579.8 703 579.3 702.7 578.8 702.8 578.3 703 577.8 703.3 577.3 702 576.8 702.6 576.3 702.7 575.8 702.8 575.3 703.3 574.8 702.7 574.3 702.9 573.8 702.7 573.3 703.4 572.8 702.8 572.3 703.1 571.8 702.7 571.3 702.7 570.8 702.7 570.3 703 569.8 702.9 569.3 703 568.8 703.3 568.3 702.6 567.8 703.1 567.3 702.7 566.8 702 566.3 702.9 565.8 702.7 565.3 703.2 564.8 702.8 564.3 702.9 563.8 702.9 563.3 702.9 562.8 702.6 562.3 701.8 561.8 703.2 561.3 702.6 560.8 702.5 560.3 702.8 559.8 703.1 559.3 703.2 558.8 702.9 558.3 702.8 557.8 703.1 557.3 703.1 556.8 702.8 556.3 702.1 555.8 703 555.3 703.2 554.8 702.6 554.3 703.1 553.8 702.2 553.3 702.9 552.8 702.8 552.3 703 551.8 702.9 551.3 703.2 550.8 703.4 550.3 702.3 549.8 703.2 549.3 703 548.8 703.2 548.3 703 547.8 702.9 547.3 703.3 546.8 702.8 546.3 702.9 545.8 702.6 545.3 703.2 544.8 703.2 544.3 703.3 543.8 703 543.3 703.4 542.8 702.9 542.3 702.6 541.8 702.3 541.3 703 540.8 703.3 540.3 702.9 539.8 703 539.3 702.6 538.8 702.1 538.3 702.9 537.8 703 537.3 702.6 536.8 703.2 536.3 702.8 535.8 702.7 535.3 703.1 534.8 703.4 534.3 702.8 533.8 702.7 533.3 703 532.8 702.7 532.3 703 531.8 703 531.3 702.9 530.8 703.1 530.3 703.4 529.8 702.4 529.3 703.1 528.8 702.8 528.3 702.8 527.8 703 527.3 703.3 526.8 703 526.3 702.7 525.8 703.2 525.3 702.7 524.8 703.4 524.3 702.9 523.8 702.8Z" fill="#ff0000" fill-opacity="0.5"/>
<path d="M523.8 701.8 524.3 701.9 524.8 702.4 525.3 701.7 525.8 702.2 526.3 701.7 526.8 702 527.3 702.3 527.8 702 528.3 701.8 528.8 701.8 529.3 702.1 529.8 701.4 530.3 702.4 530.8 702.1 531.3 701.9 531.8 702 532.3 702 532.8 701.7 533.3 702 533.8 701.7 534.3 701.8 534.8 702.4 535.3 702.1 535.8 701.7 536.3 701.8 536.8 702.2 537.3 701.6 537.8 702 538.3 701.9 538.8 701 539.3 701.6 539.8 702 540.3 701.9 540.8 702.3 541.3 702 541.8 701.3 542.3 701.6 542.8 701.9 543.3 702.4 543.8 702 544.3 702.3 544.8 702.1 545.3 702.1 545.8 701.5 546.3 701.7 546.8 701.5 547.3 701.9 547.8 701.3 548.3 701.1 548.8 700.8 549.3 700 549.8 699.1 550.3 696.7 550.8 695.3 551.3 691.7 551.8 687.2 552.3 682.6 552.8 678.3 553.3 676.4 553.8 676.7 554.3 681 554.8 685.2 555.3 690.3 555.8 693.8 556.3 695.6 556.8 698.2 557.3 699.8 557.8 700.6 558.3 700.7 558.8 701.2 559.3 701.8 559.8 701.8 560.3 701.6 560.8 701.3 561.3 701.5 561.8 702.1 562.3 700.7 562.8 701.6 563.3 701.9 563.8 701.8 564.3 701.9 564.8 701.8 565.3 702.1 565.8 701.7 566.3 701.9 566.8 701 567.3 701.7 567.8 702.1 568.3 701.6 568.8 702.3 569.3 702 569.8 701.9 570.3 702 570.8 701.7 571.3 701.7 571.8 701.7 572.3 702.1 572.8 701.8 573.3 702.4 573.8 701.7 574.3 701.9 574.8 701.7 575.3 702.3 575.8 701.8 576.3 701.7 576.8 701.6 577.3 701 577.8 702.3 578.3 702 578.8 701.8 579.3 701.7 579.8 702 580.3 701.4 580.8 701.8 581.3 701.6 581.8 701.9 582.3 702 582.8 702.2 583.3 702.3 583.3 703.3 582.8 703.2 582.3 703 581.8 702.9 581.3 702.6 580.8 702.8 580.3 702.4 579.8 703 579.3 702.7 578.8 702.8 578.3 703 577.8 703.3 577.3 702 576.8 702.6 576.3 702.7 575.8 702.8 575.3 703.3 574.8 702.7 574.3 702.9 573.8 702.7 573.3 703.4 572.8 702.8 572.3 703.1 571.8 702.7 571.3 702.7 570.8 702.7 570.3 703 569.8 702.9 569.3 703 568.8 703.3 568.3 702.6 567.8 703.1 567.3 702.7 566.8 702 566.3 702.9 565.8 702.7 565.3 703.2 564.8 702.8 564.3 702.9 563.8 702.9 563.3 702.9 562.8 702.6 562.3 701.8 561.8 703.2 561.3 702.6 560.8 702.5 560.3 702.8 559.8 703.1 559.3 703.2 558.8 702.9 558.3 702.8 557.8 703.1 557.3 703.1 556.8 702.8 556.3 702.1 555.8 703 555.3 703.2 554.8 702.6 554.3 703.1 553.8 702.2 553.3 702.9 552.8 702.8 552.3 703 551.8 702.9 551.3 703.2 550.8 703.4 550.3 702.3 549.8 703.2 549.3 703 548.8 703.2 548.3 703 547.8 702.9 547.3 703.3 546.8 702.8 546.3 702.9 545.8 702.6 545.3 703.2 544.8 703.2 544.3 703.3 543.8 703 543.3 703.4 542.8 702.9 542.3 702.6 541.8 702.3 541.3 703 540.8 703.3 540.3 702.9 539.8 703 539.3 702.6 538.8 702.1 538.3 702.9 537.8 703 537.3 702.6 536.8 703.2 536.3 702.8 535.8 702.7 535.3 703.1 534.8 703.4 534.3 702.8 533.8 702.7 533.3 703 532.8 702.7 532.3 703 531.8 703 531.3 702.9 530.8 703.1 530.3 703.4 529.8 702.4 529.3 703.1 528.8 702.8 528.3 702.8 527.8 703 527.3 703.3 526.8 703 526.3 702.7 525.8 703.2 525.3 702.7 524.8 703.4 524.3 702.9 523.8 702.8Z" fill="#ff0000"/>
<path d="M539.3 702.1V699.7M545.8 702.1V698M549.3 702.5V693.2M550.3 701.8V687.5M555.8 702.5V687.5M556.3 701.6V687.3M558.8 702.4V694.4M561.3 702.1V697.8M562.3 701.3V697.8M569.3 702.5V700.3M570.3 702.5V700.5" stroke="#ff0000" stroke-width="0.55" fill="none"/>
<path d="M523.4 710.8V715.9M523.8 710.7V711.9M524.3 709.1V715M524.6 709.1V716.2M525.6 710V715.6M526.2 708.9V714.4M527 710.1V716.1M527.5 709.5V714.6M528 709.4V712.9M528.3 710.2V711.7M529 710.3V717.5M529.2 708.7V711.1M530.3 709.5V711.6M530.8 709.5V717.6M531.5 709.5V716.2M531.8 710.5V712.2M532.5 710.1V711.7M532.9 709.2V712.3M533.7 710.1V711M534.9 710.8V714.2M535.2 709.6V714.3M535.9 710.7V715.5M536.2 709.2V711.3M536.7 710.5V716.9M537.2 710.4V712.9M537.9 708.8V717M538.7 710.3V711M539.1 710.8V713.5M539.7 710.8V713.7M540.4 709.1V717.4M540.7 709.9V716.1M541.5 709.7V717.3M541.8 710.4V711.5M542.2 710.3V717.2M542.8 710.2V717M543.3 710V717.1M543.9 710V714.9M544.2 710.7V716.7M545 710.4V715.3M545.4 710.4V713.1M546.2 710.1V712.9M547 709.4V712M547.2 710.8V712.7M548 709V712.4M548.8 708.9V714.2M549.2 708.9V715.4M550 710.9V717.3M550.2 709.9V715.6M550.9 709.7V717.2M551.2 709.6V712.3M551.7 709.9V716.3M552.4 709.2V717.4M552.9 708.7V717.9M553.4 708.9V713.5M553.8 710.8V712.1M554.8 710.6V716.5M555.3 709.5V712.2M555.7 710.2V713.7M556.5 710V713.6M556.8 710.4V717.7M557.3 708.8V715.5M557.8 710.1V714.3M558.3 710.6V714.7M558.8 709.2V712.4M559.1 710.3V714.9M559.8 708.8V714.9M560.4 709.8V714.7M560.9 710.2V714.2M561.2 710.5V713.1M561.6 709.3V712.3M562.3 710V716.7M562.9 710.8V712.9M563.1 709.4V714.3M564 709.8V713.4M564.2 708.9V712.8M565 710.6V713.5M565.3 709.6V717.3M566 710.4V714.8M566.5 710.6V711.5M566.9 709.8V716.4M567.4 710.1V714.6M567.6 709.9V711.7M568.3 710.2V712.3M569.2 708.9V715.3M569.7 709.5V711M571.4 710.8V714.6M571.9 710.3V715.5M573.3 710.5V716.9M573.7 709.5V711.3M574.3 709.3V714.7M575.5 709.7V712.9M575.7 710.6V717.1M576.4 710.3V717.6M576.9 710.9V717.3M577.3 709V717.6M577.9 709.7V713.8M578.3 710.7V711.7M578.7 708.9V716.3M579.7 709.3V713.9M581 710.8V714.2M581.3 709.7V717.6M582.3 710.8V714M582.8 709.3V715.4M583.2 709.3V715.6M583.9 710.6V712.6M584.2 709.3V716M584.8 710.4V711.3M585.9 709.7V716M586.2 708.8V715.1M586.6 708.8V714M587.2 710.9V717M588.3 710.6V714.8M588.7 710.7V713.7M589.8 710.2V716.9M590.7 708.9V714.5M591.5 710.7V715.8M592 709.2V716.6M592.5 710V716.8M592.9 709.1V716.6M593.5 709.9V711.8M593.6 710.1V715.1M594.3 710.8V717.8M594.7 710.9V715M595.4 710.5V714.1M595.9 709.1V717M596.2 709.8V717.1M596.8 709.6V716.3M597.3 709.6V713.1M597.8 708.8V713.9M598.3 709.2V714M598.9 709.8V713.6M599.2 710.2V715.8M600 710.1V716.1M600.4 710.6V715.4M601 708.7V712.3M601.4 709.4V717.3M602 710.9V711.4M602.4 708.8V712M602.9 709.8V714.7M603.5 710.4V715.8M603.8 709.4V716.3M604.5 709V715.6M604.8 709.2V714.7M605.1 709.3V713.9M605.9 709.3V717.3M606.5 709.9V716.8M606.8 710.7V715M607.2 710.4V712.6M607.7 709.4V713.7M608.5 710.4V712.6M609 710.9V717.4M609.3 710V714.7M609.9 710.1V713.4M610.5 710.4V716M611 710.3V715.8M611.4 710.8V713.8M611.7 710.6V712.9M612.4 709.7V716.2M612.8 709.7V715.7M613.5 709.2V716.1M613.8 710.5V714.4M614.7 710.1V717.4M615.5 709V717.3M615.8 709.5V711M616.2 709.8V716.8M616.9 709.8V711M618.2 708.9V716.6M619 709.8V711.6M619.3 710.1V711.6M619.7 710.8V712.9M620.2 709.7V713.8M621 709.3V712.6M621.5 709.8V714.4M621.7 709.4V712.9M622.3 709.2V713.2M622.9 709.2V717.4M623.4 710.7V711.9M623.8 710.4V716.1M624.5 708.9V713.5M624.7 710.8V716.8M625.3 709.2V715.2M626 708.9V717.1M626.4 709.8V715.6M626.9 708.8V713.1M627.3 710.3V712.6M627.9 710.5V713.1M628.5 709.5V717.4M628.9 709.2V717.7M629.2 709V715.1M629.8 709.7V716.7M630.2 708.8V712.2M630.9 709.2V717.6M631.5 709V717M631.9 709V716.2M632.3 710.5V714.3M633 709.5V712.5M633.3 710.1V713.5M633.8 710.7V717.4M634.6 709.4V717.1M635 709.3V711.4M635.7 709.3V717.9M636.4 709.3V711.6M637.3 709.1V711.8M638.3 709V716.8M638.7 710.6V714.2M639.3 710.8V711.4M640 709.1V714M640.5 710.7V712.2M640.8 709V717.8M641.5 709.1V711.4M642 708.8V712.7M642.5 710.8V712.1M642.8 710.1V714.6M643.3 709.4V716.1M643.7 709.3V713M644.3 710V715.9M644.7 710.8V715.5M645.5 710.7V717.6M645.9 710.5V714.6M646.5 710.2V713.2M646.9 710V713.7M647.5 708.7V713M647.8 710.5V716.8M648.4 710.7V712.8M649.3 710.3V716.9M650.1 710V713.3M650.4 709.6V717.8M651.1 710.4V715.1M651.5 709.8V716.7M652.5 710.1V716.8M652.8 710.7V715.2M653.4 710.1V713.4M654 710.9V712.4M654.8 709V717.8M655.5 710.7V711.8M656 710.1V712M656.5 709.9V716.3M656.7 709.1V713.6M657.5 710.4V712.4M658 710.5V712.2M658.6 710.5V717.5M659 709.2V715.6M659.2 708.9V711.2M660.7 709.7V712.4M661.3 710.3V714.9M662 710V717.3M662.5 710.5V713.7M663.2 710.8V715.4M664 709.8V714.8M664.5 710.3V716.8M665.1 709.4V712.9M666 709.9V712.9M666.6 710.7V712.7M666.9 710.8V713.2M667.5 710V714.1M668 708.8V715.6M668.4 710.3V711.5M668.9 709V712.1M669.2 709.3V711.3M670 710.7V711.4M670.4 710.7V713.3M670.7 709.2V717.6M671.5 710.4V715.8M671.9 709.3V717.8M672.3 710.5V713.6M673 709.5V717.3M674 708.9V711.7M675.3 710.1V711.7M676 710.5V714.8M677.3 709.1V715.4M677.7 710.1V716.6M678.4 709.2V713.1M679.1 710V713.3M679.2 709.1V714.7M680 710.9V715.8M680.5 709.1V716.9M681 709.1V711.6M681.8 710.6V717M683 709.2V711M683.6 709.2V716.7M684 709.6V712M684.3 708.8V712.3M684.7 708.8V713.8M685.2 710.7V713.1M685.9 710.9V717.6M686.5 709.4V714.2M686.9 710V714.8M687.4 710.2V717.3M687.7 708.7V717.8M688.5 709.2V712.9M689 710.3V716.2M689.4 710.6V711.4M689.9 709.6V715.8M690.3 708.8V714.9M690.7 709.4V717.9M691.5 710.3V717.2M692 710.4V713.3M692.2 709.8V717.5M692.7 709.8V716M693.4 709.9V715.5M694.5 710.4V711.7M695 709V711.5M695.5 710.7V711.9M695.9 709.2V715.9M696.5 708.9V713.6M696.8 710.9V714.9M697.2 710.1V715.7M697.9 710.7V715.5M698.4 710.6V715.5M698.8 709.6V717.9M699.5 709.4V713.4M699.9 709.6V715.3M700.4 710.5V715.7M701 709V711.4M701.6 710.5V716M702 710.7V716.2M702.5 709.2V714.2M703 710.7V711.9M703.4 710.5V711M704.3 708.9V712.3M704.8 710.2V710.9M705.3 710.8V716.4M705.7 710V712.3M706.3 710V715.2M706.9 709.4V711.8" stroke="#ff0000" stroke-width="0.7" fill="none"/>
<path d="M523.3 741.5 523.8 740.7 524.3 740.6 524.8 741.6 525.3 741.8 525.8 741.6 526.3 741.8 526.8 741.6 527.3 741.5 527.8 741.1 528.3 741.3 528.8 741.6 529.3 741.5 529.8 740.4 530.3 741.6 530.8 741.3 531.3 741.5 531.8 741.1 532.3 741.4 532.8 741.2 533.3 741.7 533.8 741.1 534.3 741.4 534.8 741.5 535.3 741.5 535.8 741 536.3 741.2 536.8 741.9 537.3 741.2 537.8 741.2 538.3 741.2 538.8 741.8 539.3 741.5 539.8 741.5 540.3 741.5 540.8 741.4 541.3 741.6 541.8 741.4 542.3 741.5 542.8 741.3 543.3 741 543.8 741.6 544.3 740.5 544.8 741.2 545.3 741.3 545.8 741.6 546.3 741.3 546.8 741.7 547.3 741.1 547.8 741.7 548.3 741.2 548.8 741.3 549.3 741.5 549.8 741.5 550.3 741.7 550.8 740.5 551.3 741.4 551.8 741.6 552.3 741.5 552.8 741.2 553.3 740.8 553.8 741.6 554.3 741.2 554.8 741.8 555.3 741.4 555.8 741.5 556.3 741.6 556.8 741.4 557.3 741.4 557.8 741.8 558.3 741.6 558.8 741.3 559.3 741.8 559.8 741.8 560.3 741.2 560.8 741.6 561.3 740.7 561.8 741.4 562.3 741.8 562.8 741.4 563.3 740.7 563.8 741.6 564.3 741.4 564.8 741.7 565.3 741.2 565.8 740.7 566.3 741.6 566.8 741.5 567.3 741.7 567.8 741.8 568.3 740.6 568.8 741.6 569.3 741.3 569.8 741.9 570.3 741.3 570.8 741.9 571.3 741.4 571.8 741.2 572.3 741.7 572.8 741.4 573.3 741.1 573.8 741.5 574.3 741.4 574.8 741.8 575.3 741 575.8 741.3 576.3 741.5 576.8 741.6 577.3 741.8 577.8 741.3 578.3 741.8 578.8 741 579.3 741.4 579.8 741.5 580.3 741.8 580.8 741.7 581.3 741.5 581.8 741.6 582.3 741.7 582.8 741.2 583.3 741.6 583.8 741.4 584.3 741.8 584.8 741.4 585.3 741.8 585.8 741.1 586.3 741.8 586.8 741.7 587.3 741.9 587.8 741.7 588.3 741.2 588.8 741.3 589.3 741.3 589.8 741.4 590.3 741.4 590.8 741.2 591.3 741.7 591.8 740.8 592.3 741.3 592.8 741.5 593.3 741.8 593.8 741.1 594.3 741.6 594.8 741.1 595.3 740.8 595.8 741.4 596.3 741.8 596.8 741.2 597.3 741.2 597.8 741.5 598.3 741.1 598.8 741.3 599.3 741.3 599.8 741.2 600.3 741.7 600.8 741.4 601.3 741.3 601.8 741.4 602.3 741.8 602.8 741.2 603.3 741.2 603.8 740.9 604.3 741.3 604.8 741.3 605.3 741.2 605.8 741.5 606.3 741.3 606.8 741.8 607.3 740.9 607.8 741.1 608.3 741.2 608.8 740.8 609.3 741.4 609.8 741.7 610.3 741.2 610.8 741.3 611.3 741.8 611.8 741.7 612.3 741.1 612.8 741.7 613.3 741.8 613.8 741.7 614.3 741.4 614.8 741.6 615.4 741.7 615.9 741.7 616.4 741.2 616.9 741.2 617.4 741.3 617.9 741.6 618.4 741.4 618.9 741.7 619.4 741.7 619.9 741.1 620.4 741.5 620.9 741.6 621.4 741.2 621.9 741.5 622.4 741.7 622.9 741.4 623.4 741.1 623.9 741.9 624.4 741.8 624.9 741.7 625.4 740.8 625.9 741.6 626.4 741.3 626.9 741.3 627.4 741.4 627.9 741.7 628.4 741.1 628.9 741.2 629.4 741.3 629.9 741.6 630.4 741.1 630.9 741.3 631.4 741.9 631.9 741.4 632.4 741.2 632.9 741.4 633.4 741.6 633.9 741.2 634.4 741.3 634.9 741.8 635.4 741.7 635.9 741.8 636.4 741.1 636.9 741.7 637.4 741.7 637.9 741.1 638.4 741.4 638.9 741.6 639.4 741.3 639.9 741.7 640.4 741.2 640.9 741.8 641.4 741.8 641.9 741.5 642.4 741.4 642.9 741.2 643.4 741.7 643.9 741.9 644.4 741.2 644.9 740.7 645.4 741.2 645.9 741.6 646.4 741.2 646.9 741.7 647.4 741.2 647.9 741.2 648.4 741.8 648.9 741.9 649.4 741.4 649.9 741.8 650.4 741.1 650.9 741.1 651.4 741.8 651.9 741.9 652.4 741.1 652.9 741.4 653.4 741.8 653.9 741.2 654.4 741.2 654.9 741.9 655.4 741.9 655.9 741.2 656.4 741.3 656.9 741.3 657.4 741.1 657.9 741.1 658.4 741.2 658.9 741.2 659.4 741.8 659.9 741.9 660.4 741.2 660.9 741.6 661.4 741.9 661.9 741.3 662.4 741.3 662.9 741.7 663.4 741.5 663.9 741.7 664.4 741.2 664.9 741.6 665.4 741.5 665.9 741.3 666.4 741.4 666.9 741.7 667.4 741.1 667.9 741.7 668.4 741.4 668.9 741.3 669.4 741.6 669.9 741.5 670.4 741.2 670.9 741.5 671.4 740.9 671.9 741.3 672.4 741.3 672.9 741.7 673.4 741.7 673.9 741.4 674.4 741 674.9 741.6 675.4 741.8 675.9 741.7 676.4 740.7 676.9 741.4 677.4 741.8 677.9 741.3 678.4 741.6 678.9 741.4 679.4 741.6 679.9 741.5 680.4 741.6 680.9 741.8 681.4 741.1 681.9 741.5 682.4 741.1 682.9 741.6 683.4 741.8 683.9 741.8 684.4 741 684.9 741.2 685.4 741.4 685.9 741.5 686.4 741.9 686.9 741.6 687.4 741 687.9 741.6 688.4 741.2 688.9 741.5 689.4 741.7 689.9 741.5 690.4 741.9 690.9 741.4 691.4 740.8 691.9 741.5 692.4 741.6 692.9 741.5 693.4 741.5 693.9 741.2 694.4 741.8 694.9 741.8 695.4 741.3 695.9 741.8 696.4 741.2 696.9 741.3 697.4 741.3 697.9 741.5 698.4 741.3 698.9 741.3 699.4 741.2 699.9 741.8 700.4 741.7 700.9 741.5 701.4 741 701.9 740.7 702.4 741.4 702.9 741.6 703.4 741.6 703.9 741.4 704.4 741.9 704.9 741.3 705.4 741.5 705.9 741.2 706.4 741.4 706.9 741.6 706.9 749.7 706.4 750.7 705.9 749.2 705.4 749.3 704.9 749.2 704.4 749.9 703.9 750 703.4 750.1 702.9 750.9 702.4 749.6 701.9 749 701.4 749.1 700.9 750.3 700.4 750 699.9 750 699.4 750.7 698.9 749.4 698.4 749.9 697.9 750.4 697.4 749.3 696.9 749.1 696.4 750.5 695.9 750.7 695.4 750 694.9 749.4 694.4 749.2 693.9 749.8 693.4 750.1 692.9 750.2 692.4 749.6 691.9 750.7 691.4 749.6 690.9 749.2 690.4 749.4 689.9 749.6 689.4 748.9 688.9 750.2 688.4 750.4 687.9 750.6 687.4 750.1 686.9 749.3 686.4 750.4 685.9 750.6 685.4 749.3 684.9 750.1 684.4 750.9 683.9 748.8 683.4 748.8 682.9 750.1 682.4 750.4 681.9 748.9 681.4 749.2 680.9 750.2 680.4 750.9 679.9 748.9 679.4 748.7 678.9 750.4 678.4 749 677.9 748.8 677.4 750.2 676.9 749.8 676.4 750.2 675.9 749.6 675.4 750.2 674.9 748.9 674.4 749.3 673.9 750.6 673.4 749.1 672.9 749.3 672.4 749.8 671.9 749.7 671.4 749 670.9 748.8 670.4 750.9 669.9 748.9 669.4 750.4 668.9 750.4 668.4 750.7 667.9 750.4 667.4 749 666.9 749.8 666.4 749.5 665.9 749.4 665.4 750.3 664.9 749.6 664.4 750.6 663.9 749.3 663.4 748.8 662.9 749.4 662.4 748.9 661.9 748.9 661.4 750.2 660.9 749.4 660.4 750.4 659.9 750.7 659.4 748.9 658.9 748.9 658.4 748.9 657.9 749.6 657.4 750 656.9 750.6 656.4 748.9 655.9 748.9 655.4 748.9 654.9 750 654.4 748.8 653.9 749.7 653.4 750.3 652.9 750.3 652.4 748.9 651.9 749.3 651.4 750.8 650.9 749.5 650.4 750 649.9 749.7 649.4 749 648.9 750.5 648.4 749.8 647.9 750.3 647.4 748.8 646.9 749.5 646.4 750.7 645.9 750.7 645.4 749.2 644.9 749.4 644.4 750.8 643.9 750.2 643.4 750.9 642.9 750.7 642.4 749.1 641.9 749.3 641.4 750.1 640.9 750.4 640.4 749.3 639.9 749.2 639.4 750.3 638.9 749.6 638.4 748.9 637.9 750.5 637.4 749.4 636.9 750.3 636.4 750 635.9 749.4 635.4 750.5 634.9 749.6 634.4 750.1 633.9 750.6 633.4 748.8 632.9 748.7 632.4 749.1 631.9 749.2 631.4 750.7 630.9 748.8 630.4 748.7 629.9 750.9 629.4 749.4 628.9 750.2 628.4 749.5 627.9 750.1 627.4 750.4 626.9 750.2 626.4 748.8 625.9 749.1 625.4 749.3 624.9 749.5 624.4 750 623.9 749.5 623.4 748.8 622.9 750.7 622.4 750.7 621.9 749.1 621.4 750.8 620.9 749.3 620.4 749.6 619.9 750.1 619.4 749.5 618.9 750.2 618.4 749.9 617.9 750.2 617.4 749.8 616.9 749.7 616.4 750.4 615.9 748.9 615.4 749.7 614.8 750.7 614.3 749.7 613.8 749.3 613.3 750.5 612.8 749.1 612.3 749.7 611.8 749.6 611.3 749.4 610.8 750.4 610.3 750.3 609.8 750.8 609.3 749.5 608.8 749.3 608.3 749 607.8 748.9 607.3 750.6 606.8 749.4 606.3 749.5 605.8 750.1 605.3 749.3 604.8 749.5 604.3 749 603.8 750.4 603.3 749.9 602.8 750.8 602.3 749.7 601.8 749.1 601.3 749.7 600.8 749.8 600.3 749.4 599.8 750.5 599.3 750.2 598.8 749.3 598.3 748.9 597.8 750.2 597.3 750.8 596.8 749.1 596.3 749.5 595.8 750.5 595.3 750.5 594.8 749.6 594.3 750.4 593.8 749.9 593.3 750.2 592.8 749.7 592.3 749.9 591.8 749.4 591.3 749.3 590.8 750.7 590.3 749.1 589.8 750 589.3 749.2 588.8 749.2 588.3 749.4 587.8 749.4 587.3 749.7 586.8 749.7 586.3 749.2 585.8 750.6 585.3 749.5 584.8 748.8 584.3 750.4 583.8 748.7 583.3 750.2 582.8 750.8 582.3 750.2 581.8 749.4 581.3 750.5 580.8 749.5 580.3 749.3 579.8 748.8 579.3 750.9 578.8 749.9 578.3 750.7 577.8 749 577.3 750.4 576.8 749.6 576.3 750.5 575.8 750.7 575.3 750.3 574.8 749.1 574.3 748.9 573.8 750 573.3 750.1 572.8 750.7 572.3 748.8 571.8 749.2 571.3 749.7 570.8 749.3 570.3 749.3 569.8 750.2 569.3 749.4 568.8 749.6 568.3 749.9 567.8 749.1 567.3 750.1 566.8 749.6 566.3 748.9 565.8 749.7 565.3 749.3 564.8 750.5 564.3 749.6 563.8 749 563.3 750 562.8 750.8 562.3 750.1 561.8 750.6 561.3 749.1 560.8 749.8 560.3 748.7 559.8 748.8 559.3 749.3 558.8 748.9 558.3 749.6 557.8 750.7 557.3 749.8 556.8 749.6 556.3 749.1 555.8 749.1 555.3 749.3 554.8 749.5 554.3 750.3 553.8 749.3 553.3 750.8 552.8 749.7 552.3 750.5 551.8 750.1 551.3 750.3 550.8 749.4 550.3 749.3 549.8 748.9 549.3 750 548.8 750.8 548.3 749.6 547.8 750.4 547.3 749.3 546.8 749.2 546.3 750 545.8 749.1 545.3 749.6 544.8 749.6 544.3 750.1 543.8 750.5 543.3 749.5 542.8 749.8 542.3 749.6 541.8 748.9 541.3 750.6 540.8 748.7 540.3 750.5 539.8 749.6 539.3 750.4 538.8 748.8 538.3 749.6 537.8 750 537.3 749.8 536.8 749.7 536.3 750.1 535.8 749.6 535.3 750.4 534.8 750 534.3 750.4 533.8 749.1 533.3 749.4 532.8 749.6 532.3 749.3 531.8 749.6 531.3 750.8 530.8 750.5 530.3 749.1 529.8 750.3 529.3 749.5 528.8 749.6 528.3 750.8 527.8 749.4 527.3 750.7 526.8 750.1 526.3 749.2 525.8 750.7 525.3 749.3 524.8 750.6 524.3 750.6 523.8 748.9 523.3 750.7Z" fill="#000000"/>
<path d="M524.3 741.1 524.8 742 525.3 742.2 525.8 742 526.3 742.2 526.8 742 527.3 741.8 527.8 741.5 528.3 741.6 528.8 741.9 529.3 741.7 529.8 740.6 530.3 741.9 530.8 741.5 531.3 741.6 531.8 741.3 532.3 741.5 532.8 741.2 533.3 741.7 533.8 741 534.3 741.3 534.8 741.4 535.3 741.3 535.8 740.8 536.3 740.8 536.8 741.5 537.3 740.7 537.8 740.7 538.3 740.5 538.8 741 539.3 740.6 539.8 740.4 540.3 740.2 540.8 740 541.3 740 541.8 739.6 542.3 739.4 542.8 738.9 543.3 738.2 543.8 738.4 544.3 736.8 544.8 737 545.3 736.3 545.8 735.8 546.3 734.6 546.8 733.9 547.3 732 547.8 731.1 548.3 728.9 548.8 727.2 549.3 725.5 549.8 723.9 550.3 722.7 550.8 720.9 551.3 722 551.8 723.1 552.3 724.5 552.8 726 553.3 727.4 553.8 730 554.3 731.2 554.8 733.2 555.3 734 555.8 735.2 556.3 736.2 556.8 736.8 557.3 737.4 557.8 738.2 558.3 738.6 558.8 738.7 559.3 739.5 559.8 739.8 560.3 739.4 560.8 740.1 561.3 739.3 561.8 740.3 562.3 740.8 562.8 740.6 563.3 739.9 563.8 741 564.3 740.9 564.8 741.3 565.3 740.8 565.8 740.4 566.3 741.4 566.8 741.3 567.3 741.6 567.8 741.8 568.3 740.5 568.8 741.6 569.3 741.4 569.8 742 570.3 741.5 570.8 742 571.3 741.6 571.8 741.5 572.3 741.9 572.8 741.7 573.3 741.4 573.8 741.8 574.3 741.8 574.8 742.2 575.3 741.4 575.8 741.7 576.3 741.9 576.8 742.1 577.3 742.3 577.3 743.3 576.8 743.1 576.3 743 575.8 742.8 575.3 742.5 574.8 743.3 574.3 742.9 573.8 743 573.3 742.6 572.8 742.9 572.3 743.2 571.8 742.7 571.3 742.9 570.8 743.4 570.3 742.8 569.8 743.4 569.3 742.8 568.8 743.1 568.3 742.1 567.8 743.3 567.3 743.2 566.8 743 566.3 743.1 565.8 742.2 565.3 742.7 564.8 743.2 564.3 742.9 563.8 743.1 563.3 742.2 562.8 742.9 562.3 743.3 561.8 742.9 561.3 742.2 560.8 743.1 560.3 742.7 559.8 743.3 559.3 743.3 558.8 742.8 558.3 743.1 557.8 743.3 557.3 742.9 556.8 742.9 556.3 743.1 555.8 743 555.3 742.9 554.8 743.3 554.3 742.7 553.8 743.1 553.3 742.3 552.8 742.7 552.3 743 551.8 743.1 551.3 742.9 550.8 742 550.3 743.2 549.8 743 549.3 743 548.8 742.8 548.3 742.7 547.8 743.2 547.3 742.6 546.8 743.2 546.3 742.8 545.8 743.1 545.3 742.8 544.8 742.7 544.3 742 543.8 743.1 543.3 742.5 542.8 742.8 542.3 743 541.8 742.9 541.3 743.1 540.8 742.9 540.3 743 539.8 743 539.3 743 538.8 743.3 538.3 742.7 537.8 742.7 537.3 742.7 536.8 743.4 536.3 742.7 535.8 742.5 535.3 743 534.8 743 534.3 742.9 533.8 742.6 533.3 743.2 532.8 742.7 532.3 742.9 531.8 742.6 531.3 743 530.8 742.8 530.3 743.1 529.8 741.9 529.3 743 528.8 743.1 528.3 742.8 527.8 742.6 527.3 743 526.8 743.1 526.3 743.3 525.8 743.1 525.3 743.3 524.8 743.1 524.3 742.1Z" fill="#000000" fill-opacity="0.4"/>
<path d="M524.3 741.1 524.8 742.1 525.3 742.3 525.8 742.1 526.3 742.3 526.8 742.1 527.3 742 527.8 741.6 528.3 741.8 528.8 742.1 529.3 742 529.8 740.9 530.3 742.1 530.8 741.8 531.3 742 531.8 741.6 532.3 741.9 532.8 741.7 533.3 742.2 533.8 741.6 534.3 741.9 534.8 742 535.3 742 535.8 741.5 536.3 741.7 536.8 742.4 537.3 741.7 537.8 741.7 538.3 741.7 538.8 742.3 539.3 742 539.8 742 540.3 742 540.8 741.9 541.3 742.1 541.8 741.9 542.3 742 542.8 741.8 543.3 741.5 543.8 742.1 544.3 741 544.8 741.7 545.3 741.6 545.8 741.8 546.3 741.4 546.8 741.5 547.3 740.5 547.8 740.2 548.3 738.2 548.8 735.9 549.3 732.6 549.8 728.2 550.3 724.2 550.8 720.6 551.3 722.2 551.8 725.7 552.3 730.1 552.8 733.9 553.3 736.5 553.8 739.3 554.3 740.1 554.8 741.4 555.3 741.3 555.8 741.7 556.3 742 556.8 741.8 557.3 741.8 557.8 742.2 558.3 742.1 558.8 741.8 559.3 742.3 559.8 742.3 560.3 741.7 560.8 742.1 561.3 741.2 561.8 741.9 562.3 742.3 562.8 741.9 563.3 741.2 563.8 742.1 564.3 741.9 564.8 742.2 565.3 741.7 565.8 741.2 566.3 742.1 566.8 742 567.3 742.2 567.8 742.3 568.3 741.1 568.8 742.1 569.3 741.8 569.8 742.4 570.3 741.8 570.8 742.4 571.3 741.9 571.8 741.7 572.3 742.2 572.8 741.9 573.3 741.6 573.8 742 574.3 741.9 574.8 742.3 575.3 741.5 575.8 741.8 576.3 742 576.8 742.1 577.3 742.3 577.3 743.3 576.8 743.1 576.3 743 575.8 742.8 575.3 742.5 574.8 743.3 574.3 742.9 573.8 743 573.3 742.6 572.8 742.9 572.3 743.2 571.8 742.7 571.3 742.9 570.8 743.4 570.3 742.8 569.8 743.4 569.3 742.8 568.8 743.1 568.3 742.1 567.8 743.3 567.3 743.2 566.8 743 566.3 743.1 565.8 742.2 565.3 742.7 564.8 743.2 564.3 742.9 563.8 743.1 563.3 742.2 562.8 742.9 562.3 743.3 561.8 742.9 561.3 742.2 560.8 743.1 560.3 742.7 559.8 743.3 559.3 743.3 558.8 742.8 558.3 743.1 557.8 743.3 557.3 742.9 556.8 742.9 556.3 743.1 555.8 743 555.3 742.9 554.8 743.3 554.3 742.7 553.8 743.1 553.3 742.3 552.8 742.7 552.3 743 551.8 743.1 551.3 742.9 550.8 742 550.3 743.2 549.8 743 549.3 743 548.8 742.8 548.3 742.7 547.8 743.2 547.3 742.6 546.8 743.2 546.3 742.8 545.8 743.1 545.3 742.8 544.8 742.7 544.3 742 543.8 743.1 543.3 742.5 542.8 742.8 542.3 743 541.8 742.9 541.3 743.1 540.8 742.9 540.3 743 539.8 743 539.3 743 538.8 743.3 538.3 742.7 537.8 742.7 537.3 742.7 536.8 743.4 536.3 742.7 535.8 742.5 535.3 743 534.8 743 534.3 742.9 533.8 742.6 533.3 743.2 532.8 742.7 532.3 742.9 531.8 742.6 531.3 743 530.8 742.8 530.3 743.1 529.8 741.9 529.3 743 528.8 743.1 528.3 742.8 527.8 742.6 527.3 743 526.8 743.1 526.3 743.3 525.8 743.1 525.3 743.3 524.8 743.1 524.3 742.1Z" fill="#000000"/>
<path d="M535.8 742V740M537.3 742.2V740.1M537.8 742.2V740M542.8 742.3V738.5M544.8 742.2V737.2M546.3 742.3V734.6M546.8 742.7V733.9M548.3 742.2V729M550.3 742.7V723.2M552.3 742.5V724.2M552.8 742.2V726.5M553.8 742.6V733.4M559.3 742.8V739.2M559.8 742.8V739.2M560.3 742.2V739.5M564.3 742.4V740.4M565.8 741.7V739.7" stroke="#000000" stroke-width="0.55" fill="none"/>
<path d="M523.4 749.7V757.7M524 747.9V753.4M524.1 749.6V754.2M524.9 749.6V758.1M525.4 748.3V752.8M526 749.7V757.9M526.8 749.1V757.2M527.2 749.7V757.5M528 748.4V753.4M528.2 749.8V751.4M528.8 748.6V754.1M529.1 748.5V751.2M529.9 749.3V752.4M530.7 749.5V751M531.3 749.8V751.8M531.8 748.6V751.2M532.4 748.3V758.7M532.8 748.6V750.6M533.3 748.4V753.7M533.9 748.1V756.5M534.3 749.4V753.9M535 749V758.9M535.5 749.4V753.3M535.7 748.6V754.6M536.3 749.1V757.7M536.7 748.7V758.4M537.3 748.8V751.1M537.8 749V758.1M538.3 748.6V758M538.6 747.8V753.4M539.1 749.4V753.8M539.8 748.6V755.5M540.3 749.5V752.2M540.8 747.7V757.2M541.3 749.6V750.8M541.7 747.9V755.2M542.5 748.6V754.1M542.9 748.8V750.6M543.1 748.5V756.1M543.8 749.5V758.4M544.1 749.1V756.7M544.7 748.6V756.9M545.4 748.6V753.6M546 748.1V756.3M546.4 749V753.3M546.8 748.2V750.9M547.3 748.3V753.9M547.7 749.4V752.2M548.2 748.6V754.1M549 749.8V756.8M549.7 747.9V752.8M550.3 748.3V750.4M550.8 748.4V753.4M551.7 749.1V757.3M552.2 749.5V750.3M552.8 748.7V751.5M553.2 749.8V750.7M553.7 748.3V756.4M555 748.5V758.3M555.1 748.3V751.6M555.8 748.1V757.7M556.2 748.1V750.5M556.9 748.6V754.9M557.2 748.8V757M557.8 749.7V752.4M558.2 748.6V756.8M558.7 747.9V752.2M559.4 748.3V752.1M559.9 747.8V753M560.5 747.7V755.6M560.8 748.8V752.3M561.2 748.1V757.8M561.9 749.6V753.9M563 749.8V756.6M563.3 749V755.6M563.8 748V754.2M564.3 748.6V758.5M564.7 749.5V756.9M565.3 748.3V753.4M565.8 748.7V753.1M566.5 747.9V758M566.7 748.6V755.3M568 748.1V754.4M568.4 748.9V752.4M569 748.6V758.6M569.5 748.4V758.5M569.8 749.2V750.5M571 748.3V758.6M571.4 748.7V755.4M571.9 748.2V753.7M572.9 749.7V757.7M573.5 749.1V755.3M574.3 747.9V750M574.8 748.1V751.2M575.5 749.3V755.9M575.8 749.7V755.4M576.2 749.5V755.9M576.9 748.6V753.3M577.2 749.4V751.5M577.8 748V757.8M578.7 748.9V756.2M579.4 749.9V758.2M579.7 747.8V755.5M581 748.5V756.9M581.3 749.5V756M581.9 748.4V755.9M582.5 749.2V758.3M582.9 749.8V752.1M583.7 747.7V755.7M584.7 747.8V755.1M585.3 748.5V751.6M585.9 749.6V750.5M586.3 748.2V755.9M586.8 748.7V753.5M588.2 748.4V749.9M589 748.2V750.7M589.4 748.2V751.1M589.9 749V758.8M590.2 748.1V758.7M591 749.7V752.9M591.2 748.3V757.3M592 748.4V757.7M592.2 748.9V757.9M592.9 748.7V752.8M593.4 749.2V756.6M593.7 748.9V753.6M594.3 749.4V751.8M594.9 748.6V754.3M595.8 749.5V755M596.5 748.5V757.7M596.9 748.1V757.8M598 749.2V755.3M598.5 747.9V751.5M599 748.3V757M599.4 749.2V755.8M599.8 749.5V755.3M601 748.8V751.2M601.8 748.1V754M602.8 749.8V756M604 749.4V755.4M604.2 748V753.9M604.7 748.5V758.6M605.3 748.3V756.6M605.8 749.1V751.3M606.4 748.5V754.8M607 748.4V756.6M607.9 747.9V751.8M608.3 748V751.6M609.5 748.5V757.3M609.9 749.8V754.2M610.2 749.3V758.6M611 749.4V758M611.3 748.4V755.6M611.9 748.6V753M612.4 748.7V750.1M612.7 748.1V752.3M613.2 749.5V757.5M613.8 748.3V751.1M614.4 748.7V751.2M615.2 748.7V755.8M615.8 747.9V751.2M616.5 749.4V755.2M616.8 748.7V758.7M617.5 748.8V756M618.4 748.9V751M618.9 749.2V755.6M619.2 748.5V755.5M619.7 749.1V755.7M620.2 748.6V751.5M621 748.3V751.9M621.3 749.8V758.4M621.9 748.1V757.1M622.4 749.7V751.5M622.7 749.7V756.1M623.5 747.8V753.2M623.7 748.5V752.6M624.9 748.5V753.8M625.3 748.3V757.2M625.7 748.1V756.1M626.2 747.8V752.7M626.8 749.2V758.5M627.5 749.4V758.1M627.7 749.1V754.5M628.2 748.5V756M628.8 749.2V755.6M629.2 748.4V757.8M629.8 749.9V752.8M630.4 747.7V754.9M630.7 747.8V751.9M631.4 749.7V754.2M631.9 748.2V758.7M632.5 748.1V754.3M633 747.7V754.3M633.4 747.8V756M634.2 749.1V758M635.2 749.5V757.1M635.9 748.4V753.8M636.5 749V753.5M637.5 748.4V753.5M638 749.5V754.2M638.3 747.9V755M638.9 748.6V752.9M639.3 749.3V751.7M640 748.2V751.5M640.9 749.4V751.8M641.5 749.1V755.2M641.9 748.3V753.6M642.4 748.1V753.8M642.7 749.7V755.1M643.5 749.9V755.9M643.8 749.2V756.2M644.7 748.4V755.8M645.2 748.2V750.3M645.9 749.7V754.5M646.4 749.7V753.2M646.8 748.5V758.6M647.4 747.8V755.6M648 749.3V756.8M648.5 748.8V757.3M648.9 749.5V751.6M649.5 748V754.8M649.7 748.7V750.7M650.4 749V757.1M650.8 748.5V757.6M651.4 749.8V750.9M652.4 747.9V755.7M653.2 749.3V756.7M653.8 748.7V755.3M654.5 747.8V756.9M654.9 749V757.7M655.5 747.9V757.4M655.9 747.9V758.5M656.2 747.9V750.5M656.7 749.6V758.6M657.2 749V756.8M658.1 748.6V755.9M658.7 747.9V754.4M659.2 747.9V756.9M659.8 749.7V750.9M660.3 749.4V754.7M660.8 748.4V758.8M662 747.9V752.2M662.4 747.9V754.4M663 748.4V755.5M663.5 747.8V757.5M664.5 749.6V757.3M664.7 748.6V758.8M665.2 749.3V750.7M666 748.4V754.7M666.4 748.5V751.9M666.9 748.8V751.4M667.5 748V755.7M667.8 749.4V750.9M668.2 749.7V757.3M668.8 749.4V754.7M669.2 749.4V756.4M669.7 747.9V756.2M670.5 749.9V750.9M671 747.8V750.4M671.5 748V756.4M672.1 748.7V757.1M672.5 748.8V751.9M672.9 748.3V751.7M673.3 748.1V752.7M673.7 749.6V752.3M674.5 748.3V751.3M674.7 747.9V750.3M675.4 749.2V753.6M676.7 748.8V755.3M677.5 749.2V757.4M677.8 747.8V758.5M678.3 748V754.7M680 747.9V758.8M680.3 749.9V753.8M681 749.2V754.7M682.3 749.4V757M682.9 749.1V750.9M683.4 747.8V756.3M683.8 747.8V750.3M684.5 749.9V756.6M685.1 749.1V754.9M685.4 748.3V752.5M685.7 749.6V753M687 748.3V758.8M687.3 749.1V752.8M687.8 749.6V752M688.2 749.4V755.2M688.9 749.2V758.6M690 748.6V754M690.6 748.4V752.2M691.9 749.7V753M692.4 748.6V751.2M692.9 749.2V755.4M693.5 749.1V758.6M694.1 748.8V754.8M694.3 748.2V750.3M695.1 748.4V758.8M695.3 749V757.9M696 749.7V751.9M696.3 749.5V752.2M697.1 748.1V755.6M697.2 748.3V753M697.8 749.4V751.4M698.5 748.9V753.6M698.8 748.4V752M699.6 749.7V755.9M699.9 749V756.3M700.2 749V757.6M700.7 749.3V756.5M701.6 748.1V758.9M701.9 748V754.3M703.2 749.1V757.1M704 749V755.2M704.4 748.9V758.4M705 748.2V754.4M705.5 748.3V756.5M706.6 749.7V752.8M707.1 748.7V757.1" stroke="#000000" stroke-width="0.7" fill="none"/>
<line x1="510.60" y1="611.30" x2="514.10" y2="611.30" stroke="#1a1a1a" stroke-width="0.9"/>
<line x1="510.60" y1="631.90" x2="514.10" y2="631.90" stroke="#1a1a1a" stroke-width="0.9"/>
<line x1="510.60" y1="652.50" x2="514.10" y2="652.50" stroke="#1a1a1a" stroke-width="0.9"/>
<line x1="510.60" y1="673.10" x2="514.10" y2="673.10" stroke="#1a1a1a" stroke-width="0.9"/>
<line x1="510.60" y1="693.70" x2="514.10" y2="693.70" stroke="#1a1a1a" stroke-width="0.9"/>
<line x1="510.60" y1="714.30" x2="514.10" y2="714.30" stroke="#1a1a1a" stroke-width="0.9"/>
<line x1="510.60" y1="734.90" x2="514.10" y2="734.90" stroke="#1a1a1a" stroke-width="0.9"/>
<line x1="510.60" y1="755.50" x2="514.10" y2="755.50" stroke="#1a1a1a" stroke-width="0.9"/>
<line x1="523.30" y1="762.70" x2="523.30" y2="759.70" stroke="#1a1a1a" stroke-width="0.9"/>
<line x1="584.50" y1="762.70" x2="584.50" y2="759.70" stroke="#1a1a1a" stroke-width="0.9"/>
<line x1="645.70" y1="762.70" x2="645.70" y2="759.70" stroke="#1a1a1a" stroke-width="0.9"/>
<line x1="706.90" y1="762.70" x2="706.90" y2="759.70" stroke="#1a1a1a" stroke-width="0.9"/>
<rect x="510.60" y="603.00" width="208.90" height="159.70" fill="none" stroke="#1a1a1a" stroke-width="1.0"/>
<text x="523.30" y="775.60" font-size="11.5" fill="#151515" stroke="#151515" stroke-width="0.2" text-anchor="middle" textLength="28.90" lengthAdjust="spacing">1200</text>
<text x="584.50" y="775.60" font-size="11.5" fill="#151515" stroke="#151515" stroke-width="0.2" text-anchor="middle" textLength="28.90" lengthAdjust="spacing">1250</text>
<text x="645.70" y="775.60" font-size="11.5" fill="#151515" stroke="#151515" stroke-width="0.2" text-anchor="middle" textLength="28.90" lengthAdjust="spacing">1300</text>
<text x="706.90" y="775.60" font-size="11.5" fill="#151515" stroke="#151515" stroke-width="0.2" text-anchor="middle" textLength="28.90" lengthAdjust="spacing">1350</text>
<text x="537.90" y="796.60" font-size="16" fill="#151515" stroke="#151515" stroke-width="0.2" textLength="145.50" lengthAdjust="spacing">W avelength (nm)</text>
<text x="501.40" y="764.50" font-size="16" fill="#151515" stroke="#151515" stroke-width="0.2" textLength="149.00" lengthAdjust="spacing" transform="rotate(-90 501.40 764.50)">Spectral power (dBm)</text>
<path d="M530.70,607.40 H526.90 V626.90 H530.70" fill="none" stroke="#111" stroke-width="2"/>
<text x="538.50" y="623.10" font-size="16.5" fill="#151515" stroke="#151515" stroke-width="0.2" textLength="61.80" lengthAdjust="spacing">40dBm</text>
<line x1="620.60" y1="610.10" x2="656.10" y2="610.10" stroke="#5050f0" stroke-width="0.75"/>
<text x="660.80" y="614.40" font-size="13.5" fill="#151515" stroke="#151515" stroke-width="0.2" textLength="47.20" lengthAdjust="spacing">110 mA</text>
<line x1="620.60" y1="625.50" x2="656.10" y2="625.50" stroke="#f05a5a" stroke-width="0.75"/>
<text x="660.80" y="629.00" font-size="13.5" fill="#151515" stroke="#151515" stroke-width="0.2" textLength="39.60" lengthAdjust="spacing">90 mA</text>
<line x1="620.60" y1="640.40" x2="656.10" y2="640.40" stroke="#505050" stroke-width="0.75"/>
<text x="660.80" y="644.40" font-size="13.5" fill="#151515" stroke="#151515" stroke-width="0.2" textLength="39.60" lengthAdjust="spacing">70 mA</text>
<line x1="488.00" y1="840.60" x2="495.00" y2="840.60" stroke="#1a1a1a" stroke-width="1.0"/>
<line x1="488.00" y1="796.14" x2="495.00" y2="796.14" stroke="#1a1a1a" stroke-width="1.0"/>
<line x1="488.00" y1="751.68" x2="495.00" y2="751.68" stroke="#1a1a1a" stroke-width="1.0"/>
<line x1="488.00" y1="707.22" x2="495.00" y2="707.22" stroke="#1a1a1a" stroke-width="1.0"/>
<line x1="488.00" y1="662.76" x2="495.00" y2="662.76" stroke="#1a1a1a" stroke-width="1.0"/>
<line x1="488.00" y1="618.30" x2="495.00" y2="618.30" stroke="#1a1a1a" stroke-width="1.0"/>
<line x1="515.30" y1="856.00" x2="515.30" y2="850.70" stroke="#1a1a1a" stroke-width="1.0"/>
<line x1="570.18" y1="856.00" x2="570.18" y2="850.70" stroke="#1a1a1a" stroke-width="1.0"/>
<line x1="625.06" y1="856.00" x2="625.06" y2="850.70" stroke="#1a1a1a" stroke-width="1.0"/>
<line x1="679.94" y1="856.00" x2="679.94" y2="850.70" stroke="#1a1a1a" stroke-width="1.0"/>
<line x1="734.82" y1="856.00" x2="734.82" y2="850.70" stroke="#1a1a1a" stroke-width="1.0"/>
<line x1="789.70" y1="856.00" x2="789.70" y2="850.70" stroke="#1a1a1a" stroke-width="1.0"/>
<rect x="488.00" y="603.00" width="330.30" height="253.00" fill="none" stroke="#1a1a1a" stroke-width="1.1"/>
<text x="477.70" y="844.80" font-size="15.5" fill="#151515" stroke="#151515" stroke-width="0.2" text-anchor="end">0</text>
<text x="477.70" y="800.34" font-size="15.5" fill="#151515" stroke="#151515" stroke-width="0.2" text-anchor="end">3</text>
<text x="477.70" y="755.88" font-size="15.5" fill="#151515" stroke="#151515" stroke-width="0.2" text-anchor="end">6</text>
<text x="477.70" y="711.42" font-size="15.5" fill="#151515" stroke="#151515" stroke-width="0.2" text-anchor="end">9</text>
<text x="477.70" y="666.96" font-size="15.5" fill="#151515" stroke="#151515" stroke-width="0.2" text-anchor="end" textLength="16.00" lengthAdjust="spacing">12</text>
<text x="477.70" y="622.50" font-size="15.5" fill="#151515" stroke="#151515" stroke-width="0.2" text-anchor="end" textLength="16.00" lengthAdjust="spacing">15</text>
<text x="514.10" y="874.50" font-size="15.5" fill="#151515" stroke="#151515" stroke-width="0.2" text-anchor="middle">0</text>
<text x="568.98" y="874.50" font-size="15.5" fill="#151515" stroke="#151515" stroke-width="0.2" text-anchor="middle" textLength="17.90" lengthAdjust="spacing">20</text>
<text x="623.86" y="874.50" font-size="15.5" fill="#151515" stroke="#151515" stroke-width="0.2" text-anchor="middle" textLength="17.90" lengthAdjust="spacing">40</text>
<text x="678.74" y="874.50" font-size="15.5" fill="#151515" stroke="#151515" stroke-width="0.2" text-anchor="middle" textLength="17.90" lengthAdjust="spacing">60</text>
<text x="733.62" y="874.50" font-size="15.5" fill="#151515" stroke="#151515" stroke-width="0.2" text-anchor="middle" textLength="17.90" lengthAdjust="spacing">80</text>
<text x="788.50" y="874.50" font-size="15.5" fill="#151515" stroke="#151515" stroke-width="0.2" text-anchor="middle" textLength="27.20" lengthAdjust="spacing">100</text>
<text x="452.50" y="819.60" font-size="20" fill="#151515" stroke="#151515" stroke-width="0.2" textLength="167.60" lengthAdjust="spacing" transform="rotate(-90 452.50 819.60)">Output power (mW)</text>
<path d="M573.4 840.0L580.7 839.9M587.1 839.9L594.4 839.9M600.8 839.9L608.1 839.9M614.5 839.9L621.9 839.9M628.3 839.9L635.6 839.9M642.0 839.9L649.3 839.9M655.7 839.9L663.0 839.9M669.4 839.8L676.7 839.7M683.1 839.5L690.5 838.9M703.2 830.3L706.1 824.0M708.5 818.1L719.9 788.9M722.3 782.9L733.6 754.8M736.1 748.9L747.3 723.2M749.9 717.4L760.9 694.4M763.6 688.6L774.6 665.6M777.9 660.2L787.7 647.5M792.1 642.9L801.0 635.2" fill="none" stroke="#333" stroke-width="0.6"/>
<rect x="512.30" y="837.96" width="6.0" height="4.4" fill="#000"/>
<rect x="513.67" y="837.96" width="6.0" height="4.4" fill="#000"/>
<rect x="515.04" y="837.96" width="6.0" height="4.4" fill="#000"/>
<rect x="516.42" y="837.96" width="6.0" height="4.4" fill="#000"/>
<rect x="517.79" y="837.96" width="6.0" height="4.4" fill="#000"/>
<rect x="519.16" y="837.96" width="6.0" height="4.4" fill="#000"/>
<rect x="520.53" y="837.96" width="6.0" height="4.4" fill="#000"/>
<rect x="521.90" y="837.96" width="6.0" height="4.4" fill="#000"/>
<rect x="523.28" y="837.96" width="6.0" height="4.4" fill="#000"/>
<rect x="524.65" y="837.96" width="6.0" height="4.4" fill="#000"/>
<rect x="526.02" y="837.96" width="6.0" height="4.4" fill="#000"/>
<rect x="527.39" y="837.96" width="6.0" height="4.4" fill="#000"/>
<rect x="532.88" y="837.81" width="6.0" height="4.4" fill="#000"/>
<rect x="539.74" y="837.81" width="6.0" height="4.4" fill="#000"/>
<rect x="546.60" y="837.81" width="6.0" height="4.4" fill="#000"/>
<rect x="553.46" y="837.81" width="6.0" height="4.4" fill="#000"/>
<rect x="560.32" y="837.81" width="6.0" height="4.4" fill="#000"/>
<rect x="567.18" y="837.81" width="6.0" height="4.4" fill="#000"/>
<rect x="580.90" y="837.66" width="6.0" height="4.4" fill="#000"/>
<rect x="594.62" y="837.66" width="6.0" height="4.4" fill="#000"/>
<rect x="608.34" y="837.66" width="6.0" height="4.4" fill="#000"/>
<rect x="622.06" y="837.66" width="6.0" height="4.4" fill="#000"/>
<rect x="635.78" y="837.66" width="6.0" height="4.4" fill="#000"/>
<rect x="649.50" y="837.66" width="6.0" height="4.4" fill="#000"/>
<rect x="663.22" y="837.66" width="6.0" height="4.4" fill="#000"/>
<rect x="676.94" y="837.51" width="6.0" height="4.4" fill="#000"/>
<rect x="690.66" y="836.47" width="6.0" height="4.4" fill="#000"/>
<rect x="693.40" y="833.95" width="6.0" height="4.4" fill="#000"/>
<rect x="696.15" y="832.32" width="6.0" height="4.4" fill="#000"/>
<rect x="698.89" y="830.99" width="6.0" height="4.4" fill="#000"/>
<rect x="704.38" y="818.84" width="6.0" height="4.4" fill="#000"/>
<rect x="718.10" y="783.71" width="6.0" height="4.4" fill="#000"/>
<rect x="731.82" y="749.63" width="6.0" height="4.4" fill="#000"/>
<rect x="745.54" y="718.06" width="6.0" height="4.4" fill="#000"/>
<rect x="759.26" y="689.31" width="6.0" height="4.4" fill="#000"/>
<rect x="772.98" y="660.56" width="6.0" height="4.4" fill="#000"/>
<rect x="786.70" y="642.78" width="6.0" height="4.4" fill="#000"/>
<rect x="800.42" y="630.92" width="6.0" height="4.4" fill="#000"/>
<text x="788.90" y="621.80" font-size="19.5" fill="#151515" stroke="#151515" stroke-width="0.2" textLength="25.00" lengthAdjust="spacing">(f)</text>
<text x="769.30" y="719.30" font-size="20" fill="#1515b4" stroke="#1515b4" stroke-width="0.2" textLength="26.90" lengthAdjust="spacing">ES</text>
<text x="729.70" y="783.00" font-size="20" fill="#151515" stroke="#151515" stroke-width="0.2" textLength="83.20" lengthAdjust="spacing">p-doped</text>
<text x="730.50" y="831.00" font-size="19" fill="#151515" stroke="#151515" stroke-width="0.2" textLength="77.00" lengthAdjust="spacing">350 µm</text>
<text x="109.60" y="894.80" font-size="20.5" fill="#151515" stroke="#151515" stroke-width="0.2" textLength="88.90" lengthAdjust="spacing">Injection</text>
<text x="207.40" y="894.80" font-size="20.5" fill="#151515" stroke="#151515" stroke-width="0.2" textLength="71.80" lengthAdjust="spacing">current</text>
<text x="286.40" y="894.80" font-size="20.5" fill="#151515" stroke="#151515" stroke-width="0.2">(</text>
<text x="294.00" y="894.80" font-size="20.5" fill="#151515" stroke="#151515" stroke-width="0.2">m</text>
<text x="314.30" y="894.80" font-size="20.5" fill="#151515" stroke="#151515" stroke-width="0.2">A</text>
<text x="332.00" y="894.80" font-size="20.5" fill="#151515" stroke="#151515" stroke-width="0.2">)</text>
<text x="537.00" y="894.60" font-size="20.5" fill="#151515" stroke="#151515" stroke-width="0.2" textLength="88.90" lengthAdjust="spacing">Injection</text>
<text x="634.80" y="894.60" font-size="20.5" fill="#151515" stroke="#151515" stroke-width="0.2" textLength="71.80" lengthAdjust="spacing">current</text>
<text x="713.80" y="894.60" font-size="20.5" fill="#151515" stroke="#151515" stroke-width="0.2">(</text>
<text x="721.40" y="894.60" font-size="20.5" fill="#151515" stroke="#151515" stroke-width="0.2">m</text>
<text x="741.70" y="894.60" font-size="20.5" fill="#151515" stroke="#151515" stroke-width="0.2">A</text>
<text x="759.40" y="894.60" font-size="20.5" fill="#151515" stroke="#151515" stroke-width="0.2">)</text>
</svg></body></html>
